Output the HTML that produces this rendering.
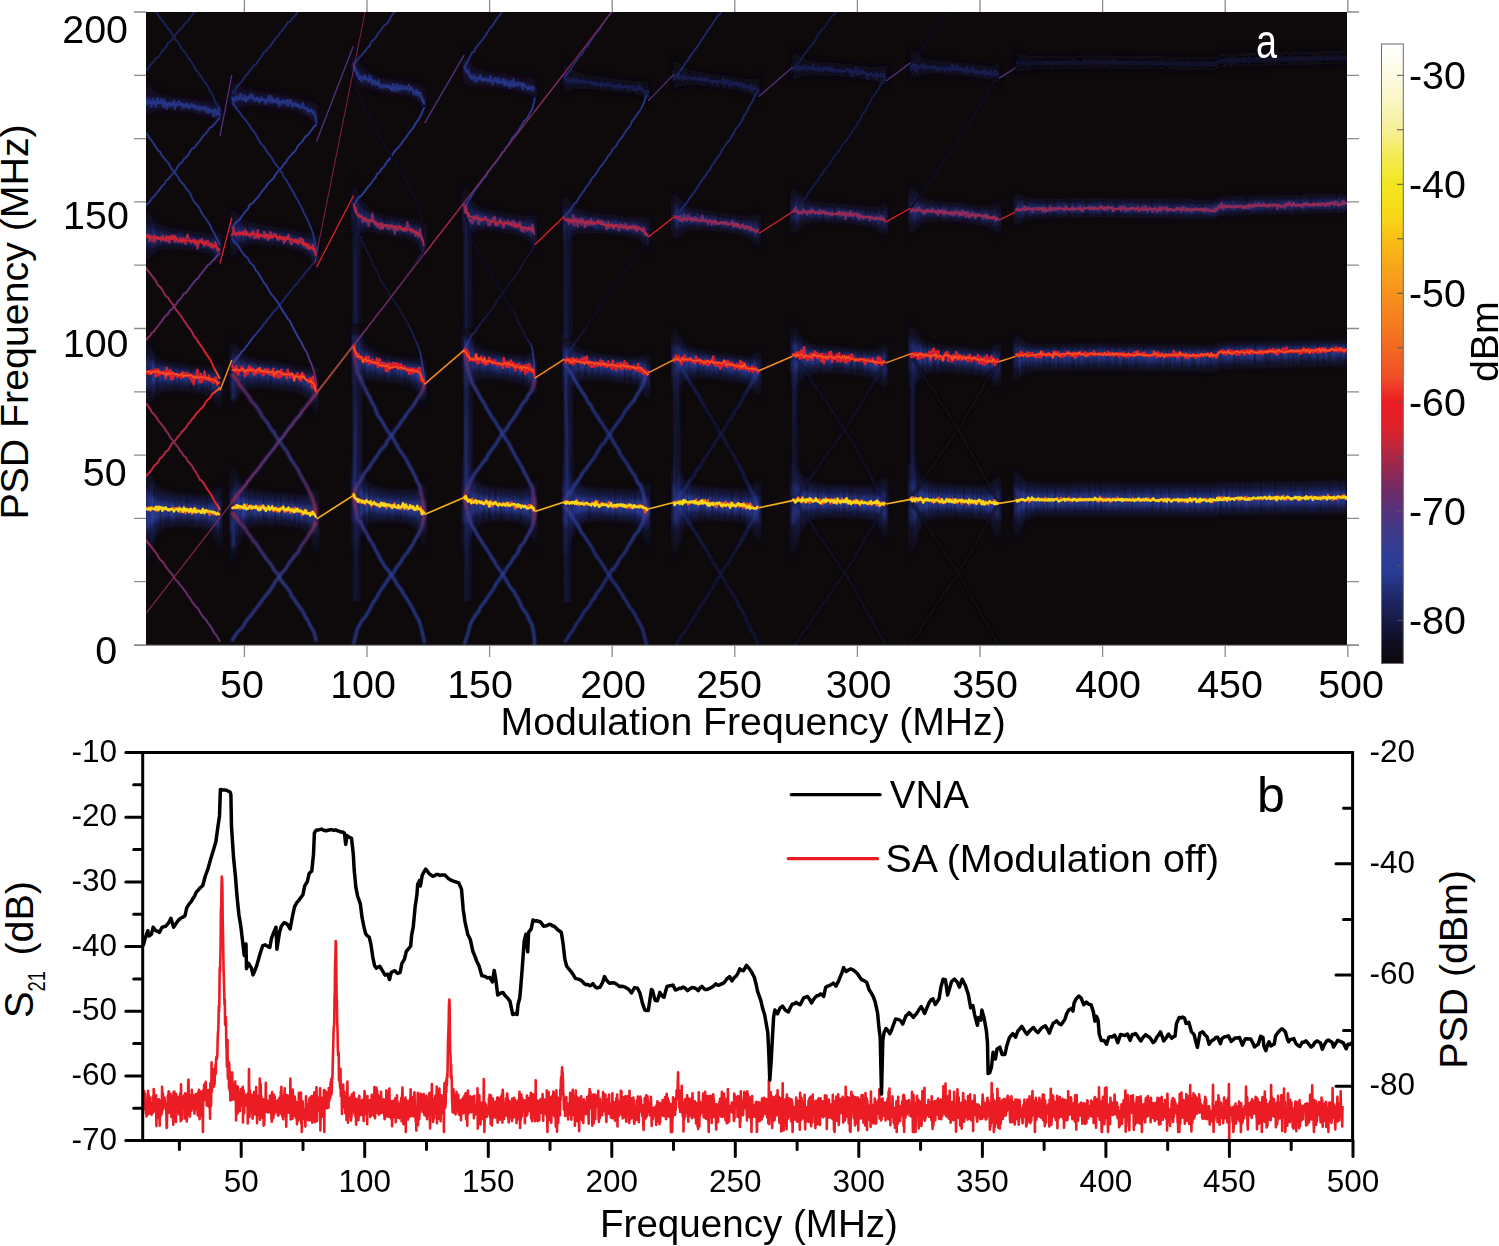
<!DOCTYPE html><html><head><meta charset="utf-8"><style>html,body{margin:0;padding:0;background:#fff;overflow:hidden}svg{display:block}text{font-family:"Liberation Sans", sans-serif}</style></head><body><svg width="1499" height="1246" viewBox="0 0 1499 1246"><defs><clipPath id="hc"><rect x="146" y="12" width="1201" height="633"/></clipPath><filter id="b05" x="-5%" y="-50%" width="110%" height="200%"><feGaussianBlur stdDeviation="0.4"/></filter><filter id="b1" x="-5%" y="-50%" width="110%" height="200%"><feGaussianBlur stdDeviation="0.8"/></filter><filter id="b15" x="-5%" y="-50%" width="110%" height="200%"><feGaussianBlur stdDeviation="1.4"/></filter><filter id="b2" x="-5%" y="-50%" width="110%" height="200%"><feGaussianBlur stdDeviation="2"/></filter><filter id="b3" x="-5%" y="-50%" width="110%" height="200%"><feGaussianBlur stdDeviation="3"/></filter><filter id="b4" x="-10%" y="-50%" width="120%" height="200%"><feGaussianBlur stdDeviation="4"/></filter><filter id="b6" x="-10%" y="-50%" width="120%" height="200%"><feGaussianBlur stdDeviation="6"/></filter><linearGradient id="cb" x1="0" y1="0" x2="0" y2="1"><stop offset="0.0000" stop-color="#ffffff"/><stop offset="0.0526" stop-color="#fdfbe1"/><stop offset="0.0877" stop-color="#faf7c8"/><stop offset="0.1404" stop-color="#f6f096"/><stop offset="0.1754" stop-color="#f4ec5a"/><stop offset="0.2281" stop-color="#f2e61e"/><stop offset="0.2807" stop-color="#f8d618"/><stop offset="0.3158" stop-color="#fabe16"/><stop offset="0.3596" stop-color="#f8a619"/><stop offset="0.4035" stop-color="#f7921e"/><stop offset="0.4474" stop-color="#f57e1e"/><stop offset="0.4912" stop-color="#f26822"/><stop offset="0.5351" stop-color="#f05028"/><stop offset="0.5789" stop-color="#ec1c24"/><stop offset="0.6140" stop-color="#e12028"/><stop offset="0.6491" stop-color="#be263c"/><stop offset="0.6842" stop-color="#962850"/><stop offset="0.7193" stop-color="#702c64"/><stop offset="0.7544" stop-color="#55327d"/><stop offset="0.7895" stop-color="#3e3a8c"/><stop offset="0.8246" stop-color="#2e3e96"/><stop offset="0.8509" stop-color="#2a3c96"/><stop offset="0.8860" stop-color="#202c70"/><stop offset="0.9298" stop-color="#161a46"/><stop offset="0.9649" stop-color="#100e22"/><stop offset="1.0000" stop-color="#0d080a"/></linearGradient><filter id="streak" x="0" y="0" width="100%" height="100%" filterUnits="userSpaceOnUse"><feTurbulence type="fractalNoise" baseFrequency="0.35 0.012" numOctaves="2" seed="3" result="t"/><feColorMatrix in="t" type="matrix" values="0 0 0 0 0  0 0 0 0 0  0 0 0 0 0  0 0 0 1.1 0.3" result="m"/><feComposite in="SourceGraphic" in2="m" operator="in"/></filter><linearGradient id="colg" x1="0" y1="0" x2="1" y2="0"><stop offset="0" stop-color="#253483"/><stop offset="1" stop-color="#1a2157" stop-opacity="0"/></linearGradient><linearGradient id="colg2" x1="0" y1="0" x2="1" y2="0"><stop offset="0" stop-color="#202c70"/><stop offset="1" stop-color="#161a46" stop-opacity="0"/></linearGradient></defs><rect x="146" y="12" width="1201" height="633" fill="#0e090b"/><g clip-path="url(#hc)"><g filter="url(#streak)"><polygon points="146,464.4 149,475 152,481.9 155,486.5 158,489.5 161,491.5 164,492.8 167,493.7 170,494.3 173,494.8 176,495.1 179,495.4 182,495.7 185,495.9 188,496.2 191,496.4 194,496.6 197,496.8 200,497 203,497.1 206,497 209,496.6 212,495.8 215,493.7 218,488.6 220,482 220,555 218,543.9 215,534.6 212,529.9 209,527.5 206,526.3 203,525.7 200,525.3 197,525 194,524.7 191,524.5 188,524.4 185,524.2 182,524.1 179,524.1 176,524.2 173,524.4 170,524.8 167,525.4 164,526.5 161,528.3 158,531 155,535.2 152,541.7 149,551.8 146,567.4" fill="#181e4e" filter="url(#b3)"/><polygon points="146,338.8 149,347.7 152,353.6 155,357.6 158,360.2 161,362 164,363.3 167,364.2 170,364.8 173,365.3 176,365.8 179,366.1 182,366.5 185,367 188,367.5 191,367.9 194,368.3 197,368.7 200,369.1 203,369.4 206,369.6 209,369.5 212,369.4 215,368.5 218,365 220,360 220,412 218,405.2 215,399.1 212,395.5 209,393.4 206,392.5 203,391.8 200,391.3 197,390.8 194,390.4 191,390 188,389.6 185,389.2 182,388.8 179,388.5 176,388.4 173,388.4 170,388.4 167,388.7 164,389.1 161,389.9 158,391.2 155,393.4 152,396.9 149,402.3 146,410.8" fill="#161a46" filter="url(#b3)"/><polygon points="146,208.7 149,215.9 152,220.7 155,223.9 158,226.1 161,227.6 164,228.7 167,229.5 170,230.1 173,230.5 176,230.9 179,231.3 182,231.7 185,232.2 188,232.7 191,233.2 194,233.7 197,234.1 200,234.6 203,234.9 206,235.2 209,235.3 212,235.5 215,235.2 218,232.8 220,229 220,268 218,262.3 215,257 212,253.8 209,251.8 206,250.9 203,250.3 200,249.7 197,249.2 194,248.7 191,248.3 188,247.8 185,247.4 182,247 179,246.6 176,246.5 173,246.4 170,246.4 167,246.5 164,246.7 161,247.3 158,248.3 155,250 152,252.7 149,257 146,263.7" fill="#14173d" filter="url(#b3)"/><polygon points="146,80 149,85.4 152,89.1 155,91.6 158,93.3 161,94.5 164,95.3 167,96 170,96.5 173,96.9 176,97.3 179,97.6 182,98 185,98.5 188,99 191,99.5 194,100 197,100.4 200,100.8 203,101.2 206,101.5 209,101.7 212,102.2 215,102.3 218,100.8 220,98.3 220,126.3 218,122.9 215,119.6 212,117.2 209,115.7 206,115 203,114.4 200,113.9 197,113.5 194,113 191,112.5 188,112.1 185,111.6 182,111.2 179,110.8 176,110.6 173,110.4 170,110.3 167,110.2 164,110.2 161,110.4 158,110.8 155,111.5 152,112.7 149,114.7 146,118" fill="#12112b" filter="url(#b3)"/><polygon points="146,488.4 149,493.4 152,496.7 155,498.9 158,500.3 161,501.3 164,502 167,502.5 170,502.9 173,503.1 176,503.4 179,503.5 182,503.8 185,504 188,504.2 191,504.4 194,504.7 197,504.9 200,505 203,505.2 206,505.3 209,505.2 212,505.1 215,504.5 218,502.5 220,499.6 220,533 218,527.8 215,523.3 212,520.9 209,519.5 206,518.9 203,518.5 200,518.2 197,517.9 194,517.7 191,517.5 188,517.3 185,517.1 182,517 179,516.8 176,516.8 173,516.9 170,517 167,517.2 164,517.6 161,518.3 158,519.5 155,521.3 152,524.1 149,528.5 146,535.4" fill="#2a3c96" filter="url(#b2)"/><polygon points="146,355.8 149,360.2 152,363.2 155,365.2 158,366.6 161,367.5 164,368.3 167,368.8 170,369.2 173,369.6 176,369.9 179,370.2 182,370.6 185,371.1 188,371.5 191,371.9 194,372.3 197,372.8 200,373.2 203,373.5 206,373.8 209,374 212,374.5 215,374.7 218,373.8 220,371.8 220,397.2 218,393.5 215,389.9 212,387.5 209,385.9 206,385.3 203,384.7 200,384.2 197,383.8 194,383.4 191,383 188,382.5 185,382.1 182,381.8 179,381.4 176,381.3 173,381.1 170,381 167,381 164,381.1 161,381.4 158,381.9 155,382.8 152,384.4 149,386.8 146,390.8" fill="#28388c" filter="url(#b2)"/><polygon points="146,224.7 149,227.7 152,229.8 155,231.2 158,232.3 161,233 164,233.6 167,234.1 170,234.5 173,234.8 176,235.1 179,235.4 182,235.8 185,236.3 188,236.8 191,237.2 194,237.7 197,238.2 200,238.6 203,239 206,239.4 209,239.7 212,240.5 215,241.2 218,241.1 220,240.2 220,257.8 218,255 215,252 212,249.8 209,248.3 206,247.7 203,247.2 200,246.7 197,246.2 194,245.7 191,245.3 188,244.8 185,244.4 182,243.9 179,243.5 176,243.3 173,243.1 170,243 167,242.9 164,242.8 161,242.9 158,243.1 155,243.7 152,244.6 149,246.2 146,248.7" fill="#202c70" filter="url(#b2)"/><polygon points="146,94 149,96 152,97.3 155,98.3 158,99.1 161,99.6 164,100.1 167,100.5 170,100.8 173,101.1 176,101.4 179,101.7 182,102.1 185,102.6 188,103 191,103.5 194,104 197,104.4 200,104.9 203,105.3 206,105.7 209,106.1 212,107 215,108 218,108.5 220,108.3 220,119.7 218,117.8 215,115.5 212,113.7 209,112.4 206,111.9 203,111.4 200,110.9 197,110.4 194,110 191,109.5 188,109.1 185,108.6 182,108.1 179,107.8 176,107.5 173,107.3 170,107.1 167,106.9 164,106.8 161,106.7 158,106.7 155,106.8 152,107.2 149,107.8 146,109" fill="#1a2157" filter="url(#b2)"/><polygon points="231.8,463.2 234.8,473.7 237.8,480.5 240.8,485 243.8,487.9 246.8,489.8 249.8,491.1 252.8,492.1 255.8,492.7 258.8,493.3 261.8,493.6 264.8,493.9 267.8,494.2 270.8,494.4 273.8,494.7 276.8,494.9 279.8,495.1 282.8,495.3 285.8,495.5 288.8,495.7 291.8,496 294.8,496.4 297.8,496.8 300.8,497 303.8,497.1 306.8,496.8 309.8,495.8 312.8,492.7 315.8,487.6 316.5,485.5 316.5,558.5 315.8,553.4 312.8,538.6 309.8,532.2 306.8,528.8 303.8,527 300.8,525.9 297.8,525.2 294.8,524.6 291.8,524.1 288.8,523.7 285.8,523.5 282.8,523.4 279.8,523.2 276.8,523 273.8,522.9 270.8,522.7 267.8,522.6 264.8,522.6 261.8,522.7 258.8,522.8 255.8,523.2 252.8,523.8 249.8,524.8 246.8,526.6 243.8,529.4 240.8,533.7 237.8,540.4 234.8,550.5 231.8,566.2" fill="#181e4e" filter="url(#b3)"/><polygon points="231.8,336.4 234.8,345.2 237.8,350.9 240.8,354.7 243.8,357.2 246.8,358.8 249.8,359.9 252.8,360.9 255.8,361.6 258.8,362.2 261.8,362.8 264.8,363.2 267.8,363.6 270.8,364 273.8,364.4 276.8,364.8 279.8,365.2 282.8,365.6 285.8,366 288.8,366.4 291.8,367.1 294.8,367.9 297.8,368.7 300.8,369.5 303.8,370 306.8,370.5 309.8,370.5 312.8,368.8 315.8,367.8 316.5,367 316.5,419 315.8,415 312.8,402.7 309.8,398.1 306.8,395.2 303.8,393.3 300.8,392.1 297.8,391 294.8,390.1 291.8,389.2 288.8,388.5 285.8,388.1 282.8,387.7 279.8,387.3 276.8,386.9 273.8,386.6 270.8,386.2 267.8,385.9 264.8,385.7 261.8,385.4 258.8,385.3 255.8,385.2 252.8,385.4 249.8,385.7 246.8,386.7 243.8,388.2 240.8,390.5 237.8,394.1 234.8,399.8 231.8,408.4" fill="#161a46" filter="url(#b3)"/><polygon points="231.8,205.4 234.8,212.4 237.8,217 240.8,220.1 243.8,222.1 246.8,223.4 249.8,224.3 252.8,225.2 255.8,225.9 258.8,226.5 261.8,227 264.8,227.4 267.8,227.9 270.8,228.3 273.8,228.7 276.8,229.2 279.8,229.6 282.8,230.1 285.8,230.5 288.8,230.9 291.8,231.6 294.8,232.6 297.8,233.5 300.8,234.3 303.8,235 306.8,235.8 309.8,236.2 312.8,235.3 315.8,236.2 316.5,236 316.5,275 315.8,271.4 312.8,259.8 309.8,255.7 306.8,252.9 303.8,251 300.8,249.8 297.8,248.7 294.8,247.7 291.8,246.7 288.8,245.9 285.8,245.5 282.8,245.1 279.8,244.7 276.8,244.2 273.8,243.8 270.8,243.4 267.8,243.1 264.8,242.8 261.8,242.5 258.8,242.3 255.8,242.2 252.8,242.1 249.8,242.3 246.8,243.1 243.8,244.3 240.8,246.1 237.8,249 234.8,253.5 231.8,260.4" fill="#14173d" filter="url(#b3)"/><polygon points="231.8,75.8 234.8,81.1 237.8,84.6 240.8,86.9 243.8,88.4 246.8,89.4 249.8,90.1 252.8,90.8 255.8,91.4 258.8,92 261.8,92.5 264.8,92.9 267.8,93.3 270.8,93.7 273.8,94.2 276.8,94.6 279.8,95 282.8,95.5 285.8,95.9 288.8,96.3 291.8,97.1 294.8,98 297.8,98.9 300.8,99.8 303.8,100.6 306.8,101.5 309.8,102.2 312.8,101.9 315.8,104.2 316.5,104.5 316.5,132.5 315.8,129.7 312.8,120.8 309.8,118 306.8,115.8 303.8,114.2 300.8,113.1 297.8,112.1 294.8,111.1 291.8,110.1 288.8,109.3 285.8,108.9 282.8,108.5 279.8,108.1 276.8,107.6 273.8,107.2 270.8,106.8 267.8,106.4 264.8,106.1 261.8,105.8 258.8,105.5 255.8,105.3 252.8,105.1 249.8,105 246.8,105.3 243.8,105.9 240.8,106.8 237.8,108.2 234.8,110.4 231.8,113.8" fill="#12112b" filter="url(#b3)"/><polygon points="231.8,487.2 234.8,492.1 237.8,495.3 240.8,497.4 243.8,498.8 246.8,499.7 249.8,500.3 252.8,500.9 255.8,501.3 258.8,501.6 261.8,501.9 264.8,502.1 267.8,502.3 270.8,502.5 273.8,502.7 276.8,502.9 279.8,503.1 282.8,503.3 285.8,503.5 288.8,503.7 291.8,504 294.8,504.5 297.8,504.9 300.8,505.2 303.8,505.5 306.8,505.7 309.8,505.6 312.8,504.5 315.8,503.7 316.5,503.1 316.5,536.5 315.8,533.8 312.8,525.6 309.8,522.4 306.8,520.5 303.8,519.3 300.8,518.6 297.8,518.1 294.8,517.6 291.8,517.1 288.8,516.7 285.8,516.5 282.8,516.3 279.8,516.2 276.8,516 273.8,515.8 270.8,515.6 267.8,515.5 264.8,515.4 261.8,515.3 258.8,515.3 255.8,515.4 252.8,515.5 249.8,515.9 246.8,516.7 243.8,517.9 240.8,519.8 237.8,522.8 234.8,527.3 231.8,534.2" fill="#2a3c96" filter="url(#b2)"/><polygon points="231.8,353.4 234.8,357.6 237.8,360.4 240.8,362.3 243.8,363.5 246.8,364.3 249.8,364.9 252.8,365.5 255.8,366 258.8,366.5 261.8,366.9 264.8,367.3 267.8,367.7 270.8,368.1 273.8,368.5 276.8,368.9 279.8,369.3 282.8,369.7 285.8,370 288.8,370.4 291.8,371.1 294.8,372 297.8,372.8 300.8,373.6 303.8,374.3 306.8,375.2 309.8,375.9 312.8,375.9 315.8,378.4 316.5,378.8 316.5,404.2 315.8,401.5 312.8,392.6 309.8,389.6 306.8,387.5 303.8,385.9 300.8,384.9 297.8,384 294.8,383 291.8,382.1 288.8,381.5 285.8,381.1 282.8,380.7 279.8,380.3 276.8,379.9 273.8,379.5 270.8,379.1 267.8,378.8 264.8,378.5 261.8,378.3 258.8,378 255.8,377.8 252.8,377.7 249.8,377.7 246.8,378.1 243.8,378.8 240.8,379.9 237.8,381.6 234.8,384.3 231.8,388.4" fill="#28388c" filter="url(#b2)"/><polygon points="231.8,221.4 234.8,224.2 237.8,226.1 240.8,227.4 243.8,228.2 246.8,228.8 249.8,229.2 252.8,229.8 255.8,230.3 258.8,230.7 261.8,231.1 264.8,231.5 267.8,231.9 270.8,232.3 273.8,232.8 276.8,233.2 279.8,233.6 282.8,234.1 285.8,234.5 288.8,234.9 291.8,235.7 294.8,236.6 297.8,237.6 300.8,238.5 303.8,239.3 306.8,240.5 309.8,241.5 312.8,242.1 315.8,246.3 316.5,247.2 316.5,264.8 315.8,262.3 312.8,253.9 309.8,251.3 306.8,249.3 303.8,247.7 300.8,246.7 297.8,245.7 294.8,244.7 291.8,243.7 288.8,242.9 285.8,242.5 282.8,242.1 279.8,241.6 276.8,241.2 273.8,240.8 270.8,240.4 267.8,240 264.8,239.7 261.8,239.4 258.8,239 255.8,238.8 252.8,238.6 249.8,238.4 246.8,238.7 243.8,239.1 240.8,239.8 237.8,240.9 234.8,242.7 231.8,245.4" fill="#202c70" filter="url(#b2)"/><polygon points="231.8,89.8 234.8,91.6 237.8,92.8 240.8,93.6 243.8,94.2 246.8,94.6 249.8,94.8 252.8,95.3 255.8,95.8 258.8,96.2 261.8,96.6 264.8,97 267.8,97.4 270.8,97.7 273.8,98.2 276.8,98.6 279.8,99 282.8,99.5 285.8,99.9 288.8,100.3 291.8,101.1 294.8,102 297.8,103 300.8,103.9 303.8,104.8 306.8,106 309.8,107.3 312.8,108.2 315.8,113.2 316.5,114.5 316.5,125.9 315.8,123.7 312.8,116.4 309.8,114.3 306.8,112.5 303.8,111.1 300.8,110 297.8,109.1 294.8,108.1 291.8,107.1 288.8,106.3 285.8,105.9 282.8,105.5 279.8,105.1 276.8,104.6 273.8,104.2 270.8,103.8 267.8,103.4 264.8,103.1 261.8,102.7 258.8,102.4 255.8,102.1 252.8,101.8 249.8,101.5 246.8,101.6 243.8,101.8 240.8,102.1 237.8,102.6 234.8,103.5 231.8,104.8" fill="#1a2157" filter="url(#b2)"/><polygon points="353.4,451.4 356.4,465.8 359.4,474.3 362.4,479.3 365.4,482.8 368.4,485.2 371.4,487 374.4,488.4 377.4,489.4 380.4,490.3 383.4,490.7 386.4,491.1 389.4,491.4 392.4,491.7 395.4,491.9 398.4,492.1 401.4,492.3 404.4,492.5 407.4,492.6 410.4,492.6 413.4,492.6 416.4,492 419.4,490 422.4,487.2 424.6,482 424.6,555 422.4,541.2 419.4,530.2 416.4,525.8 413.4,523.3 410.4,521.9 407.4,521.2 404.4,520.8 401.4,520.5 398.4,520.3 395.4,520.1 392.4,519.9 389.4,519.8 386.4,519.8 383.4,519.8 380.4,519.9 377.4,519.9 374.4,520.1 371.4,520.7 368.4,522 365.4,524.3 362.4,528.1 359.4,534.2 356.4,542.7 353.4,554.4" fill="#181e4e" filter="url(#b3)"/><polygon points="353.4,312.8 356.4,329.5 359.4,338.5 362.4,343.3 365.4,346.9 368.4,349.6 371.4,351.7 374.4,353.5 377.4,355 380.4,356.3 383.4,356.9 386.4,357.5 389.4,358 392.4,358.4 395.4,358.9 398.4,359.3 401.4,359.8 404.4,360.1 407.4,360.4 410.4,360.7 413.4,361.4 416.4,361.6 419.4,360.7 422.4,361.6 424.6,360 424.6,412 422.4,400.9 419.4,390.8 416.4,387.5 413.4,385.3 410.4,383.6 407.4,382.8 404.4,382.3 401.4,381.8 398.4,381.4 395.4,381 392.4,380.6 389.4,380.3 386.4,379.9 383.4,379.6 380.4,379.4 377.4,378.6 374.4,378 371.4,377.5 368.4,377.4 365.4,377.9 362.4,379.2 359.4,381.8 356.4,384 353.4,384.8" fill="#161a46" filter="url(#b3)"/><polygon points="353.4,176 356.4,191.7 359.4,200 362.4,204.2 365.4,207.3 368.4,209.8 371.4,211.9 374.4,213.6 377.4,215.2 380.4,216.5 383.4,217.1 386.4,217.7 389.4,218.2 392.4,218.7 395.4,219.2 398.4,219.7 401.4,220.2 404.4,220.6 407.4,221 410.4,221.4 413.4,222.3 416.4,222.8 419.4,222.4 422.4,224.7 424.6,224.9 424.6,263.9 422.4,253.6 419.4,243.9 416.4,240.9 413.4,238.7 410.4,237 407.4,236.3 404.4,235.7 401.4,235.2 398.4,234.8 395.4,234.3 392.4,233.9 389.4,233.5 386.4,233.1 383.4,232.7 380.4,232.4 377.4,231.5 374.4,230.6 371.4,229.9 368.4,229.5 365.4,229.5 362.4,230.2 359.4,232 356.4,232.8 353.4,231" fill="#14173d" filter="url(#b3)"/><polygon points="353.4,42.2 356.4,56.1 359.4,63.3 362.4,66.7 365.4,69.4 368.4,71.5 371.4,73.4 374.4,75 377.4,76.5 380.4,77.8 383.4,78.4 386.4,78.9 389.4,79.4 392.4,79.9 395.4,80.4 398.4,80.9 401.4,81.3 404.4,81.8 407.4,82.1 410.4,82.6 413.4,83.6 416.4,84.3 419.4,84.4 422.4,87.6 424.6,89.1 424.6,117.1 422.4,109.3 419.4,101.4 416.4,99.3 413.4,97.5 410.4,96 407.4,95.4 404.4,94.8 401.4,94.4 398.4,93.9 395.4,93.4 392.4,93 389.4,92.6 386.4,92.1 383.4,91.7 380.4,91.3 377.4,90.3 374.4,89.3 371.4,88.3 368.4,87.5 365.4,86.9 362.4,86.6 359.4,86.9 356.4,85.4 353.4,80.2" fill="#12112b" filter="url(#b3)"/><polygon points="353.4,475.4 356.4,484.3 359.4,489.1 362.4,491.8 365.4,493.7 368.4,495.1 371.4,496.2 374.4,497.2 377.4,498 380.4,498.6 383.4,498.9 386.4,499.2 389.4,499.5 392.4,499.7 395.4,499.9 398.4,500.2 401.4,500.4 404.4,500.6 407.4,500.7 410.4,500.8 413.4,501.2 416.4,501.2 419.4,500.6 422.4,500.8 424.6,499.6 424.6,533 422.4,525.5 419.4,519.2 416.4,516.8 413.4,515.4 410.4,514.4 407.4,514 404.4,513.7 401.4,513.4 398.4,513.2 395.4,513 392.4,512.8 389.4,512.7 386.4,512.5 383.4,512.4 380.4,512.4 377.4,512.1 374.4,511.9 371.4,511.8 368.4,512.1 365.4,512.8 362.4,514.2 359.4,516.6 356.4,519.4 353.4,522.4" fill="#2a3c96" filter="url(#b2)"/><polygon points="353.4,329.8 356.4,341.9 359.4,348.1 362.4,350.9 365.4,353.2 368.4,355.1 371.4,356.7 374.4,358.1 377.4,359.4 380.4,360.6 383.4,361.1 386.4,361.6 389.4,362 392.4,362.5 395.4,362.9 398.4,363.4 401.4,363.8 404.4,364.2 407.4,364.5 410.4,365 413.4,365.9 416.4,366.6 419.4,366.8 422.4,370.1 424.6,371.8 424.6,397.2 422.4,389.4 419.4,381.7 416.4,379.5 413.4,377.8 410.4,376.4 407.4,375.7 404.4,375.3 401.4,374.8 398.4,374.4 395.4,374 392.4,373.6 389.4,373.2 386.4,372.8 383.4,372.4 380.4,372.1 377.4,371.2 374.4,370.3 371.4,369.5 368.4,368.9 365.4,368.5 362.4,368.6 359.4,369.2 356.4,368.6 353.4,364.8" fill="#28388c" filter="url(#b2)"/><polygon points="353.4,192 356.4,203.5 359.4,209.1 362.4,211.5 365.4,213.5 368.4,215.2 371.4,216.8 374.4,218.2 377.4,219.6 380.4,220.8 383.4,221.3 386.4,221.8 389.4,222.3 392.4,222.8 395.4,223.3 398.4,223.7 401.4,224.2 404.4,224.6 407.4,225.1 410.4,225.6 413.4,226.7 416.4,227.7 419.4,228.3 422.4,232.9 424.6,236.1 424.6,253.7 422.4,246.4 419.4,239 416.4,237 413.4,235.3 410.4,233.8 407.4,233.2 404.4,232.7 401.4,232.2 398.4,231.7 395.4,231.3 392.4,230.8 389.4,230.4 386.4,230 383.4,229.5 380.4,229.1 377.4,228.1 374.4,227 371.4,226 368.4,225.1 365.4,224.4 362.4,223.9 359.4,223.9 356.4,222 353.4,216" fill="#202c70" filter="url(#b2)"/><polygon points="353.4,56.2 356.4,66.6 359.4,71.5 362.4,73.5 365.4,75.2 368.4,76.7 371.4,78.2 374.4,79.5 377.4,80.8 380.4,82 383.4,82.5 386.4,83 389.4,83.5 392.4,83.9 395.4,84.4 398.4,84.9 401.4,85.3 404.4,85.8 407.4,86.2 410.4,86.8 413.4,88 416.4,89.1 419.4,90 422.4,95.1 424.6,99.1 424.6,110.5 422.4,104.2 419.4,97.5 416.4,95.8 413.4,94.3 410.4,92.9 407.4,92.3 404.4,91.8 401.4,91.4 398.4,90.9 395.4,90.4 392.4,90 389.4,89.5 386.4,89.1 383.4,88.6 380.4,88.2 377.4,87.1 374.4,86 371.4,84.8 368.4,83.8 365.4,82.8 362.4,82 359.4,81.3 356.4,78.5 353.4,71.2" fill="#1a2157" filter="url(#b2)"/><polygon points="464.1,453.5 467.1,466 470.1,474.8 473.1,479.9 476.1,483 479.1,485.1 482.1,486.6 485.1,487.6 488.1,488.3 491.1,488.9 494.1,489.3 497.1,489.7 500.1,490 503.1,490.3 506.1,490.6 509.1,490.8 512.1,491 515.1,491.2 518.1,491.4 521.1,491.5 524.1,491.1 527.1,490.1 530.1,487.5 533.1,481.6 534.8,479.9 534.8,552.9 533.1,539 530.1,529.4 527.1,524.6 524.1,522.2 521.1,520.9 518.1,520.1 515.1,519.6 512.1,519.2 509.1,518.9 506.1,518.8 503.1,518.6 500.1,518.5 497.1,518.4 494.1,518.4 491.1,518.5 488.1,518.8 485.1,519.3 482.1,520.3 479.1,521.9 476.1,524.5 473.1,528.6 470.1,534.6 467.1,542.8 464.1,556.5" fill="#181e4e" filter="url(#b3)"/><polygon points="464.1,317 467.1,329.7 470.1,339.5 473.1,344.4 476.1,347.3 479.1,349.3 482.1,350.8 485.1,351.9 488.1,352.8 491.1,353.5 494.1,354.1 497.1,354.7 500.1,355.2 503.1,355.7 506.1,356.2 509.1,356.7 512.1,357.1 515.1,357.6 518.1,358.2 521.1,358.6 524.1,358.7 527.1,358.2 530.1,356.4 533.1,351.9 534.8,355.8 534.8,407.8 533.1,393.5 530.1,387.7 527.1,384.6 524.1,382.8 521.1,381.6 518.1,380.6 515.1,379.9 512.1,379.2 509.1,378.8 506.1,378.4 503.1,377.9 500.1,377.5 497.1,377.2 494.1,376.8 491.1,376.6 488.1,376.4 485.1,376.4 482.1,376.6 479.1,377.2 476.1,378.3 473.1,380.3 470.1,382.7 467.1,384.3 464.1,389" fill="#161a46" filter="url(#b3)"/><polygon points="464.1,179.8 467.1,191.2 470.1,200.2 473.1,204.5 476.1,207 479.1,208.7 482.1,210 485.1,211.1 488.1,211.9 491.1,212.6 494.1,213.3 497.1,213.8 500.1,214.4 503.1,214.9 506.1,215.5 509.1,216 512.1,216.5 515.1,217 518.1,217.7 521.1,218.2 524.1,218.5 527.1,218.3 530.1,217 533.1,213.6 534.8,219.5 534.8,258.5 533.1,244.3 530.1,239.5 527.1,236.8 524.1,235.1 521.1,234 518.1,233 515.1,232.2 512.1,231.5 509.1,231 506.1,230.6 503.1,230.1 500.1,229.6 497.1,229.2 494.1,228.8 491.1,228.5 488.1,228.2 485.1,228 482.1,228.1 479.1,228.4 476.1,229.2 473.1,230.6 470.1,232.1 467.1,232.3 464.1,234.8" fill="#14173d" filter="url(#b3)"/><polygon points="464.1,44.9 467.1,54.6 470.1,62.4 473.1,66 476.1,68 479.1,69.4 482.1,70.5 485.1,71.4 488.1,72.2 491.1,72.8 494.1,73.4 497.1,74 500.1,74.5 503.1,75.1 506.1,75.6 509.1,76.1 512.1,76.6 515.1,77.2 518.1,77.8 521.1,78.4 524.1,78.8 527.1,78.8 530.1,78.1 533.1,75.7 534.8,82.6 534.8,110.6 533.1,98.5 530.1,95.7 527.1,94 524.1,92.8 521.1,91.9 518.1,91.1 515.1,90.3 512.1,89.6 509.1,89.1 506.1,88.6 503.1,88.2 500.1,87.7 497.1,87.2 494.1,86.8 491.1,86.4 488.1,86 485.1,85.7 482.1,85.4 479.1,85.3 476.1,85.5 473.1,85.9 470.1,86 467.1,83.9 464.1,82.9" fill="#12112b" filter="url(#b3)"/><polygon points="464.1,477.5 467.1,484.4 470.1,489.6 473.1,492.3 476.1,493.9 479.1,495 482.1,495.8 485.1,496.4 488.1,496.8 491.1,497.2 494.1,497.6 497.1,497.8 500.1,498.1 503.1,498.4 506.1,498.6 509.1,498.8 512.1,499.1 515.1,499.3 518.1,499.6 521.1,499.8 524.1,499.8 527.1,499.5 530.1,498.4 533.1,495.9 534.8,497.5 534.8,530.9 533.1,522.2 530.1,517.7 527.1,515.4 524.1,514.2 521.1,513.4 518.1,512.9 515.1,512.5 512.1,512.1 509.1,511.9 506.1,511.7 503.1,511.5 500.1,511.3 497.1,511.2 494.1,511 491.1,510.9 488.1,510.9 485.1,511.1 482.1,511.4 479.1,512 476.1,513 473.1,514.7 470.1,517 467.1,519.5 464.1,524.5" fill="#2a3c96" filter="url(#b2)"/><polygon points="464.1,334 467.1,342.2 470.1,349 473.1,352 476.1,353.6 479.1,354.8 482.1,355.8 485.1,356.5 488.1,357.2 491.1,357.8 494.1,358.3 497.1,358.8 500.1,359.3 503.1,359.8 506.1,360.3 509.1,360.7 512.1,361.2 515.1,361.7 518.1,362.3 521.1,362.8 524.1,363.2 527.1,363.3 530.1,362.8 533.1,361 534.8,367.6 534.8,393 533.1,381.4 530.1,378.3 527.1,376.4 524.1,375.2 521.1,374.3 518.1,373.5 515.1,372.8 512.1,372.2 509.1,371.8 506.1,371.3 503.1,370.9 500.1,370.5 497.1,370 494.1,369.7 491.1,369.3 488.1,369 485.1,368.7 482.1,368.6 479.1,368.7 476.1,369 473.1,369.7 470.1,370.2 467.1,368.8 464.1,369" fill="#28388c" filter="url(#b2)"/><polygon points="464.1,195.8 467.1,203 470.1,209.3 473.1,211.9 476.1,213.1 479.1,214.1 482.1,214.9 485.1,215.7 488.1,216.3 491.1,216.9 494.1,217.4 497.1,218 500.1,218.5 503.1,219 506.1,219.5 509.1,220 512.1,220.5 515.1,221.1 518.1,221.8 521.1,222.4 524.1,223 527.1,223.3 530.1,223.3 533.1,222.3 534.8,230.7 534.8,248.3 533.1,236.6 530.1,234.2 527.1,232.7 524.1,231.6 521.1,230.7 518.1,229.9 515.1,229.2 512.1,228.5 509.1,228 506.1,227.5 503.1,227 500.1,226.6 497.1,226.1 494.1,225.6 491.1,225.2 488.1,224.8 485.1,224.4 482.1,224.2 479.1,224 476.1,224 473.1,224.3 470.1,224.1 467.1,221.4 464.1,219.8" fill="#202c70" filter="url(#b2)"/><polygon points="464.1,58.9 467.1,65.1 470.1,70.6 473.1,72.8 476.1,73.8 479.1,74.6 482.1,75.3 485.1,75.9 488.1,76.5 491.1,77 494.1,77.6 497.1,78.1 500.1,78.6 503.1,79.1 506.1,79.6 509.1,80.1 512.1,80.6 515.1,81.2 518.1,81.9 521.1,82.6 524.1,83.2 527.1,83.7 530.1,83.9 533.1,83.6 534.8,92.6 534.8,104 533.1,93.2 530.1,91.6 527.1,90.5 524.1,89.6 521.1,88.8 518.1,88 515.1,87.2 512.1,86.6 509.1,86.1 506.1,85.6 503.1,85.1 500.1,84.7 497.1,84.2 494.1,83.7 491.1,83.2 488.1,82.8 485.1,82.4 482.1,82 479.1,81.6 476.1,81.4 473.1,81.3 470.1,80.5 467.1,76.9 464.1,73.9" fill="#1a2157" filter="url(#b2)"/><polygon points="564.2,458.6 567.2,469.2 570.2,476.2 573.2,480.8 576.2,483.9 579.2,485.9 582.2,487.3 585.2,488.3 588.2,488.9 591.2,489.4 594.2,489.8 597.2,490.1 600.2,490.4 603.2,490.6 606.2,490.8 609.2,491 612.2,491.2 615.2,491.4 618.2,491.5 621.2,491.7 624.2,491.8 627.2,491.9 630.2,492 633.2,491.9 636.2,491.6 639.2,490.8 642.2,489.1 645.2,486 648.2,478 648.2,551 645.2,535.3 642.2,527.1 639.2,523.5 636.2,521.9 633.2,521 630.2,520.5 627.2,520.2 624.2,519.9 621.2,519.7 618.2,519.6 615.2,519.4 612.2,519.3 609.2,519.1 606.2,519 603.2,518.9 600.2,518.8 597.2,518.8 594.2,518.9 591.2,519 588.2,519.4 585.2,520 582.2,521 579.2,522.7 576.2,525.4 573.2,529.5 570.2,536 567.2,546.1 564.2,561.6" fill="#181e4e" filter="url(#b3)"/><polygon points="564.2,327.2 567.2,336.2 570.2,342.2 573.2,346.3 576.2,349 579.2,350.9 582.2,352.3 585.2,353.2 588.2,354 591.2,354.6 594.2,355.1 597.2,355.6 600.2,356 603.2,356.4 606.2,356.7 609.2,357.1 612.2,357.4 615.2,357.7 618.2,358.1 621.2,358.4 624.2,358.7 627.2,359 630.2,359.2 633.2,359.3 636.2,359.3 639.2,358.8 642.2,357.8 645.2,357 648.2,352 648.2,404 645.2,393.2 642.2,386.5 639.2,383.9 636.2,382.8 633.2,382 630.2,381.5 627.2,381.1 624.2,380.8 621.2,380.4 618.2,380.1 615.2,379.8 612.2,379.4 609.2,379.1 606.2,378.8 603.2,378.5 600.2,378.3 597.2,378 594.2,377.8 591.2,377.7 588.2,377.6 585.2,377.7 582.2,378.1 579.2,378.8 576.2,380 573.2,382.1 570.2,385.5 567.2,390.8 564.2,399.2" fill="#161a46" filter="url(#b3)"/><polygon points="564.2,191.7 567.2,199.1 570.2,204 573.2,207.3 576.2,209.6 579.2,211.2 582.2,212.4 585.2,213.2 588.2,214 591.2,214.5 594.2,215 597.2,215.5 600.2,215.9 603.2,216.3 606.2,216.7 609.2,217.1 612.2,217.4 615.2,217.8 618.2,218.2 621.2,218.5 624.2,218.9 627.2,219.2 630.2,219.5 633.2,219.7 636.2,219.7 639.2,219.4 642.2,218.9 645.2,219.1 648.2,216 648.2,255 645.2,245.5 642.2,239.3 639.2,236.9 636.2,235.9 633.2,235.2 630.2,234.7 627.2,234.3 624.2,233.9 621.2,233.5 618.2,233.2 615.2,232.8 612.2,232.5 609.2,232.1 606.2,231.8 603.2,231.5 600.2,231.2 597.2,230.9 594.2,230.6 591.2,230.4 588.2,230.3 585.2,230.2 582.2,230.4 579.2,230.9 576.2,231.8 573.2,233.3 570.2,235.9 567.2,240.1 564.2,246.7" fill="#14173d" filter="url(#b3)"/><polygon points="564.2,57.7 567.2,63.3 570.2,67.1 573.2,69.7 576.2,71.5 579.2,72.8 582.2,73.7 585.2,74.5 588.2,75.1 591.2,75.7 594.2,76.1 597.2,76.5 600.2,77 603.2,77.3 606.2,77.7 609.2,78.1 612.2,78.5 615.2,78.8 618.2,79.2 621.2,79.5 624.2,79.9 627.2,80.2 630.2,80.5 633.2,80.8 636.2,80.9 639.2,80.7 642.2,80.6 645.2,81.6 648.2,80 648.2,108 645.2,101.6 642.2,96.9 639.2,95.3 636.2,94.6 633.2,94.1 630.2,93.7 627.2,93.3 624.2,92.9 621.2,92.5 618.2,92.2 615.2,91.8 612.2,91.5 609.2,91.1 606.2,90.8 603.2,90.4 600.2,90.1 597.2,89.8 594.2,89.5 591.2,89.2 588.2,88.9 585.2,88.7 582.2,88.7 579.2,88.7 576.2,89 573.2,89.6 570.2,90.7 567.2,92.6 564.2,95.7" fill="#0f0c1c" filter="url(#b3)"/><polygon points="564.2,482.6 567.2,487.6 570.2,491 573.2,493.2 576.2,494.7 579.2,495.8 582.2,496.5 585.2,497 588.2,497.5 591.2,497.8 594.2,498 597.2,498.3 600.2,498.5 603.2,498.7 606.2,498.9 609.2,499 612.2,499.2 615.2,499.4 618.2,499.5 621.2,499.7 624.2,499.8 627.2,500 630.2,500.1 633.2,500.1 636.2,500.1 639.2,499.8 642.2,499.2 645.2,498.6 648.2,495.6 648.2,529 645.2,521.2 642.2,516.8 639.2,514.9 636.2,514.1 633.2,513.6 630.2,513.3 627.2,513.1 624.2,512.9 621.2,512.7 618.2,512.5 615.2,512.4 612.2,512.2 609.2,512.1 606.2,511.9 603.2,511.8 600.2,511.7 597.2,511.6 594.2,511.5 591.2,511.5 588.2,511.6 585.2,511.7 582.2,512.1 579.2,512.8 576.2,513.9 573.2,515.6 570.2,518.4 567.2,522.8 564.2,529.6" fill="#2a3c96" filter="url(#b2)"/><polygon points="564.2,344.2 567.2,348.7 570.2,351.8 573.2,353.9 576.2,355.3 579.2,356.4 582.2,357.2 585.2,357.9 588.2,358.4 591.2,358.9 594.2,359.3 597.2,359.7 600.2,360.1 603.2,360.4 606.2,360.7 609.2,361.1 612.2,361.4 615.2,361.7 618.2,362.1 621.2,362.4 624.2,362.7 627.2,363 630.2,363.3 633.2,363.5 636.2,363.7 639.2,363.6 642.2,363.6 645.2,364.7 648.2,363.8 648.2,389.2 645.2,382.5 642.2,377.8 639.2,376.1 636.2,375.4 633.2,374.9 630.2,374.4 627.2,374.1 624.2,373.7 621.2,373.4 618.2,373.1 615.2,372.8 612.2,372.4 609.2,372.1 606.2,371.8 603.2,371.5 600.2,371.2 597.2,370.9 594.2,370.6 591.2,370.4 588.2,370.2 585.2,370.1 582.2,370.1 579.2,370.2 576.2,370.7 573.2,371.5 570.2,372.9 567.2,375.3 564.2,379.2" fill="#28388c" filter="url(#b2)"/><polygon points="564.2,207.7 567.2,210.9 570.2,213 573.2,214.6 576.2,215.7 579.2,216.6 582.2,217.3 585.2,217.8 588.2,218.3 591.2,218.8 594.2,219.2 597.2,219.6 600.2,220 603.2,220.4 606.2,220.7 609.2,221.1 612.2,221.5 615.2,221.8 618.2,222.2 621.2,222.5 624.2,222.9 627.2,223.2 630.2,223.6 633.2,223.8 636.2,224.1 639.2,224.2 642.2,224.5 645.2,226.5 648.2,227.2 648.2,244.8 645.2,239.1 642.2,234.7 639.2,233.2 636.2,232.6 633.2,232.1 630.2,231.7 627.2,231.3 624.2,230.9 621.2,230.5 618.2,230.2 615.2,229.8 612.2,229.5 609.2,229.1 606.2,228.8 603.2,228.4 600.2,228.1 597.2,227.8 594.2,227.4 591.2,227.1 588.2,226.9 585.2,226.6 582.2,226.5 579.2,226.5 576.2,226.6 573.2,227 570.2,227.8 567.2,229.3 564.2,231.7" fill="#202c70" filter="url(#b2)"/><polygon points="564.2,71.7 567.2,73.8 570.2,75.3 573.2,76.4 576.2,77.3 579.2,77.9 582.2,78.5 585.2,79 588.2,79.4 591.2,79.9 594.2,80.3 597.2,80.6 600.2,81 603.2,81.4 606.2,81.7 609.2,82.1 612.2,82.5 615.2,82.8 618.2,83.2 621.2,83.5 624.2,83.9 627.2,84.2 630.2,84.6 633.2,84.9 636.2,85.2 639.2,85.4 642.2,85.9 645.2,88.4 648.2,90 648.2,101.4 645.2,96.9 642.2,93.1 639.2,91.9 636.2,91.4 633.2,91 630.2,90.6 627.2,90.3 624.2,89.9 621.2,89.5 618.2,89.2 615.2,88.8 612.2,88.5 609.2,88.1 606.2,87.8 603.2,87.4 600.2,87.1 597.2,86.7 594.2,86.4 591.2,86.1 588.2,85.7 585.2,85.4 582.2,85.2 579.2,85 576.2,84.9 573.2,84.9 570.2,85.1 567.2,85.7 564.2,86.7" fill="#131434" filter="url(#b2)"/><polygon points="673.6,457.7 676.6,468.3 679.6,475.3 682.6,479.8 685.6,482.9 688.6,484.9 691.6,486.3 694.6,487.2 697.6,487.9 700.6,488.4 703.6,488.8 706.6,489.1 709.6,489.4 712.6,489.7 715.6,489.9 718.6,490.1 721.6,490.3 724.6,490.5 727.6,490.7 730.6,490.9 733.6,491.1 736.6,491.2 739.6,491.3 742.6,491.5 745.6,491.6 748.6,491.2 751.6,490 754.6,487.1 757.6,480.4 758.8,475.9 758.8,548.9 757.6,541.7 754.6,530.8 751.6,525.4 748.6,522.7 745.6,521.2 742.6,520.3 739.6,519.7 736.6,519.4 733.6,519.1 730.6,518.9 727.6,518.7 724.6,518.6 721.6,518.4 718.6,518.2 715.6,518.1 712.6,518 709.6,517.9 706.6,517.8 703.6,517.8 700.6,518 697.6,518.3 694.6,519 691.6,520 688.6,521.7 685.6,524.4 682.6,528.6 679.6,535.1 676.6,545.2 673.6,560.7" fill="#181e4e" filter="url(#b3)"/><polygon points="673.6,325.4 676.6,334.4 679.6,340.4 682.6,344.4 685.6,347.1 688.6,348.9 691.6,350.3 694.6,351.2 697.6,352 700.6,352.5 703.6,353.1 706.6,353.6 709.6,354.1 712.6,354.5 715.6,354.9 718.6,355.3 721.6,355.7 724.6,356.1 727.6,356.4 730.6,356.8 733.6,357.2 736.6,357.5 739.6,357.8 742.6,358.4 745.6,358.9 748.6,359 751.6,358.5 754.6,356.5 757.6,351.4 758.8,347.8 758.8,399.8 757.6,395.6 754.6,389 751.6,385.4 748.6,383.4 745.6,382 742.6,380.9 739.6,380.1 736.6,379.6 733.6,379.2 730.6,378.8 727.6,378.5 724.6,378.1 721.6,377.7 718.6,377.4 715.6,377 712.6,376.7 709.6,376.3 706.6,376 703.6,375.8 700.6,375.6 697.6,375.6 694.6,375.7 691.6,376.1 688.6,376.8 685.6,378.1 682.6,380.2 679.6,383.6 676.6,389 673.6,397.4" fill="#161a46" filter="url(#b3)"/><polygon points="673.6,189.1 676.6,196.4 679.6,201.3 682.6,204.5 685.6,206.8 688.6,208.4 691.6,209.5 694.6,210.4 697.6,211.1 700.6,211.6 703.6,212.2 706.6,212.7 709.6,213.2 712.6,213.6 715.6,214.1 718.6,214.5 721.6,214.9 724.6,215.3 727.6,215.7 730.6,216.2 733.6,216.6 736.6,216.9 739.6,217.3 742.6,218 745.6,218.6 748.6,218.9 751.6,218.7 754.6,217.4 757.6,213.5 758.8,210.7 758.8,249.7 757.6,246.3 754.6,240.8 751.6,237.7 748.6,235.8 745.6,234.5 742.6,233.4 739.6,232.5 736.6,232 733.6,231.6 730.6,231.2 727.6,230.8 724.6,230.4 721.6,230 718.6,229.6 715.6,229.2 712.6,228.8 709.6,228.4 706.6,228.1 703.6,227.7 700.6,227.5 697.6,227.4 694.6,227.4 691.6,227.6 688.6,228.1 685.6,229 682.6,230.6 679.6,233.2 676.6,237.5 673.6,244.1" fill="#14173d" filter="url(#b3)"/><polygon points="673.6,54.3 676.6,59.9 679.6,63.6 682.6,66.1 685.6,67.9 688.6,69.2 691.6,70.1 694.6,70.8 697.6,71.4 700.6,71.9 703.6,72.5 706.6,72.9 709.6,73.4 712.6,73.8 715.6,74.3 718.6,74.7 721.6,75.1 724.6,75.5 727.6,76 730.6,76.4 733.6,76.8 736.6,77.2 739.6,77.5 742.6,78.2 745.6,78.9 748.6,79.4 751.6,79.4 754.6,78.6 757.6,75.9 758.8,73.9 758.8,101.9 757.6,100.1 754.6,96.9 751.6,94.9 748.6,93.6 745.6,92.5 742.6,91.5 739.6,90.7 736.6,90.2 733.6,89.8 730.6,89.4 727.6,89 724.6,88.6 721.6,88.1 718.6,87.7 715.6,87.3 712.6,86.9 709.6,86.5 706.6,86.2 703.6,85.8 700.6,85.5 697.6,85.2 694.6,85.1 691.6,85 688.6,85.1 685.6,85.4 682.6,86 679.6,87.2 676.6,89.1 673.6,92.3" fill="#0f0c1c" filter="url(#b3)"/><polygon points="673.6,481.7 676.6,486.7 679.6,490.1 682.6,492.3 685.6,493.8 688.6,494.8 691.6,495.5 694.6,496 697.6,496.4 700.6,496.7 703.6,497 706.6,497.3 709.6,497.5 712.6,497.7 715.6,497.9 718.6,498.1 721.6,498.3 724.6,498.5 727.6,498.7 730.6,498.9 733.6,499.1 736.6,499.3 739.6,499.4 742.6,499.7 745.6,499.9 748.6,499.9 751.6,499.6 754.6,498.4 757.6,495.5 758.8,493.5 758.8,526.9 757.6,523.6 754.6,518.6 751.6,516 748.6,514.5 745.6,513.7 742.6,513 739.6,512.6 736.6,512.3 733.6,512.1 730.6,511.9 727.6,511.7 724.6,511.6 721.6,511.4 718.6,511.2 715.6,511 712.6,510.9 709.6,510.7 706.6,510.6 703.6,510.5 700.6,510.5 697.6,510.5 694.6,510.7 691.6,511.1 688.6,511.8 685.6,512.9 682.6,514.7 679.6,517.5 676.6,521.9 673.6,528.7" fill="#2a3c96" filter="url(#b2)"/><polygon points="673.6,342.4 676.6,346.9 679.6,349.9 682.6,352 685.6,353.4 688.6,354.5 691.6,355.3 694.6,355.9 697.6,356.4 700.6,356.8 703.6,357.3 706.6,357.7 709.6,358.1 712.6,358.5 715.6,358.9 718.6,359.3 721.6,359.7 724.6,360.1 727.6,360.4 730.6,360.8 733.6,361.2 736.6,361.5 739.6,361.9 742.6,362.5 745.6,363.2 748.6,363.6 751.6,363.8 754.6,363.2 757.6,361.2 758.8,359.6 758.8,385 757.6,382.8 754.6,379.2 751.6,377.2 748.6,375.8 745.6,374.7 742.6,373.8 739.6,373 736.6,372.6 733.6,372.2 730.6,371.8 727.6,371.5 724.6,371.1 721.6,370.7 718.6,370.3 715.6,370 712.6,369.6 709.6,369.3 706.6,368.9 703.6,368.6 700.6,368.3 697.6,368.2 694.6,368.1 691.6,368.1 688.6,368.3 685.6,368.7 682.6,369.6 679.6,371.1 676.6,373.5 673.6,377.4" fill="#28388c" filter="url(#b2)"/><polygon points="673.6,205.1 676.6,208.2 679.6,210.4 682.6,211.9 685.6,213 688.6,213.8 691.6,214.4 694.6,215 697.6,215.4 700.6,215.9 703.6,216.3 706.6,216.8 709.6,217.2 712.6,217.7 715.6,218.1 718.6,218.5 721.6,218.9 724.6,219.3 727.6,219.8 730.6,220.2 733.6,220.6 736.6,221 739.6,221.4 742.6,222.1 745.6,222.9 748.6,223.5 751.6,223.9 754.6,223.9 757.6,222.9 758.8,221.9 758.8,239.5 757.6,238 754.6,235.2 751.6,233.5 748.6,232.3 745.6,231.2 742.6,230.3 739.6,229.4 736.6,229 733.6,228.6 730.6,228.2 727.6,227.8 724.6,227.4 721.6,226.9 718.6,226.5 715.6,226.1 712.6,225.7 709.6,225.3 706.6,224.9 703.6,224.6 700.6,224.2 697.6,224 694.6,223.8 691.6,223.7 688.6,223.7 685.6,223.8 682.6,224.3 679.6,225.1 676.6,226.6 673.6,229.1" fill="#202c70" filter="url(#b2)"/><polygon points="673.6,68.3 676.6,70.4 679.6,71.8 682.6,72.9 685.6,73.7 688.6,74.3 691.6,74.9 694.6,75.3 697.6,75.7 700.6,76.1 703.6,76.6 706.6,77 709.6,77.5 712.6,77.9 715.6,78.3 718.6,78.7 721.6,79.1 724.6,79.5 727.6,80 730.6,80.4 733.6,80.8 736.6,81.2 739.6,81.6 742.6,82.3 745.6,83.1 748.6,83.8 751.6,84.4 754.6,84.7 757.6,84.4 758.8,83.9 758.8,95.3 757.6,94.4 754.6,92.6 751.6,91.3 748.6,90.3 745.6,89.3 742.6,88.4 739.6,87.6 736.6,87.2 733.6,86.8 730.6,86.4 727.6,86 724.6,85.6 721.6,85.1 718.6,84.7 715.6,84.3 712.6,83.9 709.6,83.5 706.6,83.1 703.6,82.7 700.6,82.3 697.6,82 694.6,81.8 691.6,81.6 688.6,81.4 685.6,81.3 682.6,81.4 679.6,81.7 676.6,82.2 673.6,83.3" fill="#131434" filter="url(#b2)"/><polygon points="792.5,456 795.5,466.5 798.5,473.4 801.5,477.9 804.5,480.9 807.5,482.9 810.5,484.2 813.5,485.1 816.5,485.7 819.5,486.1 822.5,486.4 825.5,486.6 828.5,486.8 831.5,486.9 834.5,487 837.5,487.1 840.5,487.2 843.5,487.3 846.5,487.4 849.5,487.5 852.5,487.7 855.5,487.9 858.5,488.1 861.5,488.3 864.5,488.4 867.5,488.5 870.5,488.6 873.5,488.3 876.5,487.7 879.5,486 882.5,482.3 885.5,474.1 886,472 886,545 885.5,541.8 882.5,529 879.5,522.9 876.5,519.9 873.5,518.3 870.5,517.5 867.5,517 864.5,516.6 861.5,516.4 858.5,516.1 855.5,515.9 852.5,515.7 849.5,515.5 846.5,515.4 843.5,515.4 840.5,515.3 837.5,515.2 834.5,515.2 831.5,515.2 828.5,515.2 825.5,515.3 822.5,515.4 819.5,515.7 816.5,516.1 813.5,516.8 810.5,517.9 807.5,519.7 804.5,522.4 801.5,526.7 798.5,533.3 795.5,543.4 792.5,559" fill="#181e4e" filter="url(#b3)"/><polygon points="792.5,322 795.5,330.9 798.5,336.7 801.5,340.6 804.5,343.1 807.5,344.8 810.5,346 813.5,346.9 816.5,347.4 819.5,347.9 822.5,348.2 825.5,348.5 828.5,348.7 831.5,348.9 834.5,349.1 837.5,349.3 840.5,349.5 843.5,349.6 846.5,349.8 849.5,350 852.5,350.3 855.5,350.8 858.5,351.2 861.5,351.6 864.5,351.9 867.5,352.3 870.5,352.5 873.5,352.6 876.5,352.3 879.5,351.1 882.5,348.3 885.5,341.7 886,340 886,392 885.5,390.2 882.5,382.8 879.5,379.1 876.5,377.1 873.5,375.9 870.5,375.2 867.5,374.6 864.5,374.1 861.5,373.6 858.5,373.2 855.5,372.8 852.5,372.4 849.5,372 846.5,371.8 843.5,371.7 840.5,371.5 837.5,371.4 834.5,371.3 831.5,371.1 828.5,371 825.5,370.9 822.5,370.9 819.5,370.9 816.5,371.1 813.5,371.3 810.5,371.8 807.5,372.7 804.5,374.1 801.5,376.4 798.5,379.9 795.5,385.4 792.5,394" fill="#161a46" filter="url(#b3)"/><polygon points="792.5,183.2 795.5,190.4 798.5,195.1 801.5,198.2 804.5,200.3 807.5,201.7 810.5,202.7 813.5,203.4 816.5,203.9 819.5,204.3 822.5,204.7 825.5,204.9 828.5,205.2 831.5,205.4 834.5,205.6 837.5,205.8 840.5,206 843.5,206.1 846.5,206.3 849.5,206.5 852.5,206.9 855.5,207.4 858.5,207.8 861.5,208.2 864.5,208.7 867.5,209.1 870.5,209.4 873.5,209.6 876.5,209.5 879.5,208.7 882.5,206.5 885.5,201.4 886,200 886,239 885.5,237.5 882.5,231.5 879.5,228.4 876.5,226.7 873.5,225.6 870.5,224.9 867.5,224.3 864.5,223.8 861.5,223.3 858.5,222.8 855.5,222.4 852.5,221.9 849.5,221.5 846.5,221.3 843.5,221.2 840.5,221 837.5,220.8 834.5,220.7 831.5,220.5 828.5,220.4 825.5,220.3 822.5,220.2 819.5,220.2 816.5,220.2 813.5,220.4 810.5,220.8 807.5,221.4 804.5,222.5 801.5,224.3 798.5,227 795.5,231.4 792.5,238.2" fill="#14173d" filter="url(#b3)"/><polygon points="792.5,45.7 795.5,51.1 798.5,54.7 801.5,57.1 804.5,58.7 807.5,59.8 810.5,60.6 813.5,61.2 816.5,61.6 819.5,62 822.5,62.3 825.5,62.5 828.5,62.7 831.5,62.9 834.5,63.1 837.5,63.3 840.5,63.5 843.5,63.7 846.5,63.8 849.5,64 852.5,64.4 855.5,64.9 858.5,65.3 861.5,65.8 864.5,66.2 867.5,66.6 870.5,67 873.5,67.2 876.5,67.3 879.5,66.8 882.5,65.3 885.5,61.5 886,60.5 886,88.5 885.5,87.8 882.5,84.5 879.5,82.7 876.5,81.6 873.5,80.9 870.5,80.3 867.5,79.8 864.5,79.3 861.5,78.8 858.5,78.3 855.5,77.9 852.5,77.4 849.5,77 846.5,76.8 843.5,76.7 840.5,76.5 837.5,76.3 834.5,76.2 831.5,76 828.5,75.9 825.5,75.7 822.5,75.6 819.5,75.5 816.5,75.4 813.5,75.4 810.5,75.5 807.5,75.8 804.5,76.2 801.5,77 798.5,78.3 795.5,80.4 792.5,83.7" fill="#0f0c1c" filter="url(#b3)"/><polygon points="792.5,480 795.5,485 798.5,488.2 801.5,490.4 804.5,491.8 807.5,492.7 810.5,493.4 813.5,493.9 816.5,494.2 819.5,494.4 822.5,494.6 825.5,494.7 828.5,494.9 831.5,495 834.5,495.1 837.5,495.2 840.5,495.2 843.5,495.3 846.5,495.4 849.5,495.5 852.5,495.7 855.5,495.9 858.5,496.1 861.5,496.3 864.5,496.5 867.5,496.6 870.5,496.7 873.5,496.8 876.5,496.6 879.5,495.9 882.5,494.3 885.5,490.6 886,489.6 886,523 885.5,521.6 882.5,515.8 879.5,512.9 876.5,511.5 873.5,510.7 870.5,510.2 867.5,509.8 864.5,509.6 861.5,509.3 858.5,509.1 855.5,508.9 852.5,508.7 849.5,508.5 846.5,508.4 843.5,508.3 840.5,508.3 837.5,508.2 834.5,508.1 831.5,508.1 828.5,508.1 825.5,508 822.5,508.1 819.5,508.1 816.5,508.3 813.5,508.5 810.5,509 807.5,509.7 804.5,510.9 801.5,512.8 798.5,515.6 795.5,520.1 792.5,527" fill="#2a3c96" filter="url(#b2)"/><polygon points="792.5,339 795.5,343.3 798.5,346.2 801.5,348.2 804.5,349.5 807.5,350.4 810.5,351 813.5,351.5 816.5,351.9 819.5,352.2 822.5,352.4 825.5,352.6 828.5,352.8 831.5,353 834.5,353.2 837.5,353.3 840.5,353.5 843.5,353.7 846.5,353.8 849.5,354 852.5,354.3 855.5,354.8 858.5,355.2 861.5,355.6 864.5,356 867.5,356.4 870.5,356.7 873.5,356.9 876.5,357 879.5,356.7 882.5,355.5 885.5,352.6 886,351.8 886,377.2 885.5,376.3 882.5,372.5 879.5,370.5 876.5,369.4 873.5,368.6 870.5,368 867.5,367.5 864.5,367 861.5,366.6 858.5,366.2 855.5,365.8 852.5,365.3 849.5,365 846.5,364.8 843.5,364.7 840.5,364.5 837.5,364.4 834.5,364.2 831.5,364.1 828.5,363.9 825.5,363.8 822.5,363.7 819.5,363.7 816.5,363.6 813.5,363.7 810.5,363.9 807.5,364.2 804.5,364.8 801.5,365.8 798.5,367.4 795.5,370 792.5,374" fill="#28388c" filter="url(#b2)"/><polygon points="792.5,199.2 795.5,202.2 798.5,204.2 801.5,205.5 804.5,206.5 807.5,207.1 810.5,207.6 813.5,208 816.5,208.3 819.5,208.6 822.5,208.8 825.5,209 828.5,209.2 831.5,209.4 834.5,209.6 837.5,209.8 840.5,210 843.5,210.1 846.5,210.3 849.5,210.5 852.5,210.9 855.5,211.4 858.5,211.8 861.5,212.3 864.5,212.7 867.5,213.1 870.5,213.6 873.5,213.9 876.5,214.1 879.5,214.1 882.5,213.5 885.5,211.7 886,211.2 886,228.8 885.5,228.2 882.5,225.5 879.5,224 876.5,223 873.5,222.3 870.5,221.7 867.5,221.2 864.5,220.8 861.5,220.3 858.5,219.8 855.5,219.4 852.5,218.9 849.5,218.5 846.5,218.3 843.5,218.2 840.5,218 837.5,217.8 834.5,217.6 831.5,217.5 828.5,217.3 825.5,217.2 822.5,217 819.5,216.9 816.5,216.9 813.5,216.8 810.5,216.9 807.5,217 804.5,217.3 801.5,217.9 798.5,219 795.5,220.6 792.5,223.2" fill="#202c70" filter="url(#b2)"/><polygon points="792.5,59.7 795.5,61.7 798.5,63 801.5,63.9 804.5,64.5 807.5,65 810.5,65.4 813.5,65.7 816.5,66 819.5,66.2 822.5,66.4 825.5,66.6 828.5,66.8 831.5,67 834.5,67.1 837.5,67.3 840.5,67.5 843.5,67.7 846.5,67.8 849.5,68 852.5,68.4 855.5,68.9 858.5,69.3 861.5,69.8 864.5,70.2 867.5,70.7 870.5,71.1 873.5,71.5 876.5,71.8 879.5,72 882.5,71.8 885.5,70.8 886,70.5 886,81.9 885.5,81.6 882.5,80 879.5,79 876.5,78.3 873.5,77.7 870.5,77.2 867.5,76.7 864.5,76.3 861.5,75.8 858.5,75.3 855.5,74.9 852.5,74.4 849.5,74 846.5,73.8 843.5,73.7 840.5,73.5 837.5,73.3 834.5,73.2 831.5,73 828.5,72.8 825.5,72.7 822.5,72.5 819.5,72.4 816.5,72.2 813.5,72.1 810.5,72.1 807.5,72.1 804.5,72.1 801.5,72.4 798.5,72.8 795.5,73.5 792.5,74.7" fill="#131434" filter="url(#b2)"/><polygon points="910.5,455.6 913.5,466.1 916.5,473 919.5,477.6 922.5,480.5 925.5,482.5 928.5,483.8 931.5,484.7 934.5,485.3 937.5,485.7 940.5,486 943.5,486.3 946.5,486.4 949.5,486.6 952.5,486.7 955.5,486.8 958.5,486.9 961.5,487.1 964.5,487.3 967.5,487.5 970.5,487.7 973.5,487.8 976.5,488 979.5,488.1 982.5,488.2 985.5,488 988.5,487.5 991.5,486.3 994.5,483.4 997.5,477 999,471.5 999,544.5 997.5,536 994.5,526 991.5,521.2 988.5,518.8 985.5,517.6 982.5,516.9 979.5,516.5 976.5,516.2 973.5,515.9 970.5,515.7 967.5,515.5 964.5,515.3 961.5,515.1 958.5,515 955.5,514.9 952.5,514.9 949.5,514.9 946.5,514.9 943.5,514.9 940.5,515.1 937.5,515.3 934.5,515.7 931.5,516.4 928.5,517.5 925.5,519.3 922.5,522 919.5,526.3 916.5,532.9 913.5,543 910.5,558.6" fill="#181e4e" filter="url(#b3)"/><polygon points="910.5,321.2 913.5,330.1 916.5,335.9 919.5,339.8 922.5,342.4 925.5,344.1 928.5,345.3 931.5,346.1 934.5,346.7 937.5,347.2 940.5,347.6 943.5,347.8 946.5,348.1 949.5,348.3 952.5,348.5 955.5,348.7 958.5,348.9 961.5,349.2 964.5,349.6 967.5,350 970.5,350.3 973.5,350.7 976.5,351.1 979.5,351.4 982.5,351.6 985.5,351.8 988.5,351.6 991.5,350.7 994.5,348.6 997.5,343.5 999,339 999,391 997.5,386.1 994.5,380.3 991.5,377.3 988.5,375.7 985.5,374.8 982.5,374.1 979.5,373.6 976.5,373.2 973.5,372.8 970.5,372.4 967.5,372 964.5,371.6 961.5,371.2 958.5,370.9 955.5,370.8 952.5,370.6 949.5,370.5 946.5,370.4 943.5,370.3 940.5,370.2 937.5,370.3 934.5,370.4 931.5,370.6 928.5,371.1 925.5,372 922.5,373.4 919.5,375.6 916.5,379.1 913.5,384.7 910.5,393.2" fill="#161a46" filter="url(#b3)"/><polygon points="910.5,182 913.5,189.2 916.5,193.9 919.5,197.1 922.5,199.2 925.5,200.6 928.5,201.6 931.5,202.4 934.5,202.9 937.5,203.3 940.5,203.6 943.5,203.9 946.5,204.2 949.5,204.4 952.5,204.6 955.5,204.8 958.5,205 961.5,205.3 964.5,205.8 967.5,206.2 970.5,206.6 973.5,207 976.5,207.4 979.5,207.8 982.5,208.1 985.5,208.3 988.5,208.3 991.5,207.7 994.5,206.1 997.5,202.2 999,198.6 999,237.6 997.5,233.7 994.5,228.9 991.5,226.4 988.5,225 985.5,224.1 982.5,223.5 979.5,223 976.5,222.5 973.5,222.1 970.5,221.6 967.5,221.2 964.5,220.8 961.5,220.4 958.5,220.1 955.5,219.9 952.5,219.7 949.5,219.6 946.5,219.4 943.5,219.3 940.5,219.2 937.5,219.2 934.5,219.2 931.5,219.4 928.5,219.7 925.5,220.3 922.5,221.4 919.5,223.1 916.5,225.9 913.5,230.3 910.5,237" fill="#14173d" filter="url(#b3)"/><polygon points="910.5,44.2 913.5,49.6 916.5,53.2 919.5,55.6 922.5,57.3 925.5,58.4 928.5,59.2 931.5,59.8 934.5,60.2 937.5,60.6 940.5,60.9 943.5,61.1 946.5,61.4 949.5,61.6 952.5,61.8 955.5,62 958.5,62.2 961.5,62.5 964.5,62.9 967.5,63.3 970.5,63.8 973.5,64.2 976.5,64.6 979.5,65 982.5,65.3 985.5,65.6 988.5,65.7 991.5,65.4 994.5,64.2 997.5,61.4 999,58.8 999,86.8 997.5,84.7 994.5,82.1 991.5,80.7 988.5,79.7 985.5,79.1 982.5,78.6 979.5,78.1 976.5,77.6 973.5,77.2 970.5,76.8 967.5,76.4 964.5,75.9 961.5,75.5 958.5,75.2 955.5,75 952.5,74.8 949.5,74.7 946.5,74.5 943.5,74.4 940.5,74.2 937.5,74.1 934.5,74 931.5,74 928.5,74.1 925.5,74.3 922.5,74.8 919.5,75.5 916.5,76.8 913.5,78.9 910.5,82.2" fill="#0f0c1c" filter="url(#b3)"/><polygon points="910.5,479.6 913.5,484.6 916.5,487.8 919.5,490 922.5,491.4 925.5,492.4 928.5,493 931.5,493.5 934.5,493.8 937.5,494.1 940.5,494.3 943.5,494.4 946.5,494.5 949.5,494.6 952.5,494.8 955.5,494.9 958.5,494.9 961.5,495.1 964.5,495.3 967.5,495.5 970.5,495.7 973.5,495.9 976.5,496 979.5,496.2 982.5,496.3 985.5,496.3 988.5,496.2 991.5,495.7 994.5,494.5 997.5,491.6 999,489.1 999,522.5 997.5,518.7 994.5,514.1 991.5,511.9 988.5,510.7 985.5,510 982.5,509.6 979.5,509.3 976.5,509.1 973.5,508.9 970.5,508.7 967.5,508.5 964.5,508.3 961.5,508.1 958.5,508 955.5,507.9 952.5,507.8 949.5,507.8 946.5,507.7 943.5,507.7 940.5,507.7 937.5,507.8 934.5,507.9 931.5,508.2 928.5,508.6 925.5,509.4 922.5,510.5 919.5,512.4 916.5,515.3 913.5,519.7 910.5,526.6" fill="#2a3c96" filter="url(#b2)"/><polygon points="910.5,338.2 913.5,342.6 916.5,345.4 919.5,347.4 922.5,348.7 925.5,349.6 928.5,350.3 931.5,350.8 934.5,351.2 937.5,351.5 940.5,351.7 943.5,352 946.5,352.2 949.5,352.4 952.5,352.5 955.5,352.7 958.5,352.9 961.5,353.2 964.5,353.6 967.5,354 970.5,354.3 973.5,354.7 976.5,355.1 979.5,355.4 982.5,355.8 985.5,356 988.5,356.1 991.5,355.9 994.5,355.1 997.5,352.9 999,350.8 999,376.2 997.5,373.8 994.5,370.8 991.5,369.1 988.5,368.2 985.5,367.5 982.5,367 979.5,366.6 976.5,366.1 973.5,365.7 970.5,365.4 967.5,365 964.5,364.6 961.5,364.2 958.5,363.9 955.5,363.8 952.5,363.6 949.5,363.5 946.5,363.3 943.5,363.2 940.5,363.1 937.5,363 934.5,362.9 931.5,363 928.5,363.1 925.5,363.5 922.5,364 919.5,365 916.5,366.6 913.5,369.2 910.5,373.2" fill="#28388c" filter="url(#b2)"/><polygon points="910.5,198 913.5,201 916.5,203 919.5,204.4 922.5,205.4 925.5,206 928.5,206.6 931.5,207 934.5,207.3 937.5,207.6 940.5,207.8 943.5,208 946.5,208.2 949.5,208.4 952.5,208.6 955.5,208.8 958.5,209 961.5,209.3 964.5,209.8 967.5,210.2 970.5,210.6 973.5,211 976.5,211.4 979.5,211.8 982.5,212.2 985.5,212.6 988.5,212.8 991.5,212.8 994.5,212.4 997.5,211.1 999,209.8 999,227.4 997.5,225.7 994.5,223.6 991.5,222.3 988.5,221.5 985.5,220.9 982.5,220.4 979.5,219.9 976.5,219.5 973.5,219 970.5,218.6 967.5,218.2 964.5,217.8 961.5,217.3 958.5,217 955.5,216.9 952.5,216.7 949.5,216.5 946.5,216.3 943.5,216.2 940.5,216 937.5,215.9 934.5,215.8 931.5,215.8 928.5,215.8 925.5,215.9 922.5,216.2 919.5,216.8 916.5,217.8 913.5,219.4 910.5,222" fill="#202c70" filter="url(#b2)"/><polygon points="910.5,58.2 913.5,60.1 916.5,61.5 919.5,62.4 922.5,63.1 925.5,63.6 928.5,63.9 931.5,64.3 934.5,64.5 937.5,64.8 940.5,65 943.5,65.2 946.5,65.4 949.5,65.6 952.5,65.8 955.5,66 958.5,66.2 961.5,66.5 964.5,66.9 967.5,67.3 970.5,67.8 973.5,68.2 976.5,68.6 979.5,69 982.5,69.4 985.5,69.8 988.5,70.1 991.5,70.3 994.5,70.2 997.5,69.5 999,68.8 999,80.2 997.5,79.2 994.5,77.9 991.5,77.1 988.5,76.5 985.5,76 982.5,75.5 979.5,75.1 976.5,74.6 973.5,74.2 970.5,73.8 967.5,73.3 964.5,72.9 961.5,72.5 958.5,72.2 955.5,72 952.5,71.8 949.5,71.7 946.5,71.5 943.5,71.3 940.5,71.1 937.5,71 934.5,70.8 931.5,70.7 928.5,70.6 925.5,70.6 922.5,70.7 919.5,70.9 916.5,71.3 913.5,72 910.5,73.2" fill="#131434" filter="url(#b2)"/><polygon points="1015.6,468 1018.6,476.1 1021.6,480.5 1024.6,483 1027.6,484.3 1030.6,485 1033.6,485.4 1036.6,485.6 1039.6,485.7 1042.6,485.8 1045.6,485.8 1048.6,485.8 1051.6,485.8 1054.6,485.8 1057.6,485.7 1060.6,485.7 1063.6,485.7 1066.6,485.7 1069.6,485.7 1072.6,485.7 1075.6,485.6 1078.6,485.6 1081.6,485.6 1084.6,485.6 1087.6,485.6 1090.6,485.6 1093.6,485.5 1096.6,485.5 1099.6,485.5 1102.6,485.5 1105.6,485.5 1108.6,485.6 1111.6,485.6 1114.6,485.6 1117.6,485.6 1120.6,485.6 1123.6,485.7 1126.6,485.7 1129.6,485.7 1132.6,485.7 1135.6,485.7 1138.6,485.8 1141.6,485.8 1144.6,485.8 1147.6,485.8 1150.6,485.8 1153.6,485.9 1156.6,485.9 1159.6,485.9 1162.6,485.9 1165.6,486 1168.6,486 1171.6,486 1174.6,486 1177.6,486 1180.6,486.1 1183.6,486.1 1186.6,486.1 1189.6,486.1 1192.6,486.1 1195.6,486.2 1198.6,486.2 1201.6,486.2 1204.6,486.2 1207.6,486.2 1210.6,486.3 1213.6,486.3 1216.6,486 1219.6,484.8 1222.6,484.8 1225.6,484.7 1228.6,484.7 1231.6,484.7 1234.6,484.6 1237.6,484.6 1240.6,484.6 1243.6,484.5 1246.6,484.5 1249.6,484.5 1252.6,484.4 1255.6,484.4 1258.6,484.4 1261.6,484.3 1264.6,484.3 1267.6,484.3 1270.6,484.2 1273.6,484.2 1276.6,484.2 1279.6,484.1 1282.6,484.1 1285.6,484.1 1288.6,484 1291.6,484 1294.6,484 1297.6,483.9 1300.6,483.9 1303.6,483.9 1306.6,483.8 1309.6,483.8 1312.6,483.8 1315.6,483.7 1318.6,483.7 1321.6,483.7 1324.6,483.6 1327.6,483.6 1330.6,483.6 1333.6,483.5 1336.6,483.5 1339.6,483.5 1342.6,483.4 1345.6,483.4 1347,483.4 1347,511.4 1345.6,511.4 1342.6,511.4 1339.6,511.5 1336.6,511.5 1333.6,511.5 1330.6,511.6 1327.6,511.6 1324.6,511.6 1321.6,511.7 1318.6,511.7 1315.6,511.7 1312.6,511.8 1309.6,511.8 1306.6,511.8 1303.6,511.9 1300.6,511.9 1297.6,511.9 1294.6,512 1291.6,512 1288.6,512 1285.6,512.1 1282.6,512.1 1279.6,512.1 1276.6,512.2 1273.6,512.2 1270.6,512.2 1267.6,512.3 1264.6,512.3 1261.6,512.3 1258.6,512.4 1255.6,512.4 1252.6,512.4 1249.6,512.5 1246.6,512.5 1243.6,512.5 1240.6,512.6 1237.6,512.6 1234.6,512.6 1231.6,512.7 1228.6,512.7 1225.6,512.7 1222.6,512.8 1219.6,512.8 1216.6,514 1213.6,514.3 1210.6,514.3 1207.6,514.2 1204.6,514.2 1201.6,514.2 1198.6,514.2 1195.6,514.2 1192.6,514.1 1189.6,514.1 1186.6,514.1 1183.6,514.1 1180.6,514.1 1177.6,514 1174.6,514 1171.6,514 1168.6,514 1165.6,514 1162.6,513.9 1159.6,513.9 1156.6,513.9 1153.6,513.9 1150.6,513.8 1147.6,513.8 1144.6,513.8 1141.6,513.8 1138.6,513.8 1135.6,513.7 1132.6,513.7 1129.6,513.7 1126.6,513.7 1123.6,513.7 1120.6,513.6 1117.6,513.6 1114.6,513.6 1111.6,513.6 1108.6,513.6 1105.6,513.5 1102.6,513.5 1099.6,513.5 1096.6,513.5 1093.6,513.5 1090.6,513.6 1087.6,513.6 1084.6,513.6 1081.6,513.6 1078.6,513.6 1075.6,513.6 1072.6,513.7 1069.6,513.7 1066.6,513.7 1063.6,513.7 1060.6,513.7 1057.6,513.8 1054.6,513.8 1051.6,513.8 1048.6,513.8 1045.6,513.9 1042.6,514 1039.6,514.1 1036.6,514.3 1033.6,514.6 1030.6,515.3 1027.6,516.4 1024.6,518.4 1021.6,522.1 1018.6,528.8 1015.6,541" fill="#181e4e" filter="url(#b3)"/><polygon points="1015.6,332 1018.6,338.7 1021.6,342.4 1024.6,344.4 1027.6,345.5 1030.6,346.1 1033.6,346.4 1036.6,346.5 1039.6,346.6 1042.6,346.6 1045.6,346.6 1048.6,346.6 1051.6,346.6 1054.6,346.5 1057.6,346.5 1060.6,346.5 1063.6,346.4 1066.6,346.4 1069.6,346.4 1072.6,346.3 1075.6,346.3 1078.6,346.3 1081.6,346.2 1084.6,346.2 1087.6,346.1 1090.6,346.1 1093.6,346.1 1096.6,346 1099.6,346 1102.6,346 1105.6,346.1 1108.6,346.1 1111.6,346.2 1114.6,346.2 1117.6,346.2 1120.6,346.3 1123.6,346.3 1126.6,346.4 1129.6,346.4 1132.6,346.4 1135.6,346.5 1138.6,346.5 1141.6,346.6 1144.6,346.6 1147.6,346.7 1150.6,346.7 1153.6,346.7 1156.6,346.8 1159.6,346.8 1162.6,346.9 1165.6,346.9 1168.6,346.9 1171.6,347 1174.6,347 1177.6,347.1 1180.6,347.1 1183.6,347.2 1186.6,347.2 1189.6,347.2 1192.6,347.3 1195.6,347.3 1198.6,347.4 1201.6,347.4 1204.6,347.4 1207.6,347.5 1210.6,347.5 1213.6,347.6 1216.6,347 1219.6,344.6 1222.6,344.5 1225.6,344.5 1228.6,344.4 1231.6,344.3 1234.6,344.3 1237.6,344.2 1240.6,344.1 1243.6,344.1 1246.6,344 1249.6,343.9 1252.6,343.9 1255.6,343.8 1258.6,343.7 1261.6,343.7 1264.6,343.6 1267.6,343.5 1270.6,343.5 1273.6,343.4 1276.6,343.3 1279.6,343.3 1282.6,343.2 1285.6,343.1 1288.6,343.1 1291.6,343 1294.6,342.9 1297.6,342.9 1300.6,342.8 1303.6,342.7 1306.6,342.7 1309.6,342.6 1312.6,342.6 1315.6,342.5 1318.6,342.4 1321.6,342.4 1324.6,342.3 1327.6,342.2 1330.6,342.2 1333.6,342.1 1336.6,342 1339.6,342 1342.6,341.9 1345.6,341.8 1347,341.8 1347,363.8 1345.6,363.8 1342.6,363.9 1339.6,364 1336.6,364 1333.6,364.1 1330.6,364.2 1327.6,364.2 1324.6,364.3 1321.6,364.4 1318.6,364.4 1315.6,364.5 1312.6,364.6 1309.6,364.6 1306.6,364.7 1303.6,364.7 1300.6,364.8 1297.6,364.9 1294.6,364.9 1291.6,365 1288.6,365.1 1285.6,365.1 1282.6,365.2 1279.6,365.3 1276.6,365.3 1273.6,365.4 1270.6,365.5 1267.6,365.5 1264.6,365.6 1261.6,365.7 1258.6,365.7 1255.6,365.8 1252.6,365.9 1249.6,365.9 1246.6,366 1243.6,366.1 1240.6,366.1 1237.6,366.2 1234.6,366.3 1231.6,366.3 1228.6,366.4 1225.6,366.5 1222.6,366.5 1219.6,366.6 1216.6,369 1213.6,369.6 1210.6,369.5 1207.6,369.5 1204.6,369.4 1201.6,369.4 1198.6,369.4 1195.6,369.3 1192.6,369.3 1189.6,369.2 1186.6,369.2 1183.6,369.2 1180.6,369.1 1177.6,369.1 1174.6,369 1171.6,369 1168.6,368.9 1165.6,368.9 1162.6,368.9 1159.6,368.8 1156.6,368.8 1153.6,368.7 1150.6,368.7 1147.6,368.7 1144.6,368.6 1141.6,368.6 1138.6,368.5 1135.6,368.5 1132.6,368.4 1129.6,368.4 1126.6,368.4 1123.6,368.3 1120.6,368.3 1117.6,368.2 1114.6,368.2 1111.6,368.2 1108.6,368.1 1105.6,368.1 1102.6,368 1099.6,368 1096.6,368 1093.6,368.1 1090.6,368.1 1087.6,368.1 1084.6,368.2 1081.6,368.2 1078.6,368.3 1075.6,368.3 1072.6,368.3 1069.6,368.4 1066.6,368.4 1063.6,368.4 1060.6,368.5 1057.6,368.5 1054.6,368.5 1051.6,368.6 1048.6,368.6 1045.6,368.7 1042.6,368.7 1039.6,368.8 1036.6,369 1033.6,369.2 1030.6,369.6 1027.6,370.2 1024.6,371.4 1021.6,373.4 1018.6,377.2 1015.6,384" fill="#161a46" filter="url(#b3)"/><polygon points="1015.6,189.3 1018.6,194.7 1021.6,197.6 1024.6,199.2 1027.6,200.1 1030.6,200.5 1033.6,200.8 1036.6,200.9 1039.6,200.9 1042.6,200.9 1045.6,200.9 1048.6,200.9 1051.6,200.9 1054.6,200.8 1057.6,200.8 1060.6,200.7 1063.6,200.7 1066.6,200.7 1069.6,200.6 1072.6,200.6 1075.6,200.5 1078.6,200.5 1081.6,200.5 1084.6,200.4 1087.6,200.4 1090.6,200.4 1093.6,200.3 1096.6,200.3 1099.6,200.2 1102.6,200.3 1105.6,200.3 1108.6,200.4 1111.6,200.4 1114.6,200.5 1117.6,200.5 1120.6,200.5 1123.6,200.6 1126.6,200.6 1129.6,200.7 1132.6,200.7 1135.6,200.8 1138.6,200.8 1141.6,200.9 1144.6,200.9 1147.6,201 1150.6,201 1153.6,201 1156.6,201.1 1159.6,201.1 1162.6,201.2 1165.6,201.2 1168.6,201.3 1171.6,201.3 1174.6,201.4 1177.6,201.4 1180.6,201.5 1183.6,201.5 1186.6,201.5 1189.6,201.6 1192.6,201.6 1195.6,201.7 1198.6,201.7 1201.6,201.8 1204.6,201.8 1207.6,201.9 1210.6,201.9 1213.6,202 1216.6,201.3 1219.6,198.7 1222.6,198.6 1225.6,198.5 1228.6,198.5 1231.6,198.4 1234.6,198.3 1237.6,198.2 1240.6,198.2 1243.6,198.1 1246.6,198 1249.6,198 1252.6,197.9 1255.6,197.8 1258.6,197.7 1261.6,197.7 1264.6,197.6 1267.6,197.5 1270.6,197.4 1273.6,197.4 1276.6,197.3 1279.6,197.2 1282.6,197.2 1285.6,197.1 1288.6,197 1291.6,196.9 1294.6,196.9 1297.6,196.8 1300.6,196.7 1303.6,196.7 1306.6,196.6 1309.6,196.5 1312.6,196.4 1315.6,196.4 1318.6,196.3 1321.6,196.2 1324.6,196.1 1327.6,196.1 1330.6,196 1333.6,195.9 1336.6,195.9 1339.6,195.8 1342.6,195.7 1345.6,195.6 1347,195.6 1347,210.6 1345.6,210.6 1342.6,210.7 1339.6,210.8 1336.6,210.9 1333.6,210.9 1330.6,211 1327.6,211.1 1324.6,211.1 1321.6,211.2 1318.6,211.3 1315.6,211.4 1312.6,211.4 1309.6,211.5 1306.6,211.6 1303.6,211.7 1300.6,211.7 1297.6,211.8 1294.6,211.9 1291.6,211.9 1288.6,212 1285.6,212.1 1282.6,212.2 1279.6,212.2 1276.6,212.3 1273.6,212.4 1270.6,212.4 1267.6,212.5 1264.6,212.6 1261.6,212.7 1258.6,212.7 1255.6,212.8 1252.6,212.9 1249.6,213 1246.6,213 1243.6,213.1 1240.6,213.2 1237.6,213.2 1234.6,213.3 1231.6,213.4 1228.6,213.5 1225.6,213.5 1222.6,213.6 1219.6,213.7 1216.6,216.3 1213.6,217 1210.6,216.9 1207.6,216.9 1204.6,216.8 1201.6,216.8 1198.6,216.7 1195.6,216.7 1192.6,216.6 1189.6,216.6 1186.6,216.5 1183.6,216.5 1180.6,216.5 1177.6,216.4 1174.6,216.4 1171.6,216.3 1168.6,216.3 1165.6,216.2 1162.6,216.2 1159.6,216.1 1156.6,216.1 1153.6,216 1150.6,216 1147.6,216 1144.6,215.9 1141.6,215.9 1138.6,215.8 1135.6,215.8 1132.6,215.7 1129.6,215.7 1126.6,215.6 1123.6,215.6 1120.6,215.5 1117.6,215.5 1114.6,215.5 1111.6,215.4 1108.6,215.4 1105.6,215.3 1102.6,215.3 1099.6,215.2 1096.6,215.3 1093.6,215.3 1090.6,215.4 1087.6,215.4 1084.6,215.4 1081.6,215.5 1078.6,215.5 1075.6,215.5 1072.6,215.6 1069.6,215.6 1066.6,215.7 1063.6,215.7 1060.6,215.7 1057.6,215.8 1054.6,215.8 1051.6,215.9 1048.6,215.9 1045.6,216 1042.6,216 1039.6,216.1 1036.6,216.2 1033.6,216.4 1030.6,216.7 1027.6,217.3 1024.6,218.2 1021.6,219.9 1018.6,222.9 1015.6,228.3" fill="#14173d" filter="url(#b3)"/><polygon points="1015.6,47.5 1018.6,51.5 1021.6,53.7 1024.6,54.9 1027.6,55.5 1030.6,55.8 1033.6,56 1036.6,56.1 1039.6,56.1 1042.6,56.1 1045.6,56.1 1048.6,56 1051.6,56 1054.6,56 1057.6,55.9 1060.6,55.9 1063.6,55.9 1066.6,55.8 1069.6,55.8 1072.6,55.7 1075.6,55.7 1078.6,55.7 1081.6,55.6 1084.6,55.6 1087.6,55.6 1090.6,55.5 1093.6,55.5 1096.6,55.4 1099.6,55.4 1102.6,55.4 1105.6,55.5 1108.6,55.5 1111.6,55.6 1114.6,55.6 1117.6,55.7 1120.6,55.7 1123.6,55.7 1126.6,55.8 1129.6,55.8 1132.6,55.9 1135.6,55.9 1138.6,56 1141.6,56 1144.6,56.1 1147.6,56.1 1150.6,56.2 1153.6,56.2 1156.6,56.2 1159.6,56.3 1162.6,56.3 1165.6,56.4 1168.6,56.4 1171.6,56.5 1174.6,56.5 1177.6,56.6 1180.6,56.6 1183.6,56.7 1186.6,56.7 1189.6,56.7 1192.6,56.8 1195.6,56.8 1198.6,56.9 1201.6,56.9 1204.6,57 1207.6,57 1210.6,57.1 1213.6,57.1 1216.6,56.5 1219.6,53.8 1222.6,53.8 1225.6,53.7 1228.6,53.6 1231.6,53.5 1234.6,53.5 1237.6,53.4 1240.6,53.3 1243.6,53.3 1246.6,53.2 1249.6,53.1 1252.6,53 1255.6,53 1258.6,52.9 1261.6,52.8 1264.6,52.8 1267.6,52.7 1270.6,52.6 1273.6,52.5 1276.6,52.5 1279.6,52.4 1282.6,52.3 1285.6,52.2 1288.6,52.2 1291.6,52.1 1294.6,52 1297.6,52 1300.6,51.9 1303.6,51.8 1306.6,51.7 1309.6,51.7 1312.6,51.6 1315.6,51.5 1318.6,51.5 1321.6,51.4 1324.6,51.3 1327.6,51.2 1330.6,51.2 1333.6,51.1 1336.6,51 1339.6,50.9 1342.6,50.9 1345.6,50.8 1347,50.8 1347,63.8 1345.6,63.8 1342.6,63.9 1339.6,63.9 1336.6,64 1333.6,64.1 1330.6,64.2 1327.6,64.2 1324.6,64.3 1321.6,64.4 1318.6,64.5 1315.6,64.5 1312.6,64.6 1309.6,64.7 1306.6,64.7 1303.6,64.8 1300.6,64.9 1297.6,65 1294.6,65 1291.6,65.1 1288.6,65.2 1285.6,65.2 1282.6,65.3 1279.6,65.4 1276.6,65.5 1273.6,65.5 1270.6,65.6 1267.6,65.7 1264.6,65.8 1261.6,65.8 1258.6,65.9 1255.6,66 1252.6,66 1249.6,66.1 1246.6,66.2 1243.6,66.3 1240.6,66.3 1237.6,66.4 1234.6,66.5 1231.6,66.5 1228.6,66.6 1225.6,66.7 1222.6,66.8 1219.6,66.8 1216.6,69.5 1213.6,70.1 1210.6,70.1 1207.6,70 1204.6,70 1201.6,69.9 1198.6,69.9 1195.6,69.8 1192.6,69.8 1189.6,69.7 1186.6,69.7 1183.6,69.7 1180.6,69.6 1177.6,69.6 1174.6,69.5 1171.6,69.5 1168.6,69.4 1165.6,69.4 1162.6,69.3 1159.6,69.3 1156.6,69.2 1153.6,69.2 1150.6,69.2 1147.6,69.1 1144.6,69.1 1141.6,69 1138.6,69 1135.6,68.9 1132.6,68.9 1129.6,68.8 1126.6,68.8 1123.6,68.7 1120.6,68.7 1117.6,68.7 1114.6,68.6 1111.6,68.6 1108.6,68.5 1105.6,68.5 1102.6,68.4 1099.6,68.4 1096.6,68.4 1093.6,68.5 1090.6,68.5 1087.6,68.6 1084.6,68.6 1081.6,68.6 1078.6,68.7 1075.6,68.7 1072.6,68.7 1069.6,68.8 1066.6,68.8 1063.6,68.9 1060.6,68.9 1057.6,68.9 1054.6,69 1051.6,69 1048.6,69.1 1045.6,69.1 1042.6,69.2 1039.6,69.2 1036.6,69.3 1033.6,69.4 1030.6,69.6 1027.6,69.9 1024.6,70.4 1021.6,71.2 1018.6,72.7 1015.6,75.5" fill="#0e0b16" filter="url(#b3)"/><polygon points="1015.6,485.6 1018.6,489.4 1021.6,491.4 1024.6,492.6 1027.6,493.2 1030.6,493.5 1033.6,493.7 1036.6,493.7 1039.6,493.8 1042.6,493.8 1045.6,493.8 1048.6,493.8 1051.6,493.8 1054.6,493.8 1057.6,493.7 1060.6,493.7 1063.6,493.7 1066.6,493.7 1069.6,493.7 1072.6,493.7 1075.6,493.6 1078.6,493.6 1081.6,493.6 1084.6,493.6 1087.6,493.6 1090.6,493.6 1093.6,493.5 1096.6,493.5 1099.6,493.5 1102.6,493.5 1105.6,493.5 1108.6,493.6 1111.6,493.6 1114.6,493.6 1117.6,493.6 1120.6,493.6 1123.6,493.7 1126.6,493.7 1129.6,493.7 1132.6,493.7 1135.6,493.7 1138.6,493.8 1141.6,493.8 1144.6,493.8 1147.6,493.8 1150.6,493.8 1153.6,493.9 1156.6,493.9 1159.6,493.9 1162.6,493.9 1165.6,494 1168.6,494 1171.6,494 1174.6,494 1177.6,494 1180.6,494.1 1183.6,494.1 1186.6,494.1 1189.6,494.1 1192.6,494.1 1195.6,494.2 1198.6,494.2 1201.6,494.2 1204.6,494.2 1207.6,494.2 1210.6,494.3 1213.6,494.3 1216.6,494 1219.6,492.8 1222.6,492.8 1225.6,492.7 1228.6,492.7 1231.6,492.7 1234.6,492.6 1237.6,492.6 1240.6,492.6 1243.6,492.5 1246.6,492.5 1249.6,492.5 1252.6,492.4 1255.6,492.4 1258.6,492.4 1261.6,492.3 1264.6,492.3 1267.6,492.3 1270.6,492.2 1273.6,492.2 1276.6,492.2 1279.6,492.1 1282.6,492.1 1285.6,492.1 1288.6,492 1291.6,492 1294.6,492 1297.6,491.9 1300.6,491.9 1303.6,491.9 1306.6,491.8 1309.6,491.8 1312.6,491.8 1315.6,491.7 1318.6,491.7 1321.6,491.7 1324.6,491.6 1327.6,491.6 1330.6,491.6 1333.6,491.5 1336.6,491.5 1339.6,491.5 1342.6,491.4 1345.6,491.4 1347,491.4 1347,504.4 1345.6,504.4 1342.6,504.4 1339.6,504.5 1336.6,504.5 1333.6,504.5 1330.6,504.6 1327.6,504.6 1324.6,504.6 1321.6,504.7 1318.6,504.7 1315.6,504.7 1312.6,504.8 1309.6,504.8 1306.6,504.8 1303.6,504.9 1300.6,504.9 1297.6,504.9 1294.6,505 1291.6,505 1288.6,505 1285.6,505.1 1282.6,505.1 1279.6,505.1 1276.6,505.2 1273.6,505.2 1270.6,505.2 1267.6,505.3 1264.6,505.3 1261.6,505.3 1258.6,505.4 1255.6,505.4 1252.6,505.4 1249.6,505.5 1246.6,505.5 1243.6,505.5 1240.6,505.6 1237.6,505.6 1234.6,505.6 1231.6,505.7 1228.6,505.7 1225.6,505.7 1222.6,505.8 1219.6,505.8 1216.6,507 1213.6,507.3 1210.6,507.3 1207.6,507.2 1204.6,507.2 1201.6,507.2 1198.6,507.2 1195.6,507.2 1192.6,507.1 1189.6,507.1 1186.6,507.1 1183.6,507.1 1180.6,507.1 1177.6,507 1174.6,507 1171.6,507 1168.6,507 1165.6,507 1162.6,506.9 1159.6,506.9 1156.6,506.9 1153.6,506.9 1150.6,506.8 1147.6,506.8 1144.6,506.8 1141.6,506.8 1138.6,506.8 1135.6,506.7 1132.6,506.7 1129.6,506.7 1126.6,506.7 1123.6,506.7 1120.6,506.6 1117.6,506.6 1114.6,506.6 1111.6,506.6 1108.6,506.6 1105.6,506.5 1102.6,506.5 1099.6,506.5 1096.6,506.5 1093.6,506.5 1090.6,506.6 1087.6,506.6 1084.6,506.6 1081.6,506.6 1078.6,506.6 1075.6,506.6 1072.6,506.7 1069.6,506.7 1066.6,506.7 1063.6,506.7 1060.6,506.7 1057.6,506.8 1054.6,506.8 1051.6,506.8 1048.6,506.8 1045.6,506.9 1042.6,506.9 1039.6,507 1036.6,507.1 1033.6,507.2 1030.6,507.5 1027.6,508 1024.6,508.9 1021.6,510.6 1018.6,513.6 1015.6,519" fill="#2a3c96" filter="url(#b2)"/><polygon points="1015.6,343.8 1018.6,347 1021.6,348.8 1024.6,349.7 1027.6,350.2 1030.6,350.5 1033.6,350.6 1036.6,350.6 1039.6,350.7 1042.6,350.6 1045.6,350.6 1048.6,350.6 1051.6,350.6 1054.6,350.5 1057.6,350.5 1060.6,350.5 1063.6,350.4 1066.6,350.4 1069.6,350.4 1072.6,350.3 1075.6,350.3 1078.6,350.3 1081.6,350.2 1084.6,350.2 1087.6,350.1 1090.6,350.1 1093.6,350.1 1096.6,350 1099.6,350 1102.6,350 1105.6,350.1 1108.6,350.1 1111.6,350.2 1114.6,350.2 1117.6,350.2 1120.6,350.3 1123.6,350.3 1126.6,350.4 1129.6,350.4 1132.6,350.4 1135.6,350.5 1138.6,350.5 1141.6,350.6 1144.6,350.6 1147.6,350.7 1150.6,350.7 1153.6,350.7 1156.6,350.8 1159.6,350.8 1162.6,350.9 1165.6,350.9 1168.6,350.9 1171.6,351 1174.6,351 1177.6,351.1 1180.6,351.1 1183.6,351.2 1186.6,351.2 1189.6,351.2 1192.6,351.3 1195.6,351.3 1198.6,351.4 1201.6,351.4 1204.6,351.4 1207.6,351.5 1210.6,351.5 1213.6,351.6 1216.6,351 1219.6,348.6 1222.6,348.5 1225.6,348.5 1228.6,348.4 1231.6,348.3 1234.6,348.3 1237.6,348.2 1240.6,348.1 1243.6,348.1 1246.6,348 1249.6,347.9 1252.6,347.9 1255.6,347.8 1258.6,347.7 1261.6,347.7 1264.6,347.6 1267.6,347.5 1270.6,347.5 1273.6,347.4 1276.6,347.3 1279.6,347.3 1282.6,347.2 1285.6,347.1 1288.6,347.1 1291.6,347 1294.6,346.9 1297.6,346.9 1300.6,346.8 1303.6,346.7 1306.6,346.7 1309.6,346.6 1312.6,346.6 1315.6,346.5 1318.6,346.4 1321.6,346.4 1324.6,346.3 1327.6,346.2 1330.6,346.2 1333.6,346.1 1336.6,346 1339.6,346 1342.6,345.9 1345.6,345.8 1347,345.8 1347,356.8 1345.6,356.8 1342.6,356.9 1339.6,357 1336.6,357 1333.6,357.1 1330.6,357.2 1327.6,357.2 1324.6,357.3 1321.6,357.4 1318.6,357.4 1315.6,357.5 1312.6,357.6 1309.6,357.6 1306.6,357.7 1303.6,357.7 1300.6,357.8 1297.6,357.9 1294.6,357.9 1291.6,358 1288.6,358.1 1285.6,358.1 1282.6,358.2 1279.6,358.3 1276.6,358.3 1273.6,358.4 1270.6,358.5 1267.6,358.5 1264.6,358.6 1261.6,358.7 1258.6,358.7 1255.6,358.8 1252.6,358.9 1249.6,358.9 1246.6,359 1243.6,359.1 1240.6,359.1 1237.6,359.2 1234.6,359.3 1231.6,359.3 1228.6,359.4 1225.6,359.5 1222.6,359.5 1219.6,359.6 1216.6,362 1213.6,362.6 1210.6,362.5 1207.6,362.5 1204.6,362.4 1201.6,362.4 1198.6,362.4 1195.6,362.3 1192.6,362.3 1189.6,362.2 1186.6,362.2 1183.6,362.2 1180.6,362.1 1177.6,362.1 1174.6,362 1171.6,362 1168.6,361.9 1165.6,361.9 1162.6,361.9 1159.6,361.8 1156.6,361.8 1153.6,361.7 1150.6,361.7 1147.6,361.7 1144.6,361.6 1141.6,361.6 1138.6,361.5 1135.6,361.5 1132.6,361.4 1129.6,361.4 1126.6,361.4 1123.6,361.3 1120.6,361.3 1117.6,361.2 1114.6,361.2 1111.6,361.2 1108.6,361.1 1105.6,361.1 1102.6,361 1099.6,361 1096.6,361 1093.6,361.1 1090.6,361.1 1087.6,361.1 1084.6,361.2 1081.6,361.2 1078.6,361.3 1075.6,361.3 1072.6,361.3 1069.6,361.4 1066.6,361.4 1063.6,361.4 1060.6,361.5 1057.6,361.5 1054.6,361.5 1051.6,361.6 1048.6,361.6 1045.6,361.7 1042.6,361.7 1039.6,361.8 1036.6,361.9 1033.6,362 1030.6,362.2 1027.6,362.5 1024.6,363.1 1021.6,364.1 1018.6,365.9 1015.6,369.2" fill="#28388c" filter="url(#b2)"/><polygon points="1015.6,200.5 1018.6,202.7 1021.6,203.8 1024.6,204.4 1027.6,204.7 1030.6,204.9 1033.6,205 1036.6,205 1039.6,205 1042.6,205 1045.6,204.9 1048.6,204.9 1051.6,204.9 1054.6,204.8 1057.6,204.8 1060.6,204.7 1063.6,204.7 1066.6,204.7 1069.6,204.6 1072.6,204.6 1075.6,204.5 1078.6,204.5 1081.6,204.5 1084.6,204.4 1087.6,204.4 1090.6,204.4 1093.6,204.3 1096.6,204.3 1099.6,204.2 1102.6,204.3 1105.6,204.3 1108.6,204.4 1111.6,204.4 1114.6,204.5 1117.6,204.5 1120.6,204.5 1123.6,204.6 1126.6,204.6 1129.6,204.7 1132.6,204.7 1135.6,204.8 1138.6,204.8 1141.6,204.9 1144.6,204.9 1147.6,205 1150.6,205 1153.6,205 1156.6,205.1 1159.6,205.1 1162.6,205.2 1165.6,205.2 1168.6,205.3 1171.6,205.3 1174.6,205.4 1177.6,205.4 1180.6,205.5 1183.6,205.5 1186.6,205.5 1189.6,205.6 1192.6,205.6 1195.6,205.7 1198.6,205.7 1201.6,205.8 1204.6,205.8 1207.6,205.9 1210.6,205.9 1213.6,206 1216.6,205.3 1219.6,202.7 1222.6,202.6 1225.6,202.5 1228.6,202.5 1231.6,202.4 1234.6,202.3 1237.6,202.2 1240.6,202.2 1243.6,202.1 1246.6,202 1249.6,202 1252.6,201.9 1255.6,201.8 1258.6,201.7 1261.6,201.7 1264.6,201.6 1267.6,201.5 1270.6,201.4 1273.6,201.4 1276.6,201.3 1279.6,201.2 1282.6,201.2 1285.6,201.1 1288.6,201 1291.6,200.9 1294.6,200.9 1297.6,200.8 1300.6,200.7 1303.6,200.7 1306.6,200.6 1309.6,200.5 1312.6,200.4 1315.6,200.4 1318.6,200.3 1321.6,200.2 1324.6,200.1 1327.6,200.1 1330.6,200 1333.6,199.9 1336.6,199.9 1339.6,199.8 1342.6,199.7 1345.6,199.6 1347,199.6 1347,207.6 1345.6,207.6 1342.6,207.7 1339.6,207.8 1336.6,207.9 1333.6,207.9 1330.6,208 1327.6,208.1 1324.6,208.1 1321.6,208.2 1318.6,208.3 1315.6,208.4 1312.6,208.4 1309.6,208.5 1306.6,208.6 1303.6,208.7 1300.6,208.7 1297.6,208.8 1294.6,208.9 1291.6,208.9 1288.6,209 1285.6,209.1 1282.6,209.2 1279.6,209.2 1276.6,209.3 1273.6,209.4 1270.6,209.4 1267.6,209.5 1264.6,209.6 1261.6,209.7 1258.6,209.7 1255.6,209.8 1252.6,209.9 1249.6,210 1246.6,210 1243.6,210.1 1240.6,210.2 1237.6,210.2 1234.6,210.3 1231.6,210.4 1228.6,210.5 1225.6,210.5 1222.6,210.6 1219.6,210.7 1216.6,213.3 1213.6,214 1210.6,213.9 1207.6,213.9 1204.6,213.8 1201.6,213.8 1198.6,213.7 1195.6,213.7 1192.6,213.6 1189.6,213.6 1186.6,213.5 1183.6,213.5 1180.6,213.5 1177.6,213.4 1174.6,213.4 1171.6,213.3 1168.6,213.3 1165.6,213.2 1162.6,213.2 1159.6,213.1 1156.6,213.1 1153.6,213 1150.6,213 1147.6,213 1144.6,212.9 1141.6,212.9 1138.6,212.8 1135.6,212.8 1132.6,212.7 1129.6,212.7 1126.6,212.6 1123.6,212.6 1120.6,212.5 1117.6,212.5 1114.6,212.5 1111.6,212.4 1108.6,212.4 1105.6,212.3 1102.6,212.3 1099.6,212.2 1096.6,212.3 1093.6,212.3 1090.6,212.4 1087.6,212.4 1084.6,212.4 1081.6,212.5 1078.6,212.5 1075.6,212.5 1072.6,212.6 1069.6,212.6 1066.6,212.7 1063.6,212.7 1060.6,212.7 1057.6,212.8 1054.6,212.8 1051.6,212.9 1048.6,212.9 1045.6,212.9 1042.6,213 1039.6,213.1 1036.6,213.1 1033.6,213.2 1030.6,213.4 1027.6,213.6 1024.6,214 1021.6,214.7 1018.6,215.9 1015.6,218.1" fill="#202c70" filter="url(#b2)"/><polygon points="1015.6,57.5 1018.6,58.8 1021.6,59.5 1024.6,59.9 1027.6,60.1 1030.6,60.1 1033.6,60.2 1036.6,60.2 1039.6,60.2 1042.6,60.1 1045.6,60.1 1048.6,60.1 1051.6,60 1054.6,60 1057.6,59.9 1060.6,59.9 1063.6,59.9 1066.6,59.8 1069.6,59.8 1072.6,59.7 1075.6,59.7 1078.6,59.7 1081.6,59.6 1084.6,59.6 1087.6,59.6 1090.6,59.5 1093.6,59.5 1096.6,59.4 1099.6,59.4 1102.6,59.4 1105.6,59.5 1108.6,59.5 1111.6,59.6 1114.6,59.6 1117.6,59.7 1120.6,59.7 1123.6,59.7 1126.6,59.8 1129.6,59.8 1132.6,59.9 1135.6,59.9 1138.6,60 1141.6,60 1144.6,60.1 1147.6,60.1 1150.6,60.2 1153.6,60.2 1156.6,60.2 1159.6,60.3 1162.6,60.3 1165.6,60.4 1168.6,60.4 1171.6,60.5 1174.6,60.5 1177.6,60.6 1180.6,60.6 1183.6,60.7 1186.6,60.7 1189.6,60.7 1192.6,60.8 1195.6,60.8 1198.6,60.9 1201.6,60.9 1204.6,61 1207.6,61 1210.6,61.1 1213.6,61.1 1216.6,60.5 1219.6,57.8 1222.6,57.8 1225.6,57.7 1228.6,57.6 1231.6,57.5 1234.6,57.5 1237.6,57.4 1240.6,57.3 1243.6,57.3 1246.6,57.2 1249.6,57.1 1252.6,57 1255.6,57 1258.6,56.9 1261.6,56.8 1264.6,56.8 1267.6,56.7 1270.6,56.6 1273.6,56.5 1276.6,56.5 1279.6,56.4 1282.6,56.3 1285.6,56.2 1288.6,56.2 1291.6,56.1 1294.6,56 1297.6,56 1300.6,55.9 1303.6,55.8 1306.6,55.7 1309.6,55.7 1312.6,55.6 1315.6,55.5 1318.6,55.5 1321.6,55.4 1324.6,55.3 1327.6,55.2 1330.6,55.2 1333.6,55.1 1336.6,55 1339.6,54.9 1342.6,54.9 1345.6,54.8 1347,54.8 1347,60.8 1345.6,60.8 1342.6,60.9 1339.6,60.9 1336.6,61 1333.6,61.1 1330.6,61.2 1327.6,61.2 1324.6,61.3 1321.6,61.4 1318.6,61.5 1315.6,61.5 1312.6,61.6 1309.6,61.7 1306.6,61.7 1303.6,61.8 1300.6,61.9 1297.6,62 1294.6,62 1291.6,62.1 1288.6,62.2 1285.6,62.2 1282.6,62.3 1279.6,62.4 1276.6,62.5 1273.6,62.5 1270.6,62.6 1267.6,62.7 1264.6,62.8 1261.6,62.8 1258.6,62.9 1255.6,63 1252.6,63 1249.6,63.1 1246.6,63.2 1243.6,63.3 1240.6,63.3 1237.6,63.4 1234.6,63.5 1231.6,63.5 1228.6,63.6 1225.6,63.7 1222.6,63.8 1219.6,63.8 1216.6,66.5 1213.6,67.1 1210.6,67.1 1207.6,67 1204.6,67 1201.6,66.9 1198.6,66.9 1195.6,66.8 1192.6,66.8 1189.6,66.7 1186.6,66.7 1183.6,66.7 1180.6,66.6 1177.6,66.6 1174.6,66.5 1171.6,66.5 1168.6,66.4 1165.6,66.4 1162.6,66.3 1159.6,66.3 1156.6,66.2 1153.6,66.2 1150.6,66.2 1147.6,66.1 1144.6,66.1 1141.6,66 1138.6,66 1135.6,65.9 1132.6,65.9 1129.6,65.8 1126.6,65.8 1123.6,65.7 1120.6,65.7 1117.6,65.7 1114.6,65.6 1111.6,65.6 1108.6,65.5 1105.6,65.5 1102.6,65.4 1099.6,65.4 1096.6,65.4 1093.6,65.5 1090.6,65.5 1087.6,65.6 1084.6,65.6 1081.6,65.6 1078.6,65.7 1075.6,65.7 1072.6,65.7 1069.6,65.8 1066.6,65.8 1063.6,65.9 1060.6,65.9 1057.6,65.9 1054.6,66 1051.6,66 1048.6,66.1 1045.6,66.1 1042.6,66.1 1039.6,66.2 1036.6,66.3 1033.6,66.3 1030.6,66.4 1027.6,66.6 1024.6,66.8 1021.6,67.1 1018.6,67.8 1015.6,68.9" fill="#100e22" filter="url(#b2)"/><rect x="231.8" y="495.2" width="7" height="52" fill="url(#colg)" filter="url(#b1)"/><rect x="231.8" y="359.4" width="7" height="40" fill="url(#colg)" filter="url(#b1)"/><rect x="353.4" y="335.8" width="11" height="186.9" fill="url(#colg)" opacity="1.0" filter="url(#b1)"/><rect x="353.4" y="522.7" width="11" height="79" fill="url(#colg)" opacity="0.55" filter="url(#b1)"/><rect x="353.4" y="202.1" width="11" height="121.7" fill="url(#colg2)" opacity="0.8" filter="url(#b1)"/><rect x="464.1" y="340" width="11" height="184" fill="url(#colg)" opacity="1.0" filter="url(#b1)"/><rect x="464.1" y="524" width="11" height="78.1" fill="url(#colg)" opacity="0.55" filter="url(#b1)"/><rect x="464.1" y="206" width="11" height="122" fill="url(#colg2)" opacity="0.8" filter="url(#b1)"/><rect x="564.2" y="350.2" width="11" height="176" fill="url(#colg)" opacity="1.0" filter="url(#b1)"/><rect x="564.2" y="526.2" width="11" height="76.6" fill="url(#colg)" opacity="0.55" filter="url(#b1)"/><rect x="564.2" y="212.6" width="11" height="125.6" fill="url(#colg2)" opacity="0.8" filter="url(#b1)"/><rect x="673.6" y="348.4" width="11" height="176.6" fill="url(#colg)" opacity="0.6" filter="url(#b1)"/><rect x="792.5" y="345" width="8" height="178.5" fill="url(#colg)" opacity="0.6" filter="url(#b1)"/><rect x="910.5" y="344.2" width="8" height="178.8" fill="url(#colg)" opacity="0.6" filter="url(#b1)"/></g><linearGradient id="g1" gradientUnits="userSpaceOnUse" x1="146" y1="0" x2="220" y2="0"><stop offset="0.000" stop-color="#a1274a"/><stop offset="0.054" stop-color="#942851"/><stop offset="0.108" stop-color="#8a2956"/><stop offset="0.135" stop-color="#862a58"/><stop offset="0.189" stop-color="#7f2a5c"/><stop offset="0.270" stop-color="#762b61"/><stop offset="0.324" stop-color="#712c63"/><stop offset="0.405" stop-color="#6d2d66"/><stop offset="0.486" stop-color="#6b2d69"/><stop offset="0.568" stop-color="#682e6b"/><stop offset="0.676" stop-color="#672e6d"/><stop offset="0.784" stop-color="#652e6e"/><stop offset="0.892" stop-color="#642f6f"/><stop offset="1.000" stop-color="#642f6f"/></linearGradient><polyline points="146,540.1 148,542.9 150,545.2 152,547.5 154,550.4 156,552.8 158,556 160,559.5 162,561 164,563.6 166,566.9 168,569.5 170,572 172,574.1 174,577.3 176,580.4 178,581.8 180,585 182,586.8 184,589.9 186,592.3 188,596 190,598.1 192,601.8 194,604.4 196,606.9 198,608.2 200,612.2 202,615.2 204,618 206,619.7 208,623.1 210,625.5 212,628.6 214,632.8 216,634.7 218,638.2 220,641.7" fill="none" stroke="url(#g1)" stroke-width="2.0" opacity="1.0" filter="url(#b05)"/><linearGradient id="g2" gradientUnits="userSpaceOnUse" x1="146" y1="0" x2="220" y2="0"><stop offset="0.000" stop-color="#d9212c"/><stop offset="0.081" stop-color="#c92436"/><stop offset="0.189" stop-color="#b9263e"/><stop offset="0.324" stop-color="#ac2745"/><stop offset="0.459" stop-color="#ae2744"/><stop offset="0.595" stop-color="#bf263c"/><stop offset="0.676" stop-color="#cc2434"/><stop offset="0.757" stop-color="#de212a"/><stop offset="0.811" stop-color="#e51f27"/><stop offset="0.865" stop-color="#eb1c24"/><stop offset="0.919" stop-color="#ee3726"/><stop offset="0.946" stop-color="#f04a28"/><stop offset="0.973" stop-color="#f15726"/><stop offset="1.000" stop-color="#f16224"/></linearGradient><polyline points="146,476.4 148,474.2 150,471.8 152,469.3 154,466 156,464.3 158,462.5 160,458.3 162,457.2 164,454.3 166,451.3 168,450.4 170,447.1 172,443.5 174,441.7 176,439.5 178,436.5 180,434.6 182,431.7 184,429.7 186,427.7 188,424 190,422.1 192,419.2 194,417.1 196,413.9 198,411.8 200,409.6 202,407.8 204,405.5 206,401.6 208,399.5 210,397.9 212,394.2 214,392.9 216,391 218,389.7 220,387.2" fill="none" stroke="url(#g2)" stroke-width="2.0" opacity="1.0" filter="url(#b05)"/><linearGradient id="g3" gradientUnits="userSpaceOnUse" x1="146" y1="0" x2="220" y2="0"><stop offset="0.000" stop-color="#b52640"/><stop offset="0.081" stop-color="#a3274a"/><stop offset="0.189" stop-color="#922852"/><stop offset="0.324" stop-color="#842a59"/><stop offset="0.459" stop-color="#872a58"/><stop offset="0.595" stop-color="#972850"/><stop offset="0.676" stop-color="#a62748"/><stop offset="0.757" stop-color="#ba263e"/><stop offset="0.811" stop-color="#ca2435"/><stop offset="0.865" stop-color="#dd212a"/><stop offset="0.919" stop-color="#e81d25"/><stop offset="0.946" stop-color="#ec2124"/><stop offset="0.973" stop-color="#ee3626"/><stop offset="1.000" stop-color="#f04d28"/></linearGradient><polyline points="146,403.3 148,406 150,408.8 152,412.6 154,414.1 156,416.9 158,420.1 160,422.5 162,425.2 164,427.4 166,430.8 168,433.3 170,437 172,439.4 174,441.7 176,444.9 178,447 180,450.6 182,452.8 184,456 186,457.8 188,461.6 190,463.3 192,465.9 194,469.8 196,472.3 198,475.8 200,479.9 202,480.9 204,483.9 206,487.3 208,490.3 210,492.8 212,496.2 214,500.2 216,503.6 218,506.1 220,510.2" fill="none" stroke="url(#g3)" stroke-width="2.0" opacity="1.0" filter="url(#b05)"/><linearGradient id="g4" gradientUnits="userSpaceOnUse" x1="146" y1="0" x2="220" y2="0"><stop offset="0.000" stop-color="#8d2954"/><stop offset="0.054" stop-color="#812a5b"/><stop offset="0.108" stop-color="#772b60"/><stop offset="0.135" stop-color="#732c62"/><stop offset="0.189" stop-color="#6d2d67"/><stop offset="0.270" stop-color="#672e6d"/><stop offset="0.324" stop-color="#642f70"/><stop offset="0.405" stop-color="#603073"/><stop offset="0.486" stop-color="#5d3076"/><stop offset="0.568" stop-color="#5b3177"/><stop offset="0.676" stop-color="#593179"/><stop offset="0.784" stop-color="#58317b"/><stop offset="0.892" stop-color="#57327b"/><stop offset="1.000" stop-color="#56327c"/></linearGradient><polyline points="146,340.5 148,337.4 150,335.8 152,332.7 154,331.4 156,328.5 158,326 160,323.2 162,321 164,317.5 166,315.5 168,314 170,310.1 172,309.4 174,305.4 176,304.5 178,301 180,299.6 182,296.8 184,293.5 186,292.8 188,290.5 190,287.2 192,284.7 194,282.4 196,279.5 198,278.4 200,275 202,272.9 204,270 206,267.7 208,264.9 210,264 212,261.1 214,259.7 216,257.1 218,254.6 220,252.7" fill="none" stroke="url(#g4)" stroke-width="2.0" opacity="1.0" filter="url(#b05)"/><linearGradient id="g5" gradientUnits="userSpaceOnUse" x1="146" y1="0" x2="220" y2="0"><stop offset="0.000" stop-color="#872a58"/><stop offset="0.189" stop-color="#8b2956"/><stop offset="0.351" stop-color="#922852"/><stop offset="0.486" stop-color="#9d284d"/><stop offset="0.595" stop-color="#ab2746"/><stop offset="0.676" stop-color="#ba263e"/><stop offset="0.730" stop-color="#c62538"/><stop offset="0.811" stop-color="#dc212b"/><stop offset="0.865" stop-color="#e51e26"/><stop offset="0.892" stop-color="#e91d25"/><stop offset="0.919" stop-color="#ed2325"/><stop offset="0.973" stop-color="#f04a28"/><stop offset="1.000" stop-color="#f15826"/></linearGradient><polyline points="146,267.7 148,270.7 150,273.2 152,276 154,278.1 156,281.2 158,285.4 160,286.8 162,289.3 164,292.9 166,296.3 168,297.4 170,300.9 172,303.4 174,305.5 176,309.7 178,312.1 180,314.9 182,317.3 184,321 186,323.4 188,326.6 190,329 192,331.9 194,336.4 196,338.2 198,341.7 200,344.5 202,347.2 204,350.2 206,353.9 208,356.3 210,359.4 212,363.4 214,368 216,371.6 218,375.4 220,378.8" fill="none" stroke="url(#g5)" stroke-width="2.0" opacity="1.0" filter="url(#b05)"/><linearGradient id="g6" gradientUnits="userSpaceOnUse" x1="146" y1="0" x2="220" y2="0"><stop offset="0.000" stop-color="#253483"/><stop offset="0.081" stop-color="#253483"/><stop offset="0.162" stop-color="#253483"/><stop offset="0.243" stop-color="#253483"/><stop offset="0.324" stop-color="#253483"/><stop offset="0.405" stop-color="#253483"/><stop offset="0.486" stop-color="#253483"/><stop offset="0.541" stop-color="#253483"/><stop offset="0.622" stop-color="#253483"/><stop offset="0.703" stop-color="#253483"/><stop offset="0.784" stop-color="#253483"/><stop offset="0.865" stop-color="#253483"/><stop offset="0.946" stop-color="#253483"/><stop offset="1.000" stop-color="#253483"/></linearGradient><polyline points="146,204.6 148,203.6 150,201.3 152,198.2 154,196.2 156,193.9 158,191.5 160,189.2 162,185.9 164,184.7 166,180.6 168,179.5 170,176.8 172,174.6 174,172.8 176,170.1 178,166.1 180,163.3 182,162.5 184,159 186,157.3 188,155.4 190,151.5 192,148.9 194,147.9 196,145.4 198,142.9 200,140.6 202,137.7 204,134.9 206,133.3 208,130.4 210,127.6 212,126.8 214,124.4 216,122.6 218,119.7 220,117.8" fill="none" stroke="url(#g6)" stroke-width="2.0" opacity="1.0" filter="url(#b05)"/><linearGradient id="g7" gradientUnits="userSpaceOnUse" x1="146" y1="0" x2="220" y2="0"><stop offset="0.000" stop-color="#253483"/><stop offset="0.081" stop-color="#253483"/><stop offset="0.162" stop-color="#253483"/><stop offset="0.243" stop-color="#253483"/><stop offset="0.324" stop-color="#253483"/><stop offset="0.405" stop-color="#253483"/><stop offset="0.486" stop-color="#253483"/><stop offset="0.568" stop-color="#253483"/><stop offset="0.622" stop-color="#253483"/><stop offset="0.703" stop-color="#253483"/><stop offset="0.784" stop-color="#253483"/><stop offset="0.865" stop-color="#253484"/><stop offset="0.946" stop-color="#253484"/><stop offset="1.000" stop-color="#253584"/></linearGradient><polyline points="146,132.6 148,135.4 150,138.8 152,140.9 154,144.3 156,147.1 158,150.8 160,151.5 162,155.7 164,157.8 166,160.6 168,162.5 170,165.9 172,169.4 174,171.7 176,174.5 178,177.1 180,180.7 182,183 184,184.7 186,188.5 188,190.7 190,193 192,197.6 194,201.7 196,203.9 198,206.2 200,209.3 202,213.6 204,216 206,219 208,222 210,225.1 212,229.5 214,233.3 216,237.2 218,240.4 220,245.4" fill="none" stroke="url(#g7)" stroke-width="2.0" opacity="1.0" filter="url(#b05)"/><linearGradient id="g8" gradientUnits="userSpaceOnUse" x1="146" y1="0" x2="220" y2="0"><stop offset="0.000" stop-color="#1a2157"/><stop offset="0.081" stop-color="#1a2157"/><stop offset="0.162" stop-color="#1a2157"/><stop offset="0.243" stop-color="#1a2157"/><stop offset="0.324" stop-color="#1a2157"/><stop offset="0.405" stop-color="#1a2157"/><stop offset="0.486" stop-color="#1a2157"/><stop offset="0.541" stop-color="#1a2157"/><stop offset="0.622" stop-color="#1a2157"/><stop offset="0.703" stop-color="#1a2157"/><stop offset="0.784" stop-color="#1a2157"/><stop offset="0.865" stop-color="#1a2157"/><stop offset="0.946" stop-color="#1a2157"/><stop offset="1.000" stop-color="#1a2157"/></linearGradient><polyline points="146,70.3 148,69 150,65.2 152,63.5 154,61.1 156,57.9 158,57.3 160,54.8 162,51.2 164,49.5 166,46.9 168,42.6 170,41.9 172,39.3 174,37 176,33.8 178,31.9 180,29.5 182,27.9 184,25.1 186,22.5 188,21.1 190,17.5 192,15.2 194,12 196,11.6 198,8.9 200,6.4 202,3.9 204,1.1 206,-1.2 208,-3.9 210,-6.3 212,-8.2 214,-9.4 216,-12 218,-14.5 220,-16.9" fill="none" stroke="url(#g8)" stroke-width="2.0" opacity="1.0" filter="url(#b05)"/><linearGradient id="g9" gradientUnits="userSpaceOnUse" x1="146" y1="0" x2="220" y2="0"><stop offset="0.000" stop-color="#1a2157"/><stop offset="0.081" stop-color="#1a2157"/><stop offset="0.162" stop-color="#1a2157"/><stop offset="0.243" stop-color="#1a2157"/><stop offset="0.324" stop-color="#1a2157"/><stop offset="0.405" stop-color="#1a2157"/><stop offset="0.486" stop-color="#1a2157"/><stop offset="0.541" stop-color="#1a2157"/><stop offset="0.622" stop-color="#1a2157"/><stop offset="0.703" stop-color="#1a2157"/><stop offset="0.784" stop-color="#1a2157"/><stop offset="0.865" stop-color="#1a2157"/><stop offset="0.946" stop-color="#1a2157"/><stop offset="1.000" stop-color="#1a2157"/></linearGradient><polyline points="146,-1.9 148,2.1 150,4.2 152,6.7 154,9.2 156,11.5 158,14.8 160,18.2 162,20.2 164,23 166,25.8 168,28.7 170,30.5 172,34.1 174,36.5 176,40.3 178,42.1 180,45.7 182,49.2 184,51.1 186,53.9 188,57.3 190,60.2 192,62.6 194,66.4 196,70.4 198,72 200,75.1 202,77.6 204,81.4 206,83.5 208,86.6 210,91.1 212,93.7 214,98.9 216,103.2 218,106.5 220,110.7" fill="none" stroke="url(#g9)" stroke-width="2.0" opacity="1.0" filter="url(#b05)"/><linearGradient id="g10" gradientUnits="userSpaceOnUse" x1="231.8" y1="0" x2="316.5" y2="0"><stop offset="0.000" stop-color="#2f3e96"/><stop offset="0.213" stop-color="#2f3e95"/><stop offset="0.378" stop-color="#313d94"/><stop offset="0.519" stop-color="#343d92"/><stop offset="0.638" stop-color="#383b90"/><stop offset="0.732" stop-color="#3e3a8c"/><stop offset="0.803" stop-color="#483786"/><stop offset="0.874" stop-color="#57327b"/><stop offset="0.921" stop-color="#692e6b"/><stop offset="0.945" stop-color="#752c62"/><stop offset="0.968" stop-color="#8a2957"/><stop offset="0.992" stop-color="#b7263f"/><stop offset="1.000" stop-color="#c92436"/></linearGradient><polyline points="231.8,641.5 233.8,637.6 235.8,634.8 237.8,631.7 239.8,630 241.8,628.2 243.8,625.3 245.8,621.6 247.8,619 249.8,616.6 251.8,614.4 253.8,611.4 255.8,609 257.8,606.3 259.8,603.3 261.8,600.7 263.8,598.2 265.8,595.3 267.8,593 269.8,591.1 271.8,587.6 273.8,584.6 275.8,580.8 277.8,579.4 279.8,575.3 281.8,572.9 283.8,571.5 285.8,568.7 287.8,565.5 289.8,561.8 291.8,559.8 293.8,556.7 295.8,554.6 297.8,552.7 299.8,548.6 301.8,545.2 303.8,542.1 305.8,539.8 307.8,536.6 309.8,533 311.8,530.7 313.8,526.5 315.8,523 316.5,521.3" fill="none" stroke="url(#g10)" stroke-width="2.8" opacity="1.0" filter="url(#b1)"/><linearGradient id="g11" gradientUnits="userSpaceOnUse" x1="231.8" y1="0" x2="316.5" y2="0"><stop offset="0.000" stop-color="#bf263c"/><stop offset="0.047" stop-color="#9a284e"/><stop offset="0.071" stop-color="#8b2956"/><stop offset="0.094" stop-color="#7e2b5d"/><stop offset="0.142" stop-color="#692d6a"/><stop offset="0.189" stop-color="#5c3077"/><stop offset="0.236" stop-color="#51337f"/><stop offset="0.283" stop-color="#493685"/><stop offset="0.354" stop-color="#40398b"/><stop offset="0.449" stop-color="#3a3b8f"/><stop offset="0.567" stop-color="#353c92"/><stop offset="0.685" stop-color="#323d93"/><stop offset="0.850" stop-color="#303e95"/><stop offset="1.000" stop-color="#2f3e95"/></linearGradient><polyline points="231.8,512.5 233.8,514.2 235.8,517.4 237.8,519.6 239.8,522.1 241.8,524.8 243.8,526.8 245.8,529.4 247.8,533.3 249.8,535.4 251.8,538.4 253.8,541.7 255.8,542.8 257.8,546.2 259.8,549.6 261.8,552.5 263.8,554.9 265.8,558.5 267.8,560.8 269.8,562.8 271.8,565.8 273.8,569.7 275.8,572.3 277.8,573.7 279.8,578.5 281.8,580.9 283.8,584.2 285.8,586 287.8,588.9 289.8,591.2 291.8,596.6 293.8,598.1 295.8,602.3 297.8,604.2 299.8,607.8 301.8,609.9 303.8,613.8 305.8,618 307.8,620.2 309.8,625.1 311.8,628.2 313.8,631.6 315.8,639 316.5,641.5" fill="none" stroke="url(#g11)" stroke-width="2.8" opacity="1.0" filter="url(#b1)"/><linearGradient id="g12" gradientUnits="userSpaceOnUse" x1="231.8" y1="0" x2="316.5" y2="0"><stop offset="0.000" stop-color="#ab2746"/><stop offset="0.047" stop-color="#872a58"/><stop offset="0.094" stop-color="#6c2d67"/><stop offset="0.165" stop-color="#55327d"/><stop offset="0.236" stop-color="#463787"/><stop offset="0.354" stop-color="#383c90"/><stop offset="0.472" stop-color="#303d94"/><stop offset="0.661" stop-color="#313d94"/><stop offset="0.779" stop-color="#3a3b8e"/><stop offset="0.874" stop-color="#4b3583"/><stop offset="0.921" stop-color="#5b3177"/><stop offset="0.968" stop-color="#772b61"/><stop offset="0.992" stop-color="#a32749"/><stop offset="1.000" stop-color="#b62640"/></linearGradient><polyline points="231.8,502.5 233.8,499.7 235.8,496.9 237.8,494.6 239.8,491.6 241.8,488.9 243.8,487 245.8,485 247.8,481 249.8,479.3 251.8,476.3 253.8,473.6 255.8,472.1 257.8,468.7 259.8,467.3 261.8,463.3 263.8,461.5 265.8,458.5 267.8,455.6 269.8,453.8 271.8,450.8 273.8,448.7 275.8,445.7 277.8,442.5 279.8,440.5 281.8,438 283.8,436 285.8,432.3 287.8,430.2 289.8,426.6 291.8,425.5 293.8,421.8 295.8,418.8 297.8,417.3 299.8,415.4 301.8,411.2 303.8,408.9 305.8,406.6 307.8,403.7 309.8,402.1 311.8,398.8 313.8,396.2 315.8,394.4 316.5,392.7" fill="none" stroke="url(#g12)" stroke-width="2.8" opacity="1.0" filter="url(#b1)"/><linearGradient id="g13" gradientUnits="userSpaceOnUse" x1="231.8" y1="0" x2="316.5" y2="0"><stop offset="0.000" stop-color="#bf263c"/><stop offset="0.047" stop-color="#9a284e"/><stop offset="0.094" stop-color="#7e2b5d"/><stop offset="0.165" stop-color="#622f71"/><stop offset="0.236" stop-color="#51337f"/><stop offset="0.354" stop-color="#40398b"/><stop offset="0.472" stop-color="#383b8f"/><stop offset="0.661" stop-color="#393b8f"/><stop offset="0.779" stop-color="#443888"/><stop offset="0.874" stop-color="#57327b"/><stop offset="0.921" stop-color="#692e6b"/><stop offset="0.968" stop-color="#8a2957"/><stop offset="0.992" stop-color="#b7263f"/><stop offset="1.000" stop-color="#c92436"/></linearGradient><polyline points="231.8,374.3 233.8,376.1 235.8,378.6 237.8,380.9 239.8,385.8 241.8,387.1 243.8,390.1 245.8,392.6 247.8,395.3 249.8,397.9 251.8,401.9 253.8,403.1 255.8,405.7 257.8,408.9 259.8,411.6 261.8,415.8 263.8,418.7 265.8,420.6 267.8,423.2 269.8,426.8 271.8,430.8 273.8,431.2 275.8,436.2 277.8,438.2 279.8,442.5 281.8,444.2 283.8,447.6 285.8,449.9 287.8,453.1 289.8,457.5 291.8,460.6 293.8,463.3 295.8,466.5 297.8,469.4 299.8,473.7 301.8,477.4 303.8,480.8 305.8,484.5 307.8,487.9 309.8,492.6 311.8,496.6 313.8,502.5 315.8,512.2 316.5,514.2" fill="none" stroke="url(#g13)" stroke-width="2.8" opacity="1.0" filter="url(#b1)"/><linearGradient id="g14" gradientUnits="userSpaceOnUse" x1="231.8" y1="0" x2="316.5" y2="0"><stop offset="0.000" stop-color="#632f70"/><stop offset="0.047" stop-color="#4c3583"/><stop offset="0.071" stop-color="#433889"/><stop offset="0.094" stop-color="#3c3b8d"/><stop offset="0.142" stop-color="#323d93"/><stop offset="0.189" stop-color="#2d3d96"/><stop offset="0.236" stop-color="#2a3c96"/><stop offset="0.283" stop-color="#27388c"/><stop offset="0.354" stop-color="#23327d"/><stop offset="0.449" stop-color="#202c6f"/><stop offset="0.567" stop-color="#1d2765"/><stop offset="0.685" stop-color="#1c255f"/><stop offset="0.850" stop-color="#1b235b"/><stop offset="1.000" stop-color="#1a2258"/></linearGradient><polyline points="231.8,364.4 233.8,362.2 235.8,359.4 237.8,356.8 239.8,354.7 241.8,351.5 243.8,350 245.8,347 247.8,344.7 249.8,341.9 251.8,339.1 253.8,336.5 255.8,334.5 257.8,331.8 259.8,329.8 261.8,327.2 263.8,323.9 265.8,322.3 267.8,319 269.8,316.9 271.8,314.6 273.8,311.1 275.8,309.9 277.8,307.4 279.8,304.7 281.8,302.1 283.8,299.6 285.8,296.7 287.8,294.6 289.8,291.9 291.8,289.9 293.8,286.6 295.8,285 297.8,282.5 299.8,279.8 301.8,277.2 303.8,275.3 305.8,271.4 307.8,270.2 309.8,267.6 311.8,265.1 313.8,262.7 315.8,259.8 316.5,259.2" fill="none" stroke="url(#g14)" stroke-width="1.9" opacity="1.0" filter="url(#b05)"/><linearGradient id="g15" gradientUnits="userSpaceOnUse" x1="231.8" y1="0" x2="316.5" y2="0"><stop offset="0.000" stop-color="#28398e"/><stop offset="0.213" stop-color="#283990"/><stop offset="0.378" stop-color="#293b94"/><stop offset="0.519" stop-color="#2b3c96"/><stop offset="0.638" stop-color="#2c3d96"/><stop offset="0.732" stop-color="#2e3e96"/><stop offset="0.803" stop-color="#353c92"/><stop offset="0.874" stop-color="#40398b"/><stop offset="0.921" stop-color="#4f3481"/><stop offset="0.945" stop-color="#58317a"/><stop offset="0.968" stop-color="#672e6c"/><stop offset="0.992" stop-color="#8f2953"/><stop offset="1.000" stop-color="#a2274a"/></linearGradient><polyline points="231.8,238.3 233.8,240.8 235.8,243.3 237.8,244.9 239.8,248.8 241.8,251.8 243.8,254.3 245.8,256.5 247.8,258 249.8,262.1 251.8,264.4 253.8,265.9 255.8,270.5 257.8,272.3 259.8,275.4 261.8,278.7 263.8,282.8 265.8,284.8 267.8,288.1 269.8,292 271.8,294.9 273.8,296.9 275.8,299.9 277.8,302.3 279.8,305.7 281.8,309.4 283.8,312.4 285.8,315.3 287.8,318.9 289.8,320.9 291.8,325 293.8,329.1 295.8,332.7 297.8,336.7 299.8,340 301.8,343.3 303.8,347.5 305.8,350.7 307.8,354.8 309.8,360.6 311.8,364.8 313.8,370.9 315.8,381.5 316.5,386.4" fill="none" stroke="url(#g15)" stroke-width="1.9" opacity="1.0" filter="url(#b05)"/><linearGradient id="g16" gradientUnits="userSpaceOnUse" x1="231.8" y1="0" x2="316.5" y2="0"><stop offset="0.000" stop-color="#2a3c96"/><stop offset="0.094" stop-color="#2a3c96"/><stop offset="0.165" stop-color="#2a3c96"/><stop offset="0.236" stop-color="#2a3c96"/><stop offset="0.331" stop-color="#2a3c96"/><stop offset="0.401" stop-color="#2a3c96"/><stop offset="0.472" stop-color="#2a3c96"/><stop offset="0.567" stop-color="#2a3c96"/><stop offset="0.638" stop-color="#2a3c96"/><stop offset="0.708" stop-color="#2a3c96"/><stop offset="0.803" stop-color="#2a3c96"/><stop offset="0.874" stop-color="#2a3c96"/><stop offset="0.945" stop-color="#2a3c96"/><stop offset="1.000" stop-color="#2a3c96"/></linearGradient><polyline points="231.8,228.4 233.8,225.8 235.8,222.4 237.8,221.1 239.8,219.3 241.8,216.4 243.8,213.3 245.8,211.2 247.8,209.1 249.8,204.5 251.8,203.6 253.8,201.6 255.8,199.2 257.8,197.4 259.8,194.6 261.8,191.6 263.8,189.2 265.8,187 267.8,183.7 269.8,181.6 271.8,179.7 273.8,177.8 275.8,174.1 277.8,171.7 279.8,169.3 281.8,167.5 283.8,164.2 285.8,162.6 287.8,158.6 289.8,156.6 291.8,154.2 293.8,152.3 295.8,150 297.8,146 299.8,143.9 301.8,142.2 303.8,139.1 305.8,136.1 307.8,135.1 309.8,132.3 311.8,129.8 313.8,126.7 315.8,125.3 316.5,123.7" fill="none" stroke="url(#g16)" stroke-width="1.9" opacity="1.0" filter="url(#b05)"/><linearGradient id="g17" gradientUnits="userSpaceOnUse" x1="231.8" y1="0" x2="316.5" y2="0"><stop offset="0.000" stop-color="#23307a"/><stop offset="0.094" stop-color="#23307a"/><stop offset="0.165" stop-color="#23307a"/><stop offset="0.260" stop-color="#23307a"/><stop offset="0.331" stop-color="#23307a"/><stop offset="0.401" stop-color="#23307a"/><stop offset="0.496" stop-color="#23307a"/><stop offset="0.567" stop-color="#23307a"/><stop offset="0.638" stop-color="#23307a"/><stop offset="0.732" stop-color="#23307a"/><stop offset="0.803" stop-color="#23307a"/><stop offset="0.874" stop-color="#23307a"/><stop offset="0.945" stop-color="#23307a"/><stop offset="1.000" stop-color="#23317b"/></linearGradient><polyline points="231.8,103 233.8,104.4 235.8,107.1 237.8,110.3 239.8,112.4 241.8,115.8 243.8,118.2 245.8,120.1 247.8,123.3 249.8,125.7 251.8,129.3 253.8,131.3 255.8,134.4 257.8,138.3 259.8,141.9 261.8,144.6 263.8,146.4 265.8,149.5 267.8,153.2 269.8,155.2 271.8,157.7 273.8,161.4 275.8,164.6 277.8,166.9 279.8,169.5 281.8,172.7 283.8,177 285.8,179.2 287.8,182.7 289.8,186 291.8,189.9 293.8,193 295.8,197.3 297.8,200.2 299.8,204.3 301.8,207.6 303.8,212.7 305.8,216.1 307.8,220.3 309.8,225.1 311.8,229.8 313.8,236.5 315.8,247.3 316.5,252" fill="none" stroke="url(#g17)" stroke-width="1.9" opacity="1.0" filter="url(#b05)"/><linearGradient id="g18" gradientUnits="userSpaceOnUse" x1="231.8" y1="0" x2="316.5" y2="0"><stop offset="0.000" stop-color="#1e2868"/><stop offset="0.094" stop-color="#1e2868"/><stop offset="0.165" stop-color="#1e2868"/><stop offset="0.236" stop-color="#1e2868"/><stop offset="0.331" stop-color="#1e2868"/><stop offset="0.401" stop-color="#1e2868"/><stop offset="0.472" stop-color="#1e2868"/><stop offset="0.567" stop-color="#1e2868"/><stop offset="0.638" stop-color="#1e2868"/><stop offset="0.708" stop-color="#1e2868"/><stop offset="0.803" stop-color="#1e2868"/><stop offset="0.874" stop-color="#1e2868"/><stop offset="0.945" stop-color="#1e2868"/><stop offset="1.000" stop-color="#1e2868"/></linearGradient><polyline points="231.8,93 233.8,92.2 235.8,88.8 237.8,85.6 239.8,83.6 241.8,81.9 243.8,78 245.8,75.4 247.8,73.8 249.8,70.8 251.8,68.5 253.8,65.4 255.8,64.4 257.8,61.8 259.8,58.7 261.8,56.3 263.8,52.2 265.8,51.3 267.8,48.4 269.8,46.3 271.8,43.9 273.8,40.9 275.8,37.6 277.8,36.3 279.8,33.2 281.8,30.9 283.8,28.3 285.8,25.9 287.8,22.3 289.8,21.9 291.8,18.8 293.8,16.9 295.8,15 297.8,11.4 299.8,7.8 301.8,5.8 303.8,3.1 305.8,1.1 307.8,-1 309.8,-4.8 311.8,-5.9 313.8,-9.5 315.8,-10.7 316.5,-11.8" fill="none" stroke="url(#g18)" stroke-width="1.9" opacity="1.0" filter="url(#b05)"/><linearGradient id="g19" gradientUnits="userSpaceOnUse" x1="353.4" y1="0" x2="424.6" y2="0"><stop offset="0.000" stop-color="#2b3d96"/><stop offset="0.225" stop-color="#2b3d96"/><stop offset="0.449" stop-color="#2c3d96"/><stop offset="0.618" stop-color="#2c3d96"/><stop offset="0.758" stop-color="#2d3e96"/><stop offset="0.871" stop-color="#343c92"/><stop offset="0.927" stop-color="#3c3b8d"/><stop offset="0.955" stop-color="#4c3583"/><stop offset="0.983" stop-color="#752b61"/><stop offset="1.000" stop-color="#aa2746"/></linearGradient><polyline points="353.4,644.5 355.4,636.8 357.4,628.6 359.4,625.3 361.4,621.3 363.4,619 365.4,616.8 367.4,613.5 369.4,609.8 371.4,606.1 373.4,602 375.4,599.9 377.4,595.7 379.4,592.3 381.4,589.2 383.4,586.6 385.4,583.4 387.4,580.7 389.4,577.3 391.4,574.8 393.4,573.6 395.4,569.3 397.4,566.3 399.4,563.9 401.4,561.2 403.4,557.2 405.4,554.9 407.4,552.7 409.4,549.5 411.4,546.1 413.4,543.6 415.4,538.9 417.4,536 419.4,532.2 421.4,527.6 423.4,518.6 424.6,515.2" fill="none" stroke="url(#g19)" stroke-width="2.8" opacity="1.0" filter="url(#b1)"/><linearGradient id="g20" gradientUnits="userSpaceOnUse" x1="353.4" y1="0" x2="424.6" y2="0"><stop offset="0.000" stop-color="#bb263e"/><stop offset="0.028" stop-color="#6d2d66"/><stop offset="0.056" stop-color="#4d3582"/><stop offset="0.084" stop-color="#443888"/><stop offset="0.140" stop-color="#393b8f"/><stop offset="0.197" stop-color="#333d93"/><stop offset="0.281" stop-color="#2e3e96"/><stop offset="0.393" stop-color="#2c3d96"/><stop offset="0.590" stop-color="#2c3d96"/><stop offset="0.787" stop-color="#2b3d96"/><stop offset="1.000" stop-color="#2b3d96"/></linearGradient><polyline points="353.4,495.4 355.4,506.6 357.4,517.1 359.4,521.3 361.4,523.2 363.4,528.3 365.4,531.3 367.4,534.8 369.4,539.2 371.4,542.1 373.4,545.1 375.4,549.8 377.4,552.8 379.4,557 381.4,560.8 383.4,563.8 385.4,567.6 387.4,569.5 389.4,571.7 391.4,575.2 393.4,578.1 395.4,580.9 397.4,584.9 399.4,587.3 401.4,589.5 403.4,594.1 405.4,596.6 407.4,599.9 409.4,602.7 411.4,606.6 413.4,610 415.4,614.5 417.4,617.8 419.4,621.6 421.4,629.1 423.4,637.1 424.6,643.3" fill="none" stroke="url(#g20)" stroke-width="2.8" opacity="1.0" filter="url(#b1)"/><linearGradient id="g21" gradientUnits="userSpaceOnUse" x1="353.4" y1="0" x2="424.6" y2="0"><stop offset="0.000" stop-color="#bb263e"/><stop offset="0.028" stop-color="#6d2d66"/><stop offset="0.056" stop-color="#4d3582"/><stop offset="0.112" stop-color="#3d3a8d"/><stop offset="0.197" stop-color="#333d93"/><stop offset="0.337" stop-color="#2d3d96"/><stop offset="0.618" stop-color="#2c3d96"/><stop offset="0.815" stop-color="#2f3e95"/><stop offset="0.927" stop-color="#3c3b8d"/><stop offset="0.983" stop-color="#752b61"/><stop offset="1.000" stop-color="#aa2746"/></linearGradient><polyline points="353.4,495 355.4,490 357.4,483.9 359.4,482.7 361.4,478.8 363.4,475.1 365.4,471.8 367.4,469.7 369.4,466.9 371.4,463.6 373.4,461.1 375.4,457.7 377.4,455.5 379.4,451.7 381.4,449.4 383.4,447.2 385.4,445.5 387.4,440.6 389.4,438.2 391.4,435.3 393.4,433.5 395.4,429.6 397.4,427.3 399.4,424.9 401.4,421.6 403.4,418.9 405.4,416.4 407.4,412.7 409.4,410.4 411.4,408.1 413.4,405.5 415.4,402.3 417.4,398.3 419.4,396.1 421.4,392.7 423.4,387.8 424.6,384.5" fill="none" stroke="url(#g21)" stroke-width="2.8" opacity="1.0" filter="url(#b1)"/><linearGradient id="g22" gradientUnits="userSpaceOnUse" x1="353.4" y1="0" x2="424.6" y2="0"><stop offset="0.000" stop-color="#bb263e"/><stop offset="0.028" stop-color="#6d2d66"/><stop offset="0.056" stop-color="#4d3582"/><stop offset="0.112" stop-color="#3d3a8d"/><stop offset="0.197" stop-color="#333d93"/><stop offset="0.337" stop-color="#2d3d96"/><stop offset="0.618" stop-color="#2c3d96"/><stop offset="0.815" stop-color="#2f3e95"/><stop offset="0.927" stop-color="#3c3b8d"/><stop offset="0.983" stop-color="#752b61"/><stop offset="1.000" stop-color="#aa2746"/></linearGradient><polyline points="353.4,345.5 355.4,359.6 357.4,372.1 359.4,375.8 361.4,380.1 363.4,385.5 365.4,388.8 367.4,393.5 369.4,396.6 371.4,401.5 373.4,404.6 375.4,409 377.4,414.6 379.4,417.7 381.4,420.3 383.4,423.7 385.4,427.1 387.4,430.8 389.4,432.9 391.4,435.3 393.4,439.3 395.4,442.6 397.4,445.8 399.4,449.7 401.4,452.2 403.4,455.7 405.4,457.7 407.4,462 409.4,465.9 411.4,468.9 413.4,472.8 415.4,476.9 417.4,482.1 419.4,484.7 421.4,494.3 423.4,505.9 424.6,512.9" fill="none" stroke="url(#g22)" stroke-width="2.8" opacity="1.0" filter="url(#b1)"/><linearGradient id="g23" gradientUnits="userSpaceOnUse" x1="353.4" y1="0" x2="424.6" y2="0"><stop offset="0.000" stop-color="#603073"/><stop offset="0.028" stop-color="#343c92"/><stop offset="0.056" stop-color="#293a92"/><stop offset="0.084" stop-color="#253483"/><stop offset="0.140" stop-color="#202b6e"/><stop offset="0.197" stop-color="#1c2661"/><stop offset="0.281" stop-color="#1a2055"/><stop offset="0.393" stop-color="#181d4d"/><stop offset="0.590" stop-color="#171b48"/><stop offset="0.787" stop-color="#161a47"/><stop offset="1.000" stop-color="#161a46"/></linearGradient><polyline points="353.4,345.3 355.4,343.4 357.4,340.6 359.4,338.3 361.4,335.6 363.4,332.4 365.4,330.5 367.4,328.5 369.4,324.7 371.4,322.6 373.4,320.5 375.4,316.8 377.4,314.9 379.4,311.4 381.4,310.1 383.4,308.2 385.4,305.4 387.4,301.4 389.4,299.3 391.4,296.3 393.4,293.7 395.4,291.9 397.4,287.5 399.4,286.2 401.4,282.9 403.4,281.1 405.4,277.7 407.4,274.5 409.4,272.4 411.4,269.9 413.4,266.6 415.4,264 417.4,260.4 419.4,256.6 421.4,254.5 423.4,249.8 424.6,246.7" fill="none" stroke="url(#g23)" stroke-width="1.9" opacity="1.0" filter="url(#b05)"/><linearGradient id="g24" gradientUnits="userSpaceOnUse" x1="353.4" y1="0" x2="424.6" y2="0"><stop offset="0.000" stop-color="#131434"/><stop offset="0.225" stop-color="#131434"/><stop offset="0.449" stop-color="#131536"/><stop offset="0.618" stop-color="#14163a"/><stop offset="0.758" stop-color="#151942"/><stop offset="0.871" stop-color="#191f53"/><stop offset="0.927" stop-color="#1d2663"/><stop offset="0.955" stop-color="#24327e"/><stop offset="0.983" stop-color="#303d95"/><stop offset="1.000" stop-color="#4a3684"/></linearGradient><polyline points="353.4,204.3 355.4,218.3 357.4,231 359.4,235 361.4,239.4 363.4,244.4 365.4,246.9 367.4,252.7 369.4,255.7 371.4,259.6 373.4,265.2 375.4,268.6 377.4,272.1 379.4,276.9 381.4,281.2 383.4,284.6 385.4,286.9 387.4,290.6 389.4,294 391.4,296.4 393.4,300.3 395.4,303.3 397.4,306.2 399.4,309.5 401.4,313.1 403.4,316.3 405.4,319.2 407.4,322.6 409.4,326.8 411.4,330.4 413.4,335.4 415.4,340.1 417.4,344.3 419.4,349.9 421.4,358.9 423.4,373.5 424.6,381.1" fill="none" stroke="url(#g24)" stroke-width="1.9" opacity="1.0" filter="url(#b05)"/><linearGradient id="g25" gradientUnits="userSpaceOnUse" x1="353.4" y1="0" x2="424.6" y2="0"><stop offset="0.000" stop-color="#2a3c96"/><stop offset="0.084" stop-color="#2a3c96"/><stop offset="0.169" stop-color="#2a3c96"/><stop offset="0.253" stop-color="#2a3c96"/><stop offset="0.337" stop-color="#2a3c96"/><stop offset="0.393" stop-color="#2a3c96"/><stop offset="0.478" stop-color="#2a3c96"/><stop offset="0.562" stop-color="#2a3c96"/><stop offset="0.646" stop-color="#2a3c96"/><stop offset="0.702" stop-color="#2a3c96"/><stop offset="0.787" stop-color="#2a3c96"/><stop offset="0.871" stop-color="#2a3c96"/><stop offset="0.955" stop-color="#2a3c96"/><stop offset="1.000" stop-color="#2a3c96"/></linearGradient><polyline points="353.4,204.9 355.4,203.1 357.4,198.9 359.4,197.1 361.4,195.6 363.4,193.2 365.4,190.6 367.4,187.6 369.4,185.4 371.4,183 373.4,180 375.4,178 377.4,173.4 379.4,172.6 381.4,168.9 383.4,167.5 385.4,164.2 387.4,161.2 389.4,159.3 391.4,155.9 393.4,153.3 395.4,150.2 397.4,148.5 399.4,146.2 401.4,143.8 403.4,140.4 405.4,138.5 407.4,135.2 409.4,132.4 411.4,130 413.4,127.5 415.4,123.7 417.4,120.9 419.4,118 421.4,114.3 423.4,109.1 424.6,107.4" fill="none" stroke="url(#g25)" stroke-width="1.9" opacity="1.0" filter="url(#b05)"/><linearGradient id="g26" gradientUnits="userSpaceOnUse" x1="353.4" y1="0" x2="424.6" y2="0"><stop offset="0.000" stop-color="#100e22"/><stop offset="0.084" stop-color="#100e22"/><stop offset="0.169" stop-color="#100e22"/><stop offset="0.253" stop-color="#100e22"/><stop offset="0.337" stop-color="#100e22"/><stop offset="0.393" stop-color="#100e22"/><stop offset="0.478" stop-color="#100e22"/><stop offset="0.562" stop-color="#100e22"/><stop offset="0.646" stop-color="#100e22"/><stop offset="0.702" stop-color="#100e22"/><stop offset="0.787" stop-color="#100e22"/><stop offset="0.871" stop-color="#100e22"/><stop offset="0.955" stop-color="#100e22"/><stop offset="1.000" stop-color="#100e22"/></linearGradient><polyline points="353.4,64.2 355.4,78 357.4,90.9 359.4,95.7 361.4,99.8 363.4,103.4 365.4,109 367.4,112.2 369.4,117.2 371.4,120.9 373.4,124.2 375.4,128.5 377.4,133.3 379.4,137.3 381.4,140.9 383.4,143.9 385.4,146.2 387.4,150.4 389.4,152.4 391.4,157.2 393.4,159.8 395.4,163.1 397.4,166.7 399.4,170.2 401.4,172.5 403.4,175.6 405.4,179.3 407.4,182 409.4,185.9 411.4,191.7 413.4,194.7 415.4,200.4 417.4,203.8 419.4,209.5 421.4,220.3 423.4,234.6 424.6,243.6" fill="none" stroke="url(#g26)" stroke-width="1.9" opacity="1.0" filter="url(#b05)"/><linearGradient id="g27" gradientUnits="userSpaceOnUse" x1="353.4" y1="0" x2="424.6" y2="0"><stop offset="0.000" stop-color="#23307a"/><stop offset="0.084" stop-color="#23307a"/><stop offset="0.169" stop-color="#23307a"/><stop offset="0.253" stop-color="#23307a"/><stop offset="0.337" stop-color="#23307a"/><stop offset="0.393" stop-color="#23307a"/><stop offset="0.478" stop-color="#23307a"/><stop offset="0.562" stop-color="#23307a"/><stop offset="0.646" stop-color="#23307a"/><stop offset="0.702" stop-color="#23307a"/><stop offset="0.787" stop-color="#23307a"/><stop offset="0.871" stop-color="#23307a"/><stop offset="0.955" stop-color="#23307a"/><stop offset="1.000" stop-color="#23307a"/></linearGradient><polyline points="353.4,65 355.4,62.3 357.4,60.3 359.4,57.2 361.4,55.7 363.4,52.7 365.4,50.9 367.4,47.8 369.4,46.3 371.4,41.5 373.4,40 375.4,38.1 377.4,34.7 379.4,31.8 381.4,29.5 383.4,26.3 385.4,24.6 387.4,23.3 389.4,19.9 391.4,15.9 393.4,13.4 395.4,11.1 397.4,9.3 399.4,5.5 401.4,2.9 403.4,1.2 405.4,-1.5 407.4,-4.9 409.4,-8 411.4,-11.1 413.4,-13.4 415.4,-17.2 417.4,-18.4 419.4,-22.1 421.4,-25.3 423.4,-29.1 424.6,-32.4" fill="none" stroke="url(#g27)" stroke-width="1.9" opacity="1.0" filter="url(#b05)"/><linearGradient id="g28" gradientUnits="userSpaceOnUse" x1="464.1" y1="0" x2="534.8" y2="0"><stop offset="0.000" stop-color="#2a3c96"/><stop offset="0.226" stop-color="#2a3c96"/><stop offset="0.453" stop-color="#2a3c96"/><stop offset="0.651" stop-color="#2b3c96"/><stop offset="0.764" stop-color="#2c3d96"/><stop offset="0.877" stop-color="#303d95"/><stop offset="0.934" stop-color="#373c90"/><stop offset="0.990" stop-color="#612f72"/><stop offset="1.000" stop-color="#a42749"/></linearGradient><polyline points="464.1,644.4 466.1,639 468.1,632.6 470.1,624.8 472.1,620.4 474.1,617.9 476.1,613.9 478.1,612.7 480.1,607.4 482.1,605.1 484.1,602.6 486.1,599.6 488.1,596.8 490.1,593.8 492.1,590.5 494.1,588.3 496.1,583.3 498.1,581.5 500.1,578.1 502.1,575.6 504.1,572.6 506.1,568.9 508.1,566 510.1,563.8 512.1,560.5 514.1,556.8 516.1,555.2 518.1,552.1 520.1,546.6 522.1,544.4 524.1,542.5 526.1,538.2 528.1,534.7 530.1,531.2 532.1,527.7 534.1,518.6 534.8,510.3" fill="none" stroke="url(#g28)" stroke-width="2.8" opacity="1.0" filter="url(#b1)"/><linearGradient id="g29" gradientUnits="userSpaceOnUse" x1="464.1" y1="0" x2="534.8" y2="0"><stop offset="0.000" stop-color="#b32742"/><stop offset="0.028" stop-color="#702c64"/><stop offset="0.057" stop-color="#503480"/><stop offset="0.085" stop-color="#3e3a8c"/><stop offset="0.113" stop-color="#373c90"/><stop offset="0.198" stop-color="#2f3e96"/><stop offset="0.283" stop-color="#2c3d96"/><stop offset="0.396" stop-color="#2b3d96"/><stop offset="0.594" stop-color="#2a3c96"/><stop offset="0.792" stop-color="#2a3c96"/><stop offset="1.000" stop-color="#2a3c96"/></linearGradient><polyline points="464.1,497.9 466.1,505.1 468.1,513.1 470.1,520.6 472.1,526.1 474.1,528.8 476.1,532.4 478.1,536.3 480.1,539.1 482.1,542.3 484.1,545.4 486.1,548.4 488.1,551.5 490.1,554.6 492.1,558.4 494.1,560.5 496.1,565.1 498.1,567.5 500.1,570.2 502.1,573.6 504.1,576.6 506.1,580.3 508.1,583 510.1,587.3 512.1,589.3 514.1,591.7 516.1,596.1 518.1,598.8 520.1,603.4 522.1,607.5 524.1,610.7 526.1,613 528.1,616.8 530.1,621.8 532.1,624.4 534.1,635.7 534.8,646.9" fill="none" stroke="url(#g29)" stroke-width="2.8" opacity="1.0" filter="url(#b1)"/><linearGradient id="g30" gradientUnits="userSpaceOnUse" x1="464.1" y1="0" x2="534.8" y2="0"><stop offset="0.000" stop-color="#b32742"/><stop offset="0.028" stop-color="#702c64"/><stop offset="0.057" stop-color="#503480"/><stop offset="0.113" stop-color="#373c90"/><stop offset="0.198" stop-color="#2f3e96"/><stop offset="0.339" stop-color="#2c3d96"/><stop offset="0.622" stop-color="#2b3c96"/><stop offset="0.849" stop-color="#2e3e96"/><stop offset="0.934" stop-color="#373c90"/><stop offset="0.990" stop-color="#612f72"/><stop offset="1.000" stop-color="#a42749"/></linearGradient><polyline points="464.1,499.1 466.1,493.1 468.1,487.1 470.1,482 472.1,478.4 474.1,474.8 476.1,471.7 478.1,469.4 480.1,466 482.1,463.6 484.1,460.8 486.1,459.3 488.1,454.5 490.1,452 492.1,449.1 494.1,446.6 496.1,444.1 498.1,440.3 500.1,437.2 502.1,433.8 504.1,431.4 506.1,429.4 508.1,426.2 510.1,422.7 512.1,420.2 514.1,417.5 516.1,414.8 518.1,411.1 520.1,408.3 522.1,404.3 524.1,401.7 526.1,400.3 528.1,395 530.1,393.1 532.1,390.4 534.1,383 534.8,376.9" fill="none" stroke="url(#g30)" stroke-width="2.8" opacity="1.0" filter="url(#b1)"/><linearGradient id="g31" gradientUnits="userSpaceOnUse" x1="464.1" y1="0" x2="534.8" y2="0"><stop offset="0.000" stop-color="#b32742"/><stop offset="0.028" stop-color="#702c64"/><stop offset="0.057" stop-color="#503480"/><stop offset="0.113" stop-color="#373c90"/><stop offset="0.198" stop-color="#2f3e96"/><stop offset="0.339" stop-color="#2c3d96"/><stop offset="0.622" stop-color="#2b3c96"/><stop offset="0.849" stop-color="#2e3e96"/><stop offset="0.934" stop-color="#373c90"/><stop offset="0.990" stop-color="#612f72"/><stop offset="1.000" stop-color="#a42749"/></linearGradient><polyline points="464.1,349.9 466.1,359.2 468.1,368.5 470.1,376.7 472.1,383.1 474.1,386.1 476.1,389.6 478.1,393.4 480.1,396.9 482.1,400.4 484.1,402.9 486.1,407.1 488.1,410.6 490.1,413.9 492.1,417.4 494.1,419.8 496.1,423.1 498.1,427 500.1,429.1 502.1,433.3 504.1,436.2 506.1,439.7 508.1,442.2 510.1,446 512.1,449.9 514.1,453.8 516.1,457.6 518.1,460.6 520.1,464.2 522.1,467.5 524.1,472 526.1,475.3 528.1,479.5 530.1,483.8 532.1,486.4 534.1,499.3 534.8,512.7" fill="none" stroke="url(#g31)" stroke-width="2.8" opacity="1.0" filter="url(#b1)"/><linearGradient id="g32" gradientUnits="userSpaceOnUse" x1="464.1" y1="0" x2="534.8" y2="0"><stop offset="0.000" stop-color="#54327d"/><stop offset="0.028" stop-color="#323d94"/><stop offset="0.057" stop-color="#28398e"/><stop offset="0.085" stop-color="#202c6f"/><stop offset="0.113" stop-color="#1d2662"/><stop offset="0.198" stop-color="#181e50"/><stop offset="0.283" stop-color="#161a45"/><stop offset="0.396" stop-color="#14173c"/><stop offset="0.594" stop-color="#131536"/><stop offset="0.792" stop-color="#131435"/><stop offset="1.000" stop-color="#131434"/></linearGradient><polyline points="464.1,349.2 466.1,345.6 468.1,343.3 470.1,338.7 472.1,334.5 474.1,333.1 476.1,330.7 478.1,327 480.1,324.1 482.1,321.6 484.1,319.2 486.1,316.7 488.1,314.2 490.1,311.5 492.1,308.7 494.1,306 496.1,302.8 498.1,298.7 500.1,296.8 502.1,294.3 504.1,291 506.1,289 508.1,285.4 510.1,282.3 512.1,280.9 514.1,277.6 516.1,274.4 518.1,271.8 520.1,269 522.1,265.6 524.1,260.9 526.1,259 528.1,256.1 530.1,252.8 532.1,250.5 534.1,244.4 534.8,237.8" fill="none" stroke="url(#g32)" stroke-width="1.9" opacity="1.0" filter="url(#b05)"/><linearGradient id="g33" gradientUnits="userSpaceOnUse" x1="464.1" y1="0" x2="534.8" y2="0"><stop offset="0.000" stop-color="#100e22"/><stop offset="0.226" stop-color="#100e22"/><stop offset="0.453" stop-color="#100f24"/><stop offset="0.651" stop-color="#111028"/><stop offset="0.764" stop-color="#121330"/><stop offset="0.877" stop-color="#151942"/><stop offset="0.934" stop-color="#191f51"/><stop offset="0.990" stop-color="#293b94"/><stop offset="1.000" stop-color="#40398b"/></linearGradient><polyline points="464.1,207 466.1,218.3 468.1,226.3 470.1,235.4 472.1,241.8 474.1,245.3 476.1,248 478.1,252.2 480.1,254.8 482.1,257.9 484.1,262 486.1,265.7 488.1,268.2 490.1,272.2 492.1,275.3 494.1,280.5 496.1,281.8 498.1,286.5 500.1,289 502.1,292.4 504.1,296.3 506.1,299.9 508.1,303.5 510.1,306.4 512.1,309.3 514.1,312.9 516.1,317.4 518.1,321.3 520.1,325.7 522.1,329 524.1,333.3 526.1,337.5 528.1,340.6 530.1,343.5 532.1,347.6 534.1,363.5 534.8,381.1" fill="none" stroke="url(#g33)" stroke-width="1.9" opacity="1.0" filter="url(#b05)"/><linearGradient id="g34" gradientUnits="userSpaceOnUse" x1="464.1" y1="0" x2="534.8" y2="0"><stop offset="0.000" stop-color="#28388d"/><stop offset="0.085" stop-color="#28388d"/><stop offset="0.170" stop-color="#28388d"/><stop offset="0.255" stop-color="#28388d"/><stop offset="0.339" stop-color="#28388d"/><stop offset="0.396" stop-color="#28388d"/><stop offset="0.481" stop-color="#28388d"/><stop offset="0.566" stop-color="#28388d"/><stop offset="0.651" stop-color="#28388d"/><stop offset="0.707" stop-color="#28388d"/><stop offset="0.792" stop-color="#28388d"/><stop offset="0.877" stop-color="#28388d"/><stop offset="0.962" stop-color="#28388d"/><stop offset="1.000" stop-color="#28388d"/></linearGradient><polyline points="464.1,207.4 466.1,205.2 468.1,201.3 470.1,198.3 472.1,194.8 474.1,191.5 476.1,188.7 478.1,186.2 480.1,183.5 482.1,180.4 484.1,178 486.1,176.2 488.1,171.5 490.1,169.9 492.1,166.5 494.1,164.4 496.1,162 498.1,158.7 500.1,156.5 502.1,152.3 504.1,151.1 506.1,147.3 508.1,145.2 510.1,142.1 512.1,137.7 514.1,135.9 516.1,133.6 518.1,131.4 520.1,127.7 522.1,124.7 524.1,120.8 526.1,119.5 528.1,116.7 530.1,112.6 532.1,109.5 534.1,101.9 534.8,97.7" fill="none" stroke="url(#g34)" stroke-width="1.9" opacity="1.0" filter="url(#b05)"/><linearGradient id="g35" gradientUnits="userSpaceOnUse" x1="464.1" y1="0" x2="522.1" y2="0"><stop offset="0.000" stop-color="#23307a"/><stop offset="0.103" stop-color="#23307a"/><stop offset="0.172" stop-color="#23307a"/><stop offset="0.241" stop-color="#23307a"/><stop offset="0.310" stop-color="#23307a"/><stop offset="0.414" stop-color="#23307a"/><stop offset="0.483" stop-color="#23307a"/><stop offset="0.552" stop-color="#23307a"/><stop offset="0.621" stop-color="#23307a"/><stop offset="0.724" stop-color="#23307a"/><stop offset="0.793" stop-color="#23307a"/><stop offset="0.862" stop-color="#23307a"/><stop offset="0.931" stop-color="#23307a"/><stop offset="1.000" stop-color="#23307a"/></linearGradient><polyline points="464.1,68.6 466.1,64 468.1,60.8 470.1,56.7 472.1,52.7 474.1,51.4 476.1,47.2 478.1,45.1 480.1,42.7 482.1,40.3 484.1,37.3 486.1,34.6 488.1,31.2 490.1,28.1 492.1,26.2 494.1,23 496.1,19.9 498.1,17.1 500.1,14.8 502.1,11.2 504.1,8.7 506.1,5.8 508.1,4.1 510.1,1.4 512.1,-0.5 514.1,-5.4 516.1,-7.9 518.1,-9.8 520.1,-13.5 522.1,-16.5" fill="none" stroke="url(#g35)" stroke-width="1.9" opacity="1.0" filter="url(#b05)"/><linearGradient id="g36" gradientUnits="userSpaceOnUse" x1="564.2" y1="0" x2="648.2" y2="0"><stop offset="0.000" stop-color="#253483"/><stop offset="0.167" stop-color="#253483"/><stop offset="0.333" stop-color="#253483"/><stop offset="0.500" stop-color="#253484"/><stop offset="0.643" stop-color="#263585"/><stop offset="0.762" stop-color="#27378a"/><stop offset="0.857" stop-color="#2a3c95"/><stop offset="0.905" stop-color="#2b3d96"/><stop offset="0.952" stop-color="#363c91"/><stop offset="0.976" stop-color="#4f3481"/><stop offset="1.000" stop-color="#423989"/></linearGradient><polyline points="564.2,642.3 566.2,640.2 568.2,637.2 570.2,633.5 572.2,631.2 574.2,628.2 576.2,623.7 578.2,621.6 580.2,619 582.2,615.4 584.2,611.4 586.2,609.5 588.2,607.1 590.2,604.6 592.2,599.3 594.2,599.2 596.2,593.9 598.2,592.2 600.2,589.3 602.2,586.2 604.2,582.6 606.2,578.8 608.2,576.9 610.2,573.1 612.2,569 614.2,569.2 616.2,564.9 618.2,562.5 620.2,557.9 622.2,556.3 624.2,553.4 626.2,550.3 628.2,546.4 630.2,542.6 632.2,540.2 634.2,536 636.2,533.3 638.2,531.4 640.2,527.7 642.2,524.1 644.2,517.7 646.2,512.5 648.2,505.6" fill="none" stroke="url(#g36)" stroke-width="2.8" opacity="1.0" filter="url(#b1)"/><linearGradient id="g37" gradientUnits="userSpaceOnUse" x1="564.2" y1="0" x2="648.2" y2="0"><stop offset="0.000" stop-color="#503480"/><stop offset="0.024" stop-color="#423989"/><stop offset="0.048" stop-color="#393b8f"/><stop offset="0.071" stop-color="#333d93"/><stop offset="0.095" stop-color="#2e3e96"/><stop offset="0.143" stop-color="#2c3d96"/><stop offset="0.167" stop-color="#2b3c96"/><stop offset="0.238" stop-color="#283a90"/><stop offset="0.310" stop-color="#27378a"/><stop offset="0.429" stop-color="#263585"/><stop offset="0.571" stop-color="#253484"/><stop offset="0.714" stop-color="#253483"/><stop offset="0.857" stop-color="#253483"/><stop offset="1.000" stop-color="#253483"/></linearGradient><polyline points="564.2,504.6 566.2,508.5 568.2,510.5 570.2,513.9 572.2,517.7 574.2,519.6 576.2,523.3 578.2,525.8 580.2,529.8 582.2,533.8 584.2,535.5 586.2,539.2 588.2,541.7 590.2,544.7 592.2,547.7 594.2,552.5 596.2,556.1 598.2,558.1 600.2,560.5 602.2,564.5 604.2,567 606.2,570.8 608.2,573.6 610.2,576.8 612.2,580.1 614.2,582.5 616.2,585.7 618.2,588 620.2,591.9 622.2,594.5 624.2,598.4 626.2,601 628.2,604.8 630.2,608.1 632.2,610.1 634.2,613.6 636.2,616.6 638.2,620.8 640.2,624.5 642.2,628.4 644.2,635.1 646.2,643.6 648.2,649.2" fill="none" stroke="url(#g37)" stroke-width="2.8" opacity="1.0" filter="url(#b1)"/><linearGradient id="g38" gradientUnits="userSpaceOnUse" x1="564.2" y1="0" x2="648.2" y2="0"><stop offset="0.000" stop-color="#503480"/><stop offset="0.048" stop-color="#393b8f"/><stop offset="0.071" stop-color="#333d93"/><stop offset="0.119" stop-color="#2d3d96"/><stop offset="0.190" stop-color="#2a3c96"/><stop offset="0.310" stop-color="#27378a"/><stop offset="0.476" stop-color="#253585"/><stop offset="0.690" stop-color="#263687"/><stop offset="0.833" stop-color="#293a92"/><stop offset="0.929" stop-color="#2d3d96"/><stop offset="0.952" stop-color="#363c91"/><stop offset="0.976" stop-color="#4f3481"/><stop offset="1.000" stop-color="#423989"/></linearGradient><polyline points="564.2,501.4 566.2,497.2 568.2,493 570.2,493.4 572.2,489.8 574.2,485.4 576.2,483.2 578.2,480 580.2,477.3 582.2,473.4 584.2,471 586.2,468.8 588.2,465.7 590.2,463.4 592.2,459.8 594.2,458.3 596.2,453.5 598.2,451.2 600.2,447 602.2,444.5 604.2,443.1 606.2,438.9 608.2,436.8 610.2,433.6 612.2,430.1 614.2,427.6 616.2,424.6 618.2,421.7 620.2,419.5 622.2,416.6 624.2,412.9 626.2,409.8 628.2,407.6 630.2,404.5 632.2,402.3 634.2,400.3 636.2,396.3 638.2,392.9 640.2,389.9 642.2,385.8 644.2,380.3 646.2,374.7 648.2,369.5" fill="none" stroke="url(#g38)" stroke-width="2.8" opacity="1.0" filter="url(#b1)"/><linearGradient id="g39" gradientUnits="userSpaceOnUse" x1="564.2" y1="0" x2="648.2" y2="0"><stop offset="0.000" stop-color="#503480"/><stop offset="0.048" stop-color="#393b8f"/><stop offset="0.071" stop-color="#333d93"/><stop offset="0.119" stop-color="#2d3d96"/><stop offset="0.190" stop-color="#2a3c96"/><stop offset="0.310" stop-color="#27378a"/><stop offset="0.476" stop-color="#253585"/><stop offset="0.690" stop-color="#263687"/><stop offset="0.833" stop-color="#293a92"/><stop offset="0.929" stop-color="#2d3d96"/><stop offset="0.952" stop-color="#363c91"/><stop offset="0.976" stop-color="#4f3481"/><stop offset="1.000" stop-color="#423989"/></linearGradient><polyline points="564.2,362 566.2,366 568.2,368.5 570.2,371.9 572.2,374.5 574.2,379.5 576.2,382 578.2,386 580.2,388.7 582.2,392.3 584.2,394.5 586.2,398.3 588.2,402.8 590.2,403.6 592.2,408.3 594.2,411.9 596.2,414.3 598.2,417.8 600.2,421.3 602.2,423.4 604.2,427.2 606.2,429.7 608.2,433 610.2,436.3 612.2,439.8 614.2,443.2 616.2,446.7 618.2,448.7 620.2,454.1 622.2,456.8 624.2,459.8 626.2,462.3 628.2,465.7 630.2,469.3 632.2,472.5 634.2,474.4 636.2,479.2 638.2,483.7 640.2,484 642.2,490.6 644.2,498.6 646.2,506.7 648.2,516" fill="none" stroke="url(#g39)" stroke-width="2.8" opacity="1.0" filter="url(#b1)"/><linearGradient id="g40" gradientUnits="userSpaceOnUse" x1="564.2" y1="0" x2="648.2" y2="0"><stop offset="0.000" stop-color="#28388d"/><stop offset="0.024" stop-color="#222f77"/><stop offset="0.048" stop-color="#1e2866"/><stop offset="0.071" stop-color="#1b2259"/><stop offset="0.095" stop-color="#181e4f"/><stop offset="0.143" stop-color="#151840"/><stop offset="0.167" stop-color="#14163a"/><stop offset="0.238" stop-color="#12122f"/><stop offset="0.310" stop-color="#111029"/><stop offset="0.429" stop-color="#100f24"/><stop offset="0.571" stop-color="#100e23"/><stop offset="0.714" stop-color="#100e22"/><stop offset="0.857" stop-color="#100e22"/><stop offset="1.000" stop-color="#100e22"/></linearGradient><polyline points="564.2,357.4 566.2,355.5 568.2,353.5 570.2,349.7 572.2,346.8 574.2,344.4 576.2,341.2 578.2,339.7 580.2,335.4 582.2,333.7 584.2,329.6 586.2,328 588.2,324.7 590.2,320.3 592.2,319.1 594.2,315.7 596.2,313.2 598.2,311.6 600.2,307.2 602.2,304.4 604.2,303.1 606.2,299.4 608.2,297.5 610.2,293.9 612.2,290.3 614.2,287.9 616.2,285.9 618.2,282.8 620.2,279.4 622.2,276.6 624.2,273.6 626.2,270.4 628.2,269.1 630.2,265 632.2,261.5 634.2,259 636.2,256.8 638.2,253.9 640.2,250.5 642.2,246.5 644.2,241.6 646.2,235.2 648.2,229.9" fill="none" stroke="url(#g40)" stroke-width="1.9" opacity="1.0" filter="url(#b05)"/><linearGradient id="g41" gradientUnits="userSpaceOnUse" x1="564.2" y1="0" x2="648.2" y2="0"><stop offset="0.000" stop-color="#253483"/><stop offset="0.095" stop-color="#253483"/><stop offset="0.167" stop-color="#253483"/><stop offset="0.238" stop-color="#253483"/><stop offset="0.310" stop-color="#253483"/><stop offset="0.405" stop-color="#253483"/><stop offset="0.476" stop-color="#253483"/><stop offset="0.548" stop-color="#253483"/><stop offset="0.619" stop-color="#253483"/><stop offset="0.714" stop-color="#253483"/><stop offset="0.786" stop-color="#253483"/><stop offset="0.857" stop-color="#253483"/><stop offset="0.929" stop-color="#253483"/><stop offset="1.000" stop-color="#253483"/></linearGradient><polyline points="564.2,218.2 566.2,214.7 568.2,212.4 570.2,210.2 572.2,207.1 574.2,204 576.2,202.5 578.2,198.9 580.2,195.5 582.2,193.4 584.2,190.4 586.2,186.8 588.2,184.6 590.2,181.7 592.2,177.8 594.2,176.1 596.2,173.2 598.2,170.3 600.2,166.8 602.2,164.8 604.2,162.1 606.2,159.4 608.2,155.8 610.2,154.1 612.2,150.1 614.2,147.9 616.2,146 618.2,141.9 620.2,139.1 622.2,137.3 624.2,133.5 626.2,130.7 628.2,128.1 630.2,125.8 632.2,120.9 634.2,118.8 636.2,115.8 638.2,112.9 640.2,110.1 642.2,106.5 644.2,101.9 646.2,95.7 648.2,90.7" fill="none" stroke="url(#g41)" stroke-width="1.9" opacity="1.0" filter="url(#b05)"/><linearGradient id="g42" gradientUnits="userSpaceOnUse" x1="564.2" y1="0" x2="630.2" y2="0"><stop offset="0.000" stop-color="#202c70"/><stop offset="0.091" stop-color="#202c70"/><stop offset="0.182" stop-color="#202c70"/><stop offset="0.242" stop-color="#202c70"/><stop offset="0.333" stop-color="#202c70"/><stop offset="0.394" stop-color="#202c70"/><stop offset="0.485" stop-color="#202c70"/><stop offset="0.545" stop-color="#202c70"/><stop offset="0.636" stop-color="#202c70"/><stop offset="0.697" stop-color="#202c70"/><stop offset="0.788" stop-color="#202c70"/><stop offset="0.848" stop-color="#202c70"/><stop offset="0.939" stop-color="#202c70"/><stop offset="1.000" stop-color="#202c70"/></linearGradient><polyline points="564.2,77.9 566.2,74.5 568.2,72.3 570.2,70.5 572.2,66.9 574.2,63.6 576.2,61.2 578.2,57.9 580.2,55.9 582.2,53.5 584.2,49.7 586.2,47.2 588.2,45.3 590.2,41.5 592.2,39.1 594.2,35.6 596.2,32.9 598.2,30.3 600.2,29.1 602.2,24.7 604.2,21.9 606.2,19 608.2,16.4 610.2,14.1 612.2,11 614.2,9.2 616.2,5.3 618.2,3.2 620.2,-0.4 622.2,-3 624.2,-7.1 626.2,-9.2 628.2,-12.1 630.2,-15" fill="none" stroke="url(#g42)" stroke-width="1.9" opacity="1.0" filter="url(#b05)"/><linearGradient id="g43" gradientUnits="userSpaceOnUse" x1="673.6" y1="0" x2="758.8" y2="0"><stop offset="0.000" stop-color="#15173d"/><stop offset="0.164" stop-color="#15173d"/><stop offset="0.329" stop-color="#15173d"/><stop offset="0.493" stop-color="#15173d"/><stop offset="0.634" stop-color="#15183f"/><stop offset="0.751" stop-color="#161943"/><stop offset="0.845" stop-color="#181e4f"/><stop offset="0.892" stop-color="#1b245d"/><stop offset="0.915" stop-color="#1e2868"/><stop offset="0.939" stop-color="#222f77"/><stop offset="0.962" stop-color="#27388c"/><stop offset="0.986" stop-color="#2d3d96"/><stop offset="1.000" stop-color="#313d94"/></linearGradient><polyline points="673.6,648.7 675.6,645.6 677.6,642.2 679.6,639 681.6,635.8 683.6,633.1 685.6,630.8 687.6,626.4 689.6,624.9 691.6,621.4 693.6,617.5 695.6,615.2 697.6,610.8 699.6,607.5 701.6,604.6 703.6,601.9 705.6,598.8 707.6,595.5 709.6,592.6 711.6,588.1 713.6,586.4 715.6,582.1 717.6,579.3 719.6,576.3 721.6,572.6 723.6,569.3 725.6,566.3 727.6,563.7 729.6,560.8 731.6,557.6 733.6,553.5 735.6,550.4 737.6,547.1 739.6,544.7 741.6,539.5 743.6,537.6 745.6,532.7 747.6,528.7 749.6,525.5 751.6,522 753.6,517.8 755.6,514.3 757.6,509.9 758.8,508.3" fill="none" stroke="url(#g43)" stroke-width="2.8" opacity="1.0" filter="url(#b1)"/><linearGradient id="g44" gradientUnits="userSpaceOnUse" x1="673.6" y1="0" x2="758.8" y2="0"><stop offset="0.000" stop-color="#2b3d96"/><stop offset="0.023" stop-color="#303d95"/><stop offset="0.047" stop-color="#2c3d96"/><stop offset="0.070" stop-color="#283990"/><stop offset="0.094" stop-color="#24327e"/><stop offset="0.117" stop-color="#202c70"/><stop offset="0.164" stop-color="#1c245e"/><stop offset="0.211" stop-color="#191f53"/><stop offset="0.282" stop-color="#171b48"/><stop offset="0.376" stop-color="#151942"/><stop offset="0.516" stop-color="#15173e"/><stop offset="0.681" stop-color="#15173d"/><stop offset="0.845" stop-color="#15173d"/><stop offset="1.000" stop-color="#15173d"/></linearGradient><polyline points="673.6,498.9 675.6,501.3 677.6,505.4 679.6,507.8 681.6,510.9 683.6,513.5 685.6,517 687.6,520.8 689.6,522.7 691.6,527.1 693.6,530.1 695.6,533.2 697.6,534.9 699.6,539.3 701.6,543.1 703.6,545.6 705.6,549.4 707.6,551.3 709.6,556.4 711.6,559 713.6,563.2 715.6,564.9 717.6,569.8 719.6,572.6 721.6,576.5 723.6,578.8 725.6,582.3 727.6,587.4 729.6,588.9 731.6,592.3 733.6,595.9 735.6,598.7 737.6,603.4 739.6,607.1 741.6,609.6 743.6,613.1 745.6,618.9 747.6,623 749.6,626.9 751.6,631.2 753.6,634.1 755.6,638.7 757.6,642.1 758.8,644.5" fill="none" stroke="url(#g44)" stroke-width="2.8" opacity="1.0" filter="url(#b1)"/><linearGradient id="g45" gradientUnits="userSpaceOnUse" x1="673.6" y1="0" x2="758.8" y2="0"><stop offset="0.000" stop-color="#2b3d96"/><stop offset="0.047" stop-color="#2c3d96"/><stop offset="0.070" stop-color="#283990"/><stop offset="0.094" stop-color="#24327e"/><stop offset="0.141" stop-color="#1e2866"/><stop offset="0.211" stop-color="#191f53"/><stop offset="0.352" stop-color="#151943"/><stop offset="0.540" stop-color="#15173e"/><stop offset="0.751" stop-color="#161943"/><stop offset="0.869" stop-color="#1a2055"/><stop offset="0.939" stop-color="#222f77"/><stop offset="0.962" stop-color="#27388c"/><stop offset="0.986" stop-color="#2d3d96"/><stop offset="1.000" stop-color="#313d94"/></linearGradient><polyline points="673.6,505.8 675.6,501.9 677.6,500.7 679.6,496.4 681.6,493 683.6,490.9 685.6,488.5 687.6,484.7 689.6,480.7 691.6,478.7 693.6,476.3 695.6,472.2 697.6,469.1 699.6,467.2 701.6,463.6 703.6,459.8 705.6,457.1 707.6,453.8 709.6,451.3 711.6,448.2 713.6,445.7 715.6,442.3 717.6,437.9 719.6,436 721.6,433.2 723.6,429.9 725.6,427.1 727.6,423.1 729.6,419.8 731.6,417.8 733.6,413.5 735.6,409.8 737.6,408.6 739.6,404.5 741.6,401.2 743.6,397 745.6,393.4 747.6,389.9 749.6,386.8 751.6,383.6 753.6,378.4 755.6,376.7 757.6,371.9 758.8,369.8" fill="none" stroke="url(#g45)" stroke-width="2.8" opacity="1.0" filter="url(#b1)"/><linearGradient id="g46" gradientUnits="userSpaceOnUse" x1="673.6" y1="0" x2="758.8" y2="0"><stop offset="0.000" stop-color="#2b3d96"/><stop offset="0.047" stop-color="#2c3d96"/><stop offset="0.070" stop-color="#283990"/><stop offset="0.094" stop-color="#24327e"/><stop offset="0.141" stop-color="#1e2866"/><stop offset="0.211" stop-color="#191f53"/><stop offset="0.352" stop-color="#151943"/><stop offset="0.540" stop-color="#15173e"/><stop offset="0.751" stop-color="#161943"/><stop offset="0.869" stop-color="#1a2055"/><stop offset="0.939" stop-color="#222f77"/><stop offset="0.962" stop-color="#27388c"/><stop offset="0.986" stop-color="#2d3d96"/><stop offset="1.000" stop-color="#313d94"/></linearGradient><polyline points="673.6,355.3 675.6,358.1 677.6,360.5 679.6,365.8 681.6,367.4 683.6,371.4 685.6,374.6 687.6,378.6 689.6,380.7 691.6,384.9 693.6,387.1 695.6,391.5 697.6,393.7 699.6,397.2 701.6,401.9 703.6,404.4 705.6,407.8 707.6,412.5 709.6,414.8 711.6,417.6 713.6,422 715.6,424.3 717.6,429.1 719.6,432.6 721.6,435 723.6,438.5 725.6,442.4 727.6,445.8 729.6,448.6 731.6,453 733.6,454.9 735.6,459.3 737.6,462.8 739.6,466.3 741.6,470.9 743.6,474.3 745.6,479.8 747.6,483.7 749.6,487.8 751.6,491.7 753.6,496.2 755.6,501.5 757.6,505.1 758.8,508.3" fill="none" stroke="url(#g46)" stroke-width="2.8" opacity="1.0" filter="url(#b1)"/><linearGradient id="g47" gradientUnits="userSpaceOnUse" x1="673.6" y1="0" x2="758.8" y2="0"><stop offset="0.000" stop-color="#1e2868"/><stop offset="0.094" stop-color="#1e2868"/><stop offset="0.164" stop-color="#1e2868"/><stop offset="0.235" stop-color="#1e2868"/><stop offset="0.329" stop-color="#1e2868"/><stop offset="0.399" stop-color="#1e2868"/><stop offset="0.469" stop-color="#1e2868"/><stop offset="0.563" stop-color="#1e2868"/><stop offset="0.634" stop-color="#1e2868"/><stop offset="0.704" stop-color="#1e2868"/><stop offset="0.798" stop-color="#1e2868"/><stop offset="0.869" stop-color="#1e2868"/><stop offset="0.939" stop-color="#1e2868"/><stop offset="1.000" stop-color="#1e2868"/></linearGradient><polyline points="673.6,221.2 675.6,218.4 677.6,215.9 679.6,212 681.6,208.7 683.6,207.1 685.6,203.9 687.6,201.6 689.6,198.1 691.6,195.9 693.6,192.9 695.6,189.9 697.6,187 699.6,184.1 701.6,181 703.6,178.1 705.6,175.6 707.6,171.7 709.6,170.1 711.6,166 713.6,163.7 715.6,160.1 717.6,157 719.6,155.4 721.6,151 723.6,147.4 725.6,144.7 727.6,142 729.6,140.4 731.6,136.2 733.6,133.6 735.6,129.4 737.6,127.2 739.6,124.4 741.6,121.6 743.6,116.6 745.6,113.8 747.6,110 749.6,105.7 751.6,102.7 753.6,98.9 755.6,94 757.6,92.1 758.8,89.9" fill="none" stroke="url(#g47)" stroke-width="1.9" opacity="1.0" filter="url(#b05)"/><linearGradient id="g48" gradientUnits="userSpaceOnUse" x1="673.6" y1="0" x2="737.6" y2="0"><stop offset="0.000" stop-color="#1e2868"/><stop offset="0.094" stop-color="#1e2868"/><stop offset="0.156" stop-color="#1e2868"/><stop offset="0.250" stop-color="#1e2868"/><stop offset="0.312" stop-color="#1e2868"/><stop offset="0.406" stop-color="#1e2868"/><stop offset="0.469" stop-color="#1e2868"/><stop offset="0.562" stop-color="#1e2868"/><stop offset="0.625" stop-color="#1e2868"/><stop offset="0.719" stop-color="#1e2868"/><stop offset="0.781" stop-color="#1e2868"/><stop offset="0.875" stop-color="#1e2868"/><stop offset="0.938" stop-color="#1e2868"/><stop offset="1.000" stop-color="#1e2868"/></linearGradient><polyline points="673.6,79.5 675.6,76.2 677.6,75.1 679.6,71.5 681.6,69.2 683.6,66.6 685.6,62.6 687.6,60.6 689.6,57.1 691.6,54.4 693.6,51.5 695.6,48.7 697.6,46.5 699.6,43.1 701.6,40 703.6,37 705.6,34.4 707.6,30.7 709.6,28 711.6,25.3 713.6,22 715.6,19.3 717.6,16 719.6,14.6 721.6,11.2 723.6,7.7 725.6,4.3 727.6,2.7 729.6,-1.5 731.6,-4.7 733.6,-7.5 735.6,-10.6 737.6,-13" fill="none" stroke="url(#g48)" stroke-width="1.9" opacity="1.0" filter="url(#b05)"/><linearGradient id="g49" gradientUnits="userSpaceOnUse" x1="792.5" y1="0" x2="886" y2="0"><stop offset="0.000" stop-color="#100e22"/><stop offset="0.128" stop-color="#100e22"/><stop offset="0.235" stop-color="#100e22"/><stop offset="0.342" stop-color="#100e22"/><stop offset="0.449" stop-color="#100e22"/><stop offset="0.556" stop-color="#100e22"/><stop offset="0.663" stop-color="#100e23"/><stop offset="0.749" stop-color="#100f25"/><stop offset="0.834" stop-color="#11112a"/><stop offset="0.898" stop-color="#131332"/><stop offset="0.941" stop-color="#15173d"/><stop offset="0.963" stop-color="#161a45"/><stop offset="0.984" stop-color="#181e4f"/><stop offset="1.000" stop-color="#1a2156"/></linearGradient><polyline points="792.5,648.3 794.5,644.8 796.5,642.8 798.5,639.8 800.5,636.7 802.5,633.6 804.5,630.9 806.5,627.8 808.5,625.7 810.5,623.4 812.5,618.4 814.5,616.6 816.5,613.5 818.5,611.2 820.5,607.4 822.5,605 824.5,601.6 826.5,599.7 828.5,596.5 830.5,593.4 832.5,590.8 834.5,587.6 836.5,583.9 838.5,582.3 840.5,579.2 842.5,576 844.5,573.8 846.5,571.1 848.5,566.8 850.5,563.9 852.5,561.9 854.5,558.4 856.5,553.7 858.5,550 860.5,547 862.5,543.6 864.5,539.6 866.5,537.1 868.5,532.9 870.5,529.5 872.5,527.4 874.5,523 876.5,520 878.5,517 880.5,513.7 882.5,509.6 884.5,506.4 886,503.3" fill="none" stroke="url(#g49)" stroke-width="2.8" opacity="1.0" filter="url(#b1)"/><linearGradient id="g50" gradientUnits="userSpaceOnUse" x1="792.5" y1="0" x2="886" y2="0"><stop offset="0.000" stop-color="#171c4c"/><stop offset="0.043" stop-color="#181e4f"/><stop offset="0.064" stop-color="#161b47"/><stop offset="0.107" stop-color="#14163b"/><stop offset="0.150" stop-color="#131332"/><stop offset="0.193" stop-color="#12122d"/><stop offset="0.257" stop-color="#111028"/><stop offset="0.342" stop-color="#100f25"/><stop offset="0.449" stop-color="#100e23"/><stop offset="0.556" stop-color="#100e22"/><stop offset="0.663" stop-color="#100e22"/><stop offset="0.791" stop-color="#100e22"/><stop offset="0.898" stop-color="#100e22"/><stop offset="1.000" stop-color="#100e22"/></linearGradient><polyline points="792.5,497.5 794.5,499.8 796.5,501.7 798.5,505.3 800.5,508.7 802.5,511.5 804.5,515.3 806.5,517.9 808.5,519.7 810.5,523 812.5,525.2 814.5,529.1 816.5,531.9 818.5,536.4 820.5,537.8 822.5,539.4 824.5,543.2 826.5,546.7 828.5,548.8 830.5,552 832.5,555.2 834.5,558.6 836.5,561.2 838.5,563.7 840.5,567.7 842.5,569.9 844.5,572.8 846.5,575.2 848.5,578.5 850.5,582.5 852.5,584.7 854.5,589.2 856.5,593.2 858.5,596.1 860.5,600 862.5,602.8 864.5,607.8 866.5,611.2 868.5,614.3 870.5,616.6 872.5,620.6 874.5,625.4 876.5,629.4 878.5,632.1 880.5,636.2 882.5,638.6 884.5,642.4 886,645.2" fill="none" stroke="url(#g50)" stroke-width="2.8" opacity="1.0" filter="url(#b1)"/><linearGradient id="g51" gradientUnits="userSpaceOnUse" x1="792.5" y1="0" x2="886" y2="0"><stop offset="0.000" stop-color="#171c4c"/><stop offset="0.043" stop-color="#181e4f"/><stop offset="0.086" stop-color="#151840"/><stop offset="0.128" stop-color="#131536"/><stop offset="0.193" stop-color="#12122d"/><stop offset="0.299" stop-color="#110f26"/><stop offset="0.406" stop-color="#100e23"/><stop offset="0.556" stop-color="#100e22"/><stop offset="0.684" stop-color="#100e23"/><stop offset="0.813" stop-color="#111028"/><stop offset="0.898" stop-color="#131332"/><stop offset="0.941" stop-color="#15173d"/><stop offset="0.984" stop-color="#181e4f"/><stop offset="1.000" stop-color="#1a2156"/></linearGradient><polyline points="792.5,503.8 794.5,499.8 796.5,498.4 798.5,495.8 800.5,491.5 802.5,488.5 804.5,486.7 806.5,483.2 808.5,479.3 810.5,478.4 812.5,475.2 814.5,472 816.5,470.7 818.5,466.6 820.5,463.3 822.5,460.9 824.5,457.4 826.5,454.7 828.5,452.6 830.5,449.2 832.5,446.4 834.5,444.8 836.5,441.5 838.5,438.6 840.5,435.6 842.5,432.7 844.5,430.5 846.5,426.7 848.5,425 850.5,420.4 852.5,417.5 854.5,413.6 856.5,410.9 858.5,408.2 860.5,405.4 862.5,400.9 864.5,398 866.5,394.5 868.5,391 870.5,387.5 872.5,384.9 874.5,380.6 876.5,378.4 878.5,375.1 880.5,371.4 882.5,367.9 884.5,364.4 886,363.9" fill="none" stroke="url(#g51)" stroke-width="2.8" opacity="1.0" filter="url(#b1)"/><linearGradient id="g52" gradientUnits="userSpaceOnUse" x1="792.5" y1="0" x2="886" y2="0"><stop offset="0.000" stop-color="#171c4c"/><stop offset="0.043" stop-color="#181e4f"/><stop offset="0.086" stop-color="#151840"/><stop offset="0.128" stop-color="#131536"/><stop offset="0.193" stop-color="#12122d"/><stop offset="0.299" stop-color="#110f26"/><stop offset="0.406" stop-color="#100e23"/><stop offset="0.556" stop-color="#100e22"/><stop offset="0.684" stop-color="#100e23"/><stop offset="0.813" stop-color="#111028"/><stop offset="0.898" stop-color="#131332"/><stop offset="0.941" stop-color="#15173d"/><stop offset="0.984" stop-color="#181e4f"/><stop offset="1.000" stop-color="#1a2156"/></linearGradient><polyline points="792.5,350.7 794.5,355.4 796.5,357.8 798.5,360.3 800.5,362.8 802.5,367.1 804.5,370.5 806.5,371.9 808.5,375.3 810.5,379.1 812.5,381.7 814.5,385.7 816.5,387.1 818.5,390.8 820.5,392.7 822.5,397.7 824.5,399 826.5,401.2 828.5,405.4 830.5,408.4 832.5,412.6 834.5,414.3 836.5,417.5 838.5,420.8 840.5,424.4 842.5,426.4 844.5,430.1 846.5,432.8 848.5,435.3 850.5,438.7 852.5,442.4 854.5,445.5 856.5,450.5 858.5,452.6 860.5,457.8 862.5,461.4 864.5,464.5 866.5,467.7 868.5,471.8 870.5,475.9 872.5,479.7 874.5,483.2 876.5,487.3 878.5,490 880.5,494.2 882.5,496.8 884.5,501.9 886,504.3" fill="none" stroke="url(#g52)" stroke-width="2.8" opacity="1.0" filter="url(#b1)"/><linearGradient id="g53" gradientUnits="userSpaceOnUse" x1="792.5" y1="0" x2="886" y2="0"><stop offset="0.000" stop-color="#161a46"/><stop offset="0.086" stop-color="#161a46"/><stop offset="0.171" stop-color="#161a46"/><stop offset="0.235" stop-color="#161a46"/><stop offset="0.321" stop-color="#161a46"/><stop offset="0.406" stop-color="#161a46"/><stop offset="0.471" stop-color="#161a46"/><stop offset="0.556" stop-color="#161a46"/><stop offset="0.620" stop-color="#161a46"/><stop offset="0.706" stop-color="#161a46"/><stop offset="0.791" stop-color="#161a46"/><stop offset="0.856" stop-color="#161a46"/><stop offset="0.941" stop-color="#161a46"/><stop offset="1.000" stop-color="#161a46"/></linearGradient><polyline points="792.5,214.5 794.5,212.6 796.5,209.6 798.5,204.8 800.5,203.7 802.5,200.1 804.5,198.8 806.5,196.9 808.5,192.3 810.5,189.9 812.5,187 814.5,184.5 816.5,181.9 818.5,179.6 820.5,175.4 822.5,174.2 824.5,169.9 826.5,167.8 828.5,165.6 830.5,162.5 832.5,158.7 834.5,156.1 836.5,153.4 838.5,150.9 840.5,148.8 842.5,144.5 844.5,142.8 846.5,140.1 848.5,137.2 850.5,134.3 852.5,131.7 854.5,127.9 856.5,124.9 858.5,121.5 860.5,119 862.5,113.6 864.5,112.3 866.5,108.1 868.5,104.9 870.5,101.2 872.5,97.4 874.5,95 876.5,91.6 878.5,89 880.5,84.5 882.5,83 884.5,79 886,76.2" fill="none" stroke="url(#g53)" stroke-width="1.9" opacity="1.0" filter="url(#b05)"/><linearGradient id="g54" gradientUnits="userSpaceOnUse" x1="792.5" y1="0" x2="852.5" y2="0"><stop offset="0.000" stop-color="#161a46"/><stop offset="0.100" stop-color="#161a46"/><stop offset="0.167" stop-color="#161a46"/><stop offset="0.233" stop-color="#161a46"/><stop offset="0.333" stop-color="#161a46"/><stop offset="0.400" stop-color="#161a46"/><stop offset="0.467" stop-color="#161a46"/><stop offset="0.567" stop-color="#161a46"/><stop offset="0.633" stop-color="#161a46"/><stop offset="0.700" stop-color="#161a46"/><stop offset="0.800" stop-color="#161a46"/><stop offset="0.867" stop-color="#161a46"/><stop offset="0.933" stop-color="#161a46"/><stop offset="1.000" stop-color="#161a46"/></linearGradient><polyline points="792.5,70.8 794.5,68 796.5,65 798.5,62.6 800.5,60.2 802.5,57.3 804.5,53.8 806.5,51.8 808.5,48.6 810.5,46.5 812.5,44.7 814.5,41.2 816.5,37.9 818.5,34.3 820.5,31.7 822.5,28.7 824.5,27.4 826.5,23.7 828.5,21.4 830.5,18.2 832.5,15.9 834.5,13.9 836.5,9.8 838.5,7.2 840.5,4.2 842.5,2.4 844.5,-1.6 846.5,-4.4 848.5,-7.4 850.5,-10.3 852.5,-12.4" fill="none" stroke="url(#g54)" stroke-width="1.9" opacity="1.0" filter="url(#b05)"/><linearGradient id="g55" gradientUnits="userSpaceOnUse" x1="910.5" y1="0" x2="999" y2="0"><stop offset="0.000" stop-color="#0e0a10"/><stop offset="0.136" stop-color="#0e0a10"/><stop offset="0.249" stop-color="#0e0a10"/><stop offset="0.362" stop-color="#0e0a10"/><stop offset="0.475" stop-color="#0e0a10"/><stop offset="0.588" stop-color="#0e0a10"/><stop offset="0.678" stop-color="#0e0a11"/><stop offset="0.768" stop-color="#0e0a13"/><stop offset="0.859" stop-color="#0f0b18"/><stop offset="0.904" stop-color="#0f0d1d"/><stop offset="0.949" stop-color="#111028"/><stop offset="0.972" stop-color="#131331"/><stop offset="0.994" stop-color="#14173c"/><stop offset="1.000" stop-color="#141639"/></linearGradient><polyline points="910.5,644.4 912.5,639.7 914.5,638.9 916.5,636.4 918.5,632.6 920.5,629.7 922.5,625.2 924.5,623 926.5,619.6 928.5,616.8 930.5,614.7 932.5,610.7 934.5,608.1 936.5,604.1 938.5,602.1 940.5,599.3 942.5,595.9 944.5,592.9 946.5,591.5 948.5,586.6 950.5,583.7 952.5,580.9 954.5,579.1 956.5,576.7 958.5,572.7 960.5,568.9 962.5,565.6 964.5,563 966.5,558.4 968.5,556.3 970.5,552.8 972.5,548.5 974.5,545.4 976.5,542 978.5,539 980.5,533.9 982.5,531.8 984.5,527.4 986.5,523.7 988.5,520.7 990.5,517 992.5,513.1 994.5,509.2 996.5,506.1 998.5,504.1 999,503.5" fill="none" stroke="url(#g55)" stroke-width="2.8" opacity="1.0" filter="url(#b1)"/><linearGradient id="g56" gradientUnits="userSpaceOnUse" x1="910.5" y1="0" x2="999" y2="0"><stop offset="0.000" stop-color="#141639"/><stop offset="0.045" stop-color="#111028"/><stop offset="0.068" stop-color="#100e22"/><stop offset="0.113" stop-color="#0f0c1c"/><stop offset="0.158" stop-color="#0f0b18"/><stop offset="0.203" stop-color="#0e0b15"/><stop offset="0.294" stop-color="#0e0a12"/><stop offset="0.384" stop-color="#0e0a11"/><stop offset="0.475" stop-color="#0e0a10"/><stop offset="0.588" stop-color="#0e0a10"/><stop offset="0.701" stop-color="#0e0a10"/><stop offset="0.814" stop-color="#0e0a10"/><stop offset="0.927" stop-color="#0e0a10"/><stop offset="1.000" stop-color="#0e0a10"/></linearGradient><polyline points="910.5,501 912.5,504.4 914.5,506.4 916.5,509.7 918.5,513 920.5,515.2 922.5,518.3 924.5,522 926.5,524.7 928.5,527.3 930.5,531.2 932.5,533.9 934.5,537.7 936.5,540.1 938.5,543 940.5,546.3 942.5,549.1 944.5,551.9 946.5,555 948.5,558.8 950.5,561.7 952.5,565.2 954.5,566.4 956.5,570.2 958.5,573.3 960.5,576.8 962.5,580 964.5,583.6 966.5,588 968.5,591.2 970.5,594 972.5,599.1 974.5,602.5 976.5,605.2 978.5,609.7 980.5,612.3 982.5,617 984.5,619.8 986.5,623.1 988.5,627 990.5,630.3 992.5,634.5 994.5,638.1 996.5,641.6 998.5,644.9 999,643.9" fill="none" stroke="url(#g56)" stroke-width="2.8" opacity="1.0" filter="url(#b1)"/><linearGradient id="g57" gradientUnits="userSpaceOnUse" x1="910.5" y1="0" x2="999" y2="0"><stop offset="0.000" stop-color="#141639"/><stop offset="0.045" stop-color="#111028"/><stop offset="0.090" stop-color="#100d1e"/><stop offset="0.158" stop-color="#0f0b18"/><stop offset="0.226" stop-color="#0e0a14"/><stop offset="0.339" stop-color="#0e0a11"/><stop offset="0.475" stop-color="#0e0a10"/><stop offset="0.610" stop-color="#0e0a10"/><stop offset="0.746" stop-color="#0e0a12"/><stop offset="0.836" stop-color="#0f0b16"/><stop offset="0.904" stop-color="#0f0d1d"/><stop offset="0.949" stop-color="#111028"/><stop offset="0.994" stop-color="#14173c"/><stop offset="1.000" stop-color="#141639"/></linearGradient><polyline points="910.5,498.6 912.5,494.5 914.5,492.8 916.5,490.5 918.5,487 920.5,483.7 922.5,480.9 924.5,478 926.5,474.8 928.5,471.9 930.5,468.8 932.5,467.1 934.5,463.5 936.5,461.1 938.5,457.5 940.5,454.8 942.5,451.7 944.5,449.1 946.5,446.4 948.5,443.2 950.5,439.7 952.5,436.7 954.5,435.3 956.5,431.2 958.5,428.2 960.5,426.3 962.5,422.7 964.5,419 966.5,415.1 968.5,413.4 970.5,408.9 972.5,405.6 974.5,401.8 976.5,397.7 978.5,394.4 980.5,392.1 982.5,388.8 984.5,385 986.5,381.1 988.5,377.6 990.5,374.9 992.5,370.9 994.5,368.9 996.5,365.7 998.5,363.4 999,361.4" fill="none" stroke="url(#g57)" stroke-width="2.8" opacity="1.0" filter="url(#b1)"/><linearGradient id="g58" gradientUnits="userSpaceOnUse" x1="910.5" y1="0" x2="999" y2="0"><stop offset="0.000" stop-color="#141639"/><stop offset="0.045" stop-color="#111028"/><stop offset="0.090" stop-color="#100d1e"/><stop offset="0.158" stop-color="#0f0b18"/><stop offset="0.226" stop-color="#0e0a14"/><stop offset="0.339" stop-color="#0e0a11"/><stop offset="0.475" stop-color="#0e0a10"/><stop offset="0.610" stop-color="#0e0a10"/><stop offset="0.746" stop-color="#0e0a12"/><stop offset="0.836" stop-color="#0f0b16"/><stop offset="0.904" stop-color="#0f0d1d"/><stop offset="0.949" stop-color="#111028"/><stop offset="0.994" stop-color="#14173c"/><stop offset="1.000" stop-color="#141639"/></linearGradient><polyline points="910.5,354.9 912.5,357.8 914.5,359.4 916.5,364.2 918.5,367.5 920.5,371.3 922.5,374.2 924.5,377.3 926.5,380.1 928.5,383.5 930.5,387 932.5,388.6 934.5,392.1 936.5,394.6 938.5,399.5 940.5,402.4 942.5,405.2 944.5,407.1 946.5,411 948.5,413.9 950.5,417.1 952.5,420.1 954.5,423.6 956.5,426.1 958.5,430 960.5,432.9 962.5,436.3 964.5,440.1 966.5,443.7 968.5,448.1 970.5,451.2 972.5,455.3 974.5,458.6 976.5,461.7 978.5,466.9 980.5,469.4 982.5,474.2 984.5,477.8 986.5,480.3 988.5,484.5 990.5,488.4 992.5,492 994.5,495.5 996.5,500.4 998.5,503.6 999,504.9" fill="none" stroke="url(#g58)" stroke-width="2.8" opacity="1.0" filter="url(#b1)"/><linearGradient id="g59" gradientUnits="userSpaceOnUse" x1="910.5" y1="0" x2="999" y2="0"><stop offset="0.000" stop-color="#100e22"/><stop offset="0.090" stop-color="#100e22"/><stop offset="0.158" stop-color="#100e22"/><stop offset="0.249" stop-color="#100e22"/><stop offset="0.316" stop-color="#100e22"/><stop offset="0.407" stop-color="#100e22"/><stop offset="0.475" stop-color="#100e22"/><stop offset="0.565" stop-color="#100e22"/><stop offset="0.633" stop-color="#100e22"/><stop offset="0.723" stop-color="#100e22"/><stop offset="0.791" stop-color="#100e22"/><stop offset="0.881" stop-color="#100e22"/><stop offset="0.949" stop-color="#100e22"/><stop offset="1.000" stop-color="#100e22"/></linearGradient><polyline points="910.5,208.7 912.5,206.4 914.5,202.9 916.5,200.5 918.5,198 920.5,194.9 922.5,191.8 924.5,188.5 926.5,186.5 928.5,183.7 930.5,180.5 932.5,177.4 934.5,175.3 936.5,173.6 938.5,169.1 940.5,166.6 942.5,163.8 944.5,159.1 946.5,157.9 948.5,154.5 950.5,152.9 952.5,149.1 954.5,145.9 956.5,143.3 958.5,140.7 960.5,137.3 962.5,134.3 964.5,130.3 966.5,127.7 968.5,125 970.5,122.4 972.5,118.4 974.5,114.8 976.5,112 978.5,108.6 980.5,105.7 982.5,102 984.5,97.9 986.5,94.8 988.5,91.4 990.5,88.2 992.5,84.7 994.5,80.8 996.5,76.6 998.5,74.1 999,72.4" fill="none" stroke="url(#g59)" stroke-width="1.9" opacity="1.0" filter="url(#b05)"/><linearGradient id="g60" gradientUnits="userSpaceOnUse" x1="910.5" y1="0" x2="964.5" y2="0"><stop offset="0.000" stop-color="#100e22"/><stop offset="0.111" stop-color="#100e22"/><stop offset="0.185" stop-color="#100e22"/><stop offset="0.259" stop-color="#100e22"/><stop offset="0.333" stop-color="#100e22"/><stop offset="0.407" stop-color="#100e22"/><stop offset="0.481" stop-color="#100e22"/><stop offset="0.556" stop-color="#100e22"/><stop offset="0.630" stop-color="#100e22"/><stop offset="0.704" stop-color="#100e22"/><stop offset="0.778" stop-color="#100e22"/><stop offset="0.852" stop-color="#100e22"/><stop offset="0.926" stop-color="#100e22"/><stop offset="1.000" stop-color="#100e22"/></linearGradient><polyline points="910.5,65.2 912.5,62.3 914.5,58.5 916.5,57.1 918.5,54.4 920.5,51.1 922.5,49.2 924.5,46.5 926.5,41.8 928.5,40.3 930.5,37.1 932.5,34.2 934.5,31.7 936.5,27.8 938.5,25.1 940.5,22.1 942.5,19.3 944.5,16.8 946.5,13.1 948.5,10.5 950.5,8.6 952.5,5.3 954.5,2.7 956.5,-1.5 958.5,-3.7 960.5,-6.6 962.5,-9.5 964.5,-13.1" fill="none" stroke="url(#g60)" stroke-width="1.9" opacity="1.0" filter="url(#b05)"/><polyline points="146,97.4 146.9,105 147.8,102.3 148.7,99.6 149.6,101.8 150.5,100.4 151.4,107 152.3,103.6 153.2,99.1 154.1,103.8 155,101.8 155.9,107 156.8,100.5 157.7,98 158.6,103.2 159.5,102.3 160.4,102.3 161.3,98.5 162.2,104.3 163.1,107.1 164,99.3 164.9,106.1 165.8,102.4 166.7,108.9 167.6,104.7 168.5,103.4 169.4,106.4 170.3,105.2 171.2,102.8 172.1,105.7 173,103.1 173.9,100.4 174.8,108.8 175.7,103.7 176.6,103.2 177.5,105.4 178.4,101.2 179.3,101.8 180.2,103.7 181.1,103.8 182,105.3 182.9,107.7 183.8,104.4 184.7,106.6 185.6,107 186.5,103.4 187.4,106.5 188.3,104 189.2,108.6 190.1,107.4 191,106.5 191.9,103.7 192.8,107 193.7,105.2 194.6,108.6 195.5,106.9 196.4,105.6 197.3,109.5 198.2,109.2 199.1,106.5 200,110.5 200.9,107.4 201.8,107.5 202.7,108.6 203.6,106.8 204.5,107.6 205.4,108.4 206.3,112.2 207.2,112.3 208.1,108.6 209,112.8 209.9,109.3 210.8,110.7 211.7,112.2 212.6,111.3 213.5,116.4 214.4,112.1 215.3,109.4 216.2,115.3 217.1,112 218,112.6 218.9,107.2 219.8,116.4" fill="none" stroke="#22307a" stroke-width="2.2" stroke-linejoin="round"/><polyline points="146,102.6 147.2,102.7 148.4,102.9 149.6,103.6 150.8,102.3 152,103.7 153.2,102 154.4,102.4 155.6,103.6 156.8,103.2 158,101.9 159.2,103.4 160.4,103 161.6,102.6 162.8,103.7 164,103.1 165.2,102.3 166.4,102.8 167.6,105.2 168.8,102.7 170,104.2 171.2,104.6 172.4,104.7 173.6,103.3 174.8,104.1 176,104.6 177.2,105.2 178.4,105.2 179.6,103.9 180.8,105.7 182,103 183.2,105.6 184.4,105 185.6,106 186.8,106 188,106.7 189.2,105.2 190.4,106.5 191.6,106.5 192.8,105.9 194,107.1 195.2,107.2 196.4,107 197.6,107.8 198.8,106.6 200,107.9 201.2,108.4 202.4,109.1 203.6,110.3 204.8,108.1 206,107.6 207.2,107.4 208.4,109.6 209.6,111.1 210.8,110.3 212,109.7 213.2,111.6 214.4,108.7 215.6,111 216.8,114.8 218,113.6 219.2,114.5" fill="none" stroke="#2b3d96" stroke-width="1.0" stroke-linejoin="round"/><polyline points="146,237.8 146.9,236.3 147.8,234.5 148.7,237 149.6,241.3 150.5,235.5 151.4,239.8 152.3,240.4 153.2,240.7 154.1,235.5 155,242.1 155.9,237.8 156.8,237 157.7,237.1 158.6,239.1 159.5,237.9 160.4,237.5 161.3,240.9 162.2,236.4 163.1,235.7 164,240 164.9,239.9 165.8,240.9 166.7,236 167.6,241 168.5,239.7 169.4,242.7 170.3,235.9 171.2,239.3 172.1,238.2 173,235.3 173.9,237.4 174.8,241.7 175.7,238.1 176.6,237.6 177.5,241.3 178.4,241.7 179.3,241.8 180.2,237.8 181.1,239.6 182,242.2 182.9,238.5 183.8,238.4 184.7,242.2 185.6,244 186.5,237.9 187.4,234.7 188.3,237.5 189.2,238.6 190.1,240.8 191,242.7 191.9,241 192.8,239.9 193.7,242 194.6,239.6 195.5,241.8 196.4,240.6 197.3,248.4 198.2,244.2 199.1,240.6 200,240.3 200.9,241.8 201.8,239.1 202.7,241.4 203.6,241.5 204.5,245.4 205.4,242.5 206.3,241.8 207.2,240.7 208.1,241.2 209,243.9 209.9,243.7 210.8,247.2 211.7,243.5 212.6,247.9 213.5,246.5 214.4,246.3 215.3,242.1 216.2,244.2 217.1,249.3 218,251.3 218.9,249 219.8,250.7" fill="none" stroke="#a0284b" stroke-width="2.2" stroke-linejoin="round"/><polyline points="146,236.4 147.2,237.3 148.4,236.4 149.6,237.8 150.8,237.4 152,237.5 153.2,237 154.4,237.8 155.6,237.8 156.8,236.9 158,239.1 159.2,238 160.4,237.9 161.6,239.1 162.8,238.9 164,238.1 165.2,238.7 166.4,237.6 167.6,238 168.8,236.8 170,239.7 171.2,237.3 172.4,239.5 173.6,238.3 174.8,235.7 176,239.1 177.2,239.5 178.4,239.9 179.6,240.9 180.8,240 182,240.6 183.2,239.6 184.4,240.8 185.6,240.5 186.8,240.2 188,240.7 189.2,240.9 190.4,241.3 191.6,241.7 192.8,241.1 194,241.1 195.2,244.2 196.4,240.7 197.6,241.8 198.8,243.7 200,240.5 201.2,242.3 202.4,243.6 203.6,241.9 204.8,245.4 206,241.5 207.2,244.9 208.4,245.2 209.6,244.8 210.8,244.4 212,245.4 213.2,245 214.4,246.9 215.6,246 216.8,247.2 218,248.8 219.2,247.7" fill="none" stroke="#e12028" stroke-width="1.5" stroke-linejoin="round"/><polyline points="146,371.3 146.9,373.3 147.8,372.3 148.7,373.7 149.6,371 150.5,372.3 151.4,370.5 152.3,370.6 153.2,372 154.1,372.1 155,369.6 155.9,376.5 156.8,372.3 157.7,369.2 158.6,375.5 159.5,371 160.4,374.2 161.3,372.9 162.2,373.7 163.1,373.5 164,371.7 164.9,373.3 165.8,378.4 166.7,367.8 167.6,373.6 168.5,374.6 169.4,371 170.3,370.2 171.2,379.1 172.1,372.9 173,379.1 173.9,375.3 174.8,374.2 175.7,375.3 176.6,375.7 177.5,377.2 178.4,375.4 179.3,374.7 180.2,374.9 181.1,377.9 182,376.7 182.9,372.3 183.8,373.3 184.7,375.9 185.6,373.6 186.5,374.4 187.4,373 188.3,374.9 189.2,376.7 190.1,378.3 191,376 191.9,381.3 192.8,376 193.7,384.3 194.6,378.9 195.5,377.8 196.4,375.4 197.3,369.8 198.2,376.6 199.1,377.5 200,382 200.9,373.9 201.8,382.2 202.7,376.9 203.6,379.5 204.5,371.5 205.4,378.3 206.3,377.2 207.2,379.9 208.1,378.6 209,375.6 209.9,381 210.8,380.7 211.7,380.8 212.6,382.3 213.5,382.9 214.4,380.5 215.3,377.5 216.2,377.9 217.1,385.1 218,383.9 218.9,382.8 219.8,381.8" fill="none" stroke="#d8222d" stroke-width="2.4" stroke-linejoin="round"/><polyline points="146,371.8 147.2,371.9 148.4,371.7 149.6,371.5 150.8,373.9 152,372.4 153.2,371.9 154.4,371.4 155.6,372 156.8,371.5 158,370.7 159.2,372.6 160.4,372.9 161.6,372.7 162.8,372.2 164,374.2 165.2,373.6 166.4,375.3 167.6,372.8 168.8,373.4 170,374.3 171.2,373.5 172.4,372.7 173.6,373.2 174.8,374.1 176,374.4 177.2,374.1 178.4,375.1 179.6,375.2 180.8,374.8 182,373.4 183.2,376.9 184.4,375.5 185.6,375.9 186.8,375.4 188,375.9 189.2,375.4 190.4,374.7 191.6,375.2 192.8,376.8 194,376.7 195.2,377.8 196.4,376.7 197.6,377.6 198.8,378.1 200,376.8 201.2,376.9 202.4,377.4 203.6,377.8 204.8,377.1 206,378.4 207.2,379 208.4,378 209.6,380.1 210.8,378.7 212,379.3 213.2,379.8 214.4,380 215.6,381.4 216.8,381.6 218,383.4 219.2,383.1" fill="none" stroke="#ec1c24" stroke-width="2.6" stroke-linejoin="round"/><polyline points="146,371.8 147.2,371.9 148.4,371.7 149.6,371.5 150.8,373.9 152,372.4 153.2,371.9 154.4,371.4 155.6,372 156.8,371.5 158,370.7 159.2,372.6 160.4,372.9 161.6,372.7 162.8,372.2 164,374.2 165.2,373.6 166.4,375.3 167.6,372.8 168.8,373.4 170,374.3 171.2,373.5 172.4,372.7 173.6,373.2 174.8,374.1 176,374.4 177.2,374.1 178.4,375.1 179.6,375.2 180.8,374.8 182,373.4 183.2,376.9 184.4,375.5 185.6,375.9 186.8,375.4 188,375.9 189.2,375.4 190.4,374.7 191.6,375.2 192.8,376.8 194,376.7 195.2,377.8 196.4,376.7 197.6,377.6 198.8,378.1 200,376.8 201.2,376.9 202.4,377.4 203.6,377.8 204.8,377.1 206,378.4 207.2,379 208.4,378 209.6,380.1 210.8,378.7 212,379.3 213.2,379.8 214.4,380 215.6,381.4 216.8,381.6 218,383.4 219.2,383.1" fill="none" stroke="#f15e24" stroke-width="1.2" stroke-linejoin="round"/><polyline points="146,506.8 146.9,509 147.8,508.6 148.7,507.3 149.6,508 150.5,510.8 151.4,507.2 152.3,507.3 153.2,508.3 154.1,507.7 155,508.1 155.9,509.5 156.8,511.3 157.7,506.3 158.6,508.9 159.5,509 160.4,508.8 161.3,508.7 162.2,508.5 163.1,510.5 164,508.4 164.9,508.9 165.8,509.2 166.7,509.3 167.6,509 168.5,510.7 169.4,509.3 170.3,509.6 171.2,509.3 172.1,507.9 173,508.2 173.9,507.9 174.8,509.8 175.7,508.5 176.6,508 177.5,509.9 178.4,510.4 179.3,507.1 180.2,512.2 181.1,509.8 182,509.7 182.9,511.4 183.8,510.1 184.7,509.2 185.6,513.3 186.5,508.6 187.4,510.1 188.3,511.5 189.2,508.8 190.1,510.3 191,511 191.9,514 192.8,509.3 193.7,510.6 194.6,511.7 195.5,510.9 196.4,509.1 197.3,511.5 198.2,511.1 199.1,511.7 200,512.7 200.9,512.6 201.8,511.8 202.7,511.7 203.6,509.8 204.5,511.2 205.4,511.8 206.3,511 207.2,511.7 208.1,510.5 209,514 209.9,514.9 210.8,511.4 211.7,512.8 212.6,512 213.5,514.4 214.4,513.4 215.3,513.1 216.2,512.8 217.1,513.5 218,512.1 218.9,514.7 219.8,512.9" fill="none" stroke="#f05527" stroke-width="2.2" stroke-linejoin="round"/><polyline points="146,509 146.9,508.6 147.8,509.7 148.7,508.5 149.6,509.7 150.5,507.6 151.4,509.3 152.3,508.4 153.2,508.9 154.1,508.8 155,509.8 155.9,506.6 156.8,509.2 157.7,507.2 158.6,510.2 159.5,506.7 160.4,507.8 161.3,507.1 162.2,510.8 163.1,507.6 164,509.2 164.9,508.5 165.8,507.2 166.7,508.8 167.6,510 168.5,509.1 169.4,510.3 170.3,508.9 171.2,509.4 172.1,509 173,509.8 173.9,511.6 174.8,509.9 175.7,509.7 176.6,508.9 177.5,508.8 178.4,511.2 179.3,508.4 180.2,508.7 181.1,509.7 182,509.4 182.9,512.1 183.8,507.4 184.7,510.4 185.6,510.9 186.5,508.9 187.4,509.5 188.3,510.8 189.2,512.1 190.1,509.4 191,508.7 191.9,511.6 192.8,512.3 193.7,510.3 194.6,508.3 195.5,512.4 196.4,510.6 197.3,512.1 198.2,510.9 199.1,510.6 200,510.6 200.9,512.8 201.8,512.8 202.7,508.9 203.6,510.3 204.5,513.4 205.4,511.1 206.3,510 207.2,511.6 208.1,511.5 209,511.6 209.9,511.3 210.8,511.6 211.7,511.7 212.6,512.7 213.5,511.7 214.4,512.4 215.3,512.8 216.2,514.6 217.1,513.8 218,513.4 218.9,514.3 219.8,514.4" fill="none" stroke="#f8d618" stroke-width="2.3" stroke-linejoin="round"/><polyline points="231.8,100.2 232.7,98.9 233.6,101.8 234.5,100.8 235.4,97.8 236.3,97 237.2,99.9 238.1,99.1 239,97.8 239.9,94.7 240.8,94 241.7,98.8 242.6,99.7 243.5,99.8 244.4,95.3 245.3,100.4 246.2,97 247.1,99 248,99.1 248.9,96.4 249.8,96.9 250.7,93.8 251.6,96.4 252.5,94.6 253.4,99.6 254.3,98.9 255.2,100.9 256.1,99.8 257,97.7 257.9,99.9 258.8,98.4 259.7,100.7 260.6,100.2 261.5,97.4 262.4,99.7 263.3,100 264.2,99.3 265.1,102 266,103.9 266.9,99.5 267.8,99.6 268.7,95.5 269.6,100.3 270.5,99.8 271.4,96.1 272.3,101.6 273.2,102.4 274.1,99.6 275,100.5 275.9,99.4 276.8,103.3 277.7,98.4 278.6,101.2 279.5,106.3 280.4,102.3 281.3,103.3 282.2,102.1 283.1,99.9 284,102.6 284.9,103.7 285.8,100.7 286.7,103.8 287.6,105.9 288.5,105.7 289.4,99.9 290.3,101.5 291.2,100.3 292.1,106.5 293,105.8 293.9,106.3 294.8,103.1 295.7,102.8 296.6,105.8 297.5,106.2 298.4,104.3 299.3,106.8 300.2,108.2 301.1,107.6 302,105.1 302.9,103 303.8,107.4 304.7,108.6 305.6,108.1 306.5,108.2 307.4,108.1 308.3,111.7 309.2,110.4 310.1,111.3 311,109.4 311.9,110.6 312.8,112.8 313.7,111.3 314.6,113 315.5,117.2 316.4,122.8" fill="none" stroke="#22307a" stroke-width="2.2" stroke-linejoin="round"/><polyline points="231.8,96.3 233,100.9 234.2,97.7 235.4,97.6 236.6,96.8 237.8,97.5 239,99.1 240.2,98.3 241.4,98.6 242.6,98.6 243.8,98.1 245,97.9 246.2,102.4 247.4,98.7 248.6,98.6 249.8,98.6 251,98.5 252.2,97.8 253.4,96.5 254.6,98 255.8,99.7 257,97.4 258.2,99 259.4,103.3 260.6,99.2 261.8,98.8 263,99.8 264.2,101 265.4,102.1 266.6,100.7 267.8,100.5 269,100.2 270.2,103.2 271.4,100.9 272.6,100.6 273.8,100.8 275,101.7 276.2,101.9 277.4,102.3 278.6,102 279.8,100.9 281,102.6 282.2,102.1 283.4,102.3 284.6,101.6 285.8,102.5 287,99.4 288.2,103.2 289.4,102.3 290.6,103.7 291.8,104.2 293,103.6 294.2,104.4 295.4,104.6 296.6,106.4 297.8,104 299,106.1 300.2,105.5 301.4,106.8 302.6,108.3 303.8,107.5 305,108.5 306.2,108.3 307.4,111.2 308.6,111 309.8,111.8 311,110.4 312.2,111.2 313.4,113.6 314.6,115.6 315.8,118.5" fill="none" stroke="#2b3d96" stroke-width="1.0" stroke-linejoin="round"/><polyline points="231.8,236.3 232.7,233.8 233.6,227.1 234.5,232 235.4,233.3 236.3,235.7 237.2,232.8 238.1,233 239,232 239.9,235.1 240.8,232.6 241.7,232.2 242.6,231.9 243.5,234.9 244.4,232.5 245.3,229.8 246.2,235.2 247.1,232.1 248,234.6 248.9,234.6 249.8,236.6 250.7,236.3 251.6,232.7 252.5,233.7 253.4,231.3 254.3,238.2 255.2,235.5 256.1,237.8 257,233.9 257.9,230.1 258.8,238.4 259.7,235.2 260.6,235.4 261.5,235.3 262.4,236.8 263.3,236.6 264.2,231.9 265.1,238.1 266,234.5 266.9,234.8 267.8,239.9 268.7,238.2 269.6,235.4 270.5,232 271.4,236.8 272.3,237.8 273.2,236.5 274.1,234 275,235.1 275.9,234.2 276.8,237.7 277.7,239.2 278.6,239.8 279.5,235.9 280.4,238.3 281.3,239.1 282.2,236.8 283.1,237.8 284,243.1 284.9,238.8 285.8,240.5 286.7,237.6 287.6,238.8 288.5,234.9 289.4,239 290.3,241.9 291.2,244.3 292.1,242.5 293,241.6 293.9,240.5 294.8,239.3 295.7,240.6 296.6,242.6 297.5,239.7 298.4,244 299.3,239.8 300.2,238.3 301.1,240.3 302,239.1 302.9,240.1 303.8,246.2 304.7,243.4 305.6,244.8 306.5,247.4 307.4,248.1 308.3,244.5 309.2,249.2 310.1,247.5 311,247.1 311.9,248.6 312.8,244.7 313.7,247.3 314.6,251.1 315.5,255 316.4,254.9" fill="none" stroke="#a0284b" stroke-width="2.2" stroke-linejoin="round"/><polyline points="231.8,233.3 233,234.2 234.2,234.6 235.4,234.1 236.6,234.5 237.8,233.2 239,233.3 240.2,233.8 241.4,233.4 242.6,233.2 243.8,235 245,233.4 246.2,232.9 247.4,234.1 248.6,235.2 249.8,233.9 251,234.9 252.2,233.7 253.4,233.8 254.6,233.8 255.8,234.4 257,236.1 258.2,233.9 259.4,236.3 260.6,234.3 261.8,235.5 263,236.1 264.2,236 265.4,235.9 266.6,234.5 267.8,236.3 269,235.3 270.2,238.3 271.4,236.3 272.6,236.8 273.8,235.9 275,236.6 276.2,236.1 277.4,238.1 278.6,237.3 279.8,238.1 281,236.9 282.2,237.6 283.4,239.2 284.6,237.5 285.8,237.1 287,239 288.2,237.9 289.4,238.7 290.6,240 291.8,239 293,240.8 294.2,239.9 295.4,242.2 296.6,242.3 297.8,241.2 299,241.8 300.2,241.7 301.4,242.9 302.6,244.1 303.8,242.4 305,244.7 306.2,243.5 307.4,245 308.6,244.4 309.8,248.1 311,247.1 312.2,247.9 313.4,250.2 314.6,248.5 315.8,252.6" fill="none" stroke="#e12028" stroke-width="1.5" stroke-linejoin="round"/><polyline points="231.8,367.7 232.7,365.9 233.6,367.9 234.5,368.9 235.4,372.1 236.3,365.7 237.2,372.1 238.1,374.6 239,371.1 239.9,370.9 240.8,369.6 241.7,366.7 242.6,371 243.5,370.6 244.4,371.5 245.3,376.1 246.2,371.5 247.1,370.8 248,373.7 248.9,366.4 249.8,366.9 250.7,368.9 251.6,368.3 252.5,371.8 253.4,369.4 254.3,374.6 255.2,374.2 256.1,372.4 257,369.6 257.9,372.2 258.8,372.8 259.7,368.2 260.6,371.8 261.5,372.8 262.4,371.7 263.3,375.2 264.2,374.4 265.1,369.4 266,371.9 266.9,369.6 267.8,373.2 268.7,369.7 269.6,374.3 270.5,373 271.4,374.6 272.3,371.9 273.2,368.8 274.1,376.9 275,372.2 275.9,376.2 276.8,374 277.7,374.7 278.6,377.7 279.5,374.1 280.4,376.9 281.3,369.8 282.2,375.8 283.1,373.1 284,373.5 284.9,374 285.8,374.9 286.7,378.3 287.6,369.7 288.5,374.5 289.4,372.7 290.3,377.6 291.2,373.9 292.1,376.4 293,374.5 293.9,377.4 294.8,378.5 295.7,375.3 296.6,376.7 297.5,373.2 298.4,377.8 299.3,379.5 300.2,376.2 301.1,380.7 302,372.9 302.9,373.8 303.8,375.2 304.7,377.7 305.6,379.3 306.5,379.5 307.4,380 308.3,382.4 309.2,379.8 310.1,378.3 311,378.7 311.9,387.6 312.8,376.8 313.7,383.2 314.6,389.4 315.5,389 316.4,387.7" fill="none" stroke="#d8222d" stroke-width="2.4" stroke-linejoin="round"/><polyline points="231.8,369.4 233,370.1 234.2,370.4 235.4,368.8 236.6,370.1 237.8,369.4 239,370.4 240.2,370.7 241.4,369.3 242.6,368.5 243.8,370 245,372 246.2,370.3 247.4,369.9 248.6,370.7 249.8,369 251,370.6 252.2,369.6 253.4,370.2 254.6,370.9 255.8,371.6 257,369.8 258.2,370.3 259.4,368 260.6,371.4 261.8,370.7 263,371.6 264.2,370.5 265.4,371.2 266.6,372.5 267.8,371.6 269,372.4 270.2,372.4 271.4,371.9 272.6,371.1 273.8,375.6 275,372.8 276.2,373.6 277.4,371.4 278.6,371.8 279.8,371.6 281,372.7 282.2,374.4 283.4,374.2 284.6,373.9 285.8,374.2 287,374.8 288.2,374.1 289.4,374.8 290.6,374.9 291.8,373.4 293,375.2 294.2,380.7 295.4,375.9 296.6,376.4 297.8,376.4 299,376.9 300.2,378.5 301.4,374.9 302.6,377.5 303.8,376.2 305,378.5 306.2,379.9 307.4,380 308.6,381.4 309.8,381.9 311,380.3 312.2,383.1 313.4,383.4 314.6,385.1 315.8,391.7" fill="none" stroke="#ec1c24" stroke-width="2.6" stroke-linejoin="round"/><polyline points="231.8,369.4 233,370.1 234.2,370.4 235.4,368.8 236.6,370.1 237.8,369.4 239,370.4 240.2,370.7 241.4,369.3 242.6,368.5 243.8,370 245,372 246.2,370.3 247.4,369.9 248.6,370.7 249.8,369 251,370.6 252.2,369.6 253.4,370.2 254.6,370.9 255.8,371.6 257,369.8 258.2,370.3 259.4,368 260.6,371.4 261.8,370.7 263,371.6 264.2,370.5 265.4,371.2 266.6,372.5 267.8,371.6 269,372.4 270.2,372.4 271.4,371.9 272.6,371.1 273.8,375.6 275,372.8 276.2,373.6 277.4,371.4 278.6,371.8 279.8,371.6 281,372.7 282.2,374.4 283.4,374.2 284.6,373.9 285.8,374.2 287,374.8 288.2,374.1 289.4,374.8 290.6,374.9 291.8,373.4 293,375.2 294.2,380.7 295.4,375.9 296.6,376.4 297.8,376.4 299,376.9 300.2,378.5 301.4,374.9 302.6,377.5 303.8,376.2 305,378.5 306.2,379.9 307.4,380 308.6,381.4 309.8,381.9 311,380.3 312.2,383.1 313.4,383.4 314.6,385.1 315.8,391.7" fill="none" stroke="#f15e24" stroke-width="1.2" stroke-linejoin="round"/><polyline points="231.8,508.3 232.7,507.4 233.6,508.2 234.5,508.4 235.4,505.2 236.3,507 237.2,505.5 238.1,507.4 239,506.2 239.9,509.2 240.8,508 241.7,506.1 242.6,507.2 243.5,505.5 244.4,507.3 245.3,508.1 246.2,507.7 247.1,504.5 248,506.8 248.9,508 249.8,507.8 250.7,509 251.6,505.5 252.5,508.2 253.4,506.6 254.3,507.8 255.2,508.2 256.1,508.6 257,506.9 257.9,508 258.8,506.1 259.7,505.8 260.6,508.7 261.5,507.9 262.4,505.7 263.3,506.8 264.2,508.1 265.1,510.4 266,509.7 266.9,509.4 267.8,505.7 268.7,508.2 269.6,509.1 270.5,509 271.4,509.1 272.3,508.2 273.2,511.2 274.1,510.8 275,508.6 275.9,507.4 276.8,511.8 277.7,508.1 278.6,510.7 279.5,511.8 280.4,507.7 281.3,509.6 282.2,508.7 283.1,510 284,509.8 284.9,512.2 285.8,510.3 286.7,509.5 287.6,511.2 288.5,509.2 289.4,509.1 290.3,513 291.2,508.7 292.1,509.3 293,510.2 293.9,508.8 294.8,507.4 295.7,512.1 296.6,509.5 297.5,510 298.4,510.4 299.3,509.7 300.2,509.7 301.1,511.6 302,515 302.9,512.7 303.8,512.8 304.7,509.7 305.6,512 306.5,510.6 307.4,513.6 308.3,512.4 309.2,513 310.1,513 311,512.5 311.9,511.4 312.8,514.6 313.7,512.2 314.6,513.6 315.5,515.9 316.4,516.3" fill="none" stroke="#f05527" stroke-width="2.2" stroke-linejoin="round"/><polyline points="231.8,507.4 232.7,508.3 233.6,507.4 234.5,507.4 235.4,507.2 236.3,508.1 237.2,505.2 238.1,507.6 239,506.2 239.9,505.9 240.8,507.2 241.7,506.8 242.6,507.9 243.5,508.5 244.4,504.7 245.3,507.2 246.2,509.4 247.1,508.3 248,508.9 248.9,507.4 249.8,505.8 250.7,506.1 251.6,508.2 252.5,508.5 253.4,506.7 254.3,507.3 255.2,507.9 256.1,505.7 257,507.3 257.9,509.5 258.8,510.2 259.7,507.7 260.6,509.9 261.5,507.4 262.4,507.1 263.3,505.6 264.2,509.2 265.1,507.8 266,510.8 266.9,508.6 267.8,508.5 268.7,506.4 269.6,510.1 270.5,508.1 271.4,508.3 272.3,506.2 273.2,509.7 274.1,509.8 275,508.1 275.9,508.9 276.8,509.3 277.7,510 278.6,509.1 279.5,510.9 280.4,508.8 281.3,508.5 282.2,508.7 283.1,506.5 284,508.5 284.9,510.5 285.8,509.8 286.7,508.6 287.6,510 288.5,507.4 289.4,509.4 290.3,510.4 291.2,510.7 292.1,509.2 293,511.2 293.9,512.4 294.8,510 295.7,511.4 296.6,509 297.5,508.7 298.4,511.6 299.3,511.2 300.2,511.5 301.1,510.7 302,511.2 302.9,512.5 303.8,513.7 304.7,511.7 305.6,510.3 306.5,513.7 307.4,513.2 308.3,513.5 309.2,513.1 310.1,515.7 311,513.5 311.9,514.2 312.8,511.8 313.7,513.6 314.6,514.5 315.5,516.3 316.4,517.7" fill="none" stroke="#f8d618" stroke-width="2.3" stroke-linejoin="round"/><polyline points="353.4,62.4 354.3,70.5 355.2,66.9 356.1,70.9 357,75.1 357.9,73.1 358.8,77.5 359.7,78 360.6,76.4 361.5,81.6 362.4,77.9 363.3,78.7 364.2,76.4 365.1,75.2 366,77.8 366.9,78.9 367.8,78.9 368.7,82 369.6,75.4 370.5,78.6 371.4,77.4 372.3,84.7 373.2,80.9 374.1,81.4 375,80.5 375.9,85.2 376.8,82.7 377.7,84.5 378.6,79.9 379.5,87.3 380.4,85.9 381.3,86.4 382.2,88 383.1,85 384,85.2 384.9,87.3 385.8,86.8 386.7,85.4 387.6,86.2 388.5,85.1 389.4,88 390.3,88.6 391.2,86.7 392.1,90.9 393,83.6 393.9,86.6 394.8,91 395.7,86.4 396.6,84 397.5,90.7 398.4,89 399.3,85.3 400.2,89.8 401.1,85.9 402,85.4 402.9,88.1 403.8,87.6 404.7,86.3 405.6,88.1 406.5,86.8 407.4,89.3 408.3,89.3 409.2,91.1 410.1,88.6 411,87.1 411.9,87.5 412.8,90.3 413.7,94.6 414.6,93.5 415.5,90.6 416.4,94.5 417.3,90.2 418.2,95.4 419.1,92.7 420,95.7 420.9,97.5 421.8,97.7 422.7,101.1 423.6,100.2 424.5,104.6" fill="none" stroke="#22307a" stroke-width="2.2" stroke-linejoin="round"/><polyline points="353.4,65 354.6,70.9 355.8,71.7 357,74.7 358.2,75.3 359.4,80.1 360.6,76.4 361.8,76.9 363,78.4 364.2,77.6 365.4,80.3 366.6,78.8 367.8,79.6 369,80.1 370.2,79.9 371.4,80.4 372.6,82.3 373.8,83 375,83.3 376.2,83.7 377.4,83.5 378.6,84.7 379.8,83.8 381,85.2 382.2,86.5 383.4,86.6 384.6,85.4 385.8,85.6 387,87.2 388.2,87.7 389.4,85.3 390.6,86.3 391.8,90.3 393,88 394.2,86.5 395.4,87.9 396.6,87.3 397.8,89.7 399,88.3 400.2,88 401.4,88 402.6,89.3 403.8,89.2 405,88 406.2,89.2 407.4,88.2 408.6,84.2 409.8,88.6 411,89 412.2,90.1 413.4,90.3 414.6,91.9 415.8,92.8 417,92.5 418.2,92.3 419.4,94.4 420.6,91.9 421.8,96.8 423,101.8 424.2,104.6" fill="none" stroke="#2b3d96" stroke-width="1.0" stroke-linejoin="round"/><polyline points="353.4,204 354.3,205 355.2,210.8 356.1,207.9 357,213.7 357.9,215.2 358.8,214.2 359.7,216.9 360.6,215.4 361.5,215.4 362.4,221.8 363.3,219.7 364.2,221.2 365.1,218.9 366,221.4 366.9,221.3 367.8,222.7 368.7,225.7 369.6,220.1 370.5,221.6 371.4,221.2 372.3,213.6 373.2,218.9 374.1,222.5 375,224.3 375.9,221.9 376.8,226.2 377.7,226.9 378.6,223.4 379.5,228 380.4,229 381.3,226.2 382.2,223 383.1,228.7 384,225.1 384.9,224.8 385.8,226.1 386.7,224.7 387.6,228.5 388.5,228 389.4,229.1 390.3,227.8 391.2,224.8 392.1,226.4 393,228.9 393.9,226.1 394.8,233.9 395.7,226.8 396.6,226.1 397.5,230.2 398.4,229.5 399.3,227.8 400.2,227.5 401.1,229.1 402,230.2 402.9,230.2 403.8,227.9 404.7,229.7 405.6,230.8 406.5,230.7 407.4,222 408.3,227.2 409.2,227.6 410.1,229 411,230.4 411.9,232.5 412.8,232.2 413.7,230.9 414.6,231.6 415.5,236 416.4,230.9 417.3,233.4 418.2,236.7 419.1,234.3 420,229.2 420.9,236.9 421.8,237.3 422.7,240.1 423.6,244.9 424.5,245.8" fill="none" stroke="#7a2b5f" stroke-width="2.2" stroke-linejoin="round"/><polyline points="353.4,203.8 354.6,208.2 355.8,213.1 357,214.6 358.2,216.2 359.4,216.7 360.6,216.7 361.8,217.1 363,218 364.2,217.7 365.4,217.9 366.6,220.5 367.8,219.7 369,220.4 370.2,220.8 371.4,221.4 372.6,219.7 373.8,222.4 375,222.2 376.2,224.1 377.4,223.3 378.6,225.2 379.8,223.3 381,224.2 382.2,227.9 383.4,225.3 384.6,225.1 385.8,226.1 387,225.1 388.2,226.2 389.4,225.2 390.6,226.2 391.8,226.2 393,226 394.2,227.8 395.4,226.6 396.6,228.9 397.8,227.2 399,226.2 400.2,226.1 401.4,229.4 402.6,228.3 403.8,231.2 405,228.2 406.2,228.1 407.4,230.2 408.6,229.2 409.8,230.9 411,229.8 412.2,228.6 413.4,231.7 414.6,231.2 415.8,231.9 417,233.9 418.2,232.9 419.4,234.6 420.6,235.4 421.8,237.6 423,241.5 424.2,242.3" fill="none" stroke="#be263c" stroke-width="1.5" stroke-linejoin="round"/><polyline points="353.4,347.2 354.3,344.7 355.2,352.1 356.1,356.1 357,353.2 357.9,357.2 358.8,354.2 359.7,358.6 360.6,357.9 361.5,358.5 362.4,361.7 363.3,359.8 364.2,362.3 365.1,360.9 366,356.6 366.9,360.6 367.8,361.5 368.7,357 369.6,364.3 370.5,361.5 371.4,362.6 372.3,359.7 373.2,362.5 374.1,363.4 375,362.2 375.9,363.5 376.8,358.4 377.7,367.4 378.6,361.5 379.5,359.2 380.4,362.5 381.3,362.9 382.2,366.5 383.1,363 384,366.1 384.9,363.1 385.8,371.2 386.7,367.1 387.6,370.8 388.5,363.5 389.4,367.8 390.3,363.9 391.2,367.9 392.1,368.2 393,362.7 393.9,363.9 394.8,364 395.7,363.3 396.6,365.3 397.5,364.9 398.4,363.8 399.3,367.8 400.2,369 401.1,364.5 402,366.5 402.9,368.1 403.8,367.6 404.7,366.5 405.6,370.4 406.5,370.7 407.4,370.4 408.3,368.3 409.2,373.9 410.1,373.4 411,368.4 411.9,369.5 412.8,373.1 413.7,368.5 414.6,371.9 415.5,371.3 416.4,369.8 417.3,371.4 418.2,368.4 419.1,371.3 420,368 420.9,380.7 421.8,380.7 422.7,382 423.6,381.6 424.5,385.3" fill="none" stroke="#d8222d" stroke-width="2.4" stroke-linejoin="round"/><polyline points="353.4,346.8 354.6,349.8 355.8,352.9 357,354.6 358.2,357 359.4,356.7 360.6,356.7 361.8,357.1 363,362.2 364.2,359.8 365.4,358.3 366.6,361.2 367.8,361.4 369,360.4 370.2,360.8 371.4,361.5 372.6,362.8 373.8,362.2 375,362.1 376.2,363.7 377.4,362.2 378.6,364.4 379.8,365.7 381,365.2 382.2,365.7 383.4,365.7 384.6,366 385.8,366.7 387,365.1 388.2,365.8 389.4,368.9 390.6,367.3 391.8,367.8 393,367 394.2,366.9 395.4,366.4 396.6,367 397.8,368.4 399,367.7 400.2,367.6 401.4,367.2 402.6,368.7 403.8,368.4 405,368.3 406.2,368.6 407.4,370 408.6,369.9 409.8,370.3 411,370.4 412.2,369.9 413.4,371.1 414.6,371 415.8,370.7 417,371.6 418.2,371.6 419.4,373.2 420.6,374.3 421.8,377.4 423,380.2 424.2,381.3" fill="none" stroke="#ec1c24" stroke-width="2.6" stroke-linejoin="round"/><polyline points="353.4,346.8 354.6,349.8 355.8,352.9 357,354.6 358.2,357 359.4,356.7 360.6,356.7 361.8,357.1 363,362.2 364.2,359.8 365.4,358.3 366.6,361.2 367.8,361.4 369,360.4 370.2,360.8 371.4,361.5 372.6,362.8 373.8,362.2 375,362.1 376.2,363.7 377.4,362.2 378.6,364.4 379.8,365.7 381,365.2 382.2,365.7 383.4,365.7 384.6,366 385.8,366.7 387,365.1 388.2,365.8 389.4,368.9 390.6,367.3 391.8,367.8 393,367 394.2,366.9 395.4,366.4 396.6,367 397.8,368.4 399,367.7 400.2,367.6 401.4,367.2 402.6,368.7 403.8,368.4 405,368.3 406.2,368.6 407.4,370 408.6,369.9 409.8,370.3 411,370.4 412.2,369.9 413.4,371.1 414.6,371 415.8,370.7 417,371.6 418.2,371.6 419.4,373.2 420.6,374.3 421.8,377.4 423,380.2 424.2,381.3" fill="none" stroke="#f15e24" stroke-width="1.2" stroke-linejoin="round"/><polyline points="353.4,496.1 354.3,497.9 355.2,495.5 356.1,499.8 357,499.3 357.9,499.6 358.8,499.7 359.7,502.9 360.6,502.5 361.5,500.4 362.4,500 363.3,501.8 364.2,501.3 365.1,504.5 366,500.2 366.9,499.8 367.8,502.3 368.7,502.8 369.6,503.2 370.5,504.2 371.4,506.3 372.3,503 373.2,502.8 374.1,501.3 375,504.3 375.9,505.4 376.8,503.9 377.7,506.2 378.6,504.7 379.5,507 380.4,505.4 381.3,503.5 382.2,504.1 383.1,502.9 384,502.7 384.9,505.6 385.8,506.6 386.7,508.2 387.6,505.4 388.5,505.2 389.4,503.9 390.3,507.1 391.2,506.2 392.1,504.9 393,506.8 393.9,506.7 394.8,503.2 395.7,507.1 396.6,506.3 397.5,505.6 398.4,505.6 399.3,508.8 400.2,508.5 401.1,509 402,504.8 402.9,505.6 403.8,507.9 404.7,504.9 405.6,505.6 406.5,504.1 407.4,509.5 408.3,508.4 409.2,507.6 410.1,507.3 411,506.6 411.9,506.8 412.8,508.5 413.7,506.7 414.6,509.7 415.5,507.4 416.4,507 417.3,510.3 418.2,508.4 419.1,509.6 420,508.4 420.9,506.7 421.8,511.7 422.7,510 423.6,514.5 424.5,511.6" fill="none" stroke="#f05527" stroke-width="2.2" stroke-linejoin="round"/><polyline points="353.4,493.3 354.3,496.9 355.2,498.3 356.1,499.1 357,498.8 357.9,501.8 358.8,499.3 359.7,500.6 360.6,500.4 361.5,501 362.4,502.6 363.3,501.1 364.2,502.6 365.1,502.9 366,500.4 366.9,501.2 367.8,502.2 368.7,502.1 369.6,503.3 370.5,501 371.4,504.1 372.3,504.3 373.2,503.5 374.1,502.3 375,504 375.9,503.5 376.8,504.9 377.7,504.4 378.6,505.4 379.5,504.3 380.4,506.5 381.3,502.5 382.2,503.9 383.1,505.7 384,503.5 384.9,506.1 385.8,504 386.7,505.5 387.6,504.4 388.5,505 389.4,505.8 390.3,505.5 391.2,505.3 392.1,508.1 393,505.8 393.9,504.8 394.8,507 395.7,506.9 396.6,507.4 397.5,508.1 398.4,505.2 399.3,507.4 400.2,507.6 401.1,506.4 402,506.7 402.9,503.2 403.8,505.9 404.7,508.6 405.6,504.7 406.5,506.2 407.4,507.1 408.3,507.5 409.2,508.7 410.1,505.1 411,507.2 411.9,508.3 412.8,506.1 413.7,507.7 414.6,510 415.5,509.5 416.4,508.9 417.3,505.6 418.2,508.5 419.1,509.2 420,508.7 420.9,509.9 421.8,514.3 422.7,511.7 423.6,511.8 424.5,514.2" fill="none" stroke="#f8d618" stroke-width="2.3" stroke-linejoin="round"/><polyline points="464.1,66.2 465,67.6 465.9,69.4 466.8,72.6 467.7,72.7 468.6,70.9 469.5,74.6 470.4,77.3 471.3,75.9 472.2,79.6 473.1,78.9 474,75.2 474.9,78.2 475.8,82 476.7,81.2 477.6,77.8 478.5,80 479.4,76.7 480.3,75.2 481.2,79.7 482.1,79.2 483,79.9 483.9,78.9 484.8,79.8 485.7,78.1 486.6,80.5 487.5,81.4 488.4,79.6 489.3,81.6 490.2,76.1 491.1,78.4 492,83.5 492.9,84.3 493.8,81.1 494.7,80.5 495.6,78.1 496.5,81.8 497.4,82.9 498.3,78.1 499.2,82.7 500.1,82.7 501,82.8 501.9,79.5 502.8,83.3 503.7,78.9 504.6,85.7 505.5,82.8 506.4,80.1 507.3,85.8 508.2,85.5 509.1,81.7 510,88.1 510.9,81.2 511.8,84.3 512.7,86.3 513.6,78.9 514.5,86.3 515.4,84.2 516.3,84.5 517.2,82.4 518.1,85.7 519,82.7 519.9,83.3 520.8,84.6 521.7,83.1 522.6,89.5 523.5,83.3 524.4,84.8 525.3,86 526.2,86.9 527.1,88.9 528,89.2 528.9,86.9 529.8,86.9 530.7,88.1 531.6,90 532.5,90 533.4,87.5 534.3,90.2" fill="none" stroke="#22307a" stroke-width="2.2" stroke-linejoin="round"/><polyline points="464.1,68.6 465.3,69.4 466.5,70.7 467.7,72.5 468.9,73.6 470.1,75 471.3,76.6 472.5,76.9 473.7,76.8 474.9,78 476.1,77.4 477.3,78.3 478.5,77.7 479.7,78.3 480.9,76.8 482.1,78 483.3,81.9 484.5,78.1 485.7,79.3 486.9,79.8 488.1,79 489.3,80.2 490.5,79.7 491.7,80.7 492.9,80.2 494.1,79.4 495.3,80.8 496.5,80.8 497.7,81.8 498.9,81.1 500.1,81.3 501.3,82.5 502.5,83 503.7,82.8 504.9,83.3 506.1,83 507.3,83.4 508.5,83.7 509.7,83.5 510.9,85.3 512.1,83.7 513.3,85.7 514.5,84.1 515.7,84.2 516.9,84.4 518.1,84.9 519.3,85.4 520.5,84.6 521.7,84.2 522.9,86.4 524.1,85.1 525.3,86.9 526.5,87.1 527.7,88.2 528.9,88.9 530.1,88.2 531.3,87.7 532.5,87.5 533.7,85.6" fill="none" stroke="#2b3d96" stroke-width="1.0" stroke-linejoin="round"/><polyline points="464.1,203.3 465,212.7 465.9,206.3 466.8,212.9 467.7,216.5 468.6,213.4 469.5,219.5 470.4,221.3 471.3,219.9 472.2,223.4 473.1,219.5 474,216.5 474.9,219.6 475.8,217.5 476.7,215.7 477.6,215.9 478.5,224.3 479.4,217.9 480.3,219.2 481.2,217.9 482.1,219.9 483,219.2 483.9,218.9 484.8,217.2 485.7,216.9 486.6,218.6 487.5,221.1 488.4,225.4 489.3,223.2 490.2,225.1 491.1,222.2 492,221 492.9,218.3 493.8,221.5 494.7,216.7 495.6,221.1 496.5,225.7 497.4,222.9 498.3,224.9 499.2,221.5 500.1,219.4 501,221.6 501.9,222 502.8,225.8 503.7,227.7 504.6,221.6 505.5,222.6 506.4,223.3 507.3,223 508.2,221 509.1,224.3 510,225 510.9,225.2 511.8,221.7 512.7,224.4 513.6,220.8 514.5,227.1 515.4,222.9 516.3,224.8 517.2,224.7 518.1,224.6 519,223.7 519.9,222.3 520.8,230.5 521.7,227.4 522.6,227.6 523.5,232 524.4,227.2 525.3,228.9 526.2,227.9 527.1,230.8 528,229.5 528.9,229.3 529.8,228.2 530.7,229.6 531.6,231.9 532.5,224.6 533.4,229.3 534.3,234.8" fill="none" stroke="#7a2b5f" stroke-width="2.2" stroke-linejoin="round"/><polyline points="464.1,207.6 465.3,208 466.5,211.9 467.7,212.5 468.9,214.7 470.1,216.3 471.3,216.5 472.5,217.6 473.7,216.7 474.9,217.6 476.1,218.3 477.3,218.8 478.5,219 479.7,219.1 480.9,221.1 482.1,219.9 483.3,218.8 484.5,219.5 485.7,219.6 486.9,220.2 488.1,220.1 489.3,220.1 490.5,222.3 491.7,221.2 492.9,221.1 494.1,221.4 495.3,224.9 496.5,223.1 497.7,222.5 498.9,223.2 500.1,220.1 501.3,223 502.5,223.8 503.7,224.7 504.9,223.4 506.1,222.2 507.3,224.2 508.5,223.5 509.7,222.7 510.9,223.8 512.1,225.4 513.3,225.7 514.5,225.6 515.7,224.5 516.9,227.6 518.1,224.9 519.3,226.1 520.5,225.3 521.7,227.8 522.9,227.4 524.1,228 525.3,227.7 526.5,227.9 527.7,228.3 528.9,227 530.1,229.6 531.3,229.8 532.5,229 533.7,231.1" fill="none" stroke="#be263c" stroke-width="1.5" stroke-linejoin="round"/><polyline points="464.1,348.8 465,352.5 465.9,348.9 466.8,350.4 467.7,356.8 468.6,352.3 469.5,361 470.4,358 471.3,359.9 472.2,359.6 473.1,360.6 474,359 474.9,358.9 475.8,359.6 476.7,362.7 477.6,363 478.5,363.5 479.4,361.4 480.3,360.1 481.2,356.5 482.1,362.5 483,363.1 483.9,360.1 484.8,363.3 485.7,364.6 486.6,361.8 487.5,364.3 488.4,362.6 489.3,357.6 490.2,360.9 491.1,361.2 492,363.7 492.9,360.3 493.8,361.5 494.7,360.4 495.6,362.8 496.5,363.2 497.4,365.6 498.3,365.3 499.2,363.9 500.1,364.2 501,364 501.9,364.1 502.8,367.9 503.7,357.9 504.6,363.8 505.5,365.2 506.4,367.4 507.3,361.9 508.2,365.7 509.1,367.1 510,364 510.9,360.4 511.8,364.4 512.7,362.5 513.6,367.2 514.5,363.7 515.4,370.5 516.3,366.6 517.2,364.4 518.1,365.3 519,364.1 519.9,368 520.8,370.9 521.7,366.9 522.6,369.9 523.5,365.4 524.4,368.8 525.3,373.9 526.2,364.9 527.1,371.7 528,371.7 528.9,364.3 529.8,365.6 530.7,366.9 531.6,372 532.5,368.7 533.4,369.6 534.3,377.3" fill="none" stroke="#d8222d" stroke-width="2.4" stroke-linejoin="round"/><polyline points="464.1,350.2 465.3,351.9 466.5,353 467.7,355.8 468.9,355.9 470.1,359.5 471.3,358.9 472.5,358.7 473.7,360 474.9,360 476.1,354.3 477.3,360.2 478.5,357.9 479.7,359.7 480.9,358 482.1,360.1 483.3,361.2 484.5,357.8 485.7,362.8 486.9,361.4 488.1,360.7 489.3,360.9 490.5,361.3 491.7,362.3 492.9,362.4 494.1,363.3 495.3,362.9 496.5,363 497.7,363.3 498.9,363.2 500.1,363.7 501.3,364.3 502.5,364.4 503.7,363.5 504.9,362.7 506.1,363.7 507.3,364.7 508.5,362.7 509.7,364.5 510.9,365.4 512.1,364.8 513.3,364.5 514.5,367.1 515.7,367 516.9,366 518.1,367.5 519.3,367.8 520.5,366.1 521.7,369.4 522.9,366.8 524.1,367.6 525.3,367.2 526.5,368.4 527.7,367.5 528.9,368.8 530.1,370 531.3,369.5 532.5,369.4 533.7,372.5" fill="none" stroke="#ec1c24" stroke-width="2.6" stroke-linejoin="round"/><polyline points="464.1,350.2 465.3,351.9 466.5,353 467.7,355.8 468.9,355.9 470.1,359.5 471.3,358.9 472.5,358.7 473.7,360 474.9,360 476.1,354.3 477.3,360.2 478.5,357.9 479.7,359.7 480.9,358 482.1,360.1 483.3,361.2 484.5,357.8 485.7,362.8 486.9,361.4 488.1,360.7 489.3,360.9 490.5,361.3 491.7,362.3 492.9,362.4 494.1,363.3 495.3,362.9 496.5,363 497.7,363.3 498.9,363.2 500.1,363.7 501.3,364.3 502.5,364.4 503.7,363.5 504.9,362.7 506.1,363.7 507.3,364.7 508.5,362.7 509.7,364.5 510.9,365.4 512.1,364.8 513.3,364.5 514.5,367.1 515.7,367 516.9,366 518.1,367.5 519.3,367.8 520.5,366.1 521.7,369.4 522.9,366.8 524.1,367.6 525.3,367.2 526.5,368.4 527.7,367.5 528.9,368.8 530.1,370 531.3,369.5 532.5,369.4 533.7,372.5" fill="none" stroke="#f15e24" stroke-width="1.2" stroke-linejoin="round"/><polyline points="464.1,497.6 465,495.5 465.9,497.7 466.8,500 467.7,499.2 468.6,499.8 469.5,502.2 470.4,501.6 471.3,503.8 472.2,498.5 473.1,502.9 474,502.9 474.9,500 475.8,500.4 476.7,503.6 477.6,500.9 478.5,501.6 479.4,503.4 480.3,502.2 481.2,503.4 482.1,501.5 483,503.3 483.9,504.5 484.8,503.4 485.7,499.9 486.6,504 487.5,503.3 488.4,501.9 489.3,505.3 490.2,500.9 491.1,506.2 492,502.6 492.9,505.9 493.8,503.6 494.7,501.8 495.6,503.9 496.5,504.3 497.4,504.7 498.3,505.5 499.2,502.8 500.1,504.8 501,505.2 501.9,503.9 502.8,503 503.7,503 504.6,505.5 505.5,505.7 506.4,503.4 507.3,502.7 508.2,506.5 509.1,502.5 510,505.1 510.9,503.8 511.8,502.5 512.7,505.2 513.6,504.9 514.5,507.3 515.4,508.6 516.3,505.2 517.2,507 518.1,507.1 519,505 519.9,504.6 520.8,508.2 521.7,505.5 522.6,506.1 523.5,505.8 524.4,506.1 525.3,505.5 526.2,507.6 527.1,508.4 528,506.2 528.9,504.8 529.8,507 530.7,504.9 531.6,506.2 532.5,509 533.4,510.7 534.3,510.6" fill="none" stroke="#f05527" stroke-width="2.2" stroke-linejoin="round"/><polyline points="464.1,496.3 465,498.9 465.9,496.2 466.8,498.5 467.7,501.5 468.6,501.3 469.5,499.6 470.4,499.8 471.3,502.9 472.2,502 473.1,501.5 474,502.6 474.9,501.6 475.8,500.2 476.7,503.3 477.6,501.7 478.5,501.4 479.4,501.1 480.3,502.9 481.2,501.8 482.1,503.5 483,502.6 483.9,504.1 484.8,502.6 485.7,502.3 486.6,501 487.5,502 488.4,504 489.3,506.7 490.2,502 491.1,502.3 492,503.9 492.9,504.1 493.8,502.9 494.7,503.8 495.6,502 496.5,503.5 497.4,504.9 498.3,505.8 499.2,503.9 500.1,503.9 501,504.7 501.9,505.5 502.8,504.9 503.7,503.6 504.6,504.9 505.5,505.6 506.4,503.8 507.3,503.2 508.2,505.3 509.1,505.2 510,505.9 510.9,505 511.8,504.3 512.7,504.6 513.6,504 514.5,504.2 515.4,504.7 516.3,504.9 517.2,506.8 518.1,504.3 519,505.7 519.9,505.2 520.8,507.6 521.7,506.3 522.6,505.7 523.5,507.1 524.4,506.4 525.3,505.9 526.2,508.2 527.1,507.4 528,508.6 528.9,508.1 529.8,507.8 530.7,507.2 531.6,506 532.5,508 533.4,507.4 534.3,510.9" fill="none" stroke="#f8d618" stroke-width="2.3" stroke-linejoin="round"/><polyline points="564.2,79.6 565.1,78.7 566,78.3 566.9,81.1 567.8,82.1 568.7,79.7 569.6,81 570.5,82.6 571.4,79.2 572.3,80.1 573.2,79 574.1,82.7 575,81.4 575.9,80.3 576.8,78.5 577.7,81 578.6,83 579.5,81 580.4,80.9 581.3,82.7 582.2,79.9 583.1,82 584,83 584.9,80.9 585.8,80.9 586.7,82.8 587.6,82.3 588.5,82.2 589.4,83 590.3,83.2 591.2,81.4 592.1,82 593,83.8 593.9,85 594.8,85.5 595.7,82.1 596.6,85.3 597.5,84.9 598.4,83.7 599.3,84.7 600.2,85.3 601.1,86.9 602,82.5 602.9,85.3 603.8,84.2 604.7,84.2 605.6,86.4 606.5,86 607.4,83.2 608.3,84.5 609.2,85.4 610.1,82.9 611,86.6 611.9,85.3 612.8,85.7 613.7,86.1 614.6,88.6 615.5,85.9 616.4,85.3 617.3,88.8 618.2,85.3 619.1,85.4 620,84.1 620.9,88.2 621.8,87 622.7,87.4 623.6,87 624.5,86.7 625.4,85.7 626.3,85.9 627.2,87.9 628.1,87.5 629,90 629.9,86.3 630.8,86.9 631.7,86.1 632.6,90 633.5,86 634.4,89.3 635.3,90.4 636.2,88.1 637.1,89.5 638,85.1 638.9,88 639.8,86.1 640.7,89.1 641.6,88.9 642.5,88.7 643.4,92.3 644.3,92.4 645.2,91.9 646.1,92.9 647,92.4 647.9,95.3" fill="none" stroke="#161a46" stroke-width="2.2" stroke-linejoin="round"/><polyline points="564.2,81.4 565.4,79.3 566.6,80.3 567.8,79.7 569,80.9 570.2,80.8 571.4,80.4 572.6,79.3 573.8,80.5 575,81.9 576.2,81 577.4,81.8 578.6,81.1 579.8,80.1 581,82.1 582.2,82.1 583.4,81.6 584.6,81.9 585.8,82.5 587,82 588.2,82.9 589.4,82.6 590.6,81 591.8,82.9 593,82.7 594.2,82.6 595.4,83.8 596.6,83.2 597.8,84.2 599,84.7 600.2,84.1 601.4,82.9 602.6,83.7 603.8,85.2 605,84.4 606.2,84.1 607.4,84.8 608.6,85.4 609.8,85.4 611,85.8 612.2,84.8 613.4,85.4 614.6,86 615.8,85.9 617,84.4 618.2,86 619.4,85.2 620.6,87.5 621.8,87.8 623,88.1 624.2,87.5 625.4,86.6 626.6,87.9 627.8,87.1 629,87.9 630.2,86.9 631.4,87.3 632.6,88.2 633.8,89.4 635,88.1 636.2,90.1 637.4,90.6 638.6,87.6 639.8,88.7 641,88.1 642.2,89.5 643.4,90.4 644.6,92.1 645.8,94.2 647,95.5 648.2,96.2" fill="none" stroke="#1a2157" stroke-width="1.0" stroke-linejoin="round"/><polyline points="564.2,218.3 565.1,219.5 566,220.4 566.9,220.2 567.8,218.3 568.7,224.1 569.6,219.3 570.5,222.1 571.4,221 572.3,223.4 573.2,215.7 574.1,225.5 575,220.5 575.9,218.2 576.8,221.5 577.7,226.4 578.6,222.5 579.5,218.7 580.4,220.5 581.3,224.8 582.2,218.6 583.1,221.5 584,221.4 584.9,227.1 585.8,221.6 586.7,225.4 587.6,220.9 588.5,220.7 589.4,225 590.3,224.2 591.2,218.9 592.1,224.5 593,224.6 593.9,221.8 594.8,223.8 595.7,224 596.6,222.4 597.5,222.3 598.4,222.2 599.3,223.2 600.2,220.9 601.1,224 602,220.8 602.9,224.5 603.8,224.2 604.7,222.1 605.6,226.6 606.5,229.1 607.4,227.8 608.3,221.8 609.2,227.9 610.1,225.6 611,225.1 611.9,224 612.8,225.4 613.7,228.7 614.6,226.9 615.5,224.8 616.4,224.4 617.3,225 618.2,227.4 619.1,230.5 620,223.9 620.9,226.4 621.8,225.6 622.7,224.9 623.6,227.7 624.5,228.1 625.4,223.7 626.3,224.7 627.2,229.9 628.1,228 629,228.6 629.9,226.3 630.8,226.7 631.7,228.8 632.6,226.7 633.5,225.4 634.4,228 635.3,230.2 636.2,225.9 637.1,230.8 638,230.1 638.9,226.6 639.8,228.7 640.7,228.7 641.6,230.3 642.5,231.4 643.4,227.8 644.3,228.7 645.2,235.1 646.1,233.9 647,235.6 647.9,236.4" fill="none" stroke="#7a2b5f" stroke-width="2.2" stroke-linejoin="round"/><polyline points="564.2,219.4 565.4,218.9 566.6,220.8 567.8,219.5 569,220.8 570.2,221.5 571.4,219.5 572.6,221 573.8,220.6 575,220.8 576.2,221.2 577.4,220.4 578.6,220.7 579.8,222.1 581,222.4 582.2,221.4 583.4,220.8 584.6,224 585.8,223.2 587,222.7 588.2,221.8 589.4,222.3 590.6,223.1 591.8,222.3 593,222.5 594.2,223.4 595.4,223.8 596.6,222.8 597.8,220 599,223.2 600.2,224.2 601.4,223.9 602.6,224.1 603.8,224.7 605,224.8 606.2,225.9 607.4,224.7 608.6,224.2 609.8,225.1 611,226.4 612.2,225 613.4,228.1 614.6,225.4 615.8,226.2 617,226.2 618.2,225.5 619.4,226.1 620.6,227.2 621.8,227.4 623,227.4 624.2,227.5 625.4,226.7 626.6,226.9 627.8,228 629,226.5 630.2,227.5 631.4,226.3 632.6,227.6 633.8,227.5 635,227.2 636.2,228.7 637.4,227.9 638.6,228.3 639.8,228.5 641,228.3 642.2,230.7 643.4,229.9 644.6,232.3 645.8,232.4 647,234.3 648.2,235.7" fill="none" stroke="#be263c" stroke-width="1.5" stroke-linejoin="round"/><polyline points="564.2,361.3 565.1,361.3 566,362.7 566.9,357.9 567.8,361 568.7,359.1 569.6,363.2 570.5,362.8 571.4,358.3 572.3,364.3 573.2,358.2 574.1,364.1 575,361.8 575.9,359.3 576.8,358.8 577.7,360.9 578.6,361.6 579.5,360.1 580.4,363.3 581.3,358.6 582.2,362.1 583.1,362.2 584,357.7 584.9,363.1 585.8,359.4 586.7,356.4 587.6,361.2 588.5,362.2 589.4,365.1 590.3,361.8 591.2,366.7 592.1,366.7 593,366 593.9,366.6 594.8,364.3 595.7,362.2 596.6,365.3 597.5,366.1 598.4,364.4 599.3,363.3 600.2,360.2 601.1,365.8 602,365.1 602.9,361.1 603.8,364.7 604.7,366.3 605.6,364.4 606.5,366.7 607.4,366.7 608.3,361.3 609.2,364.3 610.1,366.3 611,367.5 611.9,368.8 612.8,360.7 613.7,365.3 614.6,367.4 615.5,368.7 616.4,370 617.3,363.6 618.2,365.1 619.1,363.5 620,368.2 620.9,363 621.8,369.3 622.7,368.8 623.6,367.8 624.5,361.3 625.4,365.1 626.3,368.7 627.2,363.5 628.1,366.5 629,366.9 629.9,369.5 630.8,368.1 631.7,368.1 632.6,366.5 633.5,367.7 634.4,367.4 635.3,369.6 636.2,367.5 637.1,370.6 638,363.9 638.9,371.2 639.8,367.9 640.7,371.2 641.6,368.7 642.5,371.5 643.4,374 644.3,369.8 645.2,372.2 646.1,372.5 647,374.3 647.9,370.6" fill="none" stroke="#d8222d" stroke-width="2.4" stroke-linejoin="round"/><polyline points="564.2,360 565.4,360.1 566.6,359.8 567.8,360.4 569,359.5 570.2,361.9 571.4,361.3 572.6,362.6 573.8,359.6 575,360.4 576.2,361.7 577.4,361.2 578.6,361.9 579.8,361.3 581,362.7 582.2,362.3 583.4,362.3 584.6,363.9 585.8,362.3 587,361.6 588.2,363.6 589.4,361.9 590.6,363.1 591.8,362.2 593,362.7 594.2,364.5 595.4,363.1 596.6,363.2 597.8,363.4 599,363.7 600.2,365.2 601.4,363.3 602.6,363.4 603.8,364.9 605,363.4 606.2,364.5 607.4,365.8 608.6,365 609.8,364.8 611,364.7 612.2,364.7 613.4,365.1 614.6,365.8 615.8,365.1 617,366.7 618.2,366 619.4,365.6 620.6,366.8 621.8,365 623,364.9 624.2,366.4 625.4,365.9 626.6,366.2 627.8,367.3 629,365.9 630.2,366.6 631.4,366.9 632.6,367.7 633.8,366.6 635,368.7 636.2,367.7 637.4,367.9 638.6,367.9 639.8,367.8 641,367.7 642.2,370 643.4,370.5 644.6,371.4 645.8,373.4 647,373.2 648.2,375.4" fill="none" stroke="#ec1c24" stroke-width="2.6" stroke-linejoin="round"/><polyline points="564.2,360 565.4,360.1 566.6,359.8 567.8,360.4 569,359.5 570.2,361.9 571.4,361.3 572.6,362.6 573.8,359.6 575,360.4 576.2,361.7 577.4,361.2 578.6,361.9 579.8,361.3 581,362.7 582.2,362.3 583.4,362.3 584.6,363.9 585.8,362.3 587,361.6 588.2,363.6 589.4,361.9 590.6,363.1 591.8,362.2 593,362.7 594.2,364.5 595.4,363.1 596.6,363.2 597.8,363.4 599,363.7 600.2,365.2 601.4,363.3 602.6,363.4 603.8,364.9 605,363.4 606.2,364.5 607.4,365.8 608.6,365 609.8,364.8 611,364.7 612.2,364.7 613.4,365.1 614.6,365.8 615.8,365.1 617,366.7 618.2,366 619.4,365.6 620.6,366.8 621.8,365 623,364.9 624.2,366.4 625.4,365.9 626.6,366.2 627.8,367.3 629,365.9 630.2,366.6 631.4,366.9 632.6,367.7 633.8,366.6 635,368.7 636.2,367.7 637.4,367.9 638.6,367.9 639.8,367.8 641,367.7 642.2,370 643.4,370.5 644.6,371.4 645.8,373.4 647,373.2 648.2,375.4" fill="none" stroke="#f15e24" stroke-width="1.2" stroke-linejoin="round"/><polyline points="564.2,500.7 565.1,502.7 566,501.3 566.9,503.2 567.8,501.1 568.7,502.5 569.6,502.4 570.5,502.8 571.4,502.1 572.3,501.8 573.2,502.9 574.1,502.2 575,503.3 575.9,502.7 576.8,500 577.7,503.1 578.6,505.2 579.5,503.7 580.4,504.2 581.3,504 582.2,502.8 583.1,501.6 584,504.7 584.9,505.1 585.8,504.4 586.7,504.3 587.6,504.3 588.5,503.7 589.4,504.2 590.3,503.9 591.2,504.4 592.1,502.7 593,503.1 593.9,504.9 594.8,503.7 595.7,500.8 596.6,504.4 597.5,501.1 598.4,507 599.3,505.4 600.2,505.4 601.1,503.5 602,502.9 602.9,504.3 603.8,504.6 604.7,503.6 605.6,504.9 606.5,505.7 607.4,505.7 608.3,503.4 609.2,501.9 610.1,505 611,504.1 611.9,505.7 612.8,507.4 613.7,507.4 614.6,505.6 615.5,506.8 616.4,507.6 617.3,505.4 618.2,505.8 619.1,506.6 620,505.5 620.9,504.9 621.8,504.6 622.7,505.7 623.6,504.8 624.5,506.9 625.4,505.3 626.3,507.9 627.2,507.6 628.1,504.2 629,507.5 629.9,505.5 630.8,508 631.7,506.9 632.6,506.1 633.5,507.2 634.4,505.5 635.3,506.8 636.2,506.9 637.1,506.2 638,507 638.9,505.2 639.8,507.4 640.7,505 641.6,507.6 642.5,507.8 643.4,508.5 644.3,507.2 645.2,512.6 646.1,508.6 647,509.5 647.9,508.7" fill="none" stroke="#f05527" stroke-width="2.2" stroke-linejoin="round"/><polyline points="564.2,504 565.1,502.1 566,503.7 566.9,501.7 567.8,503.1 568.7,502.4 569.6,503.8 570.5,502.6 571.4,502 572.3,503.5 573.2,501.8 574.1,502.1 575,503.9 575.9,501.2 576.8,504 577.7,502.9 578.6,502.4 579.5,503.6 580.4,504.1 581.3,502.9 582.2,503.3 583.1,504.4 584,504.4 584.9,503.6 585.8,502.9 586.7,502.8 587.6,503.2 588.5,504.6 589.4,504.5 590.3,504.3 591.2,505.5 592.1,503.8 593,503.7 593.9,503.8 594.8,506.2 595.7,502.1 596.6,504.6 597.5,504.8 598.4,504.5 599.3,506.9 600.2,505.7 601.1,505.4 602,503.7 602.9,505.2 603.8,504.3 604.7,504.8 605.6,505 606.5,504.4 607.4,505.6 608.3,506.7 609.2,506.1 610.1,505.3 611,503.1 611.9,506.3 612.8,506.3 613.7,505.1 614.6,504.8 615.5,506 616.4,504.6 617.3,506.3 618.2,504.4 619.1,504.6 620,505.6 620.9,504.2 621.8,505.7 622.7,506.3 623.6,504.5 624.5,506.8 625.4,505.3 626.3,506.5 627.2,506.2 628.1,505.6 629,505.6 629.9,504.4 630.8,505.5 631.7,505.5 632.6,508 633.5,507.4 634.4,505 635.3,507.3 636.2,506.7 637.1,506.2 638,507.1 638.9,507.5 639.8,506.1 640.7,506.5 641.6,507 642.5,506.2 643.4,507.9 644.3,508 645.2,507.8 646.1,508.1 647,509.7 647.9,510.8" fill="none" stroke="#f8d618" stroke-width="2.3" stroke-linejoin="round"/><polyline points="673.6,76.8 674.5,75.1 675.4,77.6 676.3,76.8 677.2,77.6 678.1,78.5 679,75.5 679.9,76.8 680.8,76.2 681.7,75.9 682.6,80.3 683.5,78.8 684.4,74.8 685.3,78.2 686.2,76.8 687.1,79.5 688,78 688.9,77.7 689.8,78.3 690.7,78.7 691.6,78.3 692.5,78 693.4,78.2 694.3,79.3 695.2,77 696.1,78.7 697,78.7 697.9,78.2 698.8,80.1 699.7,77.2 700.6,78.7 701.5,78.1 702.4,80.3 703.3,78.9 704.2,79.8 705.1,80.4 706,77.6 706.9,80.8 707.8,79.1 708.7,80 709.6,80.3 710.5,81.8 711.4,81.8 712.3,83.5 713.2,81.2 714.1,80.4 715,80.5 715.9,82.3 716.8,83.9 717.7,82.1 718.6,80.9 719.5,82.3 720.4,82.4 721.3,82.1 722.2,81.1 723.1,78.6 724,81.7 724.9,84.2 725.8,83 726.7,79.5 727.6,83 728.5,80.3 729.4,86.2 730.3,83.6 731.2,81.7 732.1,84.8 733,82.5 733.9,84.7 734.8,84 735.7,82.3 736.6,85.2 737.5,82.3 738.4,86.5 739.3,84.7 740.2,83.2 741.1,82.3 742,87.6 742.9,87.7 743.8,83.9 744.7,88.4 745.6,86.5 746.5,86.2 747.4,86.6 748.3,86.6 749.2,89.4 750.1,87.7 751,85 751.9,91.1 752.8,89.6 753.7,86.9 754.6,88.2 755.5,87.7 756.4,89.3 757.3,90.1 758.2,90.1" fill="none" stroke="#161a46" stroke-width="2.2" stroke-linejoin="round"/><polyline points="673.6,75.9 674.8,75.8 676,77.2 677.2,76.6 678.4,78.5 679.6,76.4 680.8,77.7 682,77.3 683.2,76.8 684.4,78.5 685.6,79.5 686.8,77.1 688,77.6 689.2,78.3 690.4,77.2 691.6,79.3 692.8,78.9 694,78.3 695.2,79.7 696.4,80.1 697.6,79.4 698.8,79.2 700,80.5 701.2,80.5 702.4,78.8 703.6,79.5 704.8,79.7 706,79.7 707.2,79 708.4,81 709.6,80.6 710.8,80.7 712,81.9 713.2,80.6 714.4,81.1 715.6,81.5 716.8,81.2 718,81.6 719.2,82.4 720.4,82 721.6,83.1 722.8,81.7 724,85.5 725.2,81.6 726.4,82.7 727.6,82.4 728.8,84.2 730,86.6 731.2,83.8 732.4,85 733.6,84.9 734.8,84.5 736,81.1 737.2,83.2 738.4,84.4 739.6,84.3 740.8,84.4 742,85 743.2,84.3 744.4,87 745.6,85.4 746.8,86.1 748,87.3 749.2,86 750.4,88.3 751.6,88.6 752.8,89.8 754,87.8 755.2,88.6 756.4,87.9 757.6,90.7 758.8,90" fill="none" stroke="#1a2157" stroke-width="1.0" stroke-linejoin="round"/><polyline points="673.6,216.6 674.5,215.8 675.4,217.7 676.3,216.7 677.2,219 678.1,218.7 679,216.4 679.9,220.7 680.8,216.1 681.7,218.7 682.6,219.8 683.5,220.2 684.4,214.8 685.3,220 686.2,220.4 687.1,220.9 688,215.1 688.9,217.7 689.8,218.7 690.7,218.2 691.6,221.2 692.5,218.1 693.4,221.2 694.3,220.2 695.2,217.1 696.1,218 697,218.9 697.9,219.9 698.8,221.4 699.7,219.6 700.6,221.5 701.5,217.7 702.4,215.4 703.3,219.9 704.2,221.3 705.1,220.1 706,219.2 706.9,221.6 707.8,224.1 708.7,221 709.6,220.1 710.5,220.1 711.4,224.7 712.3,221.6 713.2,222.8 714.1,223.9 715,223.7 715.9,220.7 716.8,223.8 717.7,223.7 718.6,223.3 719.5,224.3 720.4,221.9 721.3,222.8 722.2,222.2 723.1,224.4 724,222.2 724.9,224 725.8,221.8 726.7,223.4 727.6,223.2 728.5,223.7 729.4,224.2 730.3,223.8 731.2,223.9 732.1,221.1 733,226.3 733.9,223.6 734.8,224.4 735.7,223.5 736.6,226.6 737.5,223.7 738.4,226.1 739.3,227.3 740.2,228.2 741.1,227.7 742,227 742.9,224.4 743.8,228.6 744.7,228.7 745.6,228.4 746.5,228.6 747.4,227.7 748.3,227 749.2,229.8 750.1,230.3 751,226.9 751.9,230.3 752.8,229.5 753.7,230.7 754.6,230 755.5,231.6 756.4,231.7 757.3,231.8 758.2,228.4" fill="none" stroke="#692e6a" stroke-width="2.2" stroke-linejoin="round"/><polyline points="673.6,217.8 674.8,217.3 676,216.5 677.2,218.1 678.4,216.5 679.6,218.5 680.8,219.2 682,221.6 683.2,218.9 684.4,218.6 685.6,218.9 686.8,218.7 688,219.2 689.2,218.9 690.4,219.5 691.6,218 692.8,220.1 694,219.5 695.2,220 696.4,220.7 697.6,219.9 698.8,220.6 700,220.2 701.2,220.6 702.4,219.9 703.6,221.1 704.8,221.6 706,220.7 707.2,221.6 708.4,221.5 709.6,220.4 710.8,221.8 712,222.7 713.2,221.4 714.4,220.6 715.6,222.3 716.8,221.8 718,224 719.2,222.6 720.4,222.8 721.6,222.5 722.8,223.3 724,222.8 725.2,222.3 726.4,223.6 727.6,224.9 728.8,225 730,223.2 731.2,224.2 732.4,223.9 733.6,223.5 734.8,226.1 736,223.3 737.2,226.6 738.4,224.2 739.6,225.5 740.8,227.5 742,224.4 743.2,225.3 744.4,227.8 745.6,227.2 746.8,225.5 748,227.7 749.2,227.3 750.4,228.5 751.6,229.3 752.8,228.8 754,229.5 755.2,231.8 756.4,231.7 757.6,230 758.8,231" fill="none" stroke="#a0284b" stroke-width="1.5" stroke-linejoin="round"/><polyline points="673.6,357.2 674.5,361.8 675.4,358 676.3,355.5 677.2,358 678.1,360.2 679,356.3 679.9,361 680.8,361 681.7,364.4 682.6,357.8 683.5,361 684.4,355.5 685.3,358.6 686.2,360 687.1,360.8 688,359.8 688.9,359.8 689.8,358.6 690.7,359.1 691.6,361 692.5,361.7 693.4,362 694.3,362.9 695.2,363.4 696.1,356.4 697,359.5 697.9,360.5 698.8,359.4 699.7,363.5 700.6,362.9 701.5,361 702.4,361.7 703.3,364.5 704.2,360.8 705.1,360.9 706,364 706.9,363.1 707.8,365.4 708.7,363 709.6,364.1 710.5,361.1 711.4,360.2 712.3,362.6 713.2,356.4 714.1,363.8 715,365.3 715.9,363.2 716.8,362.6 717.7,365.9 718.6,363.3 719.5,365.9 720.4,368.9 721.3,365.5 722.2,366.1 723.1,365.1 724,364.7 724.9,364.8 725.8,364.5 726.7,367 727.6,360.7 728.5,364 729.4,366.3 730.3,362.8 731.2,364.7 732.1,363.4 733,366.2 733.9,367.4 734.8,368.9 735.7,366.7 736.6,363.9 737.5,366.4 738.4,367.2 739.3,369.4 740.2,361 741.1,367.2 742,362.2 742.9,368.5 743.8,368.1 744.7,368.5 745.6,369.6 746.5,368.6 747.4,366.4 748.3,369 749.2,371.3 750.1,368.4 751,368.9 751.9,366.2 752.8,372.1 753.7,368.4 754.6,368 755.5,369 756.4,368.2 757.3,369.9 758.2,373.8" fill="none" stroke="#d8222d" stroke-width="2.4" stroke-linejoin="round"/><polyline points="673.6,359 674.8,359.6 676,359.8 677.2,358.1 678.4,359.3 679.6,360.2 680.8,360.9 682,358.2 683.2,358.3 684.4,360.3 685.6,359.3 686.8,359 688,360.1 689.2,359.4 690.4,358.3 691.6,360.2 692.8,360.4 694,360.9 695.2,361.3 696.4,360.8 697.6,360.6 698.8,360.4 700,359.8 701.2,360.8 702.4,362.1 703.6,362 704.8,363.2 706,361.7 707.2,360.6 708.4,361.2 709.6,363 710.8,361.5 712,361.3 713.2,362.8 714.4,363.4 715.6,362.1 716.8,362.9 718,362.7 719.2,362.5 720.4,363.1 721.6,363.8 722.8,363.1 724,360.5 725.2,362.2 726.4,365.6 727.6,363.7 728.8,364.5 730,363.9 731.2,365.2 732.4,363.9 733.6,365.3 734.8,365.2 736,366.2 737.2,366.7 738.4,365.3 739.6,365.8 740.8,368.1 742,365.4 743.2,367.1 744.4,363.5 745.6,367.7 746.8,368.2 748,368.2 749.2,368.6 750.4,368.9 751.6,368.5 752.8,369.1 754,368.3 755.2,369.6 756.4,369.6 757.6,370.3 758.8,371.4" fill="none" stroke="#ec1c24" stroke-width="2.6" stroke-linejoin="round"/><polyline points="673.6,359 674.8,359.6 676,359.8 677.2,358.1 678.4,359.3 679.6,360.2 680.8,360.9 682,358.2 683.2,358.3 684.4,360.3 685.6,359.3 686.8,359 688,360.1 689.2,359.4 690.4,358.3 691.6,360.2 692.8,360.4 694,360.9 695.2,361.3 696.4,360.8 697.6,360.6 698.8,360.4 700,359.8 701.2,360.8 702.4,362.1 703.6,362 704.8,363.2 706,361.7 707.2,360.6 708.4,361.2 709.6,363 710.8,361.5 712,361.3 713.2,362.8 714.4,363.4 715.6,362.1 716.8,362.9 718,362.7 719.2,362.5 720.4,363.1 721.6,363.8 722.8,363.1 724,360.5 725.2,362.2 726.4,365.6 727.6,363.7 728.8,364.5 730,363.9 731.2,365.2 732.4,363.9 733.6,365.3 734.8,365.2 736,366.2 737.2,366.7 738.4,365.3 739.6,365.8 740.8,368.1 742,365.4 743.2,367.1 744.4,363.5 745.6,367.7 746.8,368.2 748,368.2 749.2,368.6 750.4,368.9 751.6,368.5 752.8,369.1 754,368.3 755.2,369.6 756.4,369.6 757.6,370.3 758.8,371.4" fill="none" stroke="#f15e24" stroke-width="1.2" stroke-linejoin="round"/><polyline points="673.6,502 674.5,503.2 675.4,502 676.3,501.6 677.2,502.6 678.1,503 679,502.3 679.9,501.4 680.8,500.9 681.7,501.6 682.6,501.3 683.5,502.5 684.4,502.5 685.3,502.1 686.2,502.3 687.1,502.6 688,504.6 688.9,504.1 689.8,501.7 690.7,503.1 691.6,502.1 692.5,502.5 693.4,502.3 694.3,501.8 695.2,500.8 696.1,499.3 697,503.1 697.9,504.5 698.8,501.7 699.7,503.7 700.6,502.5 701.5,503.5 702.4,502 703.3,502.9 704.2,503.1 705.1,500 706,503.7 706.9,503.2 707.8,500 708.7,504.4 709.6,503.5 710.5,503.9 711.4,504.2 712.3,503.2 713.2,502.3 714.1,503.2 715,503.3 715.9,507.1 716.8,506.6 717.7,503.4 718.6,503.6 719.5,504.6 720.4,505 721.3,503.3 722.2,502.9 723.1,507.1 724,505.9 724.9,502.3 725.8,502.1 726.7,503.5 727.6,505 728.5,505.5 729.4,504.3 730.3,502.6 731.2,505.2 732.1,505.8 733,505 733.9,504.4 734.8,505.9 735.7,505.1 736.6,503.7 737.5,505.4 738.4,503.5 739.3,506.8 740.2,506.1 741.1,504.2 742,506 742.9,507.6 743.8,502.9 744.7,505.9 745.6,508.5 746.5,504.1 747.4,506.2 748.3,504.5 749.2,506.5 750.1,503.4 751,504.6 751.9,506.2 752.8,507.3 753.7,507.7 754.6,507.9 755.5,509.1 756.4,508.5 757.3,508.7 758.2,506.4" fill="none" stroke="#f05527" stroke-width="2.2" stroke-linejoin="round"/><polyline points="673.6,501.5 674.5,505.1 675.4,504.2 676.3,502.7 677.2,502.6 678.1,503 679,501.5 679.9,504.1 680.8,501.6 681.7,502 682.6,504.5 683.5,499.9 684.4,502.6 685.3,500.4 686.2,501.6 687.1,502.2 688,502 688.9,502.6 689.8,501.6 690.7,502.4 691.6,501.3 692.5,502.2 693.4,501.1 694.3,503.4 695.2,501.3 696.1,503.5 697,502.4 697.9,502.5 698.8,504.2 699.7,503.1 700.6,501 701.5,503.6 702.4,500 703.3,503.5 704.2,502.8 705.1,501.8 706,503.4 706.9,503.1 707.8,505.6 708.7,503 709.6,505.7 710.5,505.1 711.4,503 712.3,502.8 713.2,505.2 714.1,503.7 715,504.1 715.9,503.7 716.8,502.7 717.7,503.7 718.6,503.1 719.5,502.5 720.4,503.9 721.3,506.2 722.2,506.1 723.1,504.3 724,504.6 724.9,505.1 725.8,506.1 726.7,505 727.6,504.2 728.5,504.3 729.4,506 730.3,507.7 731.2,504.2 732.1,502.7 733,505.9 733.9,505 734.8,505.3 735.7,506.6 736.6,505.3 737.5,503.9 738.4,503.2 739.3,505.4 740.2,504.2 741.1,505.9 742,504.3 742.9,505.5 743.8,504.3 744.7,505.7 745.6,505.7 746.5,506.9 747.4,507.9 748.3,506.3 749.2,505.7 750.1,508.9 751,507.3 751.9,507.7 752.8,507.8 753.7,508.8 754.6,508.4 755.5,508.2 756.4,508.4 757.3,506.7 758.2,507.1" fill="none" stroke="#f8d618" stroke-width="2.3" stroke-linejoin="round"/><polyline points="792.5,67.5 793.4,67.9 794.3,67.8 795.2,68.3 796.1,67.9 797,67.3 797.9,65.4 798.8,69.4 799.7,69.1 800.6,66.8 801.5,69 802.4,68.9 803.3,68.4 804.2,65.4 805.1,66.5 806,67.5 806.9,71.1 807.8,67.2 808.7,68.1 809.6,66.9 810.5,67.9 811.4,69.3 812.3,65.5 813.2,64.4 814.1,70 815,69 815.9,68.1 816.8,70.6 817.7,70.7 818.6,65.8 819.5,69 820.4,71.1 821.3,68.3 822.2,68.9 823.1,71 824,69.1 824.9,67.6 825.8,68.5 826.7,67.5 827.6,70.6 828.5,67 829.4,71.4 830.3,67.2 831.2,70 832.1,67.6 833,69.5 833.9,71.7 834.8,71.9 835.7,72.3 836.6,70.1 837.5,70.5 838.4,70.7 839.3,71.4 840.2,69.8 841.1,72.2 842,71.1 842.9,72.4 843.8,71.4 844.7,71.8 845.6,69.6 846.5,70.1 847.4,68.8 848.3,70.4 849.2,70.7 850.1,72.4 851,69.1 851.9,76.5 852.8,71.2 853.7,73.6 854.6,73.4 855.5,67.8 856.4,71.6 857.3,74.5 858.2,68.4 859.1,73.6 860,71.1 860.9,71.9 861.8,73.2 862.7,70 863.6,73.4 864.5,72.2 865.4,72.2 866.3,74.6 867.2,79.2 868.1,74.3 869,74.8 869.9,74 870.8,73 871.7,74.7 872.6,76.9 873.5,74.9 874.4,76.1 875.3,74.5 876.2,79 877.1,72.5 878,76.2 878.9,76.3 879.8,76 880.7,73.9 881.6,74 882.5,75.6 883.4,76.3 884.3,74.3 885.2,74.7" fill="none" stroke="#161a46" stroke-width="2.2" stroke-linejoin="round"/><polyline points="792.5,68.2 793.7,68.6 794.9,67 796.1,67.4 797.3,67.4 798.5,70 799.7,68.5 800.9,68.1 802.1,69.1 803.3,70.2 804.5,69.3 805.7,67.3 806.9,68.5 808.1,68.3 809.3,68.4 810.5,67.8 811.7,68.5 812.9,68 814.1,69.2 815.3,69.1 816.5,68.3 817.7,67.8 818.9,68.8 820.1,69.8 821.3,69.8 822.5,69.4 823.7,66.9 824.9,69.2 826.1,69 827.3,69.4 828.5,68.8 829.7,69.5 830.9,69.4 832.1,72.2 833.3,70.6 834.5,70 835.7,70.1 836.9,70.2 838.1,70.5 839.3,70.1 840.5,70.4 841.7,71.4 842.9,71.3 844.1,70.9 845.3,71.8 846.5,71 847.7,70.1 848.9,69.5 850.1,70.5 851.3,71.2 852.5,71.7 853.7,72.4 854.9,71.3 856.1,71.3 857.3,72.7 858.5,75.8 859.7,72.1 860.9,72.9 862.1,74 863.3,73.3 864.5,73.2 865.7,71.7 866.9,74.7 868.1,74.3 869.3,74.1 870.5,73.8 871.7,73.3 872.9,74 874.1,74.6 875.3,75.8 876.5,74 877.7,75.3 878.9,75.5 880.1,76.6 881.3,75 882.5,76.3 883.7,77.1 884.9,76.4" fill="none" stroke="#1a2157" stroke-width="1.0" stroke-linejoin="round"/><polyline points="792.5,211.8 793.4,211.9 794.3,208.7 795.2,209.6 796.1,207.2 797,212.7 797.9,213.3 798.8,213.6 799.7,211.8 800.6,213.5 801.5,211.6 802.4,211.6 803.3,209.3 804.2,210.6 805.1,211 806,213.4 806.9,214.7 807.8,211.3 808.7,212.7 809.6,212.6 810.5,211 811.4,209.5 812.3,211.1 813.2,210.1 814.1,211.9 815,212.2 815.9,212.2 816.8,212.3 817.7,213.4 818.6,211.2 819.5,214.1 820.4,210.1 821.3,212.9 822.2,213.5 823.1,211.7 824,210.4 824.9,214.1 825.8,212 826.7,214.4 827.6,214.4 828.5,213.2 829.4,213.3 830.3,214.9 831.2,214 832.1,212 833,213.8 833.9,214.4 834.8,213.9 835.7,214 836.6,213.5 837.5,213.6 838.4,212.3 839.3,211.6 840.2,215.7 841.1,212.9 842,214.4 842.9,211.7 843.8,214.4 844.7,212.9 845.6,219 846.5,212.7 847.4,212.8 848.3,215.9 849.2,216.2 850.1,211.1 851,215 851.9,216.2 852.8,213 853.7,216.1 854.6,214.3 855.5,213.7 856.4,214.9 857.3,214.9 858.2,213.5 859.1,219.4 860,215.3 860.9,215 861.8,217.6 862.7,216.3 863.6,218.7 864.5,216.3 865.4,217.4 866.3,217.1 867.2,217.4 868.1,216.9 869,217.2 869.9,220.2 870.8,216.6 871.7,216.9 872.6,217.4 873.5,219 874.4,218.8 875.3,219.8 876.2,216.3 877.1,219 878,218.5 878.9,218.4 879.8,219.3 880.7,216 881.6,219.7 882.5,219.7 883.4,217.3 884.3,219.6 885.2,222.3" fill="none" stroke="#692e6a" stroke-width="2.2" stroke-linejoin="round"/><polyline points="792.5,210.9 793.7,211.7 794.9,211.2 796.1,210.8 797.3,210.7 798.5,211.2 799.7,212.6 800.9,212.3 802.1,213.9 803.3,212.6 804.5,210.4 805.7,211.4 806.9,212.4 808.1,211.4 809.3,210.9 810.5,213.3 811.7,210.8 812.9,212.8 814.1,211.2 815.3,214 816.5,212.4 817.7,212.3 818.9,213 820.1,212.7 821.3,212.8 822.5,212.2 823.7,212.9 824.9,213.8 826.1,212.6 827.3,213.4 828.5,212.4 829.7,213.6 830.9,213.9 832.1,215.4 833.3,214.3 834.5,213.9 835.7,214.8 836.9,213 838.1,214.7 839.3,212 840.5,213.5 841.7,214.9 842.9,214.3 844.1,215.2 845.3,213.1 846.5,214.5 847.7,214 848.9,214.2 850.1,213 851.3,215.4 852.5,215 853.7,214.3 854.9,214.2 856.1,213.3 857.3,216.7 858.5,215.7 859.7,215.7 860.9,216.6 862.1,217.4 863.3,216.7 864.5,217 865.7,217.2 866.9,216.5 868.1,216.3 869.3,217.5 870.5,217.4 871.7,217.9 872.9,218 874.1,217.7 875.3,218.1 876.5,219.3 877.7,218.3 878.9,217.9 880.1,219.6 881.3,220.1 882.5,218.6 883.7,219.8 884.9,219.2" fill="none" stroke="#a0284b" stroke-width="1.5" stroke-linejoin="round"/><polyline points="792.5,356 793.4,355.4 794.3,354 795.2,355.5 796.1,352.7 797,355.9 797.9,352.4 798.8,352.3 799.7,358.9 800.6,353.8 801.5,350.4 802.4,358 803.3,353.8 804.2,347.1 805.1,355.6 806,358.1 806.9,356.7 807.8,360.1 808.7,355.7 809.6,357.5 810.5,353.6 811.4,356.5 812.3,359.9 813.2,357.4 814.1,356.6 815,351.4 815.9,355.4 816.8,353.2 817.7,358.3 818.6,354.7 819.5,357.4 820.4,354.1 821.3,361.3 822.2,353.8 823.1,357.1 824,363.2 824.9,357.3 825.8,354.7 826.7,358.4 827.6,359.4 828.5,359.1 829.4,352.2 830.3,357.6 831.2,351.9 832.1,361.9 833,357.4 833.9,356.1 834.8,359 835.7,358.6 836.6,354.5 837.5,361.5 838.4,356.9 839.3,353.2 840.2,361.1 841.1,361.4 842,360.8 842.9,359.1 843.8,355.6 844.7,360.2 845.6,362.5 846.5,360 847.4,361.9 848.3,356.1 849.2,360.6 850.1,360.5 851,354.6 851.9,354.4 852.8,356.7 853.7,358.8 854.6,359.9 855.5,358.3 856.4,358.9 857.3,358.9 858.2,359.5 859.1,360.8 860,360.7 860.9,359.5 861.8,360.4 862.7,358.8 863.6,362 864.5,358.9 865.4,364.3 866.3,360.3 867.2,361.2 868.1,358.8 869,359.9 869.9,361.3 870.8,361.1 871.7,359.6 872.6,358.4 873.5,361.5 874.4,361.9 875.3,363 876.2,364.9 877.1,361.1 878,357.1 878.9,361.8 879.8,357.7 880.7,359.2 881.6,365.1 882.5,364.1 883.4,361.2 884.3,361.3 885.2,362.8" fill="none" stroke="#d8222d" stroke-width="2.4" stroke-linejoin="round"/><polyline points="792.5,353.6 793.7,355.5 794.9,354.9 796.1,356.7 797.3,353.4 798.5,356.2 799.7,354.9 800.9,354.1 802.1,354.8 803.3,356.2 804.5,357.5 805.7,355.1 806.9,355.7 808.1,356.2 809.3,356.6 810.5,357.2 811.7,356.7 812.9,354 814.1,355.9 815.3,354.6 816.5,356 817.7,356.9 818.9,355.4 820.1,355.5 821.3,356.7 822.5,356.4 823.7,357.9 824.9,357 826.1,357.2 827.3,358.3 828.5,356.5 829.7,357 830.9,356.3 832.1,357.3 833.3,358 834.5,358.3 835.7,357.3 836.9,356.8 838.1,356.8 839.3,356.4 840.5,357.6 841.7,358.7 842.9,355.8 844.1,356 845.3,358.9 846.5,356.6 847.7,358.2 848.9,357 850.1,358.7 851.3,358.9 852.5,358.5 853.7,359.2 854.9,360.7 856.1,359.3 857.3,360.5 858.5,360.1 859.7,358.9 860.9,358.9 862.1,359.5 863.3,359.7 864.5,360.1 865.7,359.7 866.9,360.9 868.1,361 869.3,361 870.5,360.9 871.7,361.6 872.9,360.3 874.1,362.7 875.3,361.8 876.5,362.1 877.7,362.4 878.9,362.7 880.1,362.8 881.3,362.6 882.5,362.4 883.7,361.4 884.9,363.1" fill="none" stroke="#ec1c24" stroke-width="2.6" stroke-linejoin="round"/><polyline points="792.5,353.6 793.7,355.5 794.9,354.9 796.1,356.7 797.3,353.4 798.5,356.2 799.7,354.9 800.9,354.1 802.1,354.8 803.3,356.2 804.5,357.5 805.7,355.1 806.9,355.7 808.1,356.2 809.3,356.6 810.5,357.2 811.7,356.7 812.9,354 814.1,355.9 815.3,354.6 816.5,356 817.7,356.9 818.9,355.4 820.1,355.5 821.3,356.7 822.5,356.4 823.7,357.9 824.9,357 826.1,357.2 827.3,358.3 828.5,356.5 829.7,357 830.9,356.3 832.1,357.3 833.3,358 834.5,358.3 835.7,357.3 836.9,356.8 838.1,356.8 839.3,356.4 840.5,357.6 841.7,358.7 842.9,355.8 844.1,356 845.3,358.9 846.5,356.6 847.7,358.2 848.9,357 850.1,358.7 851.3,358.9 852.5,358.5 853.7,359.2 854.9,360.7 856.1,359.3 857.3,360.5 858.5,360.1 859.7,358.9 860.9,358.9 862.1,359.5 863.3,359.7 864.5,360.1 865.7,359.7 866.9,360.9 868.1,361 869.3,361 870.5,360.9 871.7,361.6 872.9,360.3 874.1,362.7 875.3,361.8 876.5,362.1 877.7,362.4 878.9,362.7 880.1,362.8 881.3,362.6 882.5,362.4 883.7,361.4 884.9,363.1" fill="none" stroke="#f15e24" stroke-width="1.2" stroke-linejoin="round"/><polyline points="792.5,499.3 793.4,500.7 794.3,500.2 795.2,501.6 796.1,499.7 797,498.8 797.9,497.5 798.8,499.9 799.7,498.6 800.6,501.1 801.5,502.5 802.4,497.2 803.3,498.5 804.2,500.9 805.1,502.3 806,500.9 806.9,501 807.8,501.3 808.7,501.4 809.6,503 810.5,501.5 811.4,498.8 812.3,500 813.2,501 814.1,499.5 815,500.3 815.9,500 816.8,499.8 817.7,501.8 818.6,500.3 819.5,499.3 820.4,499.8 821.3,500.9 822.2,504 823.1,501.3 824,503.1 824.9,501.7 825.8,497.9 826.7,501.6 827.6,499.8 828.5,499.1 829.4,499.5 830.3,503.7 831.2,498.8 832.1,500.3 833,502.9 833.9,502.2 834.8,498.7 835.7,501.1 836.6,500.5 837.5,501 838.4,502.4 839.3,500.5 840.2,500.9 841.1,503.5 842,498.7 842.9,500.9 843.8,502.2 844.7,499.7 845.6,500.6 846.5,499.6 847.4,501.8 848.3,500.7 849.2,502.8 850.1,503.1 851,501.8 851.9,501.2 852.8,502.2 853.7,502 854.6,500.2 855.5,503.6 856.4,502.4 857.3,503.3 858.2,500.2 859.1,503.5 860,505.4 860.9,503.3 861.8,500.3 862.7,502.6 863.6,502.5 864.5,503 865.4,502.4 866.3,503.5 867.2,502.1 868.1,503.2 869,501.9 869.9,503.2 870.8,504.5 871.7,502.4 872.6,504.2 873.5,502 874.4,502.8 875.3,503 876.2,505.3 877.1,502.4 878,505.4 878.9,501.5 879.8,503.5 880.7,505.1 881.6,504.8 882.5,502.4 883.4,502.2 884.3,505.3 885.2,502.2" fill="none" stroke="#f05527" stroke-width="2.2" stroke-linejoin="round"/><polyline points="792.5,500.7 793.4,499.5 794.3,500.1 795.2,502.7 796.1,501.9 797,501.1 797.9,498.7 798.8,500.6 799.7,500.3 800.6,500.2 801.5,501.8 802.4,498.4 803.3,500.7 804.2,500.5 805.1,499.6 806,502.4 806.9,499.1 807.8,500.5 808.7,500.6 809.6,498.1 810.5,499 811.4,499.5 812.3,501.5 813.2,501.7 814.1,501.3 815,500.9 815.9,498.3 816.8,501 817.7,500.2 818.6,502.1 819.5,502.3 820.4,503.3 821.3,501.6 822.2,501.8 823.1,499.7 824,501 824.9,499.6 825.8,502 826.7,499.6 827.6,500.8 828.5,500.1 829.4,500.5 830.3,501.6 831.2,500.5 832.1,501.4 833,500 833.9,502.7 834.8,500.5 835.7,502.3 836.6,503.6 837.5,498.5 838.4,500.2 839.3,501.1 840.2,502.6 841.1,500.8 842,501.8 842.9,500.6 843.8,502 844.7,500.1 845.6,502.4 846.5,498.2 847.4,499.4 848.3,503.6 849.2,501.8 850.1,500.6 851,504.1 851.9,502.9 852.8,503 853.7,501.4 854.6,502.6 855.5,502.5 856.4,500.2 857.3,502.8 858.2,501.9 859.1,503.7 860,503.7 860.9,501.6 861.8,501.7 862.7,502.7 863.6,503.3 864.5,502.1 865.4,502.5 866.3,503.4 867.2,503.2 868.1,504.1 869,503.2 869.9,502 870.8,501 871.7,504 872.6,502.8 873.5,502.8 874.4,502.9 875.3,501.6 876.2,503 877.1,500.5 878,503.1 878.9,502.6 879.8,505.7 880.7,504.2 881.6,503.5 882.5,504 883.4,504.7 884.3,503.1 885.2,503.8" fill="none" stroke="#f8d618" stroke-width="2.3" stroke-linejoin="round"/><polyline points="910.5,65.7 911.4,70.4 912.3,66.5 913.2,63.3 914.1,67.8 915,70.8 915.9,65.1 916.8,72.4 917.7,66.7 918.6,68.5 919.5,65.9 920.4,66.5 921.3,65 922.2,65.3 923.1,63.6 924,69 924.9,65.3 925.8,67.9 926.7,67.9 927.6,66.3 928.5,67.5 929.4,67.3 930.3,66.7 931.2,67.7 932.1,67.7 933,66 933.9,65.6 934.8,66.4 935.7,68.1 936.6,70.2 937.5,70.4 938.4,68.6 939.3,69.7 940.2,68.4 941.1,70 942,68.5 942.9,69 943.8,67.9 944.7,68.4 945.6,71.6 946.5,66.6 947.4,68.6 948.3,67.7 949.2,70.3 950.1,71.8 951,68.3 951.9,64.3 952.8,70 953.7,70 954.6,66.3 955.5,68.7 956.4,69 957.3,65.4 958.2,70.4 959.1,70.1 960,69.8 960.9,67.8 961.8,68.5 962.7,68.7 963.6,70.7 964.5,68.4 965.4,72.6 966.3,70.9 967.2,66.8 968.1,73.3 969,70.9 969.9,69.9 970.8,71.1 971.7,68 972.6,71.5 973.5,67.2 974.4,69.7 975.3,73.8 976.2,73.8 977.1,71.2 978,70.3 978.9,73.6 979.8,72.1 980.7,72.6 981.6,73.5 982.5,70.8 983.4,74 984.3,69.3 985.2,75.4 986.1,70.4 987,72.1 987.9,72.2 988.8,74.6 989.7,74.8 990.6,74.3 991.5,74.7 992.4,74.7 993.3,73.9 994.2,71 995.1,70.5 996,70.6 996.9,74.5 997.8,74.3 998.7,74.6" fill="none" stroke="#161a46" stroke-width="2.2" stroke-linejoin="round"/><polyline points="910.5,66.1 911.7,66.1 912.9,65.6 914.1,64 915.3,65 916.5,67.6 917.7,67.4 918.9,65.6 920.1,67.7 921.3,67.3 922.5,68.3 923.7,66.6 924.9,67.3 926.1,68.2 927.3,65.8 928.5,66.7 929.7,67.4 930.9,66.9 932.1,69.3 933.3,68.4 934.5,67.9 935.7,67 936.9,68.6 938.1,68.5 939.3,67.6 940.5,67.7 941.7,67 942.9,68.2 944.1,69 945.3,69.2 946.5,69 947.7,69.2 948.9,68.1 950.1,68.3 951.3,69.8 952.5,69.2 953.7,66.2 954.9,69.4 956.1,69.8 957.3,69.7 958.5,66.8 959.7,68.9 960.9,69.8 962.1,71 963.3,69.9 964.5,69.4 965.7,70.4 966.9,69.3 968.1,70.6 969.3,70.4 970.5,71.6 971.7,71 972.9,72 974.1,73.2 975.3,71.3 976.5,70.9 977.7,72.2 978.9,71.9 980.1,72.3 981.3,71.8 982.5,72.9 983.7,72.7 984.9,71 986.1,72.8 987.3,73.4 988.5,74.3 989.7,72.7 990.9,69.4 992.1,74.8 993.3,73.5 994.5,74.3 995.7,74.7 996.9,74.5 998.1,74.7" fill="none" stroke="#1a2157" stroke-width="1.0" stroke-linejoin="round"/><polyline points="910.5,210.5 911.4,211.9 912.3,210 913.2,208.4 914.1,212.1 915,211 915.9,211 916.8,208.3 917.7,210.5 918.6,207.7 919.5,207.3 920.4,210.3 921.3,210 922.2,211.7 923.1,213.2 924,210.8 924.9,213.9 925.8,210 926.7,212.3 927.6,209 928.5,211.4 929.4,210.7 930.3,210.9 931.2,212.3 932.1,208.3 933,211.6 933.9,210.2 934.8,211.8 935.7,212.3 936.6,211.1 937.5,211.1 938.4,209.9 939.3,212.7 940.2,210.8 941.1,212.7 942,209.7 942.9,214.3 943.8,210.4 944.7,214.1 945.6,211.5 946.5,213.2 947.4,212.1 948.3,213.5 949.2,212.5 950.1,214.6 951,213.7 951.9,213.7 952.8,215.4 953.7,211.6 954.6,214.9 955.5,213 956.4,210.5 957.3,213.7 958.2,212.7 959.1,215.8 960,212.3 960.9,213.3 961.8,213.8 962.7,210.4 963.6,214.5 964.5,212.1 965.4,216.2 966.3,216.8 967.2,214.1 968.1,211.7 969,214.7 969.9,214.8 970.8,215.8 971.7,214.3 972.6,213 973.5,214.8 974.4,213.6 975.3,218.2 976.2,214.3 977.1,214.5 978,215.6 978.9,213.8 979.8,215.2 980.7,215.8 981.6,215.4 982.5,215.9 983.4,218.5 984.3,217.3 985.2,214.5 986.1,216.1 987,218.2 987.9,216 988.8,217.3 989.7,217.3 990.6,218.3 991.5,217.3 992.4,217.5 993.3,216.4 994.2,218.5 995.1,216.6 996,221 996.9,218.3 997.8,218.1 998.7,219.9" fill="none" stroke="#692e6a" stroke-width="2.2" stroke-linejoin="round"/><polyline points="910.5,210 911.7,210.2 912.9,210.2 914.1,209.7 915.3,209.6 916.5,209.8 917.7,211.4 918.9,210.1 920.1,210.3 921.3,210.4 922.5,211.4 923.7,212.5 924.9,210.2 926.1,211.5 927.3,211.2 928.5,210.9 929.7,211.7 930.9,210.3 932.1,212.1 933.3,211.6 934.5,210.7 935.7,212.9 936.9,212.4 938.1,215.2 939.3,210.6 940.5,211.3 941.7,211.6 942.9,212.6 944.1,213.2 945.3,210.7 946.5,212.3 947.7,212.3 948.9,213.3 950.1,212.5 951.3,211.5 952.5,213.8 953.7,211.9 954.9,212.2 956.1,212.9 957.3,212.6 958.5,213.3 959.7,211.9 960.9,215.2 962.1,214.5 963.3,214.2 964.5,212.7 965.7,212.2 966.9,213.4 968.1,214.1 969.3,217.7 970.5,215.7 971.7,214.3 972.9,215.9 974.1,216.1 975.3,215.3 976.5,216.5 977.7,215.9 978.9,215.3 980.1,215 981.3,216 982.5,217.1 983.7,215.4 984.9,215.3 986.1,217.3 987.3,214.8 988.5,218.6 989.7,216.5 990.9,218.1 992.1,219.2 993.3,216.6 994.5,217.1 995.7,220 996.9,218.1 998.1,218.4" fill="none" stroke="#a0284b" stroke-width="1.5" stroke-linejoin="round"/><polyline points="910.5,358 911.4,355.8 912.3,356.8 913.2,354.7 914.1,356.9 915,353 915.9,352.7 916.8,353.4 917.7,358.7 918.6,358.7 919.5,353.2 920.4,357.8 921.3,354.5 922.2,357.7 923.1,354.2 924,357.5 924.9,354.8 925.8,354.4 926.7,355.1 927.6,355.7 928.5,353.8 929.4,351.8 930.3,359.7 931.2,354.4 932.1,350.8 933,349.7 933.9,348.4 934.8,354.1 935.7,359.2 936.6,351.6 937.5,355 938.4,351.2 939.3,358.8 940.2,356.9 941.1,356.9 942,359.5 942.9,360.4 943.8,358.8 944.7,354.7 945.6,352.9 946.5,353.6 947.4,351.9 948.3,361.1 949.2,356 950.1,356.9 951,357.1 951.9,361.8 952.8,355.2 953.7,359.8 954.6,357.6 955.5,356.5 956.4,352 957.3,359.3 958.2,355.1 959.1,355.9 960,357.7 960.9,357.5 961.8,360.2 962.7,355.7 963.6,358 964.5,358.4 965.4,357.9 966.3,359.7 967.2,357.4 968.1,361.2 969,356.4 969.9,354.7 970.8,358.4 971.7,361.6 972.6,357.4 973.5,357.2 974.4,358.1 975.3,359.5 976.2,358.7 977.1,360.1 978,355 978.9,363.4 979.8,361.1 980.7,357.5 981.6,363.4 982.5,361.1 983.4,363.9 984.3,357.2 985.2,364.6 986.1,360.6 987,355.3 987.9,362.6 988.8,360 989.7,358.3 990.6,360.5 991.5,356.1 992.4,362.8 993.3,360.8 994.2,360.8 995.1,365.2 996,361.8 996.9,360.1 997.8,359.5 998.7,361.9" fill="none" stroke="#d8222d" stroke-width="2.4" stroke-linejoin="round"/><polyline points="910.5,355.1 911.7,353.8 912.9,353.5 914.1,355.2 915.3,354.6 916.5,354.6 917.7,356.4 918.9,353.7 920.1,354.9 921.3,353.4 922.5,354.7 923.7,355.5 924.9,356 926.1,354.1 927.3,355.9 928.5,355.9 929.7,355.2 930.9,357.4 932.1,355.5 933.3,354.8 934.5,355.9 935.7,354.1 936.9,357 938.1,356.6 939.3,355.5 940.5,356.4 941.7,356.4 942.9,360.4 944.1,355.6 945.3,355.1 946.5,354.6 947.7,356.1 948.9,355.1 950.1,356.3 951.3,356.9 952.5,360 953.7,355.9 954.9,357.7 956.1,356.6 957.3,357.1 958.5,359.3 959.7,355.9 960.9,356.4 962.1,359.4 963.3,357.3 964.5,356.8 965.7,359.3 966.9,357.4 968.1,357.1 969.3,357.9 970.5,358.4 971.7,358.5 972.9,359.1 974.1,357.4 975.3,357.8 976.5,359.8 977.7,358.9 978.9,360.5 980.1,359.9 981.3,358.6 982.5,360.4 983.7,359.2 984.9,360.4 986.1,361.4 987.3,362.3 988.5,360.6 989.7,361.4 990.9,361.2 992.1,361.8 993.3,358.8 994.5,361.1 995.7,361.8 996.9,362.2 998.1,361.3" fill="none" stroke="#ec1c24" stroke-width="2.6" stroke-linejoin="round"/><polyline points="910.5,355.1 911.7,353.8 912.9,353.5 914.1,355.2 915.3,354.6 916.5,354.6 917.7,356.4 918.9,353.7 920.1,354.9 921.3,353.4 922.5,354.7 923.7,355.5 924.9,356 926.1,354.1 927.3,355.9 928.5,355.9 929.7,355.2 930.9,357.4 932.1,355.5 933.3,354.8 934.5,355.9 935.7,354.1 936.9,357 938.1,356.6 939.3,355.5 940.5,356.4 941.7,356.4 942.9,360.4 944.1,355.6 945.3,355.1 946.5,354.6 947.7,356.1 948.9,355.1 950.1,356.3 951.3,356.9 952.5,360 953.7,355.9 954.9,357.7 956.1,356.6 957.3,357.1 958.5,359.3 959.7,355.9 960.9,356.4 962.1,359.4 963.3,357.3 964.5,356.8 965.7,359.3 966.9,357.4 968.1,357.1 969.3,357.9 970.5,358.4 971.7,358.5 972.9,359.1 974.1,357.4 975.3,357.8 976.5,359.8 977.7,358.9 978.9,360.5 980.1,359.9 981.3,358.6 982.5,360.4 983.7,359.2 984.9,360.4 986.1,361.4 987.3,362.3 988.5,360.6 989.7,361.4 990.9,361.2 992.1,361.8 993.3,358.8 994.5,361.1 995.7,361.8 996.9,362.2 998.1,361.3" fill="none" stroke="#f15e24" stroke-width="1.2" stroke-linejoin="round"/><polyline points="910.5,499.7 911.4,497.3 912.3,501.8 913.2,497.2 914.1,499.6 915,500.3 915.9,500.4 916.8,500.2 917.7,501.7 918.6,498.2 919.5,499.8 920.4,500.1 921.3,499.2 922.2,499.1 923.1,501.9 924,499 924.9,499.4 925.8,499.7 926.7,499.8 927.6,500.4 928.5,499.8 929.4,500.7 930.3,500.4 931.2,500.9 932.1,502.2 933,499.1 933.9,502.7 934.8,499.7 935.7,501.3 936.6,500.6 937.5,500 938.4,497.6 939.3,502.8 940.2,499.4 941.1,499.4 942,502.1 942.9,500.7 943.8,503.3 944.7,503 945.6,501.7 946.5,501 947.4,501.8 948.3,498.8 949.2,501 950.1,501 951,500.1 951.9,501.2 952.8,498.7 953.7,502.2 954.6,502.7 955.5,499 956.4,501.1 957.3,503.2 958.2,501.6 959.1,499.5 960,499.6 960.9,502.3 961.8,503.8 962.7,499.6 963.6,501.3 964.5,500.2 965.4,501 966.3,501.9 967.2,501.4 968.1,500.6 969,504.6 969.9,501.4 970.8,501.5 971.7,503.4 972.6,501.9 973.5,501.6 974.4,503.3 975.3,500.5 976.2,503.1 977.1,503.6 978,503.1 978.9,502 979.8,502.3 980.7,499.9 981.6,502.2 982.5,502.9 983.4,503.8 984.3,502.8 985.2,502.1 986.1,501.5 987,502.7 987.9,503 988.8,504.6 989.7,502.9 990.6,502.3 991.5,502.9 992.4,502.4 993.3,502.8 994.2,500.1 995.1,501 996,501.6 996.9,504.1 997.8,503.3 998.7,503.7" fill="none" stroke="#f05527" stroke-width="2.2" stroke-linejoin="round"/><polyline points="910.5,500.9 911.4,498.5 912.3,500.9 913.2,500.1 914.1,498.9 915,501.4 915.9,498.2 916.8,498.6 917.7,499.6 918.6,500.3 919.5,499.7 920.4,497.6 921.3,499.6 922.2,499.9 923.1,502.7 924,501.5 924.9,500.2 925.8,498.9 926.7,500.4 927.6,498.8 928.5,500.3 929.4,500.6 930.3,499.7 931.2,500.5 932.1,499.9 933,499.6 933.9,501.9 934.8,500.9 935.7,500 936.6,499.5 937.5,500.6 938.4,501 939.3,501.4 940.2,502.1 941.1,501 942,499.3 942.9,502.7 943.8,501.8 944.7,501.5 945.6,502.1 946.5,499 947.4,500.3 948.3,500.1 949.2,502 950.1,499.5 951,500.4 951.9,502.4 952.8,501.5 953.7,500.4 954.6,502.9 955.5,499.4 956.4,501.4 957.3,500.7 958.2,501.5 959.1,500.7 960,500.1 960.9,501.3 961.8,499.7 962.7,501.8 963.6,500.9 964.5,502.3 965.4,500.9 966.3,500.7 967.2,501.9 968.1,502.9 969,499.3 969.9,501.8 970.8,502.4 971.7,500.2 972.6,500.9 973.5,502.6 974.4,501 975.3,501.3 976.2,503.9 977.1,501.1 978,501.2 978.9,499.7 979.8,501.1 980.7,501 981.6,504.3 982.5,503.8 983.4,501.1 984.3,504.7 985.2,503.5 986.1,502.5 987,503.6 987.9,503.2 988.8,502 989.7,501 990.6,502 991.5,503 992.4,502.7 993.3,502.3 994.2,504.3 995.1,502.1 996,504.3 996.9,502.9 997.8,503.6 998.7,502.3" fill="none" stroke="#f8d618" stroke-width="2.3" stroke-linejoin="round"/><polyline points="1015.6,63.5 1016.5,62.7 1017.4,61.8 1018.3,63.4 1019.2,63.4 1020.1,64.3 1021,63.7 1021.9,62.4 1022.8,62.8 1023.7,60.9 1024.6,62.3 1025.5,64.6 1026.4,64.8 1027.3,64.1 1028.2,63.6 1029.1,63.9 1030,63.8 1030.9,61.6 1031.8,62.4 1032.7,64.4 1033.6,64.4 1034.5,63.5 1035.4,62.9 1036.3,62.8 1037.2,62.7 1038.1,62.3 1039,61.3 1039.9,63.3 1040.8,62.7 1041.7,62.9 1042.6,64.8 1043.5,63.7 1044.4,62.4 1045.3,63.7 1046.2,61.6 1047.1,64.1 1048,63.3 1048.9,62.9 1049.8,63.6 1050.7,64.5 1051.6,62.6 1052.5,62 1053.4,65.1 1054.3,63 1055.2,64.5 1056.1,62.3 1057,63.3 1057.9,62.3 1058.8,63.6 1059.7,62.6 1060.6,62.2 1061.5,64.4 1062.4,63.2 1063.3,60.9 1064.2,62.6 1065.1,61.9 1066,61.6 1066.9,62.2 1067.8,62.3 1068.7,62.8 1069.6,62 1070.5,60.9 1071.4,62.2 1072.3,63.6 1073.2,61.4 1074.1,63.3 1075,63.2 1075.9,62.3 1076.8,63 1077.7,61.9 1078.6,62.3 1079.5,61.6 1080.4,63.1 1081.3,64 1082.2,62 1083.1,63.8 1084,60.5 1084.9,61.7 1085.8,61.6 1086.7,64.3 1087.6,62 1088.5,63.3 1089.4,60.5 1090.3,62.6 1091.2,63.1 1092.1,62.5 1093,59.8 1093.9,62.6 1094.8,63.3 1095.7,63.8 1096.6,62.8 1097.5,60.7 1098.4,62.2 1099.3,63.3 1100.2,61.6 1101.1,63 1102,61.9 1102.9,62.5 1103.8,63.2 1104.7,61.8 1105.6,65.3 1106.5,62.6 1107.4,62.8 1108.3,61.8 1109.2,62.6 1110.1,62.3 1111,61.1 1111.9,61 1112.8,62.9 1113.7,62.5 1114.6,60 1115.5,60.5 1116.4,62.3 1117.3,62.6 1118.2,63.3 1119.1,61.4 1120,63.3 1120.9,62.4 1121.8,62.2 1122.7,62.6 1123.6,63.7 1124.5,63.3 1125.4,63.7 1126.3,62.1 1127.2,62.5 1128.1,61.7 1129,62.3 1129.9,62.4 1130.8,62.4 1131.7,63.6 1132.6,63.3 1133.5,63.7 1134.4,63 1135.3,64 1136.2,63.1 1137.1,63.9 1138,63.5 1138.9,63.7 1139.8,62.9 1140.7,61.8 1141.6,61.6 1142.5,65 1143.4,63.4 1144.3,63.5 1145.2,62.9 1146.1,62.6 1147,66 1147.9,62 1148.8,63.1 1149.7,63.1 1150.6,62 1151.5,61.9 1152.4,62.5 1153.3,62.9 1154.2,62.7 1155.1,64 1156,62.1 1156.9,63.7 1157.8,64.7 1158.7,64.2 1159.6,62.2 1160.5,60.4 1161.4,64.2 1162.3,63.8 1163.2,62.8 1164.1,64.6 1165,63 1165.9,63.5 1166.8,62.4 1167.7,63.7 1168.6,63 1169.5,62.9 1170.4,64.5 1171.3,63.7 1172.2,62 1173.1,64.2 1174,64.3 1174.9,62.7 1175.8,63.1 1176.7,63.6 1177.6,63.3 1178.5,63.7 1179.4,64.2 1180.3,63.1 1181.2,65.7 1182.1,62.9 1183,63.1 1183.9,65.6 1184.8,66.1 1185.7,63.7 1186.6,63.5 1187.5,62.6 1188.4,64.9 1189.3,63.9 1190.2,62.9 1191.1,64.2 1192,65.2 1192.9,64.5 1193.8,66 1194.7,65 1195.6,64.3 1196.5,63.8 1197.4,64.4 1198.3,65.1 1199.2,64.8 1200.1,65 1201,64.1 1201.9,64.7 1202.8,65.2 1203.7,63.8 1204.6,62.7 1205.5,65.7 1206.4,64.6 1207.3,63.6 1208.2,64.3 1209.1,63.8 1210,62.4 1210.9,63.9 1211.8,62.7 1212.7,64.3 1213.6,64 1214.5,65.3 1215.4,64 1216.3,64.2 1217.2,62.5 1218.1,61.5 1219,59.5 1219.9,61.8 1220.8,61 1221.7,60.2 1222.6,61 1223.5,60.3 1224.4,60 1225.3,60.9 1226.2,61.9 1227.1,60.4 1228,59.2 1228.9,60 1229.8,62.4 1230.7,59.8 1231.6,61.7 1232.5,60.3 1233.4,61.2 1234.3,60.4 1235.2,58.9 1236.1,60 1237,62.5 1237.9,60.3 1238.8,60.9 1239.7,60 1240.6,60.2 1241.5,60.6 1242.4,60.8 1243.3,62.5 1244.2,60.2 1245.1,60 1246,59.5 1246.9,58.9 1247.8,58.5 1248.7,60.8 1249.6,58.3 1250.5,61.5 1251.4,60.9 1252.3,59.8 1253.2,58.9 1254.1,60 1255,60 1255.9,61.1 1256.8,59.2 1257.7,59.5 1258.6,59.8 1259.5,59.6 1260.4,59.2 1261.3,58.1 1262.2,58.2 1263.1,59.1 1264,59.5 1264.9,60.7 1265.8,62 1266.7,61.4 1267.6,60.1 1268.5,61.5 1269.4,59.5 1270.3,59.1 1271.2,61.9 1272.1,58.5 1273,59.1 1273.9,59.3 1274.8,61 1275.7,58.9 1276.6,60.2 1277.5,59 1278.4,58.2 1279.3,59.6 1280.2,59.5 1281.1,58.2 1282,58.5 1282.9,58.5 1283.8,60.3 1284.7,59.7 1285.6,59.5 1286.5,59.7 1287.4,58.7 1288.3,59.7 1289.2,58.6 1290.1,57.8 1291,58.4 1291.9,59.3 1292.8,59.2 1293.7,60.1 1294.6,57.3 1295.5,58.8 1296.4,59.4 1297.3,58 1298.2,59.2 1299.1,58.5 1300,57.8 1300.9,60 1301.8,57.5 1302.7,59.8 1303.6,58.4 1304.5,57.9 1305.4,57.9 1306.3,58 1307.2,57.9 1308.1,59 1309,56.8 1309.9,59.9 1310.8,59.5 1311.7,60 1312.6,57.6 1313.5,56.3 1314.4,57.9 1315.3,58.4 1316.2,58.8 1317.1,58 1318,58.4 1318.9,58.6 1319.8,56.9 1320.7,60.2 1321.6,57.3 1322.5,58.6 1323.4,59.4 1324.3,57.5 1325.2,58.3 1326.1,59.9 1327,58 1327.9,59.3 1328.8,58.5 1329.7,58.4 1330.6,58.9 1331.5,57.9 1332.4,57.9 1333.3,59.1 1334.2,58.4 1335.1,58.6 1336,56.9 1336.9,58 1337.8,59.2 1338.7,58.9 1339.6,58.3 1340.5,57.4 1341.4,57.3 1342.3,58.3 1343.2,59.3 1344.1,57.9 1345,59.1 1345.9,57.5 1346.8,59" fill="none" stroke="#12112b" stroke-width="2.2" stroke-linejoin="round"/><polyline points="1015.6,62.7 1016.8,63.6 1018,62.6 1019.2,64 1020.4,63.9 1021.6,62.7 1022.8,62.8 1024,63 1025.2,62.2 1026.4,62 1027.6,62.7 1028.8,64 1030,64.4 1031.2,62.9 1032.4,63.1 1033.6,63.4 1034.8,62.8 1036,63 1037.2,63.9 1038.4,63.4 1039.6,63.1 1040.8,62.7 1042,64.3 1043.2,62.7 1044.4,63.2 1045.6,62.3 1046.8,62.6 1048,63.2 1049.2,62.7 1050.4,62.6 1051.6,63.1 1052.8,61.9 1054,61.2 1055.2,63.8 1056.4,62.5 1057.6,64.1 1058.8,62.9 1060,62.3 1061.2,63.4 1062.4,62.7 1063.6,62.9 1064.8,62.1 1066,63.4 1067.2,63.7 1068.4,62.4 1069.6,64.2 1070.8,62.3 1072,63 1073.2,61.4 1074.4,61.2 1075.6,64.4 1076.8,63.8 1078,63.6 1079.2,61.3 1080.4,62.8 1081.6,63 1082.8,62.4 1084,62.8 1085.2,61.9 1086.4,62.4 1087.6,61.7 1088.8,62.3 1090,62.8 1091.2,61.9 1092.4,62.3 1093.6,62.1 1094.8,62.5 1096,63.2 1097.2,62.6 1098.4,62.7 1099.6,61.3 1100.8,62.9 1102,63.1 1103.2,61.8 1104.4,62.1 1105.6,61.7 1106.8,63.6 1108,62.2 1109.2,62 1110.4,63 1111.6,63.5 1112.8,63 1114,63.4 1115.2,62.8 1116.4,62.5 1117.6,62.3 1118.8,62.3 1120,62.2 1121.2,63 1122.4,62.6 1123.6,62.8 1124.8,63.3 1126,62.7 1127.2,61.7 1128.4,62.2 1129.6,62 1130.8,61.3 1132,63 1133.2,61.9 1134.4,61.9 1135.6,63.3 1136.8,63.7 1138,62.7 1139.2,63.8 1140.4,62.9 1141.6,62.7 1142.8,63.5 1144,63.5 1145.2,63.2 1146.4,62.3 1147.6,62.8 1148.8,62.2 1150,62.9 1151.2,63.2 1152.4,64.4 1153.6,64.3 1154.8,63.8 1156,64 1157.2,63.4 1158.4,65.5 1159.6,64.5 1160.8,65.4 1162,63.6 1163.2,63.7 1164.4,64.2 1165.6,63.5 1166.8,66.3 1168,62.6 1169.2,64.2 1170.4,63.6 1171.6,64.1 1172.8,63.3 1174,62.1 1175.2,63.9 1176.4,64.5 1177.6,62.5 1178.8,62.8 1180,63.4 1181.2,63.4 1182.4,62.3 1183.6,65.1 1184.8,64.5 1186,63.2 1187.2,62.3 1188.4,64 1189.6,65.3 1190.8,64.4 1192,64.7 1193.2,63.1 1194.4,64 1195.6,62.6 1196.8,65.4 1198,64.3 1199.2,62.2 1200.4,62.4 1201.6,65.4 1202.8,64.1 1204,63.7 1205.2,64.5 1206.4,65.6 1207.6,64.3 1208.8,62.6 1210,63.9 1211.2,63 1212.4,63.5 1213.6,64.4 1214.8,64 1216,63.3 1217.2,61.5 1218.4,60.9 1219.6,61.3 1220.8,60.6 1222,61.1 1223.2,60.5 1224.4,61.3 1225.6,58.5 1226.8,58.4 1228,60.2 1229.2,60.7 1230.4,59.1 1231.6,67.3 1232.8,60 1234,60.6 1235.2,60.1 1236.4,58.7 1237.6,60.7 1238.8,60 1240,60 1241.2,59.2 1242.4,59.5 1243.6,57 1244.8,61.7 1246,59.1 1247.2,59.3 1248.4,60.3 1249.6,62.3 1250.8,58.7 1252,58.8 1253.2,60.1 1254.4,60.3 1255.6,56.3 1256.8,58.5 1258,59.1 1259.2,60.5 1260.4,59.8 1261.6,60.4 1262.8,59.7 1264,59.7 1265.2,60.2 1266.4,59.6 1267.6,59.9 1268.8,58.9 1270,59.1 1271.2,60 1272.4,59.4 1273.6,58.9 1274.8,60 1276,59.3 1277.2,59.4 1278.4,58.8 1279.6,60.1 1280.8,61.3 1282,58.7 1283.2,58.1 1284.4,58.6 1285.6,58.5 1286.8,58.2 1288,58.2 1289.2,59.8 1290.4,59.8 1291.6,60.3 1292.8,59.7 1294,58.6 1295.2,59.9 1296.4,58.5 1297.6,58.7 1298.8,58 1300,60.6 1301.2,59.7 1302.4,58.5 1303.6,58.1 1304.8,58.8 1306,61 1307.2,59.4 1308.4,58.7 1309.6,60.2 1310.8,57.4 1312,58.3 1313.2,57.1 1314.4,60 1315.6,59.6 1316.8,59 1318,59.3 1319.2,60 1320.4,59.1 1321.6,57.1 1322.8,59.5 1324,57.9 1325.2,57.6 1326.4,57.2 1327.6,59.4 1328.8,58.5 1330,57.4 1331.2,57.9 1332.4,58.3 1333.6,57.9 1334.8,57.9 1336,56.1 1337.2,57.6 1338.4,58.6 1339.6,58.1 1340.8,56.7 1342,57.6 1343.2,58 1344.4,57 1345.6,58.3 1346.8,57.1" fill="none" stroke="#131434" stroke-width="1.0" stroke-linejoin="round"/><polyline points="1015.6,208.7 1016.5,210.7 1017.4,207.9 1018.3,209 1019.2,210.1 1020.1,210.8 1021,208.6 1021.9,209.7 1022.8,209.6 1023.7,207.7 1024.6,206.4 1025.5,206.6 1026.4,210 1027.3,209.3 1028.2,207.4 1029.1,208.3 1030,208.6 1030.9,208.7 1031.8,209.1 1032.7,212 1033.6,208.1 1034.5,209.3 1035.4,208 1036.3,208.2 1037.2,207.9 1038.1,208.7 1039,208.3 1039.9,209.5 1040.8,209.3 1041.7,207.8 1042.6,211.5 1043.5,207.4 1044.4,209.4 1045.3,211.8 1046.2,208 1047.1,210.7 1048,210.8 1048.9,209.3 1049.8,206.4 1050.7,210.8 1051.6,209 1052.5,208.1 1053.4,210.5 1054.3,207.9 1055.2,210.2 1056.1,208.1 1057,209.5 1057.9,207.3 1058.8,208.2 1059.7,207.5 1060.6,207.8 1061.5,209 1062.4,208.5 1063.3,209 1064.2,210.4 1065.1,208.5 1066,206.2 1066.9,208.3 1067.8,208.8 1068.7,210 1069.6,210 1070.5,209.9 1071.4,208.3 1072.3,209.4 1073.2,206.7 1074.1,210.3 1075,209.1 1075.9,209.2 1076.8,208 1077.7,208.6 1078.6,207.6 1079.5,209.2 1080.4,206.7 1081.3,209.8 1082.2,209.2 1083.1,211.1 1084,208.4 1084.9,208.3 1085.8,208.7 1086.7,208.5 1087.6,208.2 1088.5,206.9 1089.4,206.9 1090.3,207.6 1091.2,208 1092.1,206.8 1093,206.8 1093.9,207.9 1094.8,209.3 1095.7,208 1096.6,209.2 1097.5,209.6 1098.4,209.3 1099.3,207.7 1100.2,207.7 1101.1,205.8 1102,207.4 1102.9,208.9 1103.8,206.8 1104.7,210.1 1105.6,210.2 1106.5,207.8 1107.4,209.6 1108.3,206.5 1109.2,207 1110.1,207.9 1111,208.4 1111.9,208.2 1112.8,207.3 1113.7,211 1114.6,208.8 1115.5,208.8 1116.4,209.4 1117.3,208.7 1118.2,208.2 1119.1,207.8 1120,206.4 1120.9,210.5 1121.8,207.3 1122.7,206.4 1123.6,207.5 1124.5,206.5 1125.4,211.3 1126.3,209.1 1127.2,210.5 1128.1,210.6 1129,209.4 1129.9,209.4 1130.8,207.7 1131.7,208.6 1132.6,207.9 1133.5,208.8 1134.4,207.8 1135.3,210.4 1136.2,209.8 1137.1,208.7 1138,206.6 1138.9,209.7 1139.8,210 1140.7,208.8 1141.6,207.2 1142.5,209.4 1143.4,210.3 1144.3,206.4 1145.2,209.7 1146.1,206.5 1147,209 1147.9,211.3 1148.8,209.1 1149.7,209.6 1150.6,208.6 1151.5,209 1152.4,212.1 1153.3,210.8 1154.2,208.6 1155.1,208.6 1156,209.1 1156.9,212 1157.8,209.4 1158.7,210.6 1159.6,208.7 1160.5,207.5 1161.4,210.9 1162.3,209.1 1163.2,208.1 1164.1,208.3 1165,208.3 1165.9,208.4 1166.8,207.2 1167.7,210.8 1168.6,209.8 1169.5,210.6 1170.4,208.8 1171.3,209.8 1172.2,209.5 1173.1,210.9 1174,210.4 1174.9,209.8 1175.8,208.5 1176.7,207.8 1177.6,208.3 1178.5,208.6 1179.4,208.7 1180.3,207.8 1181.2,211.7 1182.1,209.8 1183,206.8 1183.9,208.1 1184.8,207.7 1185.7,209.8 1186.6,211 1187.5,208.3 1188.4,210.4 1189.3,209.2 1190.2,211.1 1191.1,211.4 1192,210 1192.9,210.6 1193.8,209.6 1194.7,209.2 1195.6,208.1 1196.5,210.1 1197.4,209.6 1198.3,209.2 1199.2,209.6 1200.1,209.5 1201,208.4 1201.9,209.1 1202.8,211.3 1203.7,209.5 1204.6,211.7 1205.5,208.3 1206.4,208.1 1207.3,210 1208.2,210.9 1209.1,209 1210,210.7 1210.9,211.1 1211.8,211.3 1212.7,209.8 1213.6,209.9 1214.5,207.8 1215.4,210 1216.3,210 1217.2,210.5 1218.1,206 1219,205.6 1219.9,205.3 1220.8,207.8 1221.7,203.3 1222.6,205.2 1223.5,209.3 1224.4,207.4 1225.3,204.8 1226.2,206.4 1227.1,207.6 1228,207.2 1228.9,206.2 1229.8,205.4 1230.7,207.5 1231.6,206.4 1232.5,207.4 1233.4,206.9 1234.3,205.7 1235.2,208.2 1236.1,205.6 1237,206.8 1237.9,205.4 1238.8,205.9 1239.7,205.9 1240.6,205.3 1241.5,206.5 1242.4,207.8 1243.3,208.5 1244.2,208 1245.1,205.8 1246,208 1246.9,206.6 1247.8,208.4 1248.7,204.3 1249.6,207.9 1250.5,205.1 1251.4,207.4 1252.3,205.3 1253.2,207.1 1254.1,205.5 1255,203.4 1255.9,204.5 1256.8,205.5 1257.7,205.8 1258.6,202.8 1259.5,204.1 1260.4,204.7 1261.3,205.4 1262.2,205.9 1263.1,204.6 1264,203.6 1264.9,206 1265.8,205.1 1266.7,206.7 1267.6,204.8 1268.5,206.3 1269.4,204.3 1270.3,205.8 1271.2,205.6 1272.1,206 1273,204.2 1273.9,205.2 1274.8,204.2 1275.7,205.1 1276.6,206.1 1277.5,209.2 1278.4,205.3 1279.3,206.2 1280.2,205.4 1281.1,206.7 1282,205.8 1282.9,206.5 1283.8,205.6 1284.7,208.2 1285.6,206.9 1286.5,202.8 1287.4,205.4 1288.3,205.1 1289.2,202.1 1290.1,203.9 1291,204.4 1291.9,204 1292.8,205.1 1293.7,202.5 1294.6,205.8 1295.5,205.9 1296.4,205.3 1297.3,204.4 1298.2,204.8 1299.1,204.2 1300,206.2 1300.9,205.4 1301.8,207.3 1302.7,204.2 1303.6,206.6 1304.5,203.9 1305.4,204.4 1306.3,203.2 1307.2,205.3 1308.1,204.5 1309,205.3 1309.9,206.5 1310.8,204.4 1311.7,205 1312.6,205.6 1313.5,204.3 1314.4,203.7 1315.3,204.8 1316.2,205 1317.1,205.4 1318,205.4 1318.9,203.4 1319.8,204.9 1320.7,205.9 1321.6,203.6 1322.5,204.7 1323.4,203.4 1324.3,204.4 1325.2,206.4 1326.1,204.3 1327,202.8 1327.9,204.5 1328.8,204.3 1329.7,205.5 1330.6,202.2 1331.5,202.8 1332.4,203.9 1333.3,201.9 1334.2,205.4 1335.1,201.3 1336,202.8 1336.9,201.9 1337.8,203 1338.7,204.9 1339.6,204.6 1340.5,205 1341.4,204.5 1342.3,201.1 1343.2,204.1 1344.1,201.3 1345,203 1345.9,203.1 1346.8,202.9" fill="none" stroke="#692e6a" stroke-width="2.2" stroke-linejoin="round"/><polyline points="1015.6,209.1 1016.8,208.7 1018,210.7 1019.2,209.8 1020.4,210.2 1021.6,209.9 1022.8,210 1024,209.2 1025.2,210.8 1026.4,208.4 1027.6,209.5 1028.8,209.2 1030,209 1031.2,209.4 1032.4,208.5 1033.6,209.8 1034.8,209.7 1036,209.1 1037.2,209.7 1038.4,209.9 1039.6,207.6 1040.8,208.5 1042,208.8 1043.2,211 1044.4,208.8 1045.6,209.8 1046.8,209.6 1048,210.6 1049.2,209.3 1050.4,209.4 1051.6,208.7 1052.8,208.2 1054,208 1055.2,208.2 1056.4,209.9 1057.6,209 1058.8,208.6 1060,208.8 1061.2,208.3 1062.4,208.7 1063.6,208.7 1064.8,209.2 1066,209.4 1067.2,207.4 1068.4,208.8 1069.6,209.7 1070.8,207.8 1072,208.4 1073.2,208.7 1074.4,209.5 1075.6,209 1076.8,208.4 1078,208.9 1079.2,209.3 1080.4,208.8 1081.6,211.5 1082.8,208.8 1084,207.6 1085.2,207.8 1086.4,208.3 1087.6,208.2 1088.8,208.9 1090,208.7 1091.2,209.7 1092.4,209 1093.6,209.5 1094.8,207.7 1096,207.6 1097.2,208.8 1098.4,208.3 1099.6,206.8 1100.8,208.5 1102,207.8 1103.2,209.7 1104.4,207.9 1105.6,207.1 1106.8,207.8 1108,208.4 1109.2,206.9 1110.4,208.3 1111.6,207.3 1112.8,211.2 1114,208.3 1115.2,209.4 1116.4,208.7 1117.6,209.3 1118.8,209.2 1120,209.3 1121.2,208.2 1122.4,209.4 1123.6,208.8 1124.8,207.6 1126,208.3 1127.2,208.4 1128.4,209.1 1129.6,209.2 1130.8,207.8 1132,209.3 1133.2,208.7 1134.4,207.9 1135.6,209.5 1136.8,208.2 1138,207.9 1139.2,211.8 1140.4,209.6 1141.6,208.4 1142.8,210.1 1144,209.7 1145.2,208.5 1146.4,210.5 1147.6,208.9 1148.8,209.2 1150,207.1 1151.2,209.5 1152.4,208.5 1153.6,209.4 1154.8,207.7 1156,210 1157.2,210.3 1158.4,210.6 1159.6,206.8 1160.8,209.6 1162,209.5 1163.2,206.8 1164.4,208.6 1165.6,209.2 1166.8,210.4 1168,208.6 1169.2,209.5 1170.4,209.3 1171.6,209.6 1172.8,209.5 1174,210.1 1175.2,210.2 1176.4,208.3 1177.6,210.3 1178.8,208.9 1180,209.3 1181.2,210.4 1182.4,209.6 1183.6,210 1184.8,210.2 1186,210 1187.2,209.2 1188.4,208.8 1189.6,210.2 1190.8,210.2 1192,208.5 1193.2,209.5 1194.4,210.4 1195.6,209.7 1196.8,208.6 1198,208.5 1199.2,210.2 1200.4,210.4 1201.6,209.1 1202.8,209.2 1204,210.1 1205.2,209.5 1206.4,209.8 1207.6,210.7 1208.8,210.2 1210,211.4 1211.2,210.2 1212.4,211.3 1213.6,210.8 1214.8,212 1216,210.1 1217.2,208.7 1218.4,208.4 1219.6,206.3 1220.8,206.3 1222,207.9 1223.2,206.9 1224.4,205.5 1225.6,206.8 1226.8,207.4 1228,205.7 1229.2,206.6 1230.4,206.3 1231.6,207.3 1232.8,206.8 1234,206.2 1235.2,206.4 1236.4,207.2 1237.6,206.9 1238.8,207.3 1240,206.1 1241.2,206.3 1242.4,207.8 1243.6,206.1 1244.8,207.5 1246,206.8 1247.2,205.7 1248.4,204.9 1249.6,206.5 1250.8,205.4 1252,205.4 1253.2,204.6 1254.4,206.9 1255.6,206 1256.8,205.9 1258,206.1 1259.2,206 1260.4,205.8 1261.6,206.2 1262.8,205.5 1264,203.6 1265.2,206.2 1266.4,206 1267.6,205.6 1268.8,206.8 1270,204.4 1271.2,204.9 1272.4,206.7 1273.6,205.8 1274.8,204.1 1276,205.1 1277.2,205.9 1278.4,204.4 1279.6,205.8 1280.8,207 1282,206.4 1283.2,205.2 1284.4,205.5 1285.6,204.4 1286.8,205.2 1288,204.8 1289.2,204.3 1290.4,204 1291.6,206.6 1292.8,205.1 1294,204.2 1295.2,204.9 1296.4,206.1 1297.6,206.2 1298.8,204.4 1300,205 1301.2,205.5 1302.4,204.5 1303.6,203.8 1304.8,203.9 1306,204.7 1307.2,204 1308.4,203.6 1309.6,204.4 1310.8,205.3 1312,205.1 1313.2,202.8 1314.4,206 1315.6,203.8 1316.8,204.4 1318,203.3 1319.2,205 1320.4,204.2 1321.6,203 1322.8,203.6 1324,205.7 1325.2,204.8 1326.4,203.4 1327.6,205.6 1328.8,202.9 1330,203.4 1331.2,203 1332.4,203.4 1333.6,203.8 1334.8,204.4 1336,204.8 1337.2,204.7 1338.4,206 1339.6,204.9 1340.8,203.8 1342,204.2 1343.2,203.1 1344.4,203.5 1345.6,204 1346.8,203" fill="none" stroke="#a0284b" stroke-width="1.5" stroke-linejoin="round"/><polyline points="1015.6,356.2 1016.5,355.6 1017.4,356.1 1018.3,353.7 1019.2,355.9 1020.1,355.6 1021,351.9 1021.9,352.5 1022.8,355 1023.7,354 1024.6,354.8 1025.5,354 1026.4,356.9 1027.3,352.3 1028.2,353 1029.1,353.5 1030,353 1030.9,354 1031.8,354.7 1032.7,353 1033.6,355.3 1034.5,356.5 1035.4,356.2 1036.3,357.4 1037.2,356.2 1038.1,354.7 1039,357.1 1039.9,355.6 1040.8,357.2 1041.7,354.4 1042.6,351.8 1043.5,353.1 1044.4,354.9 1045.3,355.4 1046.2,354.3 1047.1,356 1048,353 1048.9,353.6 1049.8,355.9 1050.7,354.6 1051.6,354.7 1052.5,356.4 1053.4,356 1054.3,353.5 1055.2,354.8 1056.1,352.2 1057,354.5 1057.9,355 1058.8,352.1 1059.7,356.6 1060.6,357.2 1061.5,355.1 1062.4,355.7 1063.3,356.5 1064.2,354.2 1065.1,355.8 1066,354.9 1066.9,352.3 1067.8,353.2 1068.7,353.6 1069.6,355.8 1070.5,354.5 1071.4,355.7 1072.3,353.7 1073.2,352.6 1074.1,357.1 1075,358 1075.9,354.8 1076.8,354 1077.7,355.9 1078.6,352.8 1079.5,354 1080.4,352.3 1081.3,354.9 1082.2,354.5 1083.1,353.7 1084,353.3 1084.9,352.1 1085.8,353.1 1086.7,355.8 1087.6,353.7 1088.5,355.8 1089.4,353 1090.3,354 1091.2,353.5 1092.1,353.7 1093,355.1 1093.9,351.3 1094.8,355.1 1095.7,355 1096.6,354 1097.5,354.1 1098.4,353.7 1099.3,354.9 1100.2,354.1 1101.1,352.9 1102,354.2 1102.9,355.3 1103.8,354.6 1104.7,354.1 1105.6,354.4 1106.5,353.4 1107.4,353.5 1108.3,351.6 1109.2,353.9 1110.1,355.5 1111,353.6 1111.9,352.9 1112.8,355.4 1113.7,354.4 1114.6,354.4 1115.5,354.9 1116.4,355.2 1117.3,354.2 1118.2,353.1 1119.1,356.6 1120,354.4 1120.9,353.3 1121.8,354.6 1122.7,355.9 1123.6,352.4 1124.5,356.1 1125.4,354.2 1126.3,357 1127.2,355.3 1128.1,354.3 1129,356.1 1129.9,356.1 1130.8,354 1131.7,354.8 1132.6,353.8 1133.5,355.7 1134.4,352.6 1135.3,354.3 1136.2,351.7 1137.1,355.3 1138,351.5 1138.9,353.1 1139.8,354.9 1140.7,354.1 1141.6,354 1142.5,353.3 1143.4,354 1144.3,352.3 1145.2,355.1 1146.1,355.7 1147,355.7 1147.9,354.6 1148.8,356.3 1149.7,355.3 1150.6,356 1151.5,355.2 1152.4,354.8 1153.3,353.7 1154.2,351.2 1155.1,355.6 1156,354.6 1156.9,357.4 1157.8,352.2 1158.7,355.9 1159.6,353.6 1160.5,354.8 1161.4,353.7 1162.3,355.3 1163.2,354.8 1164.1,356.1 1165,355.1 1165.9,355.6 1166.8,356.6 1167.7,355.6 1168.6,354.8 1169.5,356.6 1170.4,354.8 1171.3,355.5 1172.2,354.6 1173.1,354.1 1174,351 1174.9,356 1175.8,353.5 1176.7,356 1177.6,357.5 1178.5,353.3 1179.4,356.3 1180.3,355 1181.2,355.7 1182.1,353.5 1183,355.2 1183.9,355.4 1184.8,357.1 1185.7,358 1186.6,355.6 1187.5,354.7 1188.4,358.2 1189.3,355.1 1190.2,355.2 1191.1,355.4 1192,355.9 1192.9,356.2 1193.8,354.5 1194.7,355.2 1195.6,357.8 1196.5,357.5 1197.4,356 1198.3,355.7 1199.2,355.1 1200.1,356.8 1201,354.7 1201.9,355.6 1202.8,354.8 1203.7,354.6 1204.6,355.5 1205.5,355.5 1206.4,354.7 1207.3,355.4 1208.2,355.6 1209.1,354.9 1210,354.7 1210.9,355.4 1211.8,356.5 1212.7,357 1213.6,355.8 1214.5,355.2 1215.4,355.6 1216.3,357.9 1217.2,355.6 1218.1,352.3 1219,352.6 1219.9,351.9 1220.8,352.1 1221.7,350.3 1222.6,352.6 1223.5,350.7 1224.4,351.7 1225.3,354.5 1226.2,353.8 1227.1,351.3 1228,351.1 1228.9,351.2 1229.8,349.9 1230.7,351.1 1231.6,352 1232.5,350.9 1233.4,353.3 1234.3,352.2 1235.2,351.6 1236.1,354.6 1237,353.2 1237.9,352.3 1238.8,354.7 1239.7,353.9 1240.6,351.2 1241.5,352.6 1242.4,351.5 1243.3,350.2 1244.2,354.6 1245.1,354.1 1246,350.3 1246.9,352.7 1247.8,349.8 1248.7,353.4 1249.6,351.9 1250.5,351.5 1251.4,353.6 1252.3,351.9 1253.2,351.5 1254.1,353.1 1255,351.4 1255.9,353 1256.8,351.8 1257.7,352.9 1258.6,352.6 1259.5,352.8 1260.4,350.4 1261.3,354.2 1262.2,351.5 1263.1,354 1264,350.8 1264.9,351.3 1265.8,351.3 1266.7,353.1 1267.6,351 1268.5,352.1 1269.4,349.4 1270.3,350.9 1271.2,351.8 1272.1,351.3 1273,348.9 1273.9,352.1 1274.8,350.1 1275.7,354 1276.6,351.1 1277.5,354.4 1278.4,352.2 1279.3,351.9 1280.2,350.6 1281.1,351.1 1282,351.9 1282.9,348.6 1283.8,352.5 1284.7,349.6 1285.6,350.8 1286.5,347.5 1287.4,351.7 1288.3,352.1 1289.2,351.5 1290.1,351.5 1291,350.6 1291.9,351.2 1292.8,352.6 1293.7,350.4 1294.6,351.7 1295.5,351.9 1296.4,350.6 1297.3,351.2 1298.2,351.2 1299.1,350.2 1300,354.1 1300.9,350.2 1301.8,353.1 1302.7,352.2 1303.6,348 1304.5,351.1 1305.4,352.1 1306.3,351.8 1307.2,349.5 1308.1,351 1309,349 1309.9,349.2 1310.8,350.3 1311.7,350.9 1312.6,352.8 1313.5,351 1314.4,352 1315.3,348.9 1316.2,348.9 1317.1,349.8 1318,352.8 1318.9,348.6 1319.8,348.3 1320.7,350.3 1321.6,352 1322.5,348.1 1323.4,350 1324.3,348.5 1325.2,352.3 1326.1,351.2 1327,350.6 1327.9,350.2 1328.8,349.9 1329.7,350.4 1330.6,349.3 1331.5,349 1332.4,348.6 1333.3,350.1 1334.2,349 1335.1,351.3 1336,347.2 1336.9,350.8 1337.8,350.7 1338.7,351.7 1339.6,349.6 1340.5,347.9 1341.4,348.7 1342.3,351.5 1343.2,349.5 1344.1,349.3 1345,349.1 1345.9,349.8 1346.8,349.5" fill="none" stroke="#d8222d" stroke-width="2.4" stroke-linejoin="round"/><polyline points="1015.6,353.8 1016.8,354.5 1018,355.8 1019.2,356.1 1020.4,354.9 1021.6,354.5 1022.8,356 1024,354.8 1025.2,354 1026.4,354.8 1027.6,355.4 1028.8,356.1 1030,355.5 1031.2,355.2 1032.4,354.6 1033.6,355.7 1034.8,355 1036,355 1037.2,354 1038.4,354.5 1039.6,354.5 1040.8,351.9 1042,355.4 1043.2,354.7 1044.4,354.5 1045.6,354.4 1046.8,354.7 1048,354.8 1049.2,353.6 1050.4,354.7 1051.6,354.7 1052.8,357.7 1054,352 1055.2,354.4 1056.4,353.5 1057.6,354.8 1058.8,355.5 1060,355.2 1061.2,354.2 1062.4,354 1063.6,354 1064.8,354.7 1066,353.9 1067.2,354 1068.4,352.4 1069.6,353.7 1070.8,353.7 1072,353.9 1073.2,355.3 1074.4,353.3 1075.6,353.3 1076.8,354.7 1078,353.5 1079.2,352.5 1080.4,354.4 1081.6,354.2 1082.8,353.9 1084,354.9 1085.2,355.3 1086.4,356.2 1087.6,353.9 1088.8,354.9 1090,354 1091.2,353.3 1092.4,353.8 1093.6,354.7 1094.8,353.3 1096,354.2 1097.2,354.3 1098.4,353.5 1099.6,354.4 1100.8,354.5 1102,354.8 1103.2,354.8 1104.4,352.9 1105.6,354.8 1106.8,354.6 1108,354.9 1109.2,353.5 1110.4,354.9 1111.6,354.5 1112.8,353.3 1114,355.2 1115.2,353.6 1116.4,353.4 1117.6,354.6 1118.8,353.8 1120,354.6 1121.2,354.1 1122.4,354.5 1123.6,355 1124.8,354.3 1126,355 1127.2,355 1128.4,353.7 1129.6,355.1 1130.8,354.9 1132,354.6 1133.2,355.3 1134.4,355.8 1135.6,355.1 1136.8,353.4 1138,354.9 1139.2,354.4 1140.4,354.4 1141.6,354.8 1142.8,354.3 1144,355.9 1145.2,354.8 1146.4,354.7 1147.6,355.3 1148.8,355.3 1150,355.6 1151.2,355.2 1152.4,354.7 1153.6,354.9 1154.8,353.1 1156,353.6 1157.2,355.6 1158.4,354.6 1159.6,356.2 1160.8,356.2 1162,353.9 1163.2,355.1 1164.4,357.1 1165.6,354.3 1166.8,355.2 1168,354.8 1169.2,354.8 1170.4,354.8 1171.6,355 1172.8,355.6 1174,354.4 1175.2,355.4 1176.4,354.5 1177.6,355.5 1178.8,355.3 1180,352.3 1181.2,355.2 1182.4,354.6 1183.6,354.5 1184.8,356.1 1186,353.8 1187.2,355.6 1188.4,355.8 1189.6,354.8 1190.8,356.1 1192,356 1193.2,354.3 1194.4,355.7 1195.6,355.7 1196.8,354.8 1198,355.8 1199.2,356 1200.4,354.8 1201.6,353.9 1202.8,355.7 1204,354.9 1205.2,354.1 1206.4,355.2 1207.6,353.6 1208.8,355.3 1210,356.7 1211.2,353.3 1212.4,355.9 1213.6,354.9 1214.8,355.3 1216,356.3 1217.2,354.9 1218.4,353.2 1219.6,352 1220.8,351.6 1222,352.2 1223.2,353.4 1224.4,351.6 1225.6,352.8 1226.8,352.7 1228,350.9 1229.2,353.2 1230.4,352.3 1231.6,354.1 1232.8,353.7 1234,352.1 1235.2,352.1 1236.4,351.5 1237.6,351.1 1238.8,352.8 1240,352 1241.2,351.8 1242.4,352 1243.6,352.6 1244.8,352.8 1246,352 1247.2,351.8 1248.4,352.1 1249.6,353.6 1250.8,350.3 1252,351 1253.2,352.2 1254.4,352 1255.6,352.8 1256.8,352.8 1258,353.3 1259.2,351.1 1260.4,352.2 1261.6,351.5 1262.8,352.4 1264,351.8 1265.2,352.3 1266.4,351 1267.6,352.5 1268.8,351.1 1270,351.3 1271.2,351.1 1272.4,350.6 1273.6,352.3 1274.8,351.6 1276,352.2 1277.2,350.6 1278.4,349.8 1279.6,350.8 1280.8,351.1 1282,351.9 1283.2,352 1284.4,352.1 1285.6,352.4 1286.8,351.7 1288,351.2 1289.2,350.5 1290.4,351.6 1291.6,350.6 1292.8,350.4 1294,351.4 1295.2,351.1 1296.4,351.6 1297.6,350.3 1298.8,351.8 1300,351.1 1301.2,350.7 1302.4,350.2 1303.6,349.9 1304.8,349.7 1306,351.8 1307.2,349.6 1308.4,351.2 1309.6,353 1310.8,350.2 1312,350.2 1313.2,350.5 1314.4,351.2 1315.6,350.9 1316.8,350.5 1318,349.4 1319.2,349 1320.4,351.9 1321.6,349.6 1322.8,349.1 1324,351.2 1325.2,349.1 1326.4,350.9 1327.6,351 1328.8,350.3 1330,350.9 1331.2,348.9 1332.4,349.2 1333.6,350 1334.8,350.1 1336,350 1337.2,350.4 1338.4,349.4 1339.6,348.3 1340.8,350.3 1342,349.7 1343.2,350.5 1344.4,351.5 1345.6,349.9 1346.8,350.3" fill="none" stroke="#ec1c24" stroke-width="2.6" stroke-linejoin="round"/><polyline points="1015.6,353.8 1016.8,354.5 1018,355.8 1019.2,356.1 1020.4,354.9 1021.6,354.5 1022.8,356 1024,354.8 1025.2,354 1026.4,354.8 1027.6,355.4 1028.8,356.1 1030,355.5 1031.2,355.2 1032.4,354.6 1033.6,355.7 1034.8,355 1036,355 1037.2,354 1038.4,354.5 1039.6,354.5 1040.8,351.9 1042,355.4 1043.2,354.7 1044.4,354.5 1045.6,354.4 1046.8,354.7 1048,354.8 1049.2,353.6 1050.4,354.7 1051.6,354.7 1052.8,357.7 1054,352 1055.2,354.4 1056.4,353.5 1057.6,354.8 1058.8,355.5 1060,355.2 1061.2,354.2 1062.4,354 1063.6,354 1064.8,354.7 1066,353.9 1067.2,354 1068.4,352.4 1069.6,353.7 1070.8,353.7 1072,353.9 1073.2,355.3 1074.4,353.3 1075.6,353.3 1076.8,354.7 1078,353.5 1079.2,352.5 1080.4,354.4 1081.6,354.2 1082.8,353.9 1084,354.9 1085.2,355.3 1086.4,356.2 1087.6,353.9 1088.8,354.9 1090,354 1091.2,353.3 1092.4,353.8 1093.6,354.7 1094.8,353.3 1096,354.2 1097.2,354.3 1098.4,353.5 1099.6,354.4 1100.8,354.5 1102,354.8 1103.2,354.8 1104.4,352.9 1105.6,354.8 1106.8,354.6 1108,354.9 1109.2,353.5 1110.4,354.9 1111.6,354.5 1112.8,353.3 1114,355.2 1115.2,353.6 1116.4,353.4 1117.6,354.6 1118.8,353.8 1120,354.6 1121.2,354.1 1122.4,354.5 1123.6,355 1124.8,354.3 1126,355 1127.2,355 1128.4,353.7 1129.6,355.1 1130.8,354.9 1132,354.6 1133.2,355.3 1134.4,355.8 1135.6,355.1 1136.8,353.4 1138,354.9 1139.2,354.4 1140.4,354.4 1141.6,354.8 1142.8,354.3 1144,355.9 1145.2,354.8 1146.4,354.7 1147.6,355.3 1148.8,355.3 1150,355.6 1151.2,355.2 1152.4,354.7 1153.6,354.9 1154.8,353.1 1156,353.6 1157.2,355.6 1158.4,354.6 1159.6,356.2 1160.8,356.2 1162,353.9 1163.2,355.1 1164.4,357.1 1165.6,354.3 1166.8,355.2 1168,354.8 1169.2,354.8 1170.4,354.8 1171.6,355 1172.8,355.6 1174,354.4 1175.2,355.4 1176.4,354.5 1177.6,355.5 1178.8,355.3 1180,352.3 1181.2,355.2 1182.4,354.6 1183.6,354.5 1184.8,356.1 1186,353.8 1187.2,355.6 1188.4,355.8 1189.6,354.8 1190.8,356.1 1192,356 1193.2,354.3 1194.4,355.7 1195.6,355.7 1196.8,354.8 1198,355.8 1199.2,356 1200.4,354.8 1201.6,353.9 1202.8,355.7 1204,354.9 1205.2,354.1 1206.4,355.2 1207.6,353.6 1208.8,355.3 1210,356.7 1211.2,353.3 1212.4,355.9 1213.6,354.9 1214.8,355.3 1216,356.3 1217.2,354.9 1218.4,353.2 1219.6,352 1220.8,351.6 1222,352.2 1223.2,353.4 1224.4,351.6 1225.6,352.8 1226.8,352.7 1228,350.9 1229.2,353.2 1230.4,352.3 1231.6,354.1 1232.8,353.7 1234,352.1 1235.2,352.1 1236.4,351.5 1237.6,351.1 1238.8,352.8 1240,352 1241.2,351.8 1242.4,352 1243.6,352.6 1244.8,352.8 1246,352 1247.2,351.8 1248.4,352.1 1249.6,353.6 1250.8,350.3 1252,351 1253.2,352.2 1254.4,352 1255.6,352.8 1256.8,352.8 1258,353.3 1259.2,351.1 1260.4,352.2 1261.6,351.5 1262.8,352.4 1264,351.8 1265.2,352.3 1266.4,351 1267.6,352.5 1268.8,351.1 1270,351.3 1271.2,351.1 1272.4,350.6 1273.6,352.3 1274.8,351.6 1276,352.2 1277.2,350.6 1278.4,349.8 1279.6,350.8 1280.8,351.1 1282,351.9 1283.2,352 1284.4,352.1 1285.6,352.4 1286.8,351.7 1288,351.2 1289.2,350.5 1290.4,351.6 1291.6,350.6 1292.8,350.4 1294,351.4 1295.2,351.1 1296.4,351.6 1297.6,350.3 1298.8,351.8 1300,351.1 1301.2,350.7 1302.4,350.2 1303.6,349.9 1304.8,349.7 1306,351.8 1307.2,349.6 1308.4,351.2 1309.6,353 1310.8,350.2 1312,350.2 1313.2,350.5 1314.4,351.2 1315.6,350.9 1316.8,350.5 1318,349.4 1319.2,349 1320.4,351.9 1321.6,349.6 1322.8,349.1 1324,351.2 1325.2,349.1 1326.4,350.9 1327.6,351 1328.8,350.3 1330,350.9 1331.2,348.9 1332.4,349.2 1333.6,350 1334.8,350.1 1336,350 1337.2,350.4 1338.4,349.4 1339.6,348.3 1340.8,350.3 1342,349.7 1343.2,350.5 1344.4,351.5 1345.6,349.9 1346.8,350.3" fill="none" stroke="#f15e24" stroke-width="1.2" stroke-linejoin="round"/><polyline points="1015.6,499.4 1016.5,500.8 1017.4,500.9 1018.3,499.6 1019.2,500 1020.1,500.5 1021,499.9 1021.9,499.2 1022.8,500.4 1023.7,500.1 1024.6,500 1025.5,501 1026.4,500.2 1027.3,499.5 1028.2,500.1 1029.1,501.9 1030,499.2 1030.9,499.6 1031.8,499.1 1032.7,500.2 1033.6,498.6 1034.5,500.3 1035.4,500.6 1036.3,499.1 1037.2,499 1038.1,498.4 1039,499.9 1039.9,498.7 1040.8,499.2 1041.7,499.4 1042.6,499.1 1043.5,500.7 1044.4,501.4 1045.3,497.7 1046.2,499 1047.1,500.1 1048,498.7 1048.9,499.3 1049.8,500 1050.7,501.2 1051.6,501 1052.5,499.5 1053.4,499.9 1054.3,499.4 1055.2,499.6 1056.1,498.6 1057,498 1057.9,499.4 1058.8,500.7 1059.7,500.5 1060.6,497.9 1061.5,499.5 1062.4,499.1 1063.3,500 1064.2,498.6 1065.1,500.6 1066,499.5 1066.9,500.3 1067.8,500.6 1068.7,497.7 1069.6,499.5 1070.5,501.2 1071.4,499.7 1072.3,500.7 1073.2,500.1 1074.1,499.2 1075,499.9 1075.9,500.7 1076.8,500.9 1077.7,501.1 1078.6,498.5 1079.5,500.4 1080.4,498.2 1081.3,499.5 1082.2,499.4 1083.1,500.2 1084,499.9 1084.9,500.8 1085.8,499 1086.7,500.4 1087.6,500 1088.5,499.6 1089.4,498.4 1090.3,500.1 1091.2,499.9 1092.1,500.3 1093,499.5 1093.9,499.3 1094.8,499.9 1095.7,500 1096.6,500.2 1097.5,501.4 1098.4,498.9 1099.3,501.5 1100.2,496.5 1101.1,500.5 1102,498.7 1102.9,501.5 1103.8,498.6 1104.7,500.6 1105.6,498.5 1106.5,498.4 1107.4,500.3 1108.3,500.4 1109.2,498.9 1110.1,502 1111,499.3 1111.9,501.1 1112.8,498.6 1113.7,498.6 1114.6,499.7 1115.5,498.6 1116.4,500.1 1117.3,497.5 1118.2,499.8 1119.1,499.1 1120,498.7 1120.9,499.9 1121.8,499.4 1122.7,499.2 1123.6,500.5 1124.5,500 1125.4,500.1 1126.3,501 1127.2,499.6 1128.1,500.5 1129,499.3 1129.9,500.3 1130.8,500.2 1131.7,499.2 1132.6,498.2 1133.5,498.5 1134.4,498.8 1135.3,500.3 1136.2,499.6 1137.1,499.5 1138,500.2 1138.9,500.5 1139.8,501.2 1140.7,499.2 1141.6,500.3 1142.5,500.5 1143.4,498.8 1144.3,499.9 1145.2,498.9 1146.1,499.6 1147,500.2 1147.9,498.1 1148.8,499 1149.7,499 1150.6,499.9 1151.5,499.1 1152.4,500.2 1153.3,499 1154.2,499.4 1155.1,500.5 1156,500.2 1156.9,500 1157.8,499.9 1158.7,500.9 1159.6,501.3 1160.5,499.5 1161.4,499.2 1162.3,498.9 1163.2,501.7 1164.1,499 1165,498.6 1165.9,500.2 1166.8,501 1167.7,498.7 1168.6,499.8 1169.5,498.6 1170.4,499.3 1171.3,501.6 1172.2,500.2 1173.1,499.7 1174,500.1 1174.9,500.3 1175.8,499.9 1176.7,498.8 1177.6,498.9 1178.5,502 1179.4,499.3 1180.3,501.2 1181.2,499.3 1182.1,501.4 1183,500.8 1183.9,499.9 1184.8,502.1 1185.7,499.2 1186.6,499.9 1187.5,499.2 1188.4,499.3 1189.3,499.8 1190.2,499.2 1191.1,499.8 1192,501.7 1192.9,498.4 1193.8,498.9 1194.7,499.2 1195.6,499.7 1196.5,501.2 1197.4,500.9 1198.3,500.7 1199.2,500.4 1200.1,502.6 1201,499.1 1201.9,499.1 1202.8,500.2 1203.7,500.4 1204.6,500 1205.5,499.4 1206.4,498.9 1207.3,500 1208.2,499.5 1209.1,499.8 1210,499.2 1210.9,501.6 1211.8,500.7 1212.7,502.1 1213.6,499.8 1214.5,500.3 1215.4,500 1216.3,500.2 1217.2,499.4 1218.1,499.1 1219,496.8 1219.9,498.5 1220.8,499.5 1221.7,496.8 1222.6,498.4 1223.5,499.3 1224.4,500 1225.3,498.6 1226.2,499.2 1227.1,500.5 1228,500 1228.9,498.2 1229.8,498.1 1230.7,499.7 1231.6,498.9 1232.5,498.1 1233.4,498.4 1234.3,498.9 1235.2,498.4 1236.1,498.4 1237,498.4 1237.9,497.1 1238.8,500.3 1239.7,499.8 1240.6,500.1 1241.5,498.4 1242.4,498.7 1243.3,499.1 1244.2,499.3 1245.1,496.7 1246,498.9 1246.9,497.5 1247.8,498.4 1248.7,497.8 1249.6,500.2 1250.5,499 1251.4,498.4 1252.3,499.8 1253.2,498.4 1254.1,497.7 1255,498.2 1255.9,498 1256.8,498.4 1257.7,499.2 1258.6,498.2 1259.5,498.3 1260.4,499.4 1261.3,498.6 1262.2,499.3 1263.1,498.5 1264,497 1264.9,497.2 1265.8,496.6 1266.7,499.4 1267.6,498.7 1268.5,497.8 1269.4,497.3 1270.3,498.6 1271.2,498.1 1272.1,498.5 1273,497.4 1273.9,497.1 1274.8,499.7 1275.7,497.2 1276.6,498.1 1277.5,499.5 1278.4,496.3 1279.3,498.8 1280.2,498.2 1281.1,498 1282,498.4 1282.9,496.9 1283.8,495.9 1284.7,500 1285.6,497.8 1286.5,498.9 1287.4,499.1 1288.3,498.3 1289.2,498.5 1290.1,498.7 1291,499.6 1291.9,498.5 1292.8,499.2 1293.7,497.7 1294.6,497.6 1295.5,498 1296.4,498.4 1297.3,498.5 1298.2,499.9 1299.1,498.8 1300,498 1300.9,499.9 1301.8,498.2 1302.7,498.2 1303.6,498.4 1304.5,497.5 1305.4,496.8 1306.3,498 1307.2,497.5 1308.1,497 1309,497.9 1309.9,497.6 1310.8,497.2 1311.7,496 1312.6,497.6 1313.5,499.5 1314.4,498.6 1315.3,498.8 1316.2,497.7 1317.1,498.8 1318,497.1 1318.9,497.3 1319.8,498.2 1320.7,496.3 1321.6,497.7 1322.5,498 1323.4,499.3 1324.3,497 1325.2,498.1 1326.1,497 1327,497.1 1327.9,494.9 1328.8,496.7 1329.7,498.7 1330.6,498.1 1331.5,497.7 1332.4,500 1333.3,498.1 1334.2,496.3 1335.1,497.3 1336,497.5 1336.9,499.1 1337.8,496.6 1338.7,497.9 1339.6,498.5 1340.5,496.7 1341.4,497.6 1342.3,495.5 1343.2,497.5 1344.1,495.3 1345,497 1345.9,499.1 1346.8,497.8" fill="none" stroke="#f05527" stroke-width="2.2" stroke-linejoin="round"/><polyline points="1015.6,500 1016.5,500.1 1017.4,501.7 1018.3,500.4 1019.2,500.8 1020.1,499.6 1021,499.6 1021.9,499.1 1022.8,499.8 1023.7,499.4 1024.6,500.7 1025.5,500.5 1026.4,499.8 1027.3,499.5 1028.2,497.6 1029.1,499.5 1030,500.2 1030.9,500.4 1031.8,497.5 1032.7,498 1033.6,500 1034.5,499.1 1035.4,499.7 1036.3,499.5 1037.2,500.3 1038.1,498.4 1039,499.4 1039.9,500.6 1040.8,500 1041.7,499.2 1042.6,500.2 1043.5,500.1 1044.4,499.1 1045.3,500.4 1046.2,500.4 1047.1,499.7 1048,500.6 1048.9,498.9 1049.8,500.4 1050.7,499.6 1051.6,499 1052.5,499.3 1053.4,500.7 1054.3,499.3 1055.2,499.5 1056.1,499.2 1057,499.1 1057.9,500.5 1058.8,501.5 1059.7,500.8 1060.6,500.1 1061.5,500.3 1062.4,499.5 1063.3,499.3 1064.2,498.8 1065.1,500.8 1066,499.4 1066.9,499.1 1067.8,499.2 1068.7,499.8 1069.6,499.3 1070.5,499.7 1071.4,499.8 1072.3,500.7 1073.2,498.7 1074.1,499.9 1075,499.1 1075.9,499.3 1076.8,500.9 1077.7,500.1 1078.6,499.3 1079.5,500 1080.4,499.6 1081.3,500.5 1082.2,499.2 1083.1,500 1084,499.4 1084.9,499.6 1085.8,499.5 1086.7,499.1 1087.6,499.7 1088.5,500.3 1089.4,499.1 1090.3,499.3 1091.2,499.8 1092.1,499 1093,500.2 1093.9,500.1 1094.8,497.7 1095.7,499 1096.6,498.7 1097.5,500.2 1098.4,500.3 1099.3,498.6 1100.2,499 1101.1,499.5 1102,499.2 1102.9,500.1 1103.8,500.3 1104.7,500 1105.6,500.4 1106.5,500.3 1107.4,499.5 1108.3,499.2 1109.2,499 1110.1,500.2 1111,500.3 1111.9,500.4 1112.8,499.3 1113.7,499.3 1114.6,499.8 1115.5,500.6 1116.4,499.9 1117.3,499.8 1118.2,499 1119.1,500 1120,500.1 1120.9,498.9 1121.8,501 1122.7,498.9 1123.6,500.4 1124.5,499.5 1125.4,499.8 1126.3,499.1 1127.2,499.3 1128.1,500.3 1129,499.6 1129.9,499.4 1130.8,500.4 1131.7,500.3 1132.6,499.9 1133.5,499.9 1134.4,501.1 1135.3,499.6 1136.2,500.1 1137.1,500.1 1138,498.7 1138.9,498.3 1139.8,499.9 1140.7,500.5 1141.6,500 1142.5,499.4 1143.4,499.3 1144.3,500.5 1145.2,499.6 1146.1,498.6 1147,500.4 1147.9,500 1148.8,500.1 1149.7,500.7 1150.6,500.9 1151.5,500.3 1152.4,499.7 1153.3,498.2 1154.2,500.1 1155.1,499.8 1156,500.9 1156.9,500.9 1157.8,500.3 1158.7,501 1159.6,499.9 1160.5,499.9 1161.4,499.3 1162.3,499.7 1163.2,500.1 1164.1,500.8 1165,499.4 1165.9,500.6 1166.8,501.8 1167.7,498.9 1168.6,499.8 1169.5,500 1170.4,500.8 1171.3,501.6 1172.2,501 1173.1,500 1174,499.4 1174.9,500 1175.8,500 1176.7,500.2 1177.6,499.3 1178.5,501.3 1179.4,499.5 1180.3,500.6 1181.2,500.2 1182.1,499.2 1183,500.1 1183.9,500.1 1184.8,499.9 1185.7,500.7 1186.6,499.7 1187.5,502.1 1188.4,501 1189.3,499.4 1190.2,498.2 1191.1,501.1 1192,500.3 1192.9,500.2 1193.8,499.4 1194.7,499 1195.6,498.7 1196.5,502.2 1197.4,501.4 1198.3,499.8 1199.2,501.7 1200.1,498.7 1201,500.8 1201.9,500.8 1202.8,499.5 1203.7,499.9 1204.6,499.4 1205.5,500.3 1206.4,501.3 1207.3,501 1208.2,500.6 1209.1,501.1 1210,498.9 1210.9,501.9 1211.8,500.2 1212.7,499.2 1213.6,500 1214.5,499.8 1215.4,500.4 1216.3,500.4 1217.2,497.9 1218.1,500.3 1219,500.2 1219.9,498 1220.8,500 1221.7,499.8 1222.6,499.6 1223.5,500 1224.4,497.6 1225.3,499.3 1226.2,497.9 1227.1,500.6 1228,497.9 1228.9,497.7 1229.8,499.6 1230.7,499.2 1231.6,498.7 1232.5,498.8 1233.4,499.1 1234.3,500 1235.2,498.1 1236.1,498.2 1237,498.1 1237.9,498.5 1238.8,498.6 1239.7,497.6 1240.6,498.8 1241.5,497.5 1242.4,498.3 1243.3,498.3 1244.2,498.3 1245.1,499.7 1246,499.8 1246.9,499.4 1247.8,499.8 1248.7,498.2 1249.6,499.6 1250.5,498.4 1251.4,498.6 1252.3,498.7 1253.2,497.4 1254.1,497.9 1255,498.3 1255.9,498.7 1256.8,498.3 1257.7,497.7 1258.6,497.4 1259.5,498.4 1260.4,497.4 1261.3,497.4 1262.2,498.2 1263.1,498.5 1264,497.6 1264.9,496.9 1265.8,498.5 1266.7,498.9 1267.6,497.9 1268.5,498 1269.4,496.4 1270.3,499 1271.2,497.4 1272.1,498.8 1273,497.7 1273.9,498.1 1274.8,498 1275.7,496.7 1276.6,500.4 1277.5,496.9 1278.4,498.2 1279.3,497.5 1280.2,497.9 1281.1,499.2 1282,496.6 1282.9,498 1283.8,498.5 1284.7,498.2 1285.6,498.4 1286.5,497.5 1287.4,496.7 1288.3,497 1289.2,497.7 1290.1,498.6 1291,498.1 1291.9,499.3 1292.8,498.1 1293.7,498.1 1294.6,498.1 1295.5,496.6 1296.4,498.4 1297.3,497.1 1298.2,497.6 1299.1,499.8 1300,496.9 1300.9,498 1301.8,498.1 1302.7,498 1303.6,497.9 1304.5,497.4 1305.4,499.4 1306.3,496.2 1307.2,497 1308.1,499 1309,498.3 1309.9,497.2 1310.8,497.1 1311.7,497.6 1312.6,499.9 1313.5,498.2 1314.4,496.9 1315.3,497.9 1316.2,497.2 1317.1,498.9 1318,498 1318.9,498.7 1319.8,497.8 1320.7,499.3 1321.6,498 1322.5,497.9 1323.4,496.8 1324.3,497.3 1325.2,498 1326.1,497.2 1327,499.6 1327.9,497.6 1328.8,497 1329.7,498.4 1330.6,497.2 1331.5,497.9 1332.4,497.5 1333.3,497 1334.2,498.7 1335.1,497.6 1336,498.4 1336.9,497.2 1337.8,496.4 1338.7,496.5 1339.6,497.1 1340.5,497.3 1341.4,497.5 1342.3,497.9 1343.2,496.4 1344.1,497.6 1345,496.4 1345.9,496.9 1346.8,499.5" fill="none" stroke="#f8d618" stroke-width="2.3" stroke-linejoin="round"/><line x1="220" y1="390.6" x2="231.8" y2="360.1" stroke="#f68a1e" stroke-width="1.5"/><line x1="220" y1="263.4" x2="231.8" y2="217.7" stroke="#e12028" stroke-width="1.3"/><line x1="220" y1="136.2" x2="231.8" y2="75.2" stroke="#55327d" stroke-width="1.3"/><line x1="316.5" y1="519.1" x2="353.4" y2="495.3" stroke="#f9b417" stroke-width="1.6"/><line x1="316.5" y1="393.2" x2="353.4" y2="345.5" stroke="#f68a1e" stroke-width="1.5"/><line x1="316.5" y1="267.3" x2="353.4" y2="195.8" stroke="#e12028" stroke-width="1.3"/><line x1="316.5" y1="141.4" x2="353.4" y2="46.1" stroke="#55327d" stroke-width="1.3"/><line x1="424.6" y1="514.5" x2="464.1" y2="497.5" stroke="#f9b417" stroke-width="1.6"/><line x1="424.6" y1="384.1" x2="464.1" y2="350.1" stroke="#f68a1e" stroke-width="1.5"/><line x1="424.6" y1="253.6" x2="464.1" y2="202.6" stroke="#e12028" stroke-width="1.3"/><line x1="424.6" y1="123.1" x2="464.1" y2="55.1" stroke="#55327d" stroke-width="1.3"/><line x1="534.8" y1="511.6" x2="564.2" y2="502.1" stroke="#f9b417" stroke-width="1.6"/><line x1="534.8" y1="378.1" x2="564.2" y2="359.2" stroke="#f68a1e" stroke-width="1.5"/><line x1="534.8" y1="244.7" x2="564.2" y2="216.2" stroke="#e12028" stroke-width="1.3"/><line x1="534.8" y1="111.3" x2="564.2" y2="73.3" stroke="#55327d" stroke-width="1.3"/><line x1="648.2" y1="509" x2="673.6" y2="502.4" stroke="#f9b417" stroke-width="1.6"/><line x1="648.2" y1="372.9" x2="673.6" y2="359.8" stroke="#f68a1e" stroke-width="1.5"/><line x1="648.2" y1="236.9" x2="673.6" y2="217.2" stroke="#e12028" stroke-width="1.3"/><line x1="648.2" y1="100.9" x2="673.6" y2="74.6" stroke="#55327d" stroke-width="1.3"/><line x1="758.8" y1="507.8" x2="792.5" y2="500.6" stroke="#f9b417" stroke-width="1.6"/><line x1="758.8" y1="370.7" x2="792.5" y2="356.2" stroke="#f68a1e" stroke-width="1.5"/><line x1="758.8" y1="233.5" x2="792.5" y2="211.8" stroke="#e12028" stroke-width="1.3"/><line x1="758.8" y1="96.4" x2="792.5" y2="67.3" stroke="#55327d" stroke-width="1.3"/><line x1="886" y1="504" x2="910.5" y2="499.4" stroke="#f9b417" stroke-width="1.6"/><line x1="886" y1="362.9" x2="910.5" y2="353.9" stroke="#f68a1e" stroke-width="1.5"/><line x1="886" y1="221.9" x2="910.5" y2="208.3" stroke="#e12028" stroke-width="1.3"/><line x1="886" y1="80.9" x2="910.5" y2="62.8" stroke="#55327d" stroke-width="1.3"/><line x1="999" y1="503.4" x2="1015.6" y2="500.7" stroke="#f9b417" stroke-width="1.6"/><line x1="999" y1="361.7" x2="1015.6" y2="356.4" stroke="#f68a1e" stroke-width="1.5"/><line x1="999" y1="220.1" x2="1015.6" y2="212" stroke="#e12028" stroke-width="1.3"/><line x1="999" y1="78.4" x2="1015.6" y2="67.7" stroke="#55327d" stroke-width="1.3"/><line x1="146" y1="613.4" x2="611.7" y2="12" stroke="#8c2955" stroke-width="1.1"/><line x1="314.6" y1="263.6" x2="365.5" y2="10" stroke="#962850" stroke-width="1" opacity="0.85"/></g><path d="M134 12H146M1347 12H1359M134 75.3H146M1347 75.3H1359M134 138.6H146M1347 138.6H1359M134 201.9H146M1347 201.9H1359M134 265.2H146M1347 265.2H1359M134 328.5H146M1347 328.5H1359M134 391.8H146M1347 391.8H1359M134 455.1H146M1347 455.1H1359M134 518.4H146M1347 518.4H1359M134 581.7H146M1347 581.7H1359M134 645H146M1347 645H1359M244.4 0V12M244.4 645V657M367 0V12M367 645V657M489.6 0V12M489.6 645V657M612.2 0V12M612.2 645V657M734.8 0V12M734.8 645V657M857.4 0V12M857.4 645V657M980 0V12M980 645V657M1102.6 0V12M1102.6 645V657M1225.2 0V12M1225.2 645V657M1347.8 0V12M1347.8 645V657M134 645.3H1359M134 12H146" stroke="#8c8c8c" stroke-width="1.3" fill="none"/><text x="1256" y="58" font-size="49" fill="#fff" textLength="21" lengthAdjust="spacingAndGlyphs">a</text><text x="128" y="43.2" font-size="39.4" text-anchor="end">200</text><text x="128.8" y="229.4" font-size="39.4" text-anchor="end">150</text><text x="128.5" y="357.4" font-size="39.4" text-anchor="end">100</text><text x="126.6" y="485.7" font-size="39.4" text-anchor="end">50</text><text x="117.2" y="664.2" font-size="39.4" text-anchor="end">0</text><text x="242" y="697.6" font-size="39.4" text-anchor="middle">50</text><text x="363" y="697.6" font-size="39.4" text-anchor="middle">100</text><text x="480" y="697.6" font-size="39.4" text-anchor="middle">150</text><text x="613" y="697.6" font-size="39.4" text-anchor="middle">200</text><text x="729" y="697.6" font-size="39.4" text-anchor="middle">250</text><text x="858.6" y="697.6" font-size="39.4" text-anchor="middle">300</text><text x="985" y="697.6" font-size="39.4" text-anchor="middle">350</text><text x="1108" y="697.6" font-size="39.4" text-anchor="middle">400</text><text x="1230" y="697.6" font-size="39.4" text-anchor="middle">450</text><text x="1351" y="697.6" font-size="39.4" text-anchor="middle">500</text><text x="500.5" y="735.3" font-size="39.2">Modulation Frequency (MHz)</text><text transform="translate(28.2,519.6) rotate(-90)" font-size="39.3">PSD Frequency (MHz)</text><rect x="1381.5" y="44" width="21.8" height="619.5" fill="url(#cb)" stroke="#6a6a6a" stroke-width="1"/><path d="M1397 75.3H1403.3M1397 129.8H1403.3M1397 184.3H1403.3M1397 238.8H1403.3M1397 293.3H1403.3M1397 347.8H1403.3M1397 402.3H1403.3M1397 456.8H1403.3M1397 511.3H1403.3M1397 565.8H1403.3M1397 620.3H1403.3" stroke="#555" stroke-width="1" fill="none"/><text x="1409" y="88.8" font-size="39.4">-30</text><text x="1409" y="197.8" font-size="39.4">-40</text><text x="1409" y="306.8" font-size="39.4">-50</text><text x="1409" y="415.8" font-size="39.4">-60</text><text x="1409" y="524.8" font-size="39.4">-70</text><text x="1409" y="633.8" font-size="39.4">-80</text><text transform="translate(1498,382) rotate(-90)" font-size="39.3">dBm</text><g clip-path="none"><polyline points="143.5,1095.5 143.8,1109.1 144.1,1091.1 144.4,1094.3 144.7,1098.7 145,1093.8 145.3,1108.1 145.6,1107.1 145.9,1113.2 146.2,1101.2 146.5,1116.5 146.8,1110.3 147.1,1102.2 147.4,1110.3 147.7,1103.2 148,1090.8 148.3,1114.3 148.6,1094.3 148.9,1111.7 149.2,1113.8 149.5,1104.2 149.8,1097.5 150.1,1112 150.4,1112.1 150.7,1109.7 151,1105.5 151.3,1104.5 151.6,1114.8 151.9,1108.1 152.2,1103.1 152.5,1109.5 152.8,1096.4 153.1,1102.7 153.4,1112.4 153.7,1089 154,1092 154.3,1105.4 154.6,1099.1 154.9,1103.2 155.2,1110.2 155.5,1100.3 155.8,1103.4 156.1,1095.3 156.4,1126.1 156.7,1099.2 157,1104.6 157.3,1111.7 157.6,1109.5 157.9,1109.3 158.2,1117 158.5,1110.7 158.8,1099.4 159.1,1118.6 159.4,1109.1 159.7,1125.6 160,1110.7 160.3,1102.6 160.6,1106.3 160.9,1100.6 161.2,1115.2 161.5,1101.1 161.8,1113.4 162.1,1086.8 162.4,1104.1 162.7,1109.1 163,1093.5 163.3,1109.1 163.6,1097.3 163.9,1105 164.2,1105.8 164.5,1097.5 164.8,1102.2 165.1,1105.9 165.4,1106.8 165.7,1104 166,1105.1 166.3,1108.5 166.6,1128.1 166.9,1127.4 167.2,1106.7 167.5,1107.8 167.8,1095.6 168.1,1102 168.4,1096.2 168.7,1091.2 169,1106.6 169.3,1112.7 169.6,1098.9 169.9,1110.7 170.2,1107.8 170.5,1093.7 170.8,1101 171.1,1096.5 171.4,1116.9 171.7,1105.3 172,1096.3 172.3,1116.3 172.6,1103.9 172.9,1102.2 173.2,1124.8 173.5,1092.2 173.8,1111.5 174.1,1106.7 174.4,1091.5 174.7,1120.4 175,1101.6 175.3,1109.2 175.6,1105.1 175.9,1121.9 176.2,1094.1 176.5,1114.8 176.8,1102.4 177.1,1100.9 177.4,1106.1 177.7,1107.6 178,1107.6 178.3,1096.8 178.6,1101.5 178.9,1106 179.2,1114.4 179.5,1103.9 179.8,1100.8 180.1,1105.5 180.4,1093.2 180.7,1121.1 181,1084.4 181.3,1106.7 181.6,1114.6 181.9,1119.6 182.2,1097.8 182.5,1100.3 182.8,1106.8 183.1,1105.4 183.4,1103.6 183.7,1108.5 184,1095.3 184.3,1099.7 184.6,1105.9 184.9,1118.5 185.2,1093.4 185.5,1108.8 185.8,1113.4 186.1,1094 186.4,1100.5 186.7,1121.5 187,1118.5 187.3,1107.9 187.6,1115.1 187.9,1105.8 188.2,1082.7 188.5,1079.6 188.8,1104.8 189.1,1097.7 189.4,1096.9 189.7,1105.3 190,1116.6 190.3,1095.2 190.6,1105.6 190.9,1100.3 191.2,1098.2 191.5,1110.8 191.8,1089.9 192.1,1103.3 192.4,1102 192.7,1107.4 193,1097.8 193.3,1095.2 193.6,1108.3 193.9,1098.7 194.2,1107.1 194.5,1113.7 194.8,1106.1 195.1,1098.2 195.4,1098.6 195.7,1094.1 196,1108.7 196.3,1105.5 196.6,1102.3 196.9,1097.6 197.2,1103.7 197.5,1110.6 197.8,1115.5 198.1,1092.6 198.4,1093.4 198.7,1107.8 199,1089.8 199.3,1102.5 199.6,1119.3 199.9,1091.2 200.2,1105.7 200.5,1108 200.8,1115.9 201.1,1098.7 201.4,1097.3 201.7,1093.7 202,1095.7 202.3,1099.7 202.6,1090.8 202.9,1132 203.2,1096.8 203.5,1095.5 203.8,1100.6 204.1,1084.9 204.4,1095.5 204.7,1087.6 205,1091.1 205.3,1099.9 205.6,1081.9 205.9,1088.5 206.2,1097.3 206.5,1098.2 206.8,1105.5 207.1,1097.7 207.4,1098 207.7,1093.9 208,1098.8 208.3,1090 208.6,1095 208.9,1107 209.2,1097.5 209.5,1100.2 209.8,1102.7 210.1,1118.8 210.4,1083.1 210.7,1099.4 211,1106 211.3,1089.7 211.6,1062.4 211.9,1091.4 212.2,1083.2 212.5,1087.8 212.8,1076 213.1,1069.8 213.4,1081.8 213.7,1069.1 214,1086.4 214.3,1073.8 214.6,1084.3 214.9,1070 215.2,1074.5 215.5,1064.9 215.8,1073.6 216.1,1059.4 216.4,1057.1 216.7,1059.3 217,1057.4 217.3,1056.3 217.6,1043.4 217.9,1033.1 218.2,1031.7 218.5,1022.8 218.8,1006.2 219.1,1011.3 219.4,996.9 219.7,967.7 220,972.4 220.3,959.4 220.6,945.8 220.9,911.5 221.2,907.3 221.5,888.6 221.8,876.5 222.1,879.5 222.4,887.5 222.7,920.4 223,933.3 223.3,953.2 223.6,971.5 223.9,979.3 224.2,990.7 224.5,1004.4 224.8,999.7 225.1,1024.8 225.4,1016.8 225.7,1016.9 226,1022.2 226.3,1042.5 226.6,1050.8 226.9,1066.6 227.2,1057.4 227.5,1039.8 227.8,1076.3 228.1,1078.9 228.4,1061.5 228.7,1065.6 229,1088.2 229.2,1062.9 229.5,1073.9 229.8,1091.1 230.1,1071.9 230.4,1100.4 230.7,1073.2 231,1082.2 231.3,1090.9 231.6,1099.6 231.9,1090 232.2,1072.5 232.5,1090 232.8,1094.7 233.1,1092.2 233.4,1083.9 233.7,1099.4 234,1094.2 234.3,1089.2 234.6,1093.8 234.9,1086.9 235.2,1081.6 235.5,1098 235.8,1093.7 236.1,1120.5 236.4,1099.2 236.7,1091.1 237,1106.4 237.3,1086.3 237.6,1113.5 237.9,1086.7 238.2,1102.6 238.5,1104.5 238.8,1102.9 239.1,1101.3 239.4,1107.8 239.7,1111.1 240,1104.2 240.3,1092.1 240.6,1096.8 240.9,1089.1 241.2,1105.7 241.5,1103.7 241.8,1103.7 242.1,1099.9 242.4,1097.4 242.7,1086.7 243,1122.4 243.3,1100.3 243.6,1090.4 243.9,1094.2 244.2,1113 244.5,1096.6 244.8,1100.9 245.1,1101.4 245.4,1094.7 245.7,1105.4 246,1103.6 246.3,1099.6 246.6,1097.5 246.9,1094.7 247.2,1102.1 247.5,1100.9 247.8,1123.5 248.1,1093.1 248.4,1116.5 248.7,1103.8 249,1069 249.3,1106.3 249.6,1116.9 249.9,1090.2 250.2,1108.4 250.5,1105.2 250.8,1099.8 251.1,1097.8 251.4,1097.5 251.7,1105.1 252,1094.8 252.3,1111.7 252.6,1118.7 252.9,1109.5 253.2,1098.5 253.5,1110 253.8,1108.1 254.1,1092.1 254.4,1113.9 254.7,1114.4 255,1099.8 255.3,1106.9 255.6,1108.3 255.9,1105.9 256.2,1087 256.5,1113.4 256.8,1107.1 257.1,1123.1 257.4,1112.8 257.7,1105.2 258,1100.9 258.3,1112.6 258.6,1095.7 258.9,1114.6 259.2,1106.3 259.5,1102.3 259.8,1078.6 260.1,1119.8 260.4,1102.8 260.7,1084.2 261,1110.2 261.3,1096.2 261.6,1103.5 261.9,1117.3 262.2,1102.8 262.5,1112.8 262.8,1104.7 263.1,1117.9 263.4,1099.3 263.7,1125.6 264,1106.9 264.3,1124.3 264.6,1101.2 264.9,1108.5 265.2,1107.5 265.5,1109.1 265.8,1082.9 266.1,1106.1 266.4,1105.7 266.7,1111.8 267,1109.6 267.3,1100.6 267.6,1110.8 267.9,1112.4 268.2,1110.3 268.5,1108.7 268.8,1104.3 269.1,1109.8 269.4,1107.4 269.7,1112.1 270,1095.5 270.3,1105.1 270.6,1108.5 270.9,1103.4 271.2,1106.2 271.5,1118.9 271.8,1121.8 272.1,1092.1 272.4,1101.7 272.7,1096.1 273,1111.5 273.3,1118.3 273.6,1111.8 273.9,1094.7 274.2,1114.3 274.5,1112.6 274.8,1096.8 275.1,1108.1 275.4,1107.7 275.7,1102.8 276,1105.3 276.3,1108.6 276.6,1103.9 276.9,1112 277.2,1106.4 277.5,1100.6 277.8,1114.9 278.1,1107.9 278.4,1115.6 278.7,1099.9 279,1101 279.3,1098.3 279.6,1097.5 279.9,1097.6 280.2,1100.2 280.5,1112.6 280.8,1091.6 281.1,1113.8 281.4,1086.7 281.7,1103.8 282,1101.2 282.3,1116.5 282.6,1097.2 282.9,1096.4 283.2,1119.3 283.5,1110.8 283.8,1110.1 284.1,1111.6 284.4,1094.7 284.7,1088.2 285,1115.1 285.3,1097.5 285.6,1108.4 285.9,1094.8 286.2,1126.7 286.5,1109.9 286.8,1096.1 287.1,1112.6 287.4,1096.3 287.7,1095.4 288,1096.8 288.3,1101.4 288.6,1109.8 288.9,1112.6 289.2,1107.7 289.5,1096.6 289.8,1106.4 290.1,1111.8 290.4,1078.6 290.7,1119.5 291,1108.2 291.3,1101.8 291.6,1113.5 291.9,1106.4 292.2,1109.8 292.5,1118.7 292.8,1089.5 293.1,1115.8 293.4,1112.6 293.7,1096 294,1115.7 294.3,1101.3 294.6,1096.5 294.9,1098 295.2,1102.4 295.5,1108.3 295.8,1118 296.1,1105.1 296.4,1102.6 296.7,1110.6 297,1124.2 297.3,1102.2 297.6,1115.2 297.9,1102.7 298.2,1110.4 298.5,1120.4 298.8,1092.9 299.1,1101.3 299.4,1101.8 299.7,1118.2 300,1107.4 300.3,1104 300.6,1112.6 300.9,1092.6 301.2,1123.2 301.5,1100.5 301.8,1132 302.1,1119.5 302.4,1117.1 302.7,1101.6 303,1112.4 303.3,1112 303.6,1114 303.9,1118.8 304.2,1114 304.5,1114.7 304.8,1109.2 305.1,1109.7 305.4,1126.5 305.7,1111.9 306,1096.4 306.3,1109.1 306.6,1107.2 306.9,1112.6 307.2,1112.3 307.5,1107.2 307.8,1117.9 308.1,1108 308.4,1120.5 308.7,1103.8 309,1119.8 309.3,1101.2 309.6,1098.2 309.9,1120.2 310.2,1101 310.5,1104.1 310.8,1096.9 311.1,1111.1 311.4,1109 311.7,1109.1 312,1096.1 312.3,1122.8 312.6,1100.2 312.9,1105.6 313.2,1110.6 313.5,1108.5 313.8,1098.7 314.1,1099.6 314.4,1092.3 314.7,1111.8 315,1122.2 315.3,1111 315.6,1108 315.9,1110 316.2,1096.1 316.5,1087.2 316.8,1103 317.1,1121 317.4,1097.4 317.7,1111.4 318,1105.6 318.3,1098.9 318.6,1102.8 318.9,1106.4 319.2,1103.4 319.5,1099.4 319.8,1100.4 320.1,1088.3 320.4,1130.4 320.7,1111.9 321,1110.1 321.3,1098.3 321.6,1103.2 321.9,1097.8 322.2,1116.7 322.5,1106.5 322.8,1099.2 323.1,1104.8 323.4,1107.6 323.7,1101.8 324,1090.1 324.3,1132 324.6,1090.2 324.9,1100.9 325.2,1094.7 325.5,1097.2 325.8,1097.2 326.1,1091.9 326.4,1108.3 326.7,1093.2 327,1108.3 327.3,1097.6 327.6,1093.9 327.9,1099.8 328.2,1093.1 328.5,1107.6 328.8,1088.1 329.1,1100.2 329.4,1100.8 329.7,1094.7 330,1092.8 330.3,1097.8 330.6,1082.4 330.9,1088 331.2,1079.6 331.5,1094.3 331.8,1089.6 332.1,1077.1 332.4,1078.7 332.7,1066.3 333,1054.4 333.3,1042.4 333.6,1030.6 333.9,1025.8 334.2,1025.6 334.5,1000 334.8,991.3 335.1,962.6 335.4,957.4 335.7,941 336,944 336.3,967.8 336.6,996.6 336.9,1000.9 337.2,1022.9 337.5,1029.2 337.8,1048 338.1,1055.5 338.4,1053.3 338.7,1052.4 339,1080.6 339.3,1076.2 339.6,1075.1 339.9,1082.9 340.2,1088.1 340.5,1068.7 340.8,1095.9 341.1,1087.7 341.4,1096 341.7,1094.4 342,1113.9 342.3,1088.5 342.6,1098.6 342.9,1105.7 343.2,1084.6 343.5,1101.4 343.8,1104.8 344.1,1107.3 344.4,1091.9 344.7,1101 345,1104.2 345.3,1113.1 345.6,1109.9 345.9,1099.8 346.2,1103.1 346.5,1120 346.8,1110.8 347.1,1101.8 347.4,1081.5 347.7,1110.4 348,1122.8 348.3,1098.1 348.6,1108.6 348.9,1115.8 349.2,1100.2 349.5,1107 349.8,1113.2 350.1,1116.2 350.4,1106.4 350.7,1096.6 351,1120.4 351.3,1097.5 351.6,1116.4 351.9,1094.2 352.2,1103.2 352.5,1107.6 352.8,1103.3 353.1,1111.1 353.4,1106.8 353.7,1092.5 354,1111.1 354.3,1099.6 354.6,1113.9 354.9,1106.6 355.2,1098.5 355.5,1116.6 355.8,1103.8 356.1,1124.6 356.4,1116.3 356.7,1110.2 357,1099.4 357.3,1100.8 357.6,1114.5 357.9,1108 358.2,1105.4 358.5,1120 358.8,1103.4 359.1,1095.7 359.4,1096.7 359.7,1112 360,1110.5 360.3,1114.9 360.6,1111.3 360.9,1109.2 361.2,1101.5 361.5,1106.5 361.8,1115 362.1,1100.4 362.4,1099.9 362.7,1112.4 363,1109.4 363.3,1108.2 363.6,1121 363.9,1106.2 364.2,1111.2 364.5,1091.1 364.8,1093.7 365.1,1109.8 365.4,1108.6 365.7,1102.3 366,1100.8 366.3,1114.6 366.6,1105.9 366.9,1102 367.2,1124.2 367.5,1096.1 367.8,1109.3 368.1,1100.2 368.4,1107.9 368.7,1109.6 369,1108.2 369.3,1105.1 369.6,1100.3 369.9,1109.8 370.2,1116.9 370.5,1113.4 370.8,1115.7 371.1,1101.3 371.4,1115.6 371.7,1094.9 372,1106.5 372.3,1108.4 372.6,1096.7 372.9,1110.7 373.2,1110.1 373.5,1101.1 373.8,1101.5 374.1,1116 374.4,1087.1 374.7,1102.9 375,1118.1 375.3,1109.1 375.6,1099.9 375.9,1105.8 376.2,1100.5 376.5,1087.9 376.8,1099.9 377.1,1090.9 377.4,1102 377.7,1113.2 378,1095.1 378.3,1113.5 378.6,1100.2 378.9,1102.2 379.2,1114.7 379.5,1113.5 379.8,1109.1 380.1,1104.3 380.4,1096.5 380.7,1107 381,1091.7 381.3,1100.3 381.6,1112.9 381.9,1112.7 382.2,1106.8 382.5,1111.9 382.8,1108.3 383.1,1101 383.4,1105.3 383.7,1099.3 384,1113.2 384.3,1114.7 384.6,1119.1 384.9,1117.8 385.2,1111.2 385.5,1106.9 385.8,1113.8 386.1,1107.4 386.4,1090.4 386.7,1116.5 387,1109.7 387.3,1110.5 387.6,1115 387.9,1096.1 388.2,1107.7 388.5,1097 388.8,1116.8 389.1,1091.8 389.4,1088.5 389.7,1114.7 390,1107.5 390.3,1108.5 390.6,1102.7 390.9,1118.2 391.2,1103.5 391.5,1101.3 391.8,1112.4 392.1,1126.3 392.4,1113.1 392.7,1110.7 393,1101 393.3,1112.5 393.6,1117 393.9,1116.4 394.2,1104.3 394.5,1101.3 394.8,1107 395.1,1098.6 395.4,1103.1 395.7,1122.3 396,1105.7 396.3,1100.9 396.6,1107.1 396.9,1095.2 397.2,1111.2 397.5,1101.6 397.8,1117.6 398.1,1107.4 398.4,1112 398.7,1115.7 399,1118.3 399.3,1105.5 399.6,1103.8 399.9,1112.7 400.2,1117.7 400.4,1114.7 400.7,1101 401,1117.4 401.3,1097.9 401.6,1121.3 401.9,1105.1 402.2,1093.3 402.5,1087.6 402.8,1111 403.1,1113.8 403.4,1124.3 403.7,1099.8 404,1108.5 404.3,1111.2 404.6,1110.9 404.9,1101.1 405.2,1107.1 405.5,1097.6 405.8,1132 406.1,1100.3 406.4,1102.6 406.7,1108 407,1110 407.3,1108.1 407.6,1101.1 407.9,1105.5 408.2,1119.4 408.5,1107.9 408.8,1108.2 409.1,1104.3 409.4,1107 409.7,1108 410,1098.8 410.3,1116.4 410.6,1089.2 410.9,1112.1 411.2,1116 411.5,1100.8 411.8,1098.4 412.1,1096.9 412.4,1111.3 412.7,1103.4 413,1106.8 413.3,1116.3 413.6,1098.2 413.9,1111.9 414.2,1094 414.5,1092.2 414.8,1107.3 415.1,1109.2 415.4,1111.4 415.7,1121.4 416,1113 416.3,1130.6 416.6,1107.5 416.9,1115.7 417.2,1123.2 417.5,1101.9 417.8,1092.9 418.1,1125.1 418.4,1108.4 418.7,1100.2 419,1117 419.3,1119.3 419.6,1107 419.9,1109.2 420.2,1112.6 420.5,1093.6 420.8,1094.8 421.1,1101.8 421.4,1107.8 421.7,1110 422,1099.9 422.3,1109.2 422.6,1094.8 422.9,1096.8 423.2,1112.2 423.5,1100.8 423.8,1094.1 424.1,1101.7 424.4,1115 424.7,1109.3 425,1109.9 425.3,1106.1 425.6,1106.8 425.9,1116 426.2,1099.9 426.5,1095.7 426.8,1111.7 427.1,1119.3 427.4,1103.8 427.7,1106.9 428,1103.4 428.3,1112.6 428.6,1104.4 428.9,1114.4 429.2,1097.7 429.5,1092.8 429.8,1114.5 430.1,1128.4 430.4,1110.8 430.7,1111.1 431,1105 431.3,1106.5 431.6,1102.5 431.9,1084 432.2,1111.2 432.5,1109.7 432.8,1108 433.1,1122 433.4,1099.9 433.7,1111.7 434,1118.4 434.3,1113.5 434.6,1102.2 434.9,1099.4 435.2,1095.9 435.5,1102.7 435.8,1112.3 436.1,1101.6 436.4,1106.9 436.7,1086.6 437,1123.3 437.3,1092.6 437.6,1099.6 437.9,1102.6 438.2,1106.7 438.5,1110.5 438.8,1113.8 439.1,1118.7 439.4,1088.6 439.7,1097.7 440,1099.8 440.3,1102.3 440.6,1121.2 440.9,1107.4 441.2,1104 441.5,1095.2 441.8,1113 442.1,1102.2 442.4,1106.3 442.7,1103.8 443,1110.3 443.3,1100.5 443.6,1102.4 443.9,1132 444.2,1092.1 444.5,1083.3 444.8,1108.2 445.1,1090.5 445.4,1107.2 445.7,1102.1 446,1081.3 446.3,1092.2 446.6,1078.4 446.9,1084.9 447.2,1073.9 447.5,1077 447.8,1054.3 448.1,1038.8 448.4,1031.6 448.7,1022.6 449,1003.8 449.3,999.5 449.6,1002.5 449.9,1036.6 450.2,1054.1 450.5,1054.5 450.8,1077.3 451.1,1064.9 451.4,1078.8 451.7,1076.5 452,1098.8 452.3,1103.5 452.6,1112.2 452.9,1093 453.2,1108.9 453.5,1089.2 453.8,1102.9 454.1,1095.4 454.4,1113 454.7,1107.7 455,1101.6 455.3,1097.3 455.6,1114.4 455.9,1101.1 456.2,1111 456.5,1091.8 456.8,1106.4 457.1,1107.1 457.4,1101.1 457.7,1095.3 458,1107 458.3,1094.9 458.6,1113.5 458.9,1102.9 459.2,1114.7 459.5,1103.6 459.8,1113.1 460.1,1105.2 460.4,1100.4 460.7,1113.7 461,1120.3 461.3,1107.2 461.6,1101.4 461.9,1103.9 462.2,1113.4 462.5,1098.9 462.8,1108.3 463.1,1099.6 463.4,1113.3 463.7,1102.3 464,1096.2 464.3,1111.6 464.6,1108.5 464.9,1100.9 465.2,1101.8 465.5,1093.4 465.8,1107.2 466.1,1119.2 466.4,1106.3 466.7,1116.9 467,1105.6 467.3,1125.7 467.6,1094.4 467.9,1090.5 468.2,1102.6 468.5,1113.4 468.8,1108.9 469.1,1099 469.4,1100.9 469.7,1112.2 470,1096.4 470.3,1100.4 470.6,1102 470.9,1109.3 471.2,1106.5 471.5,1112.3 471.8,1104.9 472.1,1111.9 472.4,1096.8 472.7,1106.2 473,1104.8 473.3,1103.8 473.6,1103.9 473.9,1118.3 474.2,1095.9 474.5,1105.7 474.8,1111.1 475.1,1114.6 475.4,1112.2 475.7,1111.6 476,1106.5 476.3,1113.7 476.6,1105.7 476.9,1105.4 477.2,1112.3 477.5,1088.3 477.8,1128.6 478.1,1103.9 478.4,1105.7 478.7,1108 479,1112.6 479.3,1095.3 479.6,1107.3 479.9,1113.8 480.2,1102.2 480.5,1124.5 480.8,1105.4 481.1,1108.3 481.4,1104.1 481.7,1119.2 482,1110.4 482.3,1115.3 482.6,1111.3 482.9,1102 483.2,1108.5 483.5,1111.8 483.8,1079.1 484.1,1106.8 484.4,1132 484.7,1115.6 485,1103.6 485.3,1103.4 485.6,1105.2 485.9,1104.9 486.2,1114.5 486.5,1107.9 486.8,1116.9 487.1,1114 487.4,1114.7 487.7,1114.1 488,1110 488.3,1109.1 488.6,1113.8 488.9,1098.4 489.2,1111 489.5,1094.7 489.8,1099.1 490.1,1117.3 490.4,1100.1 490.7,1124.3 491,1095.5 491.3,1104.7 491.6,1115.6 491.9,1125.5 492.2,1110.8 492.5,1118.6 492.8,1098.5 493.1,1117.8 493.4,1109.5 493.7,1103.6 494,1107.5 494.3,1105.5 494.6,1109.7 494.9,1101.7 495.2,1115.4 495.5,1103 495.8,1117.6 496.1,1106.3 496.4,1117.1 496.7,1109.4 497,1102.9 497.3,1097.6 497.6,1122.6 497.9,1114.1 498.2,1115.8 498.5,1097.8 498.8,1114.9 499.1,1102 499.4,1112.1 499.7,1119.7 500,1106.9 500.3,1117.2 500.6,1101.8 500.9,1101 501.2,1096.9 501.5,1116.2 501.8,1094.9 502.1,1099.9 502.4,1122.6 502.7,1089.7 503,1094 503.3,1116.4 503.6,1105.2 503.9,1118.9 504.2,1109 504.5,1106.4 504.8,1102.8 505.1,1114.7 505.4,1108.1 505.7,1115.6 506,1098.2 506.3,1102.5 506.6,1107.3 506.9,1098.5 507.2,1093.6 507.5,1101.1 507.8,1098.4 508.1,1118.2 508.4,1108.2 508.7,1122.5 509,1108.1 509.3,1111.8 509.6,1101.1 509.9,1111.6 510.2,1113.2 510.5,1108.7 510.8,1109 511.1,1103.7 511.4,1115.2 511.7,1120.3 512,1121.1 512.3,1098.5 512.6,1118.4 512.9,1111.8 513.2,1117.1 513.5,1100.7 513.8,1112.6 514.1,1097.8 514.4,1113.8 514.7,1105.5 515,1101.7 515.3,1100 515.6,1117.8 515.9,1111 516.2,1106.1 516.5,1123.1 516.8,1102.1 517.1,1104.7 517.4,1103.8 517.7,1119.5 518,1106.4 518.3,1104.4 518.6,1099.5 518.9,1112.3 519.2,1102.4 519.5,1091.8 519.8,1111.5 520.1,1127.9 520.4,1110.6 520.7,1120.3 521,1111 521.3,1094.5 521.6,1115.6 521.9,1116.5 522.2,1098.1 522.5,1103.3 522.8,1106.1 523.1,1110.7 523.4,1108.9 523.7,1107.9 524,1102.3 524.3,1107.3 524.6,1100.2 524.9,1123.3 525.2,1101.2 525.5,1112.3 525.8,1107.8 526.1,1111.4 526.4,1115.9 526.7,1108.9 527,1095.6 527.3,1114.6 527.6,1106.4 527.9,1097.8 528.2,1098.8 528.5,1110.9 528.8,1106.8 529.1,1111 529.4,1108.9 529.7,1107.8 530,1098 530.3,1103.1 530.6,1095.9 530.9,1092.7 531.2,1118.4 531.5,1105.4 531.8,1111.6 532.1,1121.2 532.4,1116.8 532.7,1112.1 533,1094.2 533.3,1107.2 533.6,1109.5 533.9,1108.2 534.2,1114.1 534.5,1106.5 534.8,1108.7 535.1,1121.3 535.4,1112.3 535.7,1080.3 536,1102.8 536.3,1120.1 536.6,1102.5 536.9,1115.9 537.2,1107.2 537.5,1100.7 537.8,1121.1 538.1,1114 538.4,1111.2 538.7,1110.3 539,1112.1 539.3,1120.3 539.6,1101.4 539.9,1105.1 540.2,1099.6 540.5,1099.4 540.8,1112.8 541.1,1105.7 541.4,1111 541.7,1102.6 542,1110.8 542.3,1100.9 542.6,1094.1 542.9,1109.4 543.2,1120.7 543.5,1107 543.8,1105.5 544.1,1112.1 544.4,1107.4 544.7,1099.6 545,1112.2 545.3,1109.5 545.6,1113.7 545.9,1105.2 546.2,1109 546.5,1115.5 546.8,1090.5 547.1,1093 547.4,1132 547.7,1119.2 548,1105.2 548.3,1119.2 548.6,1092 548.9,1120.1 549.2,1118.6 549.5,1112.1 549.8,1099.1 550.1,1101.4 550.4,1103.3 550.7,1105.5 551,1097.3 551.3,1122.7 551.6,1105.7 551.9,1096.3 552.2,1115.1 552.5,1105.3 552.8,1098 553.1,1097.7 553.4,1091.5 553.7,1092.8 554,1103.8 554.3,1099.2 554.6,1116.6 554.9,1114 555.2,1114.1 555.5,1093.5 555.8,1126.8 556.1,1122.8 556.4,1090.4 556.7,1106.6 557,1131.8 557.3,1110.9 557.6,1110.1 557.9,1097.7 558.2,1122.9 558.5,1111.5 558.8,1098.3 559.1,1100.3 559.4,1113.3 559.7,1107.1 560,1115.2 560.3,1089.5 560.6,1100.2 560.9,1080.7 561.2,1077.3 561.5,1083.9 561.8,1073.3 562.1,1067.3 562.4,1074 562.7,1072.5 563,1082.9 563.3,1094.7 563.6,1095.5 563.9,1109.2 564.2,1109.8 564.5,1106.2 564.8,1103.8 565.1,1115.9 565.4,1107.8 565.7,1113.8 566,1112 566.3,1097.1 566.6,1115.3 566.9,1113 567.2,1103.2 567.5,1107.2 567.8,1106.4 568.1,1119.5 568.4,1108 568.7,1110.8 569,1114.4 569.3,1112.4 569.6,1110.2 569.9,1101.1 570.2,1092.7 570.5,1107 570.8,1095.9 571.1,1106.9 571.4,1119.8 571.7,1107.4 571.9,1097.5 572.2,1096.5 572.5,1115 572.8,1089.8 573.1,1113.8 573.4,1113.7 573.7,1112.1 574,1096.1 574.3,1104.6 574.6,1100.5 574.9,1125.8 575.2,1108.3 575.5,1108.7 575.8,1090.5 576.1,1111.6 576.4,1098.2 576.7,1113.4 577,1119.1 577.3,1121.1 577.6,1097.6 577.9,1101.7 578.2,1114.1 578.5,1098.9 578.8,1109.2 579.1,1131.1 579.4,1119.6 579.7,1112.2 580,1106.9 580.3,1097.7 580.6,1112.3 580.9,1099.8 581.2,1096.2 581.5,1114.3 581.8,1104.6 582.1,1120.1 582.4,1104.5 582.7,1115.6 583,1109 583.3,1123 583.6,1109.7 583.9,1099.4 584.2,1114.1 584.5,1111.6 584.8,1105.2 585.1,1108.1 585.4,1105.7 585.7,1109.5 586,1114.3 586.3,1102.4 586.6,1107.2 586.9,1100.5 587.2,1097 587.5,1110.6 587.8,1113.7 588.1,1111.4 588.4,1113 588.7,1123.8 589,1094.6 589.3,1104.5 589.6,1089 589.9,1102.6 590.2,1103 590.5,1091.8 590.8,1108.3 591.1,1099.9 591.4,1107.7 591.7,1108.4 592,1106.5 592.3,1125.7 592.6,1107.7 592.9,1113.7 593.2,1094.5 593.5,1103 593.8,1123.2 594.1,1102.7 594.4,1109.3 594.7,1094.5 595,1109.4 595.3,1119.1 595.6,1102.7 595.9,1098.3 596.2,1106.9 596.5,1104.8 596.8,1100 597.1,1095.5 597.4,1103.1 597.7,1094.2 598,1105.4 598.3,1090.9 598.6,1118.8 598.9,1122 599.2,1105.4 599.5,1106.8 599.8,1118 600.1,1099.1 600.4,1109.3 600.7,1115.7 601,1112.8 601.3,1109.6 601.6,1106.9 601.9,1115 602.2,1115.1 602.5,1104.4 602.8,1108.3 603.1,1092 603.4,1111.1 603.7,1101.8 604,1093.8 604.3,1109.4 604.6,1099.8 604.9,1105.3 605.2,1107.3 605.5,1094.9 605.8,1115.7 606.1,1112.6 606.4,1122 606.7,1108.7 607,1099.9 607.3,1109.8 607.6,1101.2 607.9,1113.9 608.2,1098.6 608.5,1108.7 608.8,1111.6 609.1,1094.6 609.4,1107.9 609.7,1109.3 610,1106.8 610.3,1114.3 610.6,1106.8 610.9,1117.4 611.2,1105.5 611.5,1104 611.8,1104.7 612.1,1109.6 612.4,1093.3 612.7,1118.2 613,1106.8 613.3,1106.1 613.6,1116.5 613.9,1117.3 614.2,1108.9 614.5,1102.4 614.8,1106.7 615.1,1120.7 615.4,1110.1 615.7,1105.9 616,1118.2 616.3,1098.3 616.6,1104.2 616.9,1100.1 617.2,1094.5 617.5,1126.5 617.8,1099.9 618.1,1111.3 618.4,1104 618.7,1106.2 619,1116 619.3,1115.1 619.6,1104.4 619.9,1109.3 620.2,1102 620.5,1110.9 620.8,1090.7 621.1,1109.9 621.4,1091.3 621.7,1113.9 622,1103.4 622.3,1098.9 622.6,1118.4 622.9,1115.6 623.2,1104.6 623.5,1098.7 623.8,1097 624.1,1101.7 624.4,1099.5 624.7,1117.2 625,1111.3 625.3,1096.4 625.6,1112.3 625.9,1109.8 626.2,1121.8 626.5,1109.4 626.8,1106.4 627.1,1105 627.4,1096.2 627.7,1105.4 628,1106.6 628.3,1111.1 628.6,1103.5 628.9,1116.8 629.2,1123 629.5,1090.7 629.8,1110.6 630.1,1112.5 630.4,1119.1 630.7,1098.1 631,1109.9 631.3,1118.1 631.6,1118 631.9,1099.1 632.2,1102.6 632.5,1101.6 632.8,1108.5 633.1,1100.8 633.4,1097.5 633.7,1102.7 634,1120.8 634.3,1123.8 634.6,1120.9 634.9,1105.9 635.2,1120 635.5,1116.7 635.8,1107.8 636.1,1115.1 636.4,1118.4 636.7,1100.5 637,1119.8 637.3,1101.9 637.6,1100.8 637.9,1096.6 638.2,1108.5 638.5,1109.7 638.8,1122.3 639.1,1110.2 639.4,1113 639.7,1099.9 640,1102.9 640.3,1096.5 640.6,1099.6 640.9,1098.8 641.2,1104.1 641.5,1107.2 641.8,1111.4 642.1,1108.5 642.4,1116 642.7,1105.2 643,1109 643.3,1124.6 643.6,1130 643.9,1114.2 644.2,1112.1 644.5,1110.8 644.8,1098 645.1,1113.4 645.4,1118.6 645.7,1105.4 646,1100.4 646.3,1095.3 646.6,1116.6 646.9,1110.5 647.2,1111.9 647.5,1096.4 647.8,1102.9 648.1,1108.3 648.4,1102.7 648.7,1111.3 649,1110.1 649.3,1108.8 649.6,1115.2 649.9,1110.5 650.2,1105.7 650.5,1106.6 650.8,1096.7 651.1,1101.6 651.4,1109.1 651.7,1126 652,1120.4 652.3,1112.6 652.6,1111.6 652.9,1119 653.2,1111.6 653.5,1107.7 653.8,1113.6 654.1,1109.7 654.4,1109.4 654.7,1114.2 655,1115.5 655.3,1109.7 655.6,1106.5 655.9,1116.9 656.2,1124.9 656.5,1116.3 656.8,1104.6 657.1,1121.5 657.4,1101.3 657.7,1113.4 658,1107.7 658.3,1114.9 658.6,1104.1 658.9,1108.3 659.2,1105.8 659.5,1124.2 659.8,1103 660.1,1122.1 660.4,1111.4 660.7,1104.6 661,1110.3 661.3,1104.8 661.6,1107.4 661.9,1108 662.2,1115.2 662.5,1100.8 662.8,1099.9 663.1,1113 663.4,1115.9 663.7,1107.2 664,1114.8 664.3,1107.7 664.6,1102.3 664.9,1103.5 665.2,1097.1 665.5,1105.1 665.8,1117 666.1,1119.2 666.4,1104.6 666.7,1093.7 667,1111.6 667.3,1116 667.6,1097.8 667.9,1109.8 668.2,1103.3 668.5,1100.3 668.8,1116.6 669.1,1111.6 669.4,1113.2 669.7,1104.6 670,1103.7 670.3,1112.7 670.6,1104.4 670.9,1132 671.2,1106 671.5,1106.1 671.8,1108.8 672.1,1132 672.4,1120.5 672.7,1117.2 673,1097.3 673.3,1110.9 673.6,1110.3 673.9,1109.4 674.2,1104.2 674.5,1107.7 674.8,1103.8 675.1,1115 675.4,1098.5 675.7,1110.1 676,1098.9 676.3,1100.7 676.6,1090.5 676.9,1094.3 677.2,1099.1 677.5,1091.3 677.8,1082.2 678.1,1072.3 678.4,1092.2 678.7,1094.6 679,1090 679.3,1107.6 679.6,1102.8 679.9,1104.3 680.2,1112 680.5,1106 680.8,1099.9 681.1,1100.1 681.4,1111.1 681.7,1085.8 682,1105.9 682.3,1110.9 682.6,1114.4 682.9,1116.5 683.2,1102.4 683.5,1131.4 683.8,1110 684.1,1119.6 684.4,1110.2 684.7,1109.1 685,1099.2 685.3,1116.6 685.6,1099 685.9,1113.2 686.2,1109 686.5,1111.4 686.8,1102.4 687.1,1095.3 687.4,1101.7 687.7,1104.6 688,1104.5 688.3,1121.7 688.6,1098.7 688.9,1113.3 689.2,1115.9 689.5,1111.9 689.8,1115.1 690.1,1105.7 690.4,1103.3 690.7,1098.9 691,1109.7 691.3,1113.6 691.6,1111.1 691.9,1118.1 692.2,1114.7 692.5,1093.3 692.8,1115 693.1,1112.5 693.4,1104.7 693.7,1106.9 694,1102.9 694.3,1115.7 694.6,1117.3 694.9,1101.4 695.2,1114.3 695.5,1102.7 695.8,1107.3 696.1,1123.4 696.4,1110.5 696.7,1114.1 697,1104.9 697.3,1111.4 697.6,1126.6 697.9,1102.8 698.2,1129 698.5,1112.2 698.8,1092.3 699.1,1113.8 699.4,1126.3 699.7,1101.5 700,1115.8 700.3,1113.8 700.6,1103.2 700.9,1105 701.2,1103.4 701.5,1106.4 701.8,1110.9 702.1,1112.8 702.4,1112.7 702.7,1101.9 703,1097.3 703.3,1093.5 703.6,1117.1 703.9,1110.9 704.2,1109 704.5,1110.3 704.8,1117.8 705.1,1091.9 705.4,1097.1 705.7,1110.3 706,1112.6 706.3,1119 706.6,1118.5 706.9,1111.7 707.2,1102.9 707.5,1096 707.8,1102 708.1,1098.8 708.4,1117.3 708.7,1132 709,1098.2 709.3,1107.5 709.6,1109.6 709.9,1095.9 710.2,1116.6 710.5,1116.5 710.8,1114.8 711.1,1096.3 711.4,1101.6 711.7,1123 712,1096 712.3,1108.9 712.6,1105.6 712.9,1115.1 713.2,1094.2 713.5,1105.6 713.8,1098.6 714.1,1116.9 714.4,1103.5 714.7,1108.3 715,1110.8 715.3,1115.4 715.6,1114.6 715.9,1118.3 716.2,1129.5 716.5,1109.2 716.8,1104.4 717.1,1121.4 717.4,1117.2 717.7,1113.9 718,1122 718.3,1111.3 718.6,1111.1 718.9,1110.6 719.2,1105.8 719.5,1101.6 719.8,1102.7 720.1,1098.8 720.4,1104.4 720.7,1115.3 721,1116.5 721.3,1103.9 721.6,1104.6 721.9,1091.7 722.2,1110.8 722.5,1116.9 722.8,1106.7 723.1,1108.2 723.4,1116.1 723.7,1098.2 724,1093.8 724.3,1106.1 724.6,1114.2 724.9,1107 725.2,1109.5 725.5,1120.1 725.8,1102.4 726.1,1106.3 726.4,1099.1 726.7,1123.3 727,1109.2 727.3,1110 727.6,1122.7 727.9,1089.1 728.2,1105.4 728.5,1118.1 728.8,1111.9 729.1,1121.5 729.4,1105.7 729.7,1112.7 730,1108.4 730.3,1107.2 730.6,1108.4 730.9,1108.2 731.2,1110.2 731.5,1105.6 731.8,1102.6 732.1,1111 732.4,1112.6 732.7,1112.2 733,1106.5 733.3,1111.9 733.6,1112 733.9,1121 734.2,1093.6 734.5,1118.8 734.8,1095.6 735.1,1102.6 735.4,1100.8 735.7,1106.9 736,1105 736.3,1106.6 736.6,1104.2 736.9,1102.2 737.2,1096.7 737.5,1116.8 737.8,1105 738.1,1096 738.4,1097.7 738.7,1117.1 739,1106.4 739.3,1106.6 739.6,1106.9 739.9,1126.9 740.2,1101.9 740.5,1121.7 740.8,1091.3 741.1,1103.6 741.4,1109.6 741.7,1103.7 742,1107.7 742.3,1113.1 742.6,1109.5 742.9,1106 743.1,1115.2 743.4,1103 743.7,1099.8 744,1100.1 744.3,1091.8 744.6,1098.3 744.9,1103.1 745.2,1098.2 745.5,1108.2 745.8,1105.4 746.1,1097.3 746.4,1093.1 746.7,1111.5 747,1120.4 747.3,1091.4 747.6,1099.4 747.9,1094 748.2,1101.4 748.5,1106.8 748.8,1113.8 749.1,1116.5 749.4,1097 749.7,1100.7 750,1106.1 750.3,1117.7 750.6,1112.9 750.9,1113.7 751.2,1111.1 751.5,1132 751.8,1106.9 752.1,1096 752.4,1113.1 752.7,1111.6 753,1106.5 753.3,1116.8 753.6,1105.2 753.9,1115.3 754.2,1112.3 754.5,1106.7 754.8,1109.1 755.1,1107.9 755.4,1116.2 755.7,1102.8 756,1117.5 756.3,1101.8 756.6,1112.6 756.9,1132 757.2,1122.9 757.5,1117.3 757.8,1113 758.1,1109.9 758.4,1102.4 758.7,1102.2 759,1104.8 759.3,1111 759.6,1121.1 759.9,1110.5 760.2,1111.3 760.5,1109.8 760.8,1113 761.1,1113 761.4,1102.2 761.7,1119.6 762,1098.8 762.3,1098.5 762.6,1115 762.9,1116.8 763.2,1110.6 763.5,1111.5 763.8,1106.6 764.1,1097.7 764.4,1109.8 764.7,1104.2 765,1113.5 765.3,1112.6 765.6,1106.4 765.9,1114.2 766.2,1099 766.5,1112 766.8,1110.1 767.1,1117.2 767.4,1112.3 767.7,1116.9 768,1112.7 768.3,1123.2 768.6,1108.9 768.9,1079.5 769.2,1124.1 769.5,1094.6 769.8,1109.8 770.1,1101.5 770.4,1117 770.7,1092.2 771,1117.6 771.3,1109.4 771.6,1096.1 771.9,1119.2 772.2,1127.9 772.5,1109.4 772.8,1115.1 773.1,1116.8 773.4,1116.3 773.7,1120.8 774,1097.3 774.3,1098.8 774.6,1120 774.9,1109.7 775.2,1112.6 775.5,1099.8 775.8,1115.7 776.1,1095.5 776.4,1108.8 776.7,1115.3 777,1109.6 777.3,1113.7 777.6,1090.3 777.9,1107.6 778.2,1112.8 778.5,1108.1 778.8,1096.7 779.1,1116.8 779.4,1122.7 779.7,1098.1 780,1103.8 780.3,1112.6 780.6,1109.5 780.9,1099.8 781.2,1131.4 781.5,1098.4 781.8,1110.3 782.1,1103.3 782.4,1109.3 782.7,1083.3 783,1114 783.3,1099.8 783.6,1130.5 783.9,1108.6 784.2,1102.4 784.5,1121.7 784.8,1125.8 785.1,1108.1 785.4,1100.5 785.7,1099.1 786,1114.6 786.3,1106.1 786.6,1129.2 786.9,1094.5 787.2,1113.7 787.5,1098.4 787.8,1111.2 788.1,1118.4 788.4,1102.5 788.7,1116.2 789,1098.2 789.3,1111.9 789.6,1116.3 789.9,1115.9 790.2,1099.6 790.5,1109.6 790.8,1111.9 791.1,1121.5 791.4,1099.2 791.7,1100.3 792,1106.3 792.3,1102.5 792.6,1132 792.9,1113.4 793.2,1107.7 793.5,1108.1 793.8,1113.8 794.1,1107 794.4,1115.1 794.7,1114.5 795,1119.4 795.3,1107.9 795.6,1115 795.9,1113.2 796.2,1097.5 796.5,1109.4 796.8,1109.3 797.1,1121.8 797.4,1113.4 797.7,1100.9 798,1104.4 798.3,1108.6 798.6,1110.5 798.9,1108.5 799.2,1105.7 799.5,1111.8 799.8,1129.8 800.1,1092.7 800.4,1099.6 800.7,1110.3 801,1097.3 801.3,1119.9 801.6,1098.3 801.9,1107.5 802.2,1101.7 802.5,1111.9 802.8,1107.8 803.1,1104.2 803.4,1118.1 803.7,1109.7 804,1105.4 804.3,1114 804.6,1094.8 804.9,1117.1 805.2,1129.3 805.5,1111.8 805.8,1119.1 806.1,1115.2 806.4,1121.8 806.7,1107.4 807,1109.8 807.3,1107.3 807.6,1119.5 807.9,1112.6 808.2,1114.4 808.5,1100.8 808.8,1121.5 809.1,1121.8 809.4,1098.4 809.7,1106.1 810,1122.2 810.3,1097.8 810.6,1096.7 810.9,1099.6 811.2,1126.3 811.5,1108.1 811.8,1116.3 812.1,1111.3 812.4,1122.3 812.7,1094.6 813,1114.9 813.3,1106.8 813.6,1102.4 813.9,1104 814.2,1105.7 814.5,1112.4 814.8,1107.3 815.1,1111 815.4,1128.1 815.7,1100.8 816,1114.4 816.3,1113.5 816.6,1112.6 816.9,1120.7 817.2,1119.2 817.5,1124.2 817.8,1105.2 818.1,1099.4 818.4,1108.5 818.7,1118.7 819,1098.3 819.3,1111.8 819.6,1122.5 819.9,1124.9 820.2,1107.6 820.5,1098.3 820.8,1112.4 821.1,1114.5 821.4,1111.5 821.7,1116.3 822,1113.7 822.3,1107.1 822.6,1115.2 822.9,1101.4 823.2,1117.3 823.5,1103.3 823.8,1106.3 824.1,1112.4 824.4,1111.7 824.7,1111.9 825,1095.2 825.3,1116 825.6,1099.3 825.9,1100.8 826.2,1112 826.5,1095.7 826.8,1129 827.1,1107.2 827.4,1108.1 827.7,1109 828,1102.2 828.3,1112.6 828.6,1110.8 828.9,1099.6 829.2,1110.2 829.5,1117.8 829.8,1104.5 830.1,1109.9 830.4,1113.9 830.7,1104.6 831,1115.1 831.3,1117.4 831.6,1111.4 831.9,1108.6 832.2,1108.8 832.5,1119.3 832.8,1094.9 833.1,1103.6 833.4,1114.8 833.7,1107.3 834,1130.1 834.3,1101.5 834.6,1132 834.9,1105 835.2,1119.2 835.5,1101 835.8,1113.7 836.1,1111 836.4,1096.5 836.7,1101 837,1120.7 837.3,1115.1 837.6,1107.6 837.9,1111.2 838.2,1094.4 838.5,1115 838.8,1124.9 839.1,1116.9 839.4,1110.8 839.7,1104.7 840,1103.1 840.3,1098.9 840.6,1107.3 840.9,1111 841.2,1103.2 841.5,1110.1 841.8,1113.2 842.1,1113.2 842.4,1101.5 842.7,1096.9 843,1098.3 843.3,1122.6 843.6,1100.2 843.9,1118.6 844.2,1112.1 844.5,1104.4 844.8,1120.4 845.1,1119.5 845.4,1115.5 845.7,1086.7 846,1100.3 846.3,1116.8 846.6,1108.1 846.9,1108.2 847.2,1106.7 847.5,1115.2 847.8,1097.3 848.1,1112.5 848.4,1102.5 848.7,1123.3 849,1106 849.3,1108.1 849.6,1098 849.9,1131 850.2,1104.7 850.5,1132 850.8,1111.5 851.1,1098.3 851.4,1091.8 851.7,1102 852,1102.5 852.3,1100.7 852.6,1105.6 852.9,1095.4 853.2,1104.3 853.5,1115 853.8,1118.1 854.1,1099.5 854.4,1104.3 854.7,1114.9 855,1125.4 855.3,1097.1 855.6,1123.6 855.9,1116.8 856.2,1103.5 856.5,1102.4 856.8,1119.1 857.1,1117.6 857.4,1107.9 857.7,1097.6 858,1109.2 858.3,1130.5 858.6,1100.7 858.9,1109.5 859.2,1113.1 859.5,1119 859.8,1099.3 860.1,1107.1 860.4,1105.9 860.7,1106.4 861,1105.7 861.3,1102.3 861.6,1095 861.9,1118.2 862.2,1110 862.5,1113.1 862.8,1095.3 863.1,1111.7 863.4,1122.8 863.7,1109.6 864,1115.5 864.3,1115.5 864.6,1113.1 864.9,1120.3 865.2,1125.5 865.5,1093.1 865.8,1110.4 866.1,1117.2 866.4,1104.1 866.7,1098.2 867,1129.9 867.3,1100.8 867.6,1107 867.9,1116.4 868.2,1105.6 868.5,1119.7 868.8,1114.9 869.1,1110.4 869.4,1105.8 869.7,1109 870,1115.1 870.3,1112.5 870.6,1127 870.9,1091.6 871.2,1112.8 871.5,1111.8 871.8,1107.2 872.1,1104.6 872.4,1106.5 872.7,1115 873,1123.2 873.3,1110.8 873.6,1116.1 873.9,1114 874.2,1109.4 874.5,1107.4 874.8,1098.6 875.1,1110.6 875.4,1123.8 875.7,1104.5 876,1101.7 876.3,1123.2 876.6,1104.4 876.9,1107.9 877.2,1114 877.5,1108 877.8,1106.2 878.1,1104.5 878.4,1099.8 878.7,1109.5 879,1109.5 879.3,1089.3 879.6,1118.4 879.9,1111.7 880.2,1112.4 880.5,1103 880.8,1100.2 881.1,1120.5 881.4,1099.2 881.7,1119.4 882,1104.9 882.3,1115 882.6,1098.5 882.9,1111.7 883.2,1103.5 883.5,1115.7 883.8,1108.3 884.1,1109.3 884.4,1108.7 884.7,1102.8 885,1113.1 885.3,1112.2 885.6,1120.4 885.9,1110.6 886.2,1113.6 886.5,1102.1 886.8,1112.1 887.1,1115.5 887.4,1105.8 887.7,1098.5 888,1111.2 888.3,1119.3 888.6,1091.6 888.9,1108 889.2,1103.6 889.5,1088.5 889.8,1116.1 890.1,1106.9 890.4,1125.3 890.7,1105.3 891,1106.2 891.3,1116 891.6,1116.6 891.9,1110.9 892.2,1111.4 892.5,1096.2 892.8,1111.5 893.1,1110.8 893.4,1110.9 893.7,1122.8 894,1113.5 894.3,1120.8 894.6,1108.4 894.9,1127.8 895.2,1118.9 895.5,1107.4 895.8,1127 896.1,1122.5 896.4,1101.2 896.7,1132 897,1109.6 897.3,1106.9 897.6,1118.4 897.9,1123.6 898.2,1096.8 898.5,1114.2 898.8,1105.2 899.1,1115.9 899.4,1106.5 899.7,1120.5 900,1121 900.3,1118.3 900.6,1114.8 900.9,1114.8 901.2,1112.3 901.5,1105.9 901.8,1114 902.1,1101.7 902.4,1115.1 902.7,1104 903,1098.6 903.3,1095 903.6,1126.1 903.9,1095.1 904.2,1132 904.5,1097.7 904.8,1109.6 905.1,1106.6 905.4,1117.4 905.7,1101.7 906,1103.8 906.3,1114.2 906.6,1114.7 906.9,1102.4 907.2,1100.9 907.5,1103.1 907.8,1112.7 908.1,1109.5 908.4,1103.1 908.7,1102.5 909,1100.1 909.3,1108.3 909.6,1115.4 909.9,1107.1 910.2,1105.8 910.5,1114 910.8,1105.8 911.1,1116.5 911.4,1107.4 911.7,1114.6 912,1091.9 912.3,1099.6 912.6,1107.4 912.9,1132 913.2,1119.8 913.5,1094.7 913.8,1110.8 914.1,1107 914.3,1122.7 914.6,1132 914.9,1108.6 915.2,1111.3 915.5,1132 915.8,1116.2 916.1,1103 916.4,1113.2 916.7,1104.8 917,1095.8 917.3,1106.8 917.6,1108.5 917.9,1114.5 918.2,1099.4 918.5,1121.6 918.8,1128.4 919.1,1109.7 919.4,1121.9 919.7,1101.4 920,1114.8 920.3,1105.2 920.6,1112.2 920.9,1111.7 921.2,1109.5 921.5,1126 921.8,1118.7 922.1,1113.5 922.4,1091.1 922.7,1102.8 923,1103.6 923.3,1118.3 923.6,1102.1 923.9,1099.2 924.2,1103.3 924.5,1087.7 924.8,1120.8 925.1,1118.6 925.4,1111.8 925.7,1117.7 926,1109.2 926.3,1105.3 926.6,1109.7 926.9,1108.8 927.2,1106.2 927.5,1105.1 927.8,1115.1 928.1,1115.2 928.4,1099.7 928.7,1112.5 929,1116.6 929.3,1107.3 929.6,1112.6 929.9,1108.6 930.2,1110.2 930.5,1104.4 930.8,1102 931.1,1116.6 931.4,1119.8 931.7,1096.3 932,1115.4 932.3,1122.6 932.6,1128.9 932.9,1110 933.2,1115 933.5,1124.9 933.8,1117.6 934.1,1118.5 934.4,1101.4 934.7,1107.7 935,1109.8 935.3,1120.3 935.6,1111.2 935.9,1104.2 936.2,1108.4 936.5,1100.9 936.8,1109.1 937.1,1103.9 937.4,1105.9 937.7,1114.4 938,1098.6 938.3,1106.7 938.6,1102.8 938.9,1118.6 939.2,1118.8 939.5,1111.2 939.8,1116.4 940.1,1104.6 940.4,1106.3 940.7,1099.5 941,1104.8 941.3,1119.2 941.6,1101.8 941.9,1115.2 942.2,1115.9 942.5,1109.2 942.8,1109.8 943.1,1101.1 943.4,1086.2 943.7,1106.2 944,1097.6 944.3,1111.5 944.6,1110.4 944.9,1114.1 945.2,1113.3 945.5,1083.6 945.8,1106 946.1,1115.9 946.4,1116.4 946.7,1095.5 947,1116.5 947.3,1115.2 947.6,1109.9 947.9,1104.1 948.2,1096.7 948.5,1097.5 948.8,1118.6 949.1,1113.3 949.4,1096.8 949.7,1090.8 950,1115 950.3,1110.6 950.6,1122.6 950.9,1116.6 951.2,1117.1 951.5,1110.6 951.8,1119.7 952.1,1102 952.4,1110.2 952.7,1111.9 953,1102.1 953.3,1112 953.6,1120.1 953.9,1109.5 954.2,1091.7 954.5,1108.9 954.8,1105.4 955.1,1111.4 955.4,1111.6 955.7,1105.6 956,1131.8 956.3,1120.1 956.6,1114.7 956.9,1112 957.2,1097.7 957.5,1089.4 957.8,1104.5 958.1,1106.5 958.4,1104.1 958.7,1097.2 959,1118 959.3,1113.9 959.6,1108.5 959.9,1107.3 960.2,1125.6 960.5,1106.2 960.8,1123 961.1,1103.4 961.4,1102.8 961.7,1128.6 962,1105.6 962.3,1108.2 962.6,1114.9 962.9,1101.9 963.2,1093.1 963.5,1105.7 963.8,1118.9 964.1,1121.8 964.4,1119.5 964.7,1118.3 965,1100.5 965.3,1107.4 965.6,1110 965.9,1102.6 966.2,1109.7 966.5,1109.5 966.8,1116.8 967.1,1115 967.4,1109.6 967.7,1119.6 968,1096 968.3,1108.8 968.6,1114.4 968.9,1107.1 969.2,1118.6 969.5,1101 969.8,1109.1 970.1,1094.2 970.4,1114.4 970.7,1113.2 971,1116.9 971.3,1120.2 971.6,1107.8 971.9,1118.7 972.2,1107.2 972.5,1115.2 972.8,1101.1 973.1,1131.1 973.4,1106.4 973.7,1109.5 974,1109.9 974.3,1115.1 974.6,1095.4 974.9,1113.3 975.2,1106.3 975.5,1112.1 975.8,1112.9 976.1,1105.8 976.4,1104.3 976.7,1119.2 977,1113.8 977.3,1121.6 977.6,1106.6 977.9,1117 978.2,1116.1 978.5,1104.5 978.8,1110 979.1,1106.6 979.4,1111.1 979.7,1106.5 980,1109.2 980.3,1119.2 980.6,1108.2 980.9,1112.8 981.2,1111.9 981.5,1107.6 981.8,1114.5 982.1,1118.7 982.4,1100.1 982.7,1094.6 983,1112.8 983.3,1100.4 983.6,1106.7 983.9,1115.3 984.2,1116.9 984.5,1112.3 984.8,1113.5 985.1,1112.7 985.4,1111 985.7,1119.4 986,1102.8 986.3,1119.3 986.6,1118.8 986.9,1102.3 987.2,1103.6 987.5,1097.9 987.8,1108.8 988.1,1115.3 988.4,1100.4 988.7,1110.8 989,1111 989.3,1117 989.6,1106.6 989.9,1129.6 990.2,1105.6 990.5,1126.6 990.8,1102.7 991.1,1122.9 991.4,1104.6 991.7,1083.1 992,1112.3 992.3,1119.7 992.6,1093.8 992.9,1113.7 993.2,1119.3 993.5,1099.5 993.8,1132 994.1,1122.3 994.4,1120.9 994.7,1115.8 995,1126.9 995.3,1103.1 995.6,1101.5 995.9,1110.5 996.2,1113.4 996.5,1123 996.8,1106.1 997.1,1115.8 997.4,1088.8 997.7,1101.5 998,1109.6 998.3,1127.6 998.6,1117.8 998.9,1098.6 999.2,1107.7 999.5,1098.2 999.8,1128.6 1000.1,1110.9 1000.4,1111.5 1000.7,1123.6 1001,1115.4 1001.3,1101.8 1001.6,1105.5 1001.9,1114.5 1002.2,1107.3 1002.5,1100.1 1002.8,1119 1003.1,1107.6 1003.4,1101.3 1003.7,1115.7 1004,1099.1 1004.3,1110.8 1004.6,1100.7 1004.9,1102.3 1005.2,1107.8 1005.5,1112.4 1005.8,1115.5 1006.1,1108.6 1006.4,1108.2 1006.7,1098.3 1007,1110.7 1007.3,1107.1 1007.6,1095.9 1007.9,1107.3 1008.2,1106.2 1008.5,1096.6 1008.8,1109.2 1009.1,1106.7 1009.4,1103.7 1009.7,1111 1010,1119.3 1010.3,1122.2 1010.6,1111.7 1010.9,1100.6 1011.2,1101.7 1011.5,1096.4 1011.8,1102.9 1012.1,1115.4 1012.4,1122.1 1012.7,1114.3 1013,1112.2 1013.3,1116.2 1013.6,1102.3 1013.9,1116.6 1014.2,1105.2 1014.5,1103.5 1014.8,1124.5 1015.1,1113.5 1015.4,1099.5 1015.7,1103 1016,1109 1016.3,1119.3 1016.6,1115.9 1016.9,1109.3 1017.2,1099.5 1017.5,1105.9 1017.8,1110.8 1018.1,1108.1 1018.4,1103.6 1018.7,1124.7 1019,1119.7 1019.3,1109.8 1019.6,1100 1019.9,1101.1 1020.2,1116.6 1020.5,1109.9 1020.8,1116.2 1021.1,1113.3 1021.4,1108.9 1021.7,1113.1 1022,1114.7 1022.3,1119.8 1022.6,1123.3 1022.9,1111.7 1023.2,1108.5 1023.5,1104.9 1023.8,1116.9 1024.1,1116.1 1024.4,1099.6 1024.7,1106.6 1025,1102.7 1025.3,1114.8 1025.6,1116.1 1025.9,1119.7 1026.2,1126.5 1026.5,1119.6 1026.8,1124.5 1027.1,1116.3 1027.4,1099.6 1027.7,1109.9 1028,1108.2 1028.3,1109.1 1028.6,1110.5 1028.9,1111.5 1029.2,1121.8 1029.5,1096.3 1029.8,1111.4 1030.1,1100 1030.4,1123.1 1030.7,1105.6 1031,1119.9 1031.3,1120.9 1031.6,1107.9 1031.9,1101.6 1032.2,1098.7 1032.5,1091.1 1032.8,1112.4 1033.1,1103.6 1033.4,1115.1 1033.7,1114.6 1034,1108.1 1034.3,1111.1 1034.6,1103.1 1034.9,1132 1035.2,1100.7 1035.5,1115 1035.8,1097.9 1036.1,1100.6 1036.4,1119.7 1036.7,1110.6 1037,1104.5 1037.3,1116.7 1037.6,1116.3 1037.9,1112.7 1038.2,1103.9 1038.5,1102.6 1038.8,1113.6 1039.1,1103.2 1039.4,1097.9 1039.7,1116 1040,1116.2 1040.3,1117.1 1040.6,1107.8 1040.9,1103.3 1041.2,1106.6 1041.5,1113.3 1041.8,1117.8 1042.1,1099.6 1042.4,1111.4 1042.7,1094.6 1043,1119.6 1043.3,1120.3 1043.6,1115.4 1043.9,1094.8 1044.2,1099.9 1044.5,1114.2 1044.8,1126.1 1045.1,1100.5 1045.4,1109 1045.7,1119.5 1046,1122.6 1046.3,1106.8 1046.6,1111.8 1046.9,1108.9 1047.2,1106.8 1047.5,1113.2 1047.8,1113.7 1048.1,1104.6 1048.4,1111 1048.7,1105.5 1049,1104.8 1049.3,1126.5 1049.6,1099.8 1049.9,1106.4 1050.2,1116.4 1050.5,1111.5 1050.8,1088.7 1051.1,1105.5 1051.4,1124.8 1051.7,1118.5 1052,1108.6 1052.3,1095.3 1052.6,1103.7 1052.9,1111.7 1053.2,1096 1053.5,1109.9 1053.8,1112.6 1054.1,1106.9 1054.4,1116.7 1054.7,1101.7 1055,1105.6 1055.3,1113.7 1055.6,1117.1 1055.9,1120 1056.2,1107.8 1056.5,1108.8 1056.8,1108.6 1057.1,1095.9 1057.4,1128.3 1057.7,1116 1058,1116.5 1058.3,1102.2 1058.6,1112.1 1058.9,1117.9 1059.2,1108.3 1059.5,1106.7 1059.8,1096.7 1060.1,1108 1060.4,1113.7 1060.7,1114.2 1061,1116.8 1061.3,1106 1061.6,1103.3 1061.9,1111.9 1062.2,1111.2 1062.5,1098.7 1062.8,1109.2 1063.1,1106 1063.4,1119.1 1063.7,1115.1 1064,1127.8 1064.3,1121.4 1064.6,1107 1064.9,1099.8 1065.2,1112.3 1065.5,1120 1065.8,1109.3 1066.1,1100.6 1066.4,1111.4 1066.7,1102.5 1067,1110.6 1067.3,1120.3 1067.6,1117.6 1067.9,1112.2 1068.2,1091.2 1068.5,1105.3 1068.8,1112.1 1069.1,1107.7 1069.4,1114.7 1069.7,1113.8 1070,1111 1070.3,1112.2 1070.6,1104 1070.9,1097.2 1071.2,1099.1 1071.5,1112.7 1071.8,1105.5 1072.1,1116.1 1072.4,1119.1 1072.7,1109.5 1073,1105.1 1073.3,1110.6 1073.6,1103.3 1073.9,1103.3 1074.2,1103.8 1074.5,1111.4 1074.8,1121.4 1075.1,1095.2 1075.4,1114.1 1075.7,1104.1 1076,1106.1 1076.3,1129.6 1076.6,1095 1076.9,1104.5 1077.2,1110.2 1077.5,1113.6 1077.8,1118.1 1078.1,1120.6 1078.4,1105.4 1078.7,1113.8 1079,1113.9 1079.3,1104.6 1079.6,1113 1079.9,1104.7 1080.2,1115.4 1080.5,1114.4 1080.8,1102.5 1081.1,1115.8 1081.4,1105.1 1081.7,1106 1082,1110.1 1082.3,1123.8 1082.6,1121 1082.9,1119.2 1083.2,1120.8 1083.5,1103 1083.8,1117.3 1084.1,1120.4 1084.4,1114.3 1084.7,1111 1085,1123.9 1085.3,1105.2 1085.6,1104.2 1085.8,1115.1 1086.1,1103.5 1086.4,1123 1086.7,1114.7 1087,1111.5 1087.3,1100.3 1087.6,1100.7 1087.9,1112.9 1088.2,1118.5 1088.5,1108.4 1088.8,1108.9 1089.1,1106.5 1089.4,1112.9 1089.7,1108.8 1090,1114.9 1090.3,1105.6 1090.6,1115.6 1090.9,1115.3 1091.2,1100.6 1091.5,1116.5 1091.8,1110.2 1092.1,1105.5 1092.4,1112.8 1092.7,1102.8 1093,1115 1093.3,1101.8 1093.6,1123 1093.9,1121.3 1094.2,1109.7 1094.5,1098.5 1094.8,1097 1095.1,1117.3 1095.4,1110.5 1095.7,1114.3 1096,1127.8 1096.3,1104.3 1096.6,1113.3 1096.9,1099 1097.2,1107.9 1097.5,1114.6 1097.8,1115.9 1098.1,1111.8 1098.4,1106.5 1098.7,1114.3 1099,1087.2 1099.3,1108.5 1099.6,1119.6 1099.9,1109.6 1100.2,1100.9 1100.5,1106.7 1100.8,1113 1101.1,1115.7 1101.4,1116.7 1101.7,1132 1102,1132 1102.3,1108.1 1102.6,1114.9 1102.9,1096.9 1103.2,1107.2 1103.5,1113.9 1103.8,1110.5 1104.1,1098.2 1104.4,1124.2 1104.7,1116.7 1105,1088.3 1105.3,1102 1105.6,1117.7 1105.9,1109.2 1106.2,1112.2 1106.5,1087.4 1106.8,1115.8 1107.1,1112.5 1107.4,1113 1107.7,1122 1108,1132 1108.3,1112.2 1108.6,1106.1 1108.9,1113.8 1109.2,1106.2 1109.5,1104.1 1109.8,1104.6 1110.1,1124.2 1110.4,1097.9 1110.7,1103.2 1111,1103.7 1111.3,1110.2 1111.6,1110.3 1111.9,1114.7 1112.2,1106.8 1112.5,1102.7 1112.8,1115 1113.1,1103.6 1113.4,1114.1 1113.7,1105.4 1114,1111.5 1114.3,1103.2 1114.6,1094.5 1114.9,1108.4 1115.2,1114.3 1115.5,1113.8 1115.8,1105.2 1116.1,1114.4 1116.4,1102.3 1116.7,1107.9 1117,1102.9 1117.3,1114.8 1117.6,1118.2 1117.9,1116.4 1118.2,1107 1118.5,1116.8 1118.8,1115.4 1119.1,1127.2 1119.4,1115.8 1119.7,1111.7 1120,1125.3 1120.3,1115.3 1120.6,1122.6 1120.9,1110.9 1121.2,1112.3 1121.5,1104.2 1121.8,1117.2 1122.1,1123.7 1122.4,1114.8 1122.7,1109.2 1123,1106.6 1123.3,1108.9 1123.6,1100.3 1123.9,1113.2 1124.2,1112 1124.5,1117.2 1124.8,1115.2 1125.1,1101.7 1125.4,1090.6 1125.7,1131.8 1126,1100.4 1126.3,1126.7 1126.6,1113.7 1126.9,1102.3 1127.2,1109.2 1127.5,1105.7 1127.8,1095 1128.1,1107.8 1128.4,1120.6 1128.7,1107.3 1129,1116 1129.3,1130.2 1129.6,1112.7 1129.9,1105.8 1130.2,1109.3 1130.5,1110.2 1130.8,1096 1131.1,1108.1 1131.4,1102.8 1131.7,1107.6 1132,1096.8 1132.3,1113.3 1132.6,1100.6 1132.9,1095.3 1133.2,1113.4 1133.5,1101.7 1133.8,1129.7 1134.1,1107.7 1134.4,1104.2 1134.7,1117.1 1135,1125 1135.3,1109.9 1135.6,1113 1135.9,1108.7 1136.2,1107.8 1136.5,1103.4 1136.8,1097.4 1137.1,1106.7 1137.4,1122.8 1137.7,1104.7 1138,1107 1138.3,1118.2 1138.6,1097.2 1138.9,1108 1139.2,1108.7 1139.5,1106.4 1139.8,1123.4 1140.1,1102.3 1140.4,1109.7 1140.7,1096.3 1141,1104.6 1141.3,1107.1 1141.6,1110.9 1141.9,1132 1142.2,1110.8 1142.5,1107.7 1142.8,1118.4 1143.1,1106.6 1143.4,1104.4 1143.7,1104.5 1144,1114.5 1144.3,1107.7 1144.6,1111.9 1144.9,1120.4 1145.2,1122.5 1145.5,1103.3 1145.8,1098.3 1146.1,1098.4 1146.4,1117.1 1146.7,1097.8 1147,1097.3 1147.3,1116.4 1147.6,1106.1 1147.9,1096.1 1148.2,1109.4 1148.5,1100.4 1148.8,1115.2 1149.1,1112.9 1149.4,1102.9 1149.7,1111.5 1150,1109.1 1150.3,1109.3 1150.6,1122.2 1150.9,1097.8 1151.2,1111.2 1151.5,1112.8 1151.8,1113.8 1152.1,1109.6 1152.4,1117.8 1152.7,1103 1153,1112.9 1153.3,1103.6 1153.6,1117.3 1153.9,1118.5 1154.2,1117.7 1154.5,1108.2 1154.8,1121 1155.1,1103.2 1155.4,1112.9 1155.7,1102.8 1156,1113.3 1156.3,1103.5 1156.6,1118.6 1156.9,1119.2 1157.2,1105.3 1157.5,1097.7 1157.8,1101.5 1158.1,1115.9 1158.4,1106 1158.7,1116.9 1159,1124.5 1159.3,1098.4 1159.6,1111.9 1159.9,1102.2 1160.2,1108.7 1160.5,1124.3 1160.8,1107 1161.1,1101.3 1161.4,1099.6 1161.7,1096.8 1162,1107 1162.3,1111.1 1162.6,1109.7 1162.9,1119.8 1163.2,1104.2 1163.5,1104.3 1163.8,1107.4 1164.1,1116.6 1164.4,1105 1164.7,1114.8 1165,1100 1165.3,1115.3 1165.6,1114.6 1165.9,1112.9 1166.2,1118.8 1166.5,1117.7 1166.8,1112.6 1167.1,1130.5 1167.4,1093.8 1167.7,1107.2 1168,1107.9 1168.3,1117.6 1168.6,1108.7 1168.9,1110.4 1169.2,1109.5 1169.5,1122.5 1169.8,1111.3 1170.1,1125.9 1170.4,1112 1170.7,1117.7 1171,1115.4 1171.3,1113 1171.6,1103.5 1171.9,1100.3 1172.2,1110.1 1172.5,1119.3 1172.8,1098.1 1173.1,1122 1173.4,1114.9 1173.7,1112.2 1174,1116.5 1174.3,1099.4 1174.6,1107.1 1174.9,1101.5 1175.2,1112.9 1175.5,1103.3 1175.8,1111.7 1176.1,1111.6 1176.4,1108 1176.7,1107.2 1177,1105.7 1177.3,1112.2 1177.6,1122.8 1177.9,1113.1 1178.2,1132 1178.5,1112.8 1178.8,1117.2 1179.1,1103.7 1179.4,1132 1179.7,1094 1180,1113.3 1180.3,1123.7 1180.6,1107 1180.9,1106.5 1181.2,1107 1181.5,1092.5 1181.8,1117.4 1182.1,1108.1 1182.4,1109.3 1182.7,1116.2 1183,1108.1 1183.3,1100.1 1183.6,1117.6 1183.9,1106.8 1184.2,1102.2 1184.5,1105.1 1184.8,1123.8 1185.1,1108.2 1185.4,1109.2 1185.7,1100.4 1186,1111.6 1186.3,1094.3 1186.6,1120.7 1186.9,1106.4 1187.2,1117.8 1187.5,1095.9 1187.8,1097.6 1188.1,1118.2 1188.4,1104.3 1188.7,1110.9 1189,1124 1189.3,1119.2 1189.6,1108.1 1189.9,1106.3 1190.2,1085 1190.5,1108.1 1190.8,1108 1191.1,1108.2 1191.4,1131.5 1191.7,1109.4 1192,1111.8 1192.3,1122.9 1192.6,1097.8 1192.9,1098.5 1193.2,1109.2 1193.5,1093.3 1193.8,1117.2 1194.1,1118.4 1194.4,1115.7 1194.7,1116.5 1195,1095.3 1195.3,1110.2 1195.6,1111.1 1195.9,1107.6 1196.2,1097.4 1196.5,1109.2 1196.8,1113.7 1197.1,1108.3 1197.4,1100.2 1197.7,1112.3 1198,1098.9 1198.3,1108.1 1198.6,1112 1198.9,1106.5 1199.2,1094.3 1199.5,1112.6 1199.8,1099.2 1200.1,1105.9 1200.4,1109.3 1200.7,1110.2 1201,1103.8 1201.3,1105.5 1201.6,1107.5 1201.9,1105.2 1202.2,1117.7 1202.5,1116 1202.8,1118.8 1203.1,1113.4 1203.4,1112.3 1203.7,1117.2 1204,1106.2 1204.3,1118.4 1204.6,1101.8 1204.9,1103.5 1205.2,1096.7 1205.5,1110.2 1205.8,1100.7 1206.1,1099.3 1206.4,1119 1206.7,1108.6 1207,1119.2 1207.3,1113.8 1207.6,1107.3 1207.9,1117.2 1208.2,1106.2 1208.5,1111.8 1208.8,1112.6 1209.1,1106.2 1209.4,1117.4 1209.7,1124.5 1210,1110.4 1210.3,1116.5 1210.6,1112.3 1210.9,1119.7 1211.2,1118.3 1211.5,1119.1 1211.8,1121.2 1212.1,1117.3 1212.4,1117.1 1212.7,1110.5 1213,1084.7 1213.3,1115.8 1213.6,1132 1213.9,1105.9 1214.2,1120.8 1214.5,1118 1214.8,1113.5 1215.1,1110.4 1215.4,1110.2 1215.7,1108.7 1216,1111.7 1216.3,1101.7 1216.6,1103.9 1216.9,1115.2 1217.2,1112.5 1217.5,1121.9 1217.8,1105.4 1218.1,1112.5 1218.4,1095.2 1218.7,1116.3 1219,1098.4 1219.3,1118.3 1219.6,1124.6 1219.9,1117.8 1220.2,1108 1220.5,1102.5 1220.8,1118 1221.1,1102.9 1221.4,1115.1 1221.7,1115 1222,1113.3 1222.3,1114.9 1222.6,1109.3 1222.9,1108.3 1223.2,1123.2 1223.5,1109.5 1223.8,1108.6 1224.1,1097.5 1224.4,1118 1224.7,1116.6 1225,1118.3 1225.3,1116.2 1225.6,1105.4 1225.9,1117.4 1226.2,1100.5 1226.5,1110.6 1226.8,1118.3 1227.1,1116.2 1227.4,1122.1 1227.7,1122.7 1228,1098.1 1228.3,1103.7 1228.6,1118.9 1228.9,1084 1229.2,1140 1229.5,1116.9 1229.8,1109.1 1230.1,1106.8 1230.4,1112.6 1230.7,1112.5 1231,1113.7 1231.3,1110 1231.6,1114.6 1231.9,1110.6 1232.2,1109.5 1232.5,1121.8 1232.8,1107.3 1233.1,1118.6 1233.4,1132 1233.7,1126.8 1234,1110.2 1234.3,1106.4 1234.6,1114.5 1234.9,1122.9 1235.2,1112.4 1235.5,1103.6 1235.8,1123.7 1236.1,1123.1 1236.4,1107.3 1236.7,1112.7 1237,1112.5 1237.3,1110.6 1237.6,1106.5 1237.9,1112 1238.2,1119 1238.5,1112 1238.8,1110 1239.1,1101.5 1239.4,1121.1 1239.7,1112.2 1240,1118.3 1240.3,1108.9 1240.6,1115.6 1240.9,1132 1241.2,1103.3 1241.5,1116.5 1241.8,1120 1242.1,1123.4 1242.4,1119.9 1242.7,1121.7 1243,1112.3 1243.3,1110 1243.6,1111.8 1243.9,1108.2 1244.2,1117.9 1244.5,1106.2 1244.8,1112 1245.1,1107.5 1245.4,1106.1 1245.7,1114.2 1246,1086.5 1246.3,1104.6 1246.6,1114.5 1246.9,1096.8 1247.2,1097.6 1247.5,1123.7 1247.8,1129.5 1248.1,1116.2 1248.4,1107.3 1248.7,1103.5 1249,1105.7 1249.3,1111.2 1249.6,1103.2 1249.9,1105.3 1250.2,1114.7 1250.5,1109.6 1250.8,1102.4 1251.1,1116.3 1251.4,1116.2 1251.7,1117.9 1252,1099.2 1252.3,1105.6 1252.6,1104.2 1252.9,1114.1 1253.2,1111.3 1253.5,1101.2 1253.8,1113.3 1254.1,1101.4 1254.4,1111.2 1254.7,1111.3 1255,1106.6 1255.3,1104.1 1255.6,1096.8 1255.9,1113.9 1256.2,1097.3 1256.5,1117.2 1256.8,1118 1257,1129.2 1257.3,1104.2 1257.6,1099 1257.9,1120.8 1258.2,1113.7 1258.5,1113.1 1258.8,1123.7 1259.1,1110.5 1259.4,1108.6 1259.7,1102.3 1260,1119.3 1260.3,1109.9 1260.6,1106.2 1260.9,1122.5 1261.2,1111.8 1261.5,1106.5 1261.8,1132 1262.1,1108.4 1262.4,1097.1 1262.7,1121.5 1263,1100.4 1263.3,1113.4 1263.6,1106.1 1263.9,1112.3 1264.2,1120.3 1264.5,1119 1264.8,1091.6 1265.1,1121.9 1265.4,1113.2 1265.7,1099.4 1266,1108.5 1266.3,1109.6 1266.6,1127.4 1266.9,1116.1 1267.2,1121.9 1267.5,1125.6 1267.8,1108.1 1268.1,1104.2 1268.4,1117.3 1268.7,1116.3 1269,1107.5 1269.3,1103.8 1269.6,1119.6 1269.9,1101.5 1270.2,1103.4 1270.5,1115.7 1270.8,1120.1 1271.1,1085.1 1271.4,1105.4 1271.7,1096.7 1272,1115.9 1272.3,1098.1 1272.6,1113.9 1272.9,1106.7 1273.2,1111.9 1273.5,1110.3 1273.8,1099 1274.1,1116.6 1274.4,1104.3 1274.7,1114 1275,1111.3 1275.3,1116.9 1275.6,1109.4 1275.9,1127.3 1276.2,1113.1 1276.5,1102.8 1276.8,1104.2 1277.1,1124.3 1277.4,1120.2 1277.7,1114.4 1278,1095.7 1278.3,1114.5 1278.6,1111.1 1278.9,1113 1279.2,1108.5 1279.5,1118.5 1279.8,1108.9 1280.1,1107.1 1280.4,1102.5 1280.7,1113.8 1281,1103.6 1281.3,1095.3 1281.6,1104.5 1281.9,1105.4 1282.2,1131 1282.5,1100 1282.8,1095.3 1283.1,1101 1283.4,1106.9 1283.7,1104.2 1284,1088.6 1284.3,1116.8 1284.6,1114.3 1284.9,1102 1285.2,1132 1285.5,1128.8 1285.8,1109.2 1286.1,1112.6 1286.4,1118.7 1286.7,1107.9 1287,1109 1287.3,1125.8 1287.6,1106.8 1287.9,1093.3 1288.2,1096.6 1288.5,1120.3 1288.8,1121.9 1289.1,1110.5 1289.4,1108.7 1289.7,1122.1 1290,1117.1 1290.3,1099.8 1290.6,1109 1290.9,1102.5 1291.2,1111.3 1291.5,1102.5 1291.8,1115.4 1292.1,1115.3 1292.4,1118.9 1292.7,1126.9 1293,1114.3 1293.3,1122.2 1293.6,1128.6 1293.9,1109.9 1294.2,1109.6 1294.5,1107.8 1294.8,1114.3 1295.1,1111.5 1295.4,1101.5 1295.7,1112.3 1296,1110.8 1296.3,1131.3 1296.6,1120.2 1296.9,1102 1297.2,1118.3 1297.5,1120 1297.8,1103.1 1298.1,1121.3 1298.4,1102.9 1298.7,1111.9 1299,1116.3 1299.3,1128.1 1299.6,1100.1 1299.9,1126.2 1300.2,1121.4 1300.5,1104.6 1300.8,1121.5 1301.1,1107 1301.4,1111.5 1301.7,1113.4 1302,1120 1302.3,1116.7 1302.6,1108.9 1302.9,1119.3 1303.2,1106 1303.5,1109.2 1303.8,1106.7 1304.1,1109.3 1304.4,1106.5 1304.7,1108 1305,1104.3 1305.3,1108.1 1305.6,1108.5 1305.9,1118.8 1306.2,1125.5 1306.5,1110.8 1306.8,1103.3 1307.1,1118.9 1307.4,1124.4 1307.7,1115.8 1308,1108.2 1308.3,1104.1 1308.6,1113.9 1308.9,1122.5 1309.2,1111.7 1309.5,1105.6 1309.8,1111.7 1310.1,1094.9 1310.4,1115.4 1310.7,1104 1311,1101.1 1311.3,1119.5 1311.6,1118.1 1311.9,1105.9 1312.2,1085.3 1312.5,1107 1312.8,1111.5 1313.1,1100.4 1313.4,1112.2 1313.7,1124.7 1314,1132 1314.3,1100.1 1314.6,1106.9 1314.9,1123.1 1315.2,1104.4 1315.5,1110 1315.8,1101.2 1316.1,1124.7 1316.4,1117.4 1316.7,1114.1 1317,1121.5 1317.3,1113.2 1317.6,1112.7 1317.9,1104.1 1318.2,1112 1318.5,1114.6 1318.8,1107.2 1319.1,1102.1 1319.4,1102.6 1319.7,1109 1320,1114.4 1320.3,1115.2 1320.6,1122.1 1320.9,1110.7 1321.2,1111.5 1321.5,1097.6 1321.8,1109.5 1322.1,1105.1 1322.4,1100.4 1322.7,1126.8 1323,1116.6 1323.3,1113.2 1323.6,1110.3 1323.9,1120.7 1324.2,1104.2 1324.5,1118.1 1324.8,1107.1 1325.1,1105.6 1325.4,1120.4 1325.7,1101.8 1326,1116.4 1326.3,1127 1326.6,1110.3 1326.9,1107.8 1327.2,1117 1327.5,1125.1 1327.8,1120.9 1328.1,1112.6 1328.4,1132 1328.7,1102.8 1329,1103 1329.3,1112.8 1329.6,1102.5 1329.9,1112.7 1330.2,1120.7 1330.5,1106.1 1330.8,1106.7 1331.1,1119 1331.4,1123 1331.7,1119.5 1332,1101.6 1332.3,1113.8 1332.6,1088 1332.9,1116.8 1333.2,1106.3 1333.5,1108.6 1333.8,1113.2 1334.1,1104.4 1334.4,1118.5 1334.7,1111.8 1335,1121.1 1335.3,1129.5 1335.6,1110.8 1335.9,1120.9 1336.2,1122.2 1336.5,1106.5 1336.8,1112.7 1337.1,1108.1 1337.4,1096.9 1337.7,1109.8 1338,1107.6 1338.3,1121.3 1338.6,1104.3 1338.9,1104.2 1339.2,1120.1 1339.5,1105.9 1339.8,1108.7 1340.1,1113.1 1340.4,1110.6 1340.7,1091.2 1341,1116.7 1341.3,1114.1 1341.6,1112.1 1341.9,1112.8 1342.2,1126.5 1342.5,1105.9" fill="none" stroke="#ec1c24" stroke-width="2.6" stroke-linejoin="round"/><polyline points="143.5,944.8 145.3,937.8 147.9,930.7 148.8,936 151.5,934.2 153.2,927.2 155.9,930.7 157.7,931.2 159.4,932.5 162.1,927.2 163.8,926.8 165.6,926.3 167.3,924.4 169.1,921.9 170.9,918.3 173.6,927.2 175.3,924.8 177.1,921.9 178.8,919.8 180.6,918.3 182.8,917.2 185,915.7 186.8,907.7 189,904.1 191.2,901.6 193,898.5 194.7,895.9 196.5,891.9 198.6,889.7 200.6,887.3 202.7,885.7 205.3,876 208,868.9 210.6,859.2 213.3,850.4 215.9,841.5 217.7,828.3 219.5,815.9 220.4,789.4 222.4,790.1 224.5,789.9 226.5,790.3 228.3,791.2 230.1,792.1 230.9,794.7 231.5,826.5 233.6,858.3 235.4,876 237.1,897.2 238.9,914.8 240.7,925.4 242.4,939.5 244.2,955.4 246,944 246.5,968.7 248.6,963.4 251.3,967.8 253,974.9 254.8,970.7 256.6,966 258.4,959.7 260.1,953.7 262.7,945.7 265.4,944.8 267.6,946.4 269.8,947.5 271.6,937.8 273.8,932.2 276,927.2 276.9,949.3 279.5,932.5 281.3,926.3 283.9,922.8 285.7,923.3 287.5,924.5 290.1,928.9 291.9,919.2 294.5,906.9 296.8,902.7 298.6,900.6 300.3,898.3 302.9,894.8 304.7,885.9 307.4,881.5 309.1,873.6 311.8,870.9 313.5,854.2 314.4,833 316.2,830.3 318,830.1 319.7,829.6 321.5,829.1 323.7,830.2 325.9,830.8 328.1,830.2 330.3,829.8 332.1,829.7 333.9,830.5 335.6,829.8 337.4,830.8 339.2,831.2 340.9,832.1 342.7,832.1 344.4,833 345.7,844.4 347.1,835.6 349.3,837.2 351.5,838.3 353.3,854.2 354.2,870 355.9,887.7 357.7,896.5 360.3,903.6 362.1,917.7 363.9,926.6 365.6,933.6 367.4,935.9 369.2,937.2 370.9,944.2 372.7,956.6 374.5,965.4 376.2,968.1 378,967.1 379.8,966.3 382.4,970.7 385.1,975.1 387.7,974.2 389.5,979.5 391.2,972.5 393,971.5 394.8,970.7 397.4,973.4 400.1,972.5 401.8,963.6 404.5,959.2 406.3,951.3 408,949.5 410.7,946 411.6,935.4 413.3,926.6 415.1,907.1 416.9,894.8 417.7,884.2 419.5,880.6 420.4,885.9 422.2,875.3 423.9,872 425.7,869.2 427.4,871.2 429.2,873.6 430.9,875 432.7,876.2 434.5,875.8 436.3,874.5 438.1,874.6 439.8,875.4 441.6,875.1 443.3,875 445.1,875.1 446.9,877.1 448.6,878.7 450.4,879.8 453.5,881.2 455.3,881.6 457,882.4 458.8,883 461.5,889.1 463.2,909.4 465,921.8 467.7,934.2 470.3,939.5 473,951.8 474.8,955.9 476.5,960.7 479.1,966 481.8,975.7 483.6,975.9 485.3,976.6 487.5,977.9 489.7,977.4 492.4,981.9 494.2,970.4 495.9,980.1 497.7,995.1 500.3,993.3 503,992.5 504.8,995.2 506.5,996.9 508.2,998.9 510,1001.3 512.7,1014.5 515.3,1013.6 517.1,1014.5 518,1004.8 519.8,997.7 520.6,988.9 522.4,966 524.2,941.2 525.9,934.2 527.7,951.8 528.6,932.4 531.2,928.9 533,920 534.8,920.9 536.6,920.8 538.3,921.3 540.1,921.8 541.9,923.7 543.6,926.2 545.4,925.9 547.1,925.6 548.9,924.5 550.7,924.4 552.4,925.8 554.2,926.2 556,928 557.7,929.8 559.5,931 561.3,932.4 563,943 564.8,958.9 566.6,966 568.4,968.5 570.1,970.4 571.9,972.7 573.6,975.3 575.4,978.3 577.2,978.9 578.9,979.2 580.7,980.1 582.5,981.6 584.2,983.6 586,984.7 587.7,984.4 589.5,985.7 591.2,985.2 593,983.6 594.8,986.4 596.6,988 598.4,987.5 600.1,987.2 602.8,981.9 604.5,976.6 606.2,979.7 608,981.8 609.8,983.3 612.2,982.7 614.6,983.1 617,984.5 619.4,986.4 621.2,986.3 623.1,986.4 625.5,987.4 627.9,988.8 629.7,990.5 631.5,993 634.5,987.6 637.5,988.2 639.9,993 642.3,1002.6 644.7,1009.8 646.5,1010.5 648.3,1010.4 649.5,1002.6 651.4,989.4 652.6,990.6 655,1000.2 657.4,1000.8 659.8,992.4 662.2,996 664,997.2 667,986.4 670,985.7 673,985.1 675.4,990 677.5,989.3 679.6,988.2 681.2,988.4 682.9,987.1 684.5,987.6 687.5,990.6 689.6,989.1 691.7,987.6 693.5,987.7 695.3,988.2 698.3,990.6 700.1,987.8 701.9,986.4 704.9,989.4 706.7,989.6 708.5,988.8 710.4,988 712.2,987 714,985.6 715.8,983.9 717.6,985.2 719.4,985.1 721.2,984 723,983.3 724.8,981.9 726.6,979.1 729.6,976.7 732,980.9 734.1,977.7 736.2,976.1 738,973.2 739.8,968.9 741.6,970.2 743.5,970.7 746.5,965.3 749.5,968.9 751.9,972.6 754.3,977.3 756,983.8 757.6,991.4 760.8,1000.4 762.7,1008.6 764.6,1014.5 767.8,1032.5 768.9,1055.6 769.8,1080 771.1,1062 772.3,1040.2 773.6,1017 774.9,1010 777.5,1013.8 780,1008.1 782.6,1006.1 785.2,1010 788.4,1011.9 790.3,1007.8 792.2,1004.2 794.2,1003.8 796.1,1002.3 798,1003.8 800,1004.8 801.9,1001.4 803.8,997.8 805.7,997.1 807.6,996.5 809.5,999.2 811.5,1002.9 813.5,999.5 815.4,997.1 817.1,995.7 818.8,995.4 820.5,993.9 822.1,994.4 823.7,996.5 825.6,987.5 827.5,986.1 829.5,985.6 831.4,984.5 833.3,983 835.9,986.2 838.5,981.1 840.1,977.2 841.7,973.4 843.6,967.6 846.2,971.5 848.5,970 850.7,968.9 853,969.8 855.2,971.5 857.3,973.5 859.5,976.7 861.6,979.8 863.3,980.2 865,981.3 866.7,982.4 869.3,990.1 871.9,993.9 873.5,997.3 875.1,1001.6 877.6,1013.2 878.9,1027.3 880.2,1037.6 881.5,1094.1 882.8,1040.2 884.1,1032.5 886,1028.6 887.9,1030.5 889.8,1033.7 891.4,1030.5 893,1026 895.6,1019 898.8,1019.6 900.8,1020.9 902.7,1024.1 905.9,1015.8 907.5,1014.6 909.1,1012.6 911.2,1014.8 913.4,1017.4 915,1015.2 916.7,1013.5 919,1009.5 921.2,1006.7 922.9,1009.7 924.6,1013.5 926.9,1007.9 929.1,1002.8 931,999.9 933,998.9 935.3,1004.5 937.2,1001.8 939.2,998.3 940.9,987.1 943.1,979.2 945.4,979.8 947.6,994.9 949.6,988.3 951.6,981.5 954.4,979.2 957.2,982 959.4,987.1 962.2,979.2 963.9,982.6 965.6,986 968.4,994.9 970.7,1007.9 972.9,1005.6 974.6,1014.6 977.4,1025.3 978.5,1017.4 980.8,1020.2 981.9,1010.1 984.2,1018.5 986.4,1030.9 987.5,1043.3 988.1,1073.6 989.8,1072.5 991.5,1066.9 993.1,1052.2 995.4,1059 997.1,1048.9 999.9,1047.2 1002.1,1054.5 1004.9,1054.5 1006.6,1046.6 1009.4,1037.6 1011.1,1035.6 1012.8,1033.7 1015.6,1037.1 1017.9,1030.9 1019.8,1029.1 1021.8,1026.4 1023.5,1029 1025.2,1032 1026.9,1034.3 1029.7,1030.9 1031.7,1028.9 1033.6,1027.5 1035.8,1030.8 1038.1,1032.6 1040.9,1028.7 1043.2,1026.9 1045.4,1025.8 1047.3,1029 1049.3,1033.1 1051.3,1027.7 1053.3,1023 1054.9,1022.3 1056.6,1020.8 1058.8,1023.4 1061.1,1024.7 1063,1022.1 1065,1019.1 1066.6,1013.8 1068.7,1010 1071.4,1008.4 1073,1011.1 1074.1,1003.1 1076.2,998.8 1078.9,996.1 1081,997.8 1083.7,1004.7 1086.3,1002 1088.7,1004.3 1091.1,1004.7 1093.3,1011.6 1094.9,1021.2 1096.5,1016.4 1098.1,1020.2 1099.2,1034 1101.3,1040.4 1104,1040.4 1106.6,1044.2 1108.8,1037.2 1110.4,1036.7 1112,1037.2 1114.6,1035.1 1116.2,1038.5 1117.8,1042.6 1120.5,1034.6 1122.7,1034.9 1124.8,1035.6 1127.4,1034 1130.1,1040.4 1132.2,1034.6 1133.8,1034.6 1135.4,1033.5 1137.2,1035.6 1139,1038.5 1140.8,1041 1143.2,1037.3 1145.6,1034.6 1147.4,1036 1149.3,1037.2 1151.2,1039.5 1153.1,1042.6 1154.9,1041.2 1156.8,1037.2 1158.7,1034.9 1160.5,1031.9 1162.1,1036.2 1163.7,1041 1166.1,1037.9 1168.5,1034 1170.1,1036.1 1171.7,1038.3 1173.3,1036.9 1175,1036.2 1176.5,1023.4 1179.2,1017.5 1181,1017.9 1182.7,1017.1 1184.5,1018 1186.1,1023.4 1188.8,1022.3 1191.5,1031.9 1194.1,1034.6 1195.8,1041.7 1197.4,1047.4 1200,1033 1202.7,1031.9 1204.8,1034.8 1207,1036.7 1209.1,1044.2 1210.7,1041.8 1212.3,1040.4 1214.1,1039.3 1215.8,1037.4 1217.6,1037.2 1220.3,1043.6 1221.9,1038.6 1224.7,1036.7 1226.6,1036.5 1228.4,1035.8 1231.2,1041.4 1233.1,1039.9 1234.9,1038.1 1237.2,1037.9 1239.6,1037.6 1242.4,1045.1 1245.2,1039 1247.1,1038.7 1248.9,1039 1250.8,1039 1252.7,1042.7 1254.6,1047 1256.4,1045.5 1258.3,1044.2 1260.6,1036.2 1263,1037.6 1263.9,1046 1265.8,1050.7 1267.2,1046 1269,1041.8 1270.9,1046 1272.6,1044.8 1274.2,1044.2 1275.6,1035.8 1278.4,1032 1280.2,1030.1 1282.1,1028.8 1283.8,1030.1 1285.4,1032 1287.2,1038.6 1288.6,1041.8 1290.3,1039.6 1292.1,1039.3 1293.8,1038.6 1295.7,1043.2 1297.8,1045.2 1299.9,1046.5 1302.2,1042.3 1304.1,1042.2 1305.9,1040.9 1307.6,1042.7 1309.4,1045 1311.1,1047 1313.1,1045.5 1315.1,1042.2 1317.1,1040.9 1318.8,1042 1320.4,1042.8 1322.3,1049.3 1324.6,1044.2 1326.4,1041.3 1328.3,1040 1330.2,1041.3 1332.1,1042.3 1333.5,1047 1335.6,1043.6 1337.7,1040.4 1339.6,1041.1 1341.4,1041.9 1343.3,1042.8 1346.1,1048.8 1348,1044.2 1349.6,1044.6 1351.2,1043.2" fill="none" stroke="#000" stroke-width="3.5" stroke-linejoin="round" stroke-linecap="round"/></g><path d="M142.7 752.5H1352.6V1140.5H142.7Z" fill="none" stroke="#000" stroke-width="3"/><path d="M125.8 752.5H142.7M133.7 784.8H142.7M125.8 817.2H142.7M133.7 849.5H142.7M125.8 881.9H142.7M133.7 914.2H142.7M125.8 946.5H142.7M133.7 978.9H142.7M125.8 1011.2H142.7M133.7 1043.6H142.7M125.8 1075.9H142.7M133.7 1108.2H142.7M125.8 1140.6H142.7M1336 752.6H1352.6M1343.5 808.2H1352.6M1336 863.8H1352.6M1343.5 919.4H1352.6M1336 975H1352.6M1343.5 1030.6H1352.6M1336 1086.2H1352.6M241.2 1140.5V1156.6M179.4 1140.5V1149.6M364.7 1140.5V1156.6M303 1140.5V1149.6M488.3 1140.5V1156.6M426.5 1140.5V1149.6M611.8 1140.5V1156.6M550 1140.5V1149.6M735.3 1140.5V1156.6M673.5 1140.5V1149.6M858.8 1140.5V1156.6M797.1 1140.5V1149.6M982.4 1140.5V1156.6M920.6 1140.5V1149.6M1105.9 1140.5V1156.6M1044.1 1140.5V1149.6M1229.4 1140.5V1156.6M1167.7 1140.5V1149.6M1353 1140.5V1156.6M1291.2 1140.5V1149.6" stroke="#000" stroke-width="3" fill="none" stroke-linecap="round"/><text x="117" y="761.7" font-size="31.5" text-anchor="end">-10</text><text x="117" y="826.4" font-size="31.5" text-anchor="end">-20</text><text x="117" y="891.1" font-size="31.5" text-anchor="end">-30</text><text x="117" y="955.7" font-size="31.5" text-anchor="end">-40</text><text x="117" y="1020.4" font-size="31.5" text-anchor="end">-50</text><text x="117" y="1085.1" font-size="31.5" text-anchor="end">-60</text><text x="117" y="1149.8" font-size="31.5" text-anchor="end">-70</text><text x="1369.5" y="761.6" font-size="31.5">-20</text><text x="1369.5" y="872.8" font-size="31.5">-40</text><text x="1369.5" y="984" font-size="31.5">-60</text><text x="1369.5" y="1095.2" font-size="31.5">-80</text><text x="241.2" y="1192" font-size="31.5" text-anchor="middle">50</text><text x="364.7" y="1192" font-size="31.5" text-anchor="middle">100</text><text x="488.3" y="1192" font-size="31.5" text-anchor="middle">150</text><text x="611.8" y="1192" font-size="31.5" text-anchor="middle">200</text><text x="735.3" y="1192" font-size="31.5" text-anchor="middle">250</text><text x="858.8" y="1192" font-size="31.5" text-anchor="middle">300</text><text x="982.4" y="1192" font-size="31.5" text-anchor="middle">350</text><text x="1105.9" y="1192" font-size="31.5" text-anchor="middle">400</text><text x="1229.4" y="1192" font-size="31.5" text-anchor="middle">450</text><text x="1353" y="1192" font-size="31.5" text-anchor="middle">500</text><text x="600" y="1237.3" font-size="38.6">Frequency (MHz)</text><text transform="translate(32.5,1018) rotate(-90)" font-size="40">S</text><text transform="translate(45,991.5) rotate(-90)" font-size="23.3" textLength="20.5" lengthAdjust="spacingAndGlyphs">21</text><text transform="translate(32.7,955.5) rotate(-90)" font-size="39.3">(dB)</text><text transform="translate(1467.3,1068.8) rotate(-90)" font-size="39.3">PSD (dBm)</text><line x1="791.3" y1="794.7" x2="880.1" y2="794.7" stroke="#000" stroke-width="3.3" stroke-linecap="round"/><line x1="788.3" y1="858.7" x2="877.4" y2="858.7" stroke="#ec1c24" stroke-width="3.3" stroke-linecap="round"/><text x="889.7" y="807.8" font-size="38.6">VNA</text><text x="885.5" y="872" font-size="39.3">SA (Modulation off)</text><text x="1257" y="811.8" font-size="50">b</text></svg></body></html>
